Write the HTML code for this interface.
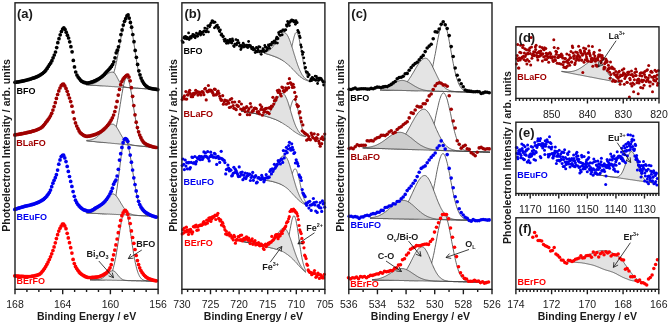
<!DOCTYPE html>
<html><head><meta charset="utf-8"><style>
html,body{margin:0;padding:0;background:#fff;}
svg{display:block;will-change:transform;}
</style></head><body>
<svg width="669" height="325" viewBox="0 0 669 325" font-family='"Liberation Sans", sans-serif'>
<rect width="669" height="325" fill="#fff"/>
<polyline points="86.0,84.8 86.5,84.8 86.9,84.9 87.4,84.9 87.8,84.9 88.3,85.0 88.7,85.0 89.2,85.0 89.6,85.0 90.1,85.1 90.5,85.1 91.0,85.1 91.4,85.2 91.9,85.2 92.3,85.2 92.8,85.3 93.2,85.3 93.7,85.3 94.2,85.3 94.6,85.4 95.1,85.4 95.5,85.4 96.0,85.5 96.4,85.5 96.9,85.5 97.3,85.5 97.8,85.6 98.2,85.6 98.7,85.6 99.1,85.6 99.6,85.6 100.0,85.6 100.5,85.6 100.9,85.6 101.4,85.6 101.8,85.6 102.3,85.6 102.8,85.6 103.2,85.5 103.7,85.5 104.1,85.4 104.6,85.3 105.0,85.2 105.5,85.1 105.9,84.9 106.4,84.7 106.8,84.5 107.3,84.2 107.7,83.9 108.2,83.5 108.6,83.1 109.1,82.6 109.5,82.1 110.0,81.4 110.5,80.7 110.9,80.0 111.4,79.1 111.8,78.1 112.3,77.1 112.7,75.9 113.2,74.7 113.6,73.3 114.1,71.8 114.5,70.2 115.0,68.5 115.4,66.6 115.9,64.7 116.3,62.6 116.8,60.5 117.2,58.2 117.7,55.9 118.2,53.5 118.6,51.0 119.1,48.5 119.5,45.9 120.0,43.3 120.4,40.7 120.9,38.2 121.3,35.6 121.8,33.1 122.2,30.7 122.7,28.5 123.1,26.3 123.6,24.2 124.0,22.4 124.5,20.7 124.9,19.2 125.4,17.9 125.8,16.9 126.3,16.0 126.8,15.5 127.2,15.1 127.7,15.1 128.1,15.3 128.6,16.0 129.0,16.9 129.5,18.2 129.9,19.9 130.4,21.8 130.8,24.0 131.3,26.4 131.7,29.0 132.2,31.8 132.6,34.7 133.1,37.8 133.5,40.9 134.0,44.0 134.5,47.2 134.9,50.3 135.4,53.3 135.8,56.3 136.3,59.2 136.7,61.9 137.2,64.5 137.6,67.0 138.1,69.3 138.5,71.4 139.0,73.4 139.4,75.2 139.9,76.9 140.3,78.4 140.8,79.8 141.2,81.0 141.7,82.1 142.2,83.1 142.6,83.9 143.1,84.7 143.5,85.3 144.0,85.9 144.4,86.4 144.9,86.8 145.3,87.2 145.8,87.5 146.2,87.8 146.7,88.0 147.1,88.2 147.6,88.4 148.0,88.5 148.5,88.6 148.9,88.7 149.4,88.8 149.8,88.9 150.3,89.0 150.8,89.0 151.2,89.1 151.7,89.1 152.1,89.2 152.6,89.2 153.0,89.2 153.5,89.3 153.9,89.3 154.4,89.3 154.8,89.4 155.3,89.4 155.7,89.4 156.2,89.5 156.6,89.5 157.1,89.5 157.5,89.6 158.0,89.6" fill="none" stroke="#404040" stroke-width="0.8"/>
<polygon points="86.0,84.5 86.5,84.5 86.9,84.5 87.4,84.5 87.8,84.5 88.3,84.4 88.7,84.4 89.2,84.4 89.6,84.3 90.1,84.2 90.5,84.2 91.0,84.1 91.4,84.0 91.9,83.9 92.3,83.8 92.8,83.7 93.2,83.5 93.7,83.4 94.2,83.2 94.6,83.1 95.1,82.9 95.5,82.7 96.0,82.4 96.4,82.2 96.9,82.0 97.3,81.7 97.8,81.4 98.2,81.1 98.7,80.8 99.1,80.5 99.6,80.2 100.0,79.9 100.5,79.5 100.9,79.1 101.4,78.8 101.8,78.4 102.3,78.0 102.8,77.6 103.2,77.2 103.7,76.8 104.1,76.5 104.6,76.1 105.0,75.7 105.5,75.3 105.9,75.0 106.4,74.6 106.8,74.3 107.3,74.0 107.7,73.7 108.2,73.4 108.6,73.1 109.1,72.9 109.5,72.7 110.0,72.5 110.5,72.4 110.9,72.2 111.4,72.2 111.8,72.1 112.3,72.1 112.7,72.1 113.2,72.2 113.6,72.4 114.1,72.7 114.5,73.1 115.0,73.7 115.4,74.4 115.9,75.1 116.3,75.9 116.8,76.7 117.2,77.6 117.7,78.5 118.2,79.4 118.6,80.2 119.1,81.0 119.5,81.8 120.0,82.5 120.4,83.2 120.9,83.8 121.3,84.4 121.8,84.8 122.2,85.3 122.7,85.7 123.1,86.0 123.6,86.3 124.0,86.5 124.5,86.7 124.9,86.9 125.4,87.0 125.8,87.1 126.3,87.3 126.8,87.3 127.2,87.4 127.7,87.5 128.1,87.5 128.6,87.6 129.0,87.6 129.5,87.7 129.9,87.7 130.4,87.7 130.8,87.8 131.3,87.8 131.7,87.8 132.2,87.9 132.6,87.9 133.1,87.9 133.5,88.0 134.0,88.0 134.5,88.0 134.9,88.1 135.4,88.1 135.8,88.1 136.3,88.2 136.7,88.2 137.2,88.2 137.6,88.2 138.1,88.3 138.5,88.3 139.0,88.3 139.4,88.4 139.9,88.4 140.3,88.4 140.8,88.5 141.2,88.5 141.7,88.5 142.2,88.5 142.6,88.6 143.1,88.6 143.5,88.6 144.0,88.7 144.4,88.7 144.9,88.7 145.3,88.8 145.8,88.8 146.2,88.8 146.7,88.8 147.1,88.9 147.6,88.9 148.0,88.9 148.5,89.0 148.9,89.0 149.4,89.0 149.8,89.1 150.3,89.1 150.8,89.1 151.2,89.1 151.7,89.2 152.1,89.2 152.6,89.2 153.0,89.3 153.5,89.3 153.9,89.3 154.4,89.4 154.8,89.4 155.3,89.4 155.7,89.4 156.2,89.5 156.6,89.5 157.1,89.5 157.5,89.6 158.0,89.6 158.0,89.6 157.5,89.6 157.1,89.5 156.6,89.5 156.2,89.5 155.7,89.4 155.3,89.4 154.8,89.4 154.4,89.4 153.9,89.3 153.5,89.3 153.0,89.3 152.6,89.2 152.1,89.2 151.7,89.2 151.2,89.1 150.8,89.1 150.3,89.1 149.8,89.1 149.4,89.0 148.9,89.0 148.5,89.0 148.0,88.9 147.6,88.9 147.1,88.9 146.7,88.8 146.2,88.8 145.8,88.8 145.3,88.8 144.9,88.7 144.4,88.7 144.0,88.7 143.5,88.6 143.1,88.6 142.6,88.6 142.2,88.5 141.7,88.5 141.2,88.5 140.8,88.5 140.3,88.4 139.9,88.4 139.4,88.4 139.0,88.3 138.5,88.3 138.1,88.3 137.6,88.2 137.2,88.2 136.7,88.2 136.3,88.2 135.8,88.1 135.4,88.1 134.9,88.1 134.5,88.0 134.0,88.0 133.5,88.0 133.1,87.9 132.6,87.9 132.2,87.9 131.7,87.8 131.3,87.8 130.8,87.8 130.4,87.8 129.9,87.7 129.5,87.7 129.0,87.7 128.6,87.6 128.1,87.6 127.7,87.6 127.2,87.5 126.8,87.5 126.3,87.5 125.8,87.5 125.4,87.4 124.9,87.4 124.5,87.4 124.0,87.3 123.6,87.3 123.1,87.3 122.7,87.2 122.2,87.2 121.8,87.2 121.3,87.2 120.9,87.1 120.4,87.1 120.0,87.1 119.5,87.0 119.1,87.0 118.6,87.0 118.2,86.9 117.7,86.9 117.2,86.9 116.8,86.9 116.3,86.8 115.9,86.8 115.4,86.8 115.0,86.7 114.5,86.7 114.1,86.7 113.6,86.6 113.2,86.6 112.7,86.6 112.3,86.6 111.8,86.5 111.4,86.5 110.9,86.5 110.5,86.4 110.0,86.4 109.5,86.4 109.1,86.3 108.6,86.3 108.2,86.3 107.7,86.2 107.3,86.2 106.8,86.2 106.4,86.2 105.9,86.1 105.5,86.1 105.0,86.1 104.6,86.0 104.1,86.0 103.7,86.0 103.2,85.9 102.8,85.9 102.3,85.9 101.8,85.9 101.4,85.8 100.9,85.8 100.5,85.8 100.0,85.7 99.6,85.7 99.1,85.7 98.7,85.6 98.2,85.6 97.8,85.6 97.3,85.6 96.9,85.5 96.4,85.5 96.0,85.5 95.5,85.4 95.1,85.4 94.6,85.4 94.2,85.3 93.7,85.3 93.2,85.3 92.8,85.3 92.3,85.2 91.9,85.2 91.4,85.2 91.0,85.1 90.5,85.1 90.1,85.1 89.6,85.0 89.2,85.0 88.7,85.0 88.3,85.0 87.8,84.9 87.4,84.9 86.9,84.9 86.5,84.8 86.0,84.8" fill="#e2e2e2" stroke="none"/>
<polyline points="86.0,84.5 86.5,84.5 86.9,84.5 87.4,84.5 87.8,84.5 88.3,84.4 88.7,84.4 89.2,84.4 89.6,84.3 90.1,84.2 90.5,84.2 91.0,84.1 91.4,84.0 91.9,83.9 92.3,83.8 92.8,83.7 93.2,83.5 93.7,83.4 94.2,83.2 94.6,83.1 95.1,82.9 95.5,82.7 96.0,82.4 96.4,82.2 96.9,82.0 97.3,81.7 97.8,81.4 98.2,81.1 98.7,80.8 99.1,80.5 99.6,80.2 100.0,79.9 100.5,79.5 100.9,79.1 101.4,78.8 101.8,78.4 102.3,78.0 102.8,77.6 103.2,77.2 103.7,76.8 104.1,76.5 104.6,76.1 105.0,75.7 105.5,75.3 105.9,75.0 106.4,74.6 106.8,74.3 107.3,74.0 107.7,73.7 108.2,73.4 108.6,73.1 109.1,72.9 109.5,72.7 110.0,72.5 110.5,72.4 110.9,72.2 111.4,72.2 111.8,72.1 112.3,72.1 112.7,72.1 113.2,72.2 113.6,72.4 114.1,72.7 114.5,73.1 115.0,73.7 115.4,74.4 115.9,75.1 116.3,75.9 116.8,76.7 117.2,77.6 117.7,78.5 118.2,79.4 118.6,80.2 119.1,81.0 119.5,81.8 120.0,82.5 120.4,83.2 120.9,83.8 121.3,84.4 121.8,84.8 122.2,85.3 122.7,85.7 123.1,86.0 123.6,86.3 124.0,86.5 124.5,86.7 124.9,86.9 125.4,87.0 125.8,87.1 126.3,87.3 126.8,87.3 127.2,87.4 127.7,87.5 128.1,87.5 128.6,87.6 129.0,87.6 129.5,87.7 129.9,87.7 130.4,87.7 130.8,87.8 131.3,87.8 131.7,87.8 132.2,87.9 132.6,87.9 133.1,87.9 133.5,88.0 134.0,88.0 134.5,88.0 134.9,88.1 135.4,88.1 135.8,88.1 136.3,88.2 136.7,88.2 137.2,88.2 137.6,88.2 138.1,88.3 138.5,88.3 139.0,88.3 139.4,88.4 139.9,88.4 140.3,88.4 140.8,88.5 141.2,88.5 141.7,88.5 142.2,88.5 142.6,88.6 143.1,88.6 143.5,88.6 144.0,88.7 144.4,88.7 144.9,88.7 145.3,88.8 145.8,88.8 146.2,88.8 146.7,88.8 147.1,88.9 147.6,88.9 148.0,88.9 148.5,89.0 148.9,89.0 149.4,89.0 149.8,89.1 150.3,89.1 150.8,89.1 151.2,89.1 151.7,89.2 152.1,89.2 152.6,89.2 153.0,89.3 153.5,89.3 153.9,89.3 154.4,89.4 154.8,89.4 155.3,89.4 155.7,89.4 156.2,89.5 156.6,89.5 157.1,89.5 157.5,89.6 158.0,89.6" fill="none" stroke="#404040" stroke-width="0.8"/>
<polyline points="86.0,84.8 86.5,84.8 86.9,84.9 87.4,84.9 87.8,84.9 88.3,85.0 88.7,85.0 89.2,85.0 89.6,85.0 90.1,85.1 90.5,85.1 91.0,85.1 91.4,85.2 91.9,85.2 92.3,85.2 92.8,85.3 93.2,85.3 93.7,85.3 94.2,85.3 94.6,85.4 95.1,85.4 95.5,85.4 96.0,85.5 96.4,85.5 96.9,85.5 97.3,85.6 97.8,85.6 98.2,85.6 98.7,85.6 99.1,85.7 99.6,85.7 100.0,85.7 100.5,85.8 100.9,85.8 101.4,85.8 101.8,85.9 102.3,85.9 102.8,85.9 103.2,85.9 103.7,86.0 104.1,86.0 104.6,86.0 105.0,86.1 105.5,86.1 105.9,86.1 106.4,86.2 106.8,86.2 107.3,86.2 107.7,86.2 108.2,86.3 108.6,86.3 109.1,86.3 109.5,86.4 110.0,86.4 110.5,86.4 110.9,86.5 111.4,86.5 111.8,86.5 112.3,86.6 112.7,86.6 113.2,86.6 113.6,86.6 114.1,86.7 114.5,86.7 115.0,86.7 115.4,86.8 115.9,86.8 116.3,86.8 116.8,86.9 117.2,86.9 117.7,86.9 118.2,86.9 118.6,87.0 119.1,87.0 119.5,87.0 120.0,87.1 120.4,87.1 120.9,87.1 121.3,87.2 121.8,87.2 122.2,87.2 122.7,87.2 123.1,87.3 123.6,87.3 124.0,87.3 124.5,87.4 124.9,87.4 125.4,87.4 125.8,87.5 126.3,87.5 126.8,87.5 127.2,87.5 127.7,87.6 128.1,87.6 128.6,87.6 129.0,87.7 129.5,87.7 129.9,87.7 130.4,87.8 130.8,87.8 131.3,87.8 131.7,87.8 132.2,87.9 132.6,87.9 133.1,87.9 133.5,88.0 134.0,88.0 134.5,88.0 134.9,88.1 135.4,88.1 135.8,88.1 136.3,88.2 136.7,88.2 137.2,88.2 137.6,88.2 138.1,88.3 138.5,88.3 139.0,88.3 139.4,88.4 139.9,88.4 140.3,88.4 140.8,88.5 141.2,88.5 141.7,88.5 142.2,88.5 142.6,88.6 143.1,88.6 143.5,88.6 144.0,88.7 144.4,88.7 144.9,88.7 145.3,88.8 145.8,88.8 146.2,88.8 146.7,88.8 147.1,88.9 147.6,88.9 148.0,88.9 148.5,89.0 148.9,89.0 149.4,89.0 149.8,89.1 150.3,89.1 150.8,89.1 151.2,89.1 151.7,89.2 152.1,89.2 152.6,89.2 153.0,89.3 153.5,89.3 153.9,89.3 154.4,89.4 154.8,89.4 155.3,89.4 155.7,89.4 156.2,89.5 156.6,89.5 157.1,89.5 157.5,89.6 158.0,89.6" fill="none" stroke="#404040" stroke-width="0.8"/>
<polyline points="86.5,140.8 86.9,140.8 87.4,140.9 87.8,140.9 88.3,141.0 88.7,141.0 89.2,141.1 89.6,141.1 90.1,141.2 90.5,141.2 91.0,141.2 91.4,141.3 91.9,141.3 92.3,141.4 92.8,141.4 93.2,141.5 93.7,141.5 94.1,141.5 94.6,141.6 95.0,141.6 95.5,141.7 95.9,141.7 96.4,141.8 96.8,141.8 97.3,141.9 97.7,141.9 98.2,141.9 98.6,142.0 99.1,142.0 99.5,142.1 100.0,142.1 100.4,142.2 100.9,142.2 101.3,142.2 101.8,142.3 102.2,142.3 102.7,142.3 103.1,142.4 103.6,142.4 104.0,142.4 104.5,142.4 104.9,142.4 105.4,142.4 105.8,142.4 106.3,142.3 106.7,142.3 107.2,142.2 107.6,142.1 108.1,142.0 108.5,141.8 109.0,141.6 109.4,141.4 109.9,141.1 110.3,140.7 110.8,140.3 111.2,139.7 111.7,139.1 112.1,138.5 112.6,137.7 113.0,136.8 113.5,135.8 113.9,134.6 114.4,133.3 114.8,131.9 115.3,130.4 115.7,128.7 116.2,126.8 116.6,124.8 117.1,122.7 117.5,120.4 118.0,118.0 118.4,115.5 118.9,112.8 119.3,110.1 119.8,107.4 120.2,104.6 120.7,101.8 121.1,99.0 121.6,96.2 122.0,93.6 122.5,91.0 122.9,88.6 123.4,86.4 123.8,84.3 124.3,82.5 124.7,81.0 125.2,79.7 125.6,78.8 126.1,78.1 126.5,77.8 127.0,77.8 127.4,78.1 127.9,78.8 128.3,79.8 128.8,81.0 129.2,82.6 129.7,84.4 130.1,86.5 130.6,88.8 131.0,91.2 131.5,93.9 131.9,96.6 132.4,99.4 132.8,102.3 133.3,105.2 133.7,108.1 134.2,110.9 134.6,113.7 135.1,116.5 135.5,119.1 136.0,121.6 136.4,124.0 136.9,126.3 137.3,128.4 137.8,130.4 138.2,132.2 138.7,133.9 139.1,135.4 139.6,136.8 140.0,138.1 140.5,139.2 140.9,140.2 141.4,141.1 141.8,141.9 142.3,142.6 142.7,143.3 143.2,143.8 143.6,144.3 144.1,144.7 144.5,145.0 145.0,145.3 145.4,145.6 145.9,145.8 146.3,146.0 146.8,146.2 147.2,146.3 147.7,146.5 148.1,146.6 148.6,146.7 149.0,146.8 149.5,146.8 149.9,146.9 150.4,147.0 150.8,147.0 151.3,147.1 151.7,147.1 152.2,147.2 152.6,147.3 153.1,147.3 153.5,147.3 154.0,147.4 154.4,147.4 154.9,147.5 155.3,147.5 155.8,147.6 156.2,147.6 156.7,147.7 157.1,147.7 157.6,147.8 158.0,147.8" fill="none" stroke="#404040" stroke-width="0.8"/>
<polygon points="86.5,140.4 86.9,140.3 87.4,140.3 87.8,140.3 88.3,140.3 88.7,140.2 89.2,140.2 89.6,140.1 90.1,140.0 90.5,139.9 91.0,139.8 91.4,139.7 91.9,139.6 92.3,139.4 92.8,139.3 93.2,139.1 93.7,138.9 94.1,138.7 94.6,138.5 95.0,138.2 95.5,138.0 95.9,137.7 96.4,137.4 96.8,137.1 97.3,136.7 97.7,136.4 98.2,136.0 98.6,135.6 99.1,135.2 99.5,134.8 100.0,134.3 100.4,133.9 100.9,133.4 101.3,133.0 101.8,132.5 102.2,132.0 102.7,131.5 103.1,131.0 103.6,130.5 104.0,130.0 104.5,129.5 104.9,129.0 105.4,128.5 105.8,128.0 106.3,127.6 106.7,127.2 107.2,126.7 107.6,126.3 108.1,126.0 108.5,125.6 109.0,125.3 109.4,125.1 109.9,124.8 110.3,124.6 110.8,124.4 111.2,124.3 111.7,124.2 112.1,124.2 112.6,124.2 113.0,124.2 113.5,124.3 113.9,124.5 114.4,124.8 114.8,125.1 115.3,125.6 115.7,126.1 116.2,126.6 116.6,127.2 117.1,127.9 117.5,128.6 118.0,129.4 118.4,130.1 118.9,130.9 119.3,131.7 119.8,132.5 120.2,133.4 120.7,134.2 121.1,135.0 121.6,135.7 122.0,136.5 122.5,137.2 122.9,137.9 123.4,138.5 123.8,139.2 124.3,139.8 124.7,140.3 125.2,140.8 125.6,141.3 126.1,141.7 126.5,142.1 127.0,142.5 127.4,142.8 127.9,143.1 128.3,143.4 128.8,143.7 129.2,143.9 129.7,144.1 130.1,144.3 130.6,144.5 131.0,144.6 131.5,144.7 131.9,144.9 132.4,145.0 132.8,145.1 133.3,145.2 133.7,145.2 134.2,145.3 134.6,145.4 135.1,145.5 135.5,145.5 136.0,145.6 136.4,145.6 136.9,145.7 137.3,145.7 137.8,145.8 138.2,145.8 138.7,145.9 139.1,145.9 139.6,146.0 140.0,146.0 140.5,146.1 140.9,146.1 141.4,146.2 141.8,146.2 142.3,146.3 142.7,146.3 143.2,146.3 143.6,146.4 144.1,146.4 144.5,146.5 145.0,146.5 145.4,146.6 145.9,146.6 146.3,146.7 146.8,146.7 147.2,146.7 147.7,146.8 148.1,146.8 148.6,146.9 149.0,146.9 149.5,147.0 149.9,147.0 150.4,147.1 150.8,147.1 151.3,147.1 151.7,147.2 152.2,147.2 152.6,147.3 153.1,147.3 153.5,147.4 154.0,147.4 154.4,147.4 154.9,147.5 155.3,147.5 155.8,147.6 156.2,147.6 156.7,147.7 157.1,147.7 157.6,147.8 158.0,147.8 158.0,147.8 157.6,147.8 157.1,147.7 156.7,147.7 156.2,147.6 155.8,147.6 155.3,147.5 154.9,147.5 154.4,147.4 154.0,147.4 153.5,147.4 153.1,147.3 152.6,147.3 152.2,147.2 151.7,147.2 151.3,147.1 150.8,147.1 150.4,147.1 149.9,147.0 149.5,147.0 149.0,146.9 148.6,146.9 148.1,146.8 147.7,146.8 147.2,146.7 146.8,146.7 146.3,146.7 145.9,146.6 145.4,146.6 145.0,146.5 144.5,146.5 144.1,146.4 143.6,146.4 143.2,146.3 142.7,146.3 142.3,146.3 141.8,146.2 141.4,146.2 140.9,146.1 140.5,146.1 140.0,146.0 139.6,146.0 139.1,146.0 138.7,145.9 138.2,145.9 137.8,145.8 137.3,145.8 136.9,145.7 136.4,145.7 136.0,145.6 135.5,145.6 135.1,145.6 134.6,145.5 134.2,145.5 133.7,145.4 133.3,145.4 132.8,145.3 132.4,145.3 131.9,145.2 131.5,145.2 131.0,145.2 130.6,145.1 130.1,145.1 129.7,145.0 129.2,145.0 128.8,144.9 128.3,144.9 127.9,144.9 127.4,144.8 127.0,144.8 126.5,144.7 126.1,144.7 125.6,144.6 125.2,144.6 124.7,144.5 124.3,144.5 123.8,144.5 123.4,144.4 122.9,144.4 122.5,144.3 122.0,144.3 121.6,144.2 121.1,144.2 120.7,144.1 120.2,144.1 119.8,144.1 119.3,144.0 118.9,144.0 118.4,143.9 118.0,143.9 117.5,143.8 117.1,143.8 116.6,143.7 116.2,143.7 115.7,143.7 115.3,143.6 114.8,143.6 114.4,143.5 113.9,143.5 113.5,143.4 113.0,143.4 112.6,143.4 112.1,143.3 111.7,143.3 111.2,143.2 110.8,143.2 110.3,143.1 109.9,143.1 109.4,143.0 109.0,143.0 108.5,143.0 108.1,142.9 107.6,142.9 107.2,142.8 106.7,142.8 106.3,142.7 105.8,142.7 105.4,142.6 104.9,142.6 104.5,142.6 104.0,142.5 103.6,142.5 103.1,142.4 102.7,142.4 102.2,142.3 101.8,142.3 101.3,142.3 100.9,142.2 100.4,142.2 100.0,142.1 99.5,142.1 99.1,142.0 98.6,142.0 98.2,141.9 97.7,141.9 97.3,141.9 96.8,141.8 96.4,141.8 95.9,141.7 95.5,141.7 95.0,141.6 94.6,141.6 94.1,141.5 93.7,141.5 93.2,141.5 92.8,141.4 92.3,141.4 91.9,141.3 91.4,141.3 91.0,141.2 90.5,141.2 90.1,141.2 89.6,141.1 89.2,141.1 88.7,141.0 88.3,141.0 87.8,140.9 87.4,140.9 86.9,140.8 86.5,140.8" fill="#e2e2e2" stroke="none"/>
<polyline points="86.5,140.4 86.9,140.3 87.4,140.3 87.8,140.3 88.3,140.3 88.7,140.2 89.2,140.2 89.6,140.1 90.1,140.0 90.5,139.9 91.0,139.8 91.4,139.7 91.9,139.6 92.3,139.4 92.8,139.3 93.2,139.1 93.7,138.9 94.1,138.7 94.6,138.5 95.0,138.2 95.5,138.0 95.9,137.7 96.4,137.4 96.8,137.1 97.3,136.7 97.7,136.4 98.2,136.0 98.6,135.6 99.1,135.2 99.5,134.8 100.0,134.3 100.4,133.9 100.9,133.4 101.3,133.0 101.8,132.5 102.2,132.0 102.7,131.5 103.1,131.0 103.6,130.5 104.0,130.0 104.5,129.5 104.9,129.0 105.4,128.5 105.8,128.0 106.3,127.6 106.7,127.2 107.2,126.7 107.6,126.3 108.1,126.0 108.5,125.6 109.0,125.3 109.4,125.1 109.9,124.8 110.3,124.6 110.8,124.4 111.2,124.3 111.7,124.2 112.1,124.2 112.6,124.2 113.0,124.2 113.5,124.3 113.9,124.5 114.4,124.8 114.8,125.1 115.3,125.6 115.7,126.1 116.2,126.6 116.6,127.2 117.1,127.9 117.5,128.6 118.0,129.4 118.4,130.1 118.9,130.9 119.3,131.7 119.8,132.5 120.2,133.4 120.7,134.2 121.1,135.0 121.6,135.7 122.0,136.5 122.5,137.2 122.9,137.9 123.4,138.5 123.8,139.2 124.3,139.8 124.7,140.3 125.2,140.8 125.6,141.3 126.1,141.7 126.5,142.1 127.0,142.5 127.4,142.8 127.9,143.1 128.3,143.4 128.8,143.7 129.2,143.9 129.7,144.1 130.1,144.3 130.6,144.5 131.0,144.6 131.5,144.7 131.9,144.9 132.4,145.0 132.8,145.1 133.3,145.2 133.7,145.2 134.2,145.3 134.6,145.4 135.1,145.5 135.5,145.5 136.0,145.6 136.4,145.6 136.9,145.7 137.3,145.7 137.8,145.8 138.2,145.8 138.7,145.9 139.1,145.9 139.6,146.0 140.0,146.0 140.5,146.1 140.9,146.1 141.4,146.2 141.8,146.2 142.3,146.3 142.7,146.3 143.2,146.3 143.6,146.4 144.1,146.4 144.5,146.5 145.0,146.5 145.4,146.6 145.9,146.6 146.3,146.7 146.8,146.7 147.2,146.7 147.7,146.8 148.1,146.8 148.6,146.9 149.0,146.9 149.5,147.0 149.9,147.0 150.4,147.1 150.8,147.1 151.3,147.1 151.7,147.2 152.2,147.2 152.6,147.3 153.1,147.3 153.5,147.4 154.0,147.4 154.4,147.4 154.9,147.5 155.3,147.5 155.8,147.6 156.2,147.6 156.7,147.7 157.1,147.7 157.6,147.8 158.0,147.8" fill="none" stroke="#404040" stroke-width="0.8"/>
<polyline points="86.5,140.8 86.9,140.8 87.4,140.9 87.8,140.9 88.3,141.0 88.7,141.0 89.2,141.1 89.6,141.1 90.1,141.2 90.5,141.2 91.0,141.2 91.4,141.3 91.9,141.3 92.3,141.4 92.8,141.4 93.2,141.5 93.7,141.5 94.1,141.5 94.6,141.6 95.0,141.6 95.5,141.7 95.9,141.7 96.4,141.8 96.8,141.8 97.3,141.9 97.7,141.9 98.2,141.9 98.6,142.0 99.1,142.0 99.5,142.1 100.0,142.1 100.4,142.2 100.9,142.2 101.3,142.3 101.8,142.3 102.2,142.3 102.7,142.4 103.1,142.4 103.6,142.5 104.0,142.5 104.5,142.6 104.9,142.6 105.4,142.6 105.8,142.7 106.3,142.7 106.7,142.8 107.2,142.8 107.6,142.9 108.1,142.9 108.5,143.0 109.0,143.0 109.4,143.0 109.9,143.1 110.3,143.1 110.8,143.2 111.2,143.2 111.7,143.3 112.1,143.3 112.6,143.4 113.0,143.4 113.5,143.4 113.9,143.5 114.4,143.5 114.8,143.6 115.3,143.6 115.7,143.7 116.2,143.7 116.6,143.7 117.1,143.8 117.5,143.8 118.0,143.9 118.4,143.9 118.9,144.0 119.3,144.0 119.8,144.1 120.2,144.1 120.7,144.1 121.1,144.2 121.6,144.2 122.0,144.3 122.5,144.3 122.9,144.4 123.4,144.4 123.8,144.5 124.3,144.5 124.7,144.5 125.2,144.6 125.6,144.6 126.1,144.7 126.5,144.7 127.0,144.8 127.4,144.8 127.9,144.9 128.3,144.9 128.8,144.9 129.2,145.0 129.7,145.0 130.1,145.1 130.6,145.1 131.0,145.2 131.5,145.2 131.9,145.2 132.4,145.3 132.8,145.3 133.3,145.4 133.7,145.4 134.2,145.5 134.6,145.5 135.1,145.6 135.5,145.6 136.0,145.6 136.4,145.7 136.9,145.7 137.3,145.8 137.8,145.8 138.2,145.9 138.7,145.9 139.1,146.0 139.6,146.0 140.0,146.0 140.5,146.1 140.9,146.1 141.4,146.2 141.8,146.2 142.3,146.3 142.7,146.3 143.2,146.3 143.6,146.4 144.1,146.4 144.5,146.5 145.0,146.5 145.4,146.6 145.9,146.6 146.3,146.7 146.8,146.7 147.2,146.7 147.7,146.8 148.1,146.8 148.6,146.9 149.0,146.9 149.5,147.0 149.9,147.0 150.4,147.1 150.8,147.1 151.3,147.1 151.7,147.2 152.2,147.2 152.6,147.3 153.1,147.3 153.5,147.4 154.0,147.4 154.4,147.4 154.9,147.5 155.3,147.5 155.8,147.6 156.2,147.6 156.7,147.7 157.1,147.7 157.6,147.8 158.0,147.8" fill="none" stroke="#404040" stroke-width="0.8"/>
<polyline points="86.5,213.0 86.9,213.0 87.4,213.0 87.8,213.1 88.3,213.1 88.7,213.1 89.2,213.1 89.6,213.2 90.1,213.2 90.5,213.2 91.0,213.2 91.4,213.2 91.9,213.3 92.3,213.3 92.8,213.3 93.2,213.3 93.7,213.4 94.1,213.4 94.6,213.4 95.0,213.4 95.5,213.4 95.9,213.5 96.4,213.5 96.8,213.5 97.3,213.5 97.7,213.5 98.2,213.6 98.6,213.6 99.1,213.6 99.5,213.6 100.0,213.7 100.4,213.7 100.9,213.7 101.3,213.7 101.8,213.7 102.2,213.8 102.7,213.8 103.1,213.8 103.6,213.8 104.0,213.8 104.5,213.8 104.9,213.8 105.4,213.8 105.8,213.8 106.3,213.7 106.7,213.7 107.2,213.6 107.6,213.5 108.1,213.3 108.5,213.2 109.0,213.0 109.4,212.7 109.9,212.4 110.3,211.9 110.8,211.4 111.2,210.8 111.7,210.1 112.1,209.3 112.6,208.3 113.0,207.2 113.5,205.9 113.9,204.4 114.4,202.7 114.8,200.8 115.3,198.7 115.7,196.4 116.2,193.8 116.6,191.1 117.1,188.1 117.5,185.0 118.0,181.7 118.4,178.2 118.9,174.7 119.3,171.0 119.8,167.4 120.2,163.8 120.7,160.2 121.1,156.8 121.6,153.5 122.0,150.4 122.5,147.7 122.9,145.3 123.4,143.2 123.8,141.6 124.3,140.4 124.7,139.6 125.2,139.4 125.6,139.5 126.1,140.0 126.5,140.7 127.0,141.7 127.4,143.0 127.9,144.5 128.3,146.3 128.8,148.3 129.2,150.5 129.7,152.8 130.1,155.4 130.6,158.0 131.0,160.7 131.5,163.5 131.9,166.4 132.4,169.2 132.8,172.1 133.3,175.0 133.7,177.8 134.2,180.6 134.6,183.3 135.1,185.9 135.5,188.3 136.0,190.7 136.4,193.0 136.9,195.1 137.3,197.2 137.8,199.0 138.2,200.8 138.7,202.4 139.1,203.9 139.6,205.3 140.0,206.5 140.5,207.7 140.9,208.7 141.4,209.6 141.8,210.4 142.3,211.2 142.7,211.8 143.2,212.4 143.6,212.9 144.1,213.4 144.5,213.8 145.0,214.1 145.4,214.4 145.9,214.7 146.3,214.9 146.8,215.1 147.2,215.3 147.7,215.4 148.1,215.5 148.6,215.6 149.0,215.7 149.5,215.8 149.9,215.9 150.4,216.0 150.8,216.0 151.3,216.1 151.7,216.1 152.2,216.1 152.6,216.2 153.1,216.2 153.5,216.2 154.0,216.3 154.4,216.3 154.9,216.3 155.3,216.4 155.8,216.4 156.2,216.4 156.7,216.4 157.1,216.5 157.6,216.5 158.0,216.5" fill="none" stroke="#404040" stroke-width="0.8"/>
<polygon points="86.5,212.7 86.9,212.7 87.4,212.7 87.8,212.6 88.3,212.6 88.7,212.6 89.2,212.5 89.6,212.4 90.1,212.4 90.5,212.3 91.0,212.2 91.4,212.1 91.9,211.9 92.3,211.8 92.8,211.6 93.2,211.5 93.7,211.3 94.1,211.0 94.6,210.8 95.0,210.6 95.5,210.3 95.9,210.0 96.4,209.7 96.8,209.4 97.3,209.0 97.7,208.6 98.2,208.2 98.6,207.8 99.1,207.3 99.5,206.9 100.0,206.4 100.4,205.9 100.9,205.3 101.3,204.8 101.8,204.2 102.2,203.7 102.7,203.1 103.1,202.5 103.6,201.9 104.0,201.3 104.5,200.7 104.9,200.1 105.4,199.5 105.8,199.0 106.3,198.4 106.7,197.9 107.2,197.3 107.6,196.8 108.1,196.4 108.5,195.9 109.0,195.5 109.4,195.2 109.9,194.9 110.3,194.6 110.8,194.3 111.2,194.2 111.7,194.0 112.1,193.9 112.6,193.9 113.0,193.9 113.5,194.0 113.9,194.1 114.4,194.4 114.8,194.7 115.3,195.0 115.7,195.4 116.2,195.9 116.6,196.4 117.1,197.0 117.5,197.7 118.0,198.3 118.4,199.0 118.9,199.7 119.3,200.5 119.8,201.2 120.2,202.0 120.7,202.8 121.1,203.5 121.6,204.3 122.0,205.0 122.5,205.7 122.9,206.4 123.4,207.1 123.8,207.8 124.3,208.4 124.7,209.0 125.2,209.5 125.6,210.1 126.1,210.6 126.5,211.0 127.0,211.5 127.4,211.9 127.9,212.2 128.3,212.6 128.8,212.9 129.2,213.2 129.7,213.4 130.1,213.7 130.6,213.9 131.0,214.1 131.5,214.2 131.9,214.4 132.4,214.5 132.8,214.7 133.3,214.8 133.7,214.9 134.2,215.0 134.6,215.0 135.1,215.1 135.5,215.2 136.0,215.2 136.4,215.3 136.9,215.3 137.3,215.4 137.8,215.4 138.2,215.5 138.7,215.5 139.1,215.5 139.6,215.6 140.0,215.6 140.5,215.6 140.9,215.6 141.4,215.7 141.8,215.7 142.3,215.7 142.7,215.7 143.2,215.8 143.6,215.8 144.1,215.8 144.5,215.8 145.0,215.9 145.4,215.9 145.9,215.9 146.3,215.9 146.8,215.9 147.2,216.0 147.7,216.0 148.1,216.0 148.6,216.0 149.0,216.1 149.5,216.1 149.9,216.1 150.4,216.1 150.8,216.1 151.3,216.2 151.7,216.2 152.2,216.2 152.6,216.2 153.1,216.3 153.5,216.3 154.0,216.3 154.4,216.3 154.9,216.3 155.3,216.4 155.8,216.4 156.2,216.4 156.7,216.4 157.1,216.5 157.6,216.5 158.0,216.5 158.0,216.5 157.6,216.5 157.1,216.5 156.7,216.4 156.2,216.4 155.8,216.4 155.3,216.4 154.9,216.3 154.4,216.3 154.0,216.3 153.5,216.3 153.1,216.3 152.6,216.2 152.2,216.2 151.7,216.2 151.3,216.2 150.8,216.1 150.4,216.1 149.9,216.1 149.5,216.1 149.0,216.1 148.6,216.0 148.1,216.0 147.7,216.0 147.2,216.0 146.8,215.9 146.3,215.9 145.9,215.9 145.4,215.9 145.0,215.9 144.5,215.8 144.1,215.8 143.6,215.8 143.2,215.8 142.7,215.8 142.3,215.7 141.8,215.7 141.4,215.7 140.9,215.7 140.5,215.6 140.0,215.6 139.6,215.6 139.1,215.6 138.7,215.6 138.2,215.5 137.8,215.5 137.3,215.5 136.9,215.5 136.4,215.4 136.0,215.4 135.5,215.4 135.1,215.4 134.6,215.4 134.2,215.3 133.7,215.3 133.3,215.3 132.8,215.3 132.4,215.2 131.9,215.2 131.5,215.2 131.0,215.2 130.6,215.2 130.1,215.1 129.7,215.1 129.2,215.1 128.8,215.1 128.3,215.0 127.9,215.0 127.4,215.0 127.0,215.0 126.5,215.0 126.1,214.9 125.6,214.9 125.2,214.9 124.7,214.9 124.3,214.8 123.8,214.8 123.4,214.8 122.9,214.8 122.5,214.8 122.0,214.7 121.6,214.7 121.1,214.7 120.7,214.7 120.2,214.7 119.8,214.6 119.3,214.6 118.9,214.6 118.4,214.6 118.0,214.5 117.5,214.5 117.1,214.5 116.6,214.5 116.2,214.5 115.7,214.4 115.3,214.4 114.8,214.4 114.4,214.4 113.9,214.3 113.5,214.3 113.0,214.3 112.6,214.3 112.1,214.3 111.7,214.2 111.2,214.2 110.8,214.2 110.3,214.2 109.9,214.1 109.4,214.1 109.0,214.1 108.5,214.1 108.1,214.1 107.6,214.0 107.2,214.0 106.7,214.0 106.3,214.0 105.8,213.9 105.4,213.9 104.9,213.9 104.5,213.9 104.0,213.9 103.6,213.8 103.1,213.8 102.7,213.8 102.2,213.8 101.8,213.7 101.3,213.7 100.9,213.7 100.4,213.7 100.0,213.7 99.5,213.6 99.1,213.6 98.6,213.6 98.2,213.6 97.7,213.6 97.3,213.5 96.8,213.5 96.4,213.5 95.9,213.5 95.5,213.4 95.0,213.4 94.6,213.4 94.1,213.4 93.7,213.4 93.2,213.3 92.8,213.3 92.3,213.3 91.9,213.3 91.4,213.2 91.0,213.2 90.5,213.2 90.1,213.2 89.6,213.2 89.2,213.1 88.7,213.1 88.3,213.1 87.8,213.1 87.4,213.0 86.9,213.0 86.5,213.0" fill="#e2e2e2" stroke="none"/>
<polyline points="86.5,212.7 86.9,212.7 87.4,212.7 87.8,212.6 88.3,212.6 88.7,212.6 89.2,212.5 89.6,212.4 90.1,212.4 90.5,212.3 91.0,212.2 91.4,212.1 91.9,211.9 92.3,211.8 92.8,211.6 93.2,211.5 93.7,211.3 94.1,211.0 94.6,210.8 95.0,210.6 95.5,210.3 95.9,210.0 96.4,209.7 96.8,209.4 97.3,209.0 97.7,208.6 98.2,208.2 98.6,207.8 99.1,207.3 99.5,206.9 100.0,206.4 100.4,205.9 100.9,205.3 101.3,204.8 101.8,204.2 102.2,203.7 102.7,203.1 103.1,202.5 103.6,201.9 104.0,201.3 104.5,200.7 104.9,200.1 105.4,199.5 105.8,199.0 106.3,198.4 106.7,197.9 107.2,197.3 107.6,196.8 108.1,196.4 108.5,195.9 109.0,195.5 109.4,195.2 109.9,194.9 110.3,194.6 110.8,194.3 111.2,194.2 111.7,194.0 112.1,193.9 112.6,193.9 113.0,193.9 113.5,194.0 113.9,194.1 114.4,194.4 114.8,194.7 115.3,195.0 115.7,195.4 116.2,195.9 116.6,196.4 117.1,197.0 117.5,197.7 118.0,198.3 118.4,199.0 118.9,199.7 119.3,200.5 119.8,201.2 120.2,202.0 120.7,202.8 121.1,203.5 121.6,204.3 122.0,205.0 122.5,205.7 122.9,206.4 123.4,207.1 123.8,207.8 124.3,208.4 124.7,209.0 125.2,209.5 125.6,210.1 126.1,210.6 126.5,211.0 127.0,211.5 127.4,211.9 127.9,212.2 128.3,212.6 128.8,212.9 129.2,213.2 129.7,213.4 130.1,213.7 130.6,213.9 131.0,214.1 131.5,214.2 131.9,214.4 132.4,214.5 132.8,214.7 133.3,214.8 133.7,214.9 134.2,215.0 134.6,215.0 135.1,215.1 135.5,215.2 136.0,215.2 136.4,215.3 136.9,215.3 137.3,215.4 137.8,215.4 138.2,215.5 138.7,215.5 139.1,215.5 139.6,215.6 140.0,215.6 140.5,215.6 140.9,215.6 141.4,215.7 141.8,215.7 142.3,215.7 142.7,215.7 143.2,215.8 143.6,215.8 144.1,215.8 144.5,215.8 145.0,215.9 145.4,215.9 145.9,215.9 146.3,215.9 146.8,215.9 147.2,216.0 147.7,216.0 148.1,216.0 148.6,216.0 149.0,216.1 149.5,216.1 149.9,216.1 150.4,216.1 150.8,216.1 151.3,216.2 151.7,216.2 152.2,216.2 152.6,216.2 153.1,216.3 153.5,216.3 154.0,216.3 154.4,216.3 154.9,216.3 155.3,216.4 155.8,216.4 156.2,216.4 156.7,216.4 157.1,216.5 157.6,216.5 158.0,216.5" fill="none" stroke="#404040" stroke-width="0.8"/>
<polyline points="86.5,213.0 86.9,213.0 87.4,213.0 87.8,213.1 88.3,213.1 88.7,213.1 89.2,213.1 89.6,213.2 90.1,213.2 90.5,213.2 91.0,213.2 91.4,213.2 91.9,213.3 92.3,213.3 92.8,213.3 93.2,213.3 93.7,213.4 94.1,213.4 94.6,213.4 95.0,213.4 95.5,213.4 95.9,213.5 96.4,213.5 96.8,213.5 97.3,213.5 97.7,213.6 98.2,213.6 98.6,213.6 99.1,213.6 99.5,213.6 100.0,213.7 100.4,213.7 100.9,213.7 101.3,213.7 101.8,213.7 102.2,213.8 102.7,213.8 103.1,213.8 103.6,213.8 104.0,213.9 104.5,213.9 104.9,213.9 105.4,213.9 105.8,213.9 106.3,214.0 106.7,214.0 107.2,214.0 107.6,214.0 108.1,214.1 108.5,214.1 109.0,214.1 109.4,214.1 109.9,214.1 110.3,214.2 110.8,214.2 111.2,214.2 111.7,214.2 112.1,214.3 112.6,214.3 113.0,214.3 113.5,214.3 113.9,214.3 114.4,214.4 114.8,214.4 115.3,214.4 115.7,214.4 116.2,214.5 116.6,214.5 117.1,214.5 117.5,214.5 118.0,214.5 118.4,214.6 118.9,214.6 119.3,214.6 119.8,214.6 120.2,214.7 120.7,214.7 121.1,214.7 121.6,214.7 122.0,214.7 122.5,214.8 122.9,214.8 123.4,214.8 123.8,214.8 124.3,214.8 124.7,214.9 125.2,214.9 125.6,214.9 126.1,214.9 126.5,215.0 127.0,215.0 127.4,215.0 127.9,215.0 128.3,215.0 128.8,215.1 129.2,215.1 129.7,215.1 130.1,215.1 130.6,215.2 131.0,215.2 131.5,215.2 131.9,215.2 132.4,215.2 132.8,215.3 133.3,215.3 133.7,215.3 134.2,215.3 134.6,215.4 135.1,215.4 135.5,215.4 136.0,215.4 136.4,215.4 136.9,215.5 137.3,215.5 137.8,215.5 138.2,215.5 138.7,215.6 139.1,215.6 139.6,215.6 140.0,215.6 140.5,215.6 140.9,215.7 141.4,215.7 141.8,215.7 142.3,215.7 142.7,215.8 143.2,215.8 143.6,215.8 144.1,215.8 144.5,215.8 145.0,215.9 145.4,215.9 145.9,215.9 146.3,215.9 146.8,215.9 147.2,216.0 147.7,216.0 148.1,216.0 148.6,216.0 149.0,216.1 149.5,216.1 149.9,216.1 150.4,216.1 150.8,216.1 151.3,216.2 151.7,216.2 152.2,216.2 152.6,216.2 153.1,216.3 153.5,216.3 154.0,216.3 154.4,216.3 154.9,216.3 155.3,216.4 155.8,216.4 156.2,216.4 156.7,216.4 157.1,216.5 157.6,216.5 158.0,216.5" fill="none" stroke="#404040" stroke-width="0.8"/>
<polyline points="90.0,279.8 90.4,279.8 90.9,279.8 91.3,279.8 91.7,279.8 92.1,279.8 92.6,279.9 93.0,279.9 93.4,279.9 93.8,279.9 94.3,279.9 94.7,279.9 95.1,279.9 95.6,279.9 96.0,279.9 96.4,279.9 96.8,279.9 97.3,279.9 97.7,280.0 98.1,280.0 98.6,280.0 99.0,280.0 99.4,280.0 99.8,280.0 100.3,280.0 100.7,280.0 101.1,280.0 101.5,280.0 102.0,280.0 102.4,279.9 102.8,279.9 103.3,279.9 103.7,279.9 104.1,279.8 104.5,279.8 105.0,279.7 105.4,279.6 105.8,279.5 106.3,279.3 106.7,279.2 107.1,279.0 107.5,278.7 108.0,278.4 108.4,278.1 108.8,277.7 109.2,277.2 109.7,276.7 110.1,276.1 110.5,275.4 111.0,274.6 111.4,273.7 111.8,272.7 112.2,271.5 112.7,270.3 113.1,268.9 113.5,267.4 113.9,265.7 114.4,263.9 114.8,261.9 115.2,259.8 115.7,257.5 116.1,255.2 116.5,252.7 116.9,250.1 117.4,247.4 117.8,244.6 118.2,241.8 118.7,238.9 119.1,236.0 119.5,233.2 119.9,230.4 120.4,227.7 120.8,225.0 121.2,222.5 121.6,220.2 122.1,218.1 122.5,216.2 122.9,214.5 123.4,213.1 123.8,212.0 124.2,211.2 124.6,210.7 125.1,210.5 125.5,210.7 125.9,211.2 126.4,212.0 126.8,213.1 127.2,214.5 127.6,216.2 128.1,218.1 128.5,220.3 128.9,222.7 129.3,225.2 129.8,227.9 130.2,230.7 130.6,233.6 131.1,236.5 131.5,239.5 131.9,242.4 132.3,245.3 132.8,248.1 133.2,250.8 133.6,253.5 134.1,256.0 134.5,258.4 134.9,260.7 135.3,262.8 135.8,264.8 136.2,266.6 136.6,268.3 137.0,269.8 137.5,271.2 137.9,272.5 138.3,273.6 138.8,274.6 139.2,275.5 139.6,276.3 140.0,277.0 140.5,277.6 140.9,278.1 141.3,278.6 141.7,279.0 142.2,279.3 142.6,279.6 143.0,279.8 143.5,280.0 143.9,280.2 144.3,280.3 144.7,280.5 145.2,280.6 145.6,280.6 146.0,280.7 146.5,280.8 146.9,280.8 147.3,280.9 147.7,280.9 148.2,280.9 148.6,281.0 149.0,281.0 149.4,281.0 149.9,281.0 150.3,281.0 150.7,281.0 151.2,281.0 151.6,281.1 152.0,281.1 152.4,281.1 152.9,281.1 153.3,281.1 153.7,281.1 154.2,281.1 154.6,281.1 155.0,281.1 155.4,281.1 155.9,281.2 156.3,281.2 156.7,281.2 157.1,281.2 157.6,281.2 158.0,281.2" fill="none" stroke="#404040" stroke-width="0.8"/>
<polygon points="90.0,279.8 90.4,279.8 90.9,279.8 91.3,279.8 91.7,279.8 92.1,279.8 92.6,279.8 93.0,279.8 93.4,279.8 93.8,279.8 94.3,279.8 94.7,279.8 95.1,279.8 95.6,279.8 96.0,279.7 96.4,279.7 96.8,279.7 97.3,279.6 97.7,279.6 98.1,279.5 98.6,279.4 99.0,279.3 99.4,279.2 99.8,279.1 100.3,279.0 100.7,278.8 101.1,278.6 101.5,278.5 102.0,278.2 102.4,278.0 102.8,277.7 103.3,277.5 103.7,277.2 104.1,276.8 104.5,276.5 105.0,276.1 105.4,275.8 105.8,275.4 106.3,275.0 106.7,274.6 107.1,274.2 107.5,273.8 108.0,273.4 108.4,273.0 108.8,272.7 109.2,272.3 109.7,272.0 110.1,271.7 110.5,271.4 111.0,271.2 111.4,271.0 111.8,270.9 112.2,270.8 112.7,270.8 113.1,270.8 113.5,270.9 113.9,271.0 114.4,271.3 114.8,271.6 115.2,272.0 115.7,272.4 116.1,272.9 116.5,273.4 116.9,273.9 117.4,274.4 117.8,275.0 118.2,275.5 118.7,276.0 119.1,276.5 119.5,277.0 119.9,277.5 120.4,277.9 120.8,278.3 121.2,278.6 121.6,278.9 122.1,279.2 122.5,279.4 122.9,279.6 123.4,279.8 123.8,279.9 124.2,280.0 124.6,280.1 125.1,280.2 125.5,280.3 125.9,280.4 126.4,280.4 126.8,280.5 127.2,280.5 127.6,280.5 128.1,280.5 128.5,280.6 128.9,280.6 129.3,280.6 129.8,280.6 130.2,280.6 130.6,280.6 131.1,280.6 131.5,280.7 131.9,280.7 132.3,280.7 132.8,280.7 133.2,280.7 133.6,280.7 134.1,280.7 134.5,280.7 134.9,280.7 135.3,280.7 135.8,280.7 136.2,280.8 136.6,280.8 137.0,280.8 137.5,280.8 137.9,280.8 138.3,280.8 138.8,280.8 139.2,280.8 139.6,280.8 140.0,280.8 140.5,280.8 140.9,280.8 141.3,280.9 141.7,280.9 142.2,280.9 142.6,280.9 143.0,280.9 143.5,280.9 143.9,280.9 144.3,280.9 144.7,280.9 145.2,280.9 145.6,280.9 146.0,281.0 146.5,281.0 146.9,281.0 147.3,281.0 147.7,281.0 148.2,281.0 148.6,281.0 149.0,281.0 149.4,281.0 149.9,281.0 150.3,281.0 150.7,281.1 151.2,281.1 151.6,281.1 152.0,281.1 152.4,281.1 152.9,281.1 153.3,281.1 153.7,281.1 154.2,281.1 154.6,281.1 155.0,281.1 155.4,281.1 155.9,281.2 156.3,281.2 156.7,281.2 157.1,281.2 157.6,281.2 158.0,281.2 158.0,281.2 157.6,281.2 157.1,281.2 156.7,281.2 156.3,281.2 155.9,281.2 155.4,281.1 155.0,281.1 154.6,281.1 154.2,281.1 153.7,281.1 153.3,281.1 152.9,281.1 152.4,281.1 152.0,281.1 151.6,281.1 151.2,281.1 150.7,281.1 150.3,281.0 149.9,281.0 149.4,281.0 149.0,281.0 148.6,281.0 148.2,281.0 147.7,281.0 147.3,281.0 146.9,281.0 146.5,281.0 146.0,281.0 145.6,280.9 145.2,280.9 144.7,280.9 144.3,280.9 143.9,280.9 143.5,280.9 143.0,280.9 142.6,280.9 142.2,280.9 141.7,280.9 141.3,280.9 140.9,280.8 140.5,280.8 140.0,280.8 139.6,280.8 139.2,280.8 138.8,280.8 138.3,280.8 137.9,280.8 137.5,280.8 137.0,280.8 136.6,280.8 136.2,280.8 135.8,280.7 135.3,280.7 134.9,280.7 134.5,280.7 134.1,280.7 133.6,280.7 133.2,280.7 132.8,280.7 132.3,280.7 131.9,280.7 131.5,280.7 131.1,280.6 130.6,280.6 130.2,280.6 129.8,280.6 129.3,280.6 128.9,280.6 128.5,280.6 128.1,280.6 127.6,280.6 127.2,280.6 126.8,280.6 126.4,280.5 125.9,280.5 125.5,280.5 125.1,280.5 124.6,280.5 124.2,280.5 123.8,280.5 123.4,280.5 122.9,280.5 122.5,280.5 122.1,280.5 121.6,280.5 121.2,280.4 120.8,280.4 120.4,280.4 119.9,280.4 119.5,280.4 119.1,280.4 118.7,280.4 118.2,280.4 117.8,280.4 117.4,280.4 116.9,280.4 116.5,280.3 116.1,280.3 115.7,280.3 115.2,280.3 114.8,280.3 114.4,280.3 113.9,280.3 113.5,280.3 113.1,280.3 112.7,280.3 112.2,280.3 111.8,280.2 111.4,280.2 111.0,280.2 110.5,280.2 110.1,280.2 109.7,280.2 109.2,280.2 108.8,280.2 108.4,280.2 108.0,280.2 107.5,280.2 107.1,280.2 106.7,280.1 106.3,280.1 105.8,280.1 105.4,280.1 105.0,280.1 104.5,280.1 104.1,280.1 103.7,280.1 103.3,280.1 102.8,280.1 102.4,280.1 102.0,280.0 101.5,280.0 101.1,280.0 100.7,280.0 100.3,280.0 99.8,280.0 99.4,280.0 99.0,280.0 98.6,280.0 98.1,280.0 97.7,280.0 97.3,279.9 96.8,279.9 96.4,279.9 96.0,279.9 95.6,279.9 95.1,279.9 94.7,279.9 94.3,279.9 93.8,279.9 93.4,279.9 93.0,279.9 92.6,279.9 92.1,279.8 91.7,279.8 91.3,279.8 90.9,279.8 90.4,279.8 90.0,279.8" fill="#e2e2e2" stroke="none"/>
<polyline points="90.0,279.8 90.4,279.8 90.9,279.8 91.3,279.8 91.7,279.8 92.1,279.8 92.6,279.8 93.0,279.8 93.4,279.8 93.8,279.8 94.3,279.8 94.7,279.8 95.1,279.8 95.6,279.8 96.0,279.7 96.4,279.7 96.8,279.7 97.3,279.6 97.7,279.6 98.1,279.5 98.6,279.4 99.0,279.3 99.4,279.2 99.8,279.1 100.3,279.0 100.7,278.8 101.1,278.6 101.5,278.5 102.0,278.2 102.4,278.0 102.8,277.7 103.3,277.5 103.7,277.2 104.1,276.8 104.5,276.5 105.0,276.1 105.4,275.8 105.8,275.4 106.3,275.0 106.7,274.6 107.1,274.2 107.5,273.8 108.0,273.4 108.4,273.0 108.8,272.7 109.2,272.3 109.7,272.0 110.1,271.7 110.5,271.4 111.0,271.2 111.4,271.0 111.8,270.9 112.2,270.8 112.7,270.8 113.1,270.8 113.5,270.9 113.9,271.0 114.4,271.3 114.8,271.6 115.2,272.0 115.7,272.4 116.1,272.9 116.5,273.4 116.9,273.9 117.4,274.4 117.8,275.0 118.2,275.5 118.7,276.0 119.1,276.5 119.5,277.0 119.9,277.5 120.4,277.9 120.8,278.3 121.2,278.6 121.6,278.9 122.1,279.2 122.5,279.4 122.9,279.6 123.4,279.8 123.8,279.9 124.2,280.0 124.6,280.1 125.1,280.2 125.5,280.3 125.9,280.4 126.4,280.4 126.8,280.5 127.2,280.5 127.6,280.5 128.1,280.5 128.5,280.6 128.9,280.6 129.3,280.6 129.8,280.6 130.2,280.6 130.6,280.6 131.1,280.6 131.5,280.7 131.9,280.7 132.3,280.7 132.8,280.7 133.2,280.7 133.6,280.7 134.1,280.7 134.5,280.7 134.9,280.7 135.3,280.7 135.8,280.7 136.2,280.8 136.6,280.8 137.0,280.8 137.5,280.8 137.9,280.8 138.3,280.8 138.8,280.8 139.2,280.8 139.6,280.8 140.0,280.8 140.5,280.8 140.9,280.8 141.3,280.9 141.7,280.9 142.2,280.9 142.6,280.9 143.0,280.9 143.5,280.9 143.9,280.9 144.3,280.9 144.7,280.9 145.2,280.9 145.6,280.9 146.0,281.0 146.5,281.0 146.9,281.0 147.3,281.0 147.7,281.0 148.2,281.0 148.6,281.0 149.0,281.0 149.4,281.0 149.9,281.0 150.3,281.0 150.7,281.1 151.2,281.1 151.6,281.1 152.0,281.1 152.4,281.1 152.9,281.1 153.3,281.1 153.7,281.1 154.2,281.1 154.6,281.1 155.0,281.1 155.4,281.1 155.9,281.2 156.3,281.2 156.7,281.2 157.1,281.2 157.6,281.2 158.0,281.2" fill="none" stroke="#404040" stroke-width="0.8"/>
<polyline points="90.0,279.8 90.4,279.8 90.9,279.8 91.3,279.8 91.7,279.8 92.1,279.8 92.6,279.9 93.0,279.9 93.4,279.9 93.8,279.9 94.3,279.9 94.7,279.9 95.1,279.9 95.6,279.9 96.0,279.9 96.4,279.9 96.8,279.9 97.3,279.9 97.7,280.0 98.1,280.0 98.6,280.0 99.0,280.0 99.4,280.0 99.8,280.0 100.3,280.0 100.7,280.0 101.1,280.0 101.5,280.0 102.0,280.0 102.4,280.1 102.8,280.1 103.3,280.1 103.7,280.1 104.1,280.1 104.5,280.1 105.0,280.1 105.4,280.1 105.8,280.1 106.3,280.1 106.7,280.1 107.1,280.2 107.5,280.2 108.0,280.2 108.4,280.2 108.8,280.2 109.2,280.2 109.7,280.2 110.1,280.2 110.5,280.2 111.0,280.2 111.4,280.2 111.8,280.2 112.2,280.3 112.7,280.3 113.1,280.3 113.5,280.3 113.9,280.3 114.4,280.3 114.8,280.3 115.2,280.3 115.7,280.3 116.1,280.3 116.5,280.3 116.9,280.4 117.4,280.4 117.8,280.4 118.2,280.4 118.7,280.4 119.1,280.4 119.5,280.4 119.9,280.4 120.4,280.4 120.8,280.4 121.2,280.4 121.6,280.5 122.1,280.5 122.5,280.5 122.9,280.5 123.4,280.5 123.8,280.5 124.2,280.5 124.6,280.5 125.1,280.5 125.5,280.5 125.9,280.5 126.4,280.5 126.8,280.6 127.2,280.6 127.6,280.6 128.1,280.6 128.5,280.6 128.9,280.6 129.3,280.6 129.8,280.6 130.2,280.6 130.6,280.6 131.1,280.6 131.5,280.7 131.9,280.7 132.3,280.7 132.8,280.7 133.2,280.7 133.6,280.7 134.1,280.7 134.5,280.7 134.9,280.7 135.3,280.7 135.8,280.7 136.2,280.8 136.6,280.8 137.0,280.8 137.5,280.8 137.9,280.8 138.3,280.8 138.8,280.8 139.2,280.8 139.6,280.8 140.0,280.8 140.5,280.8 140.9,280.8 141.3,280.9 141.7,280.9 142.2,280.9 142.6,280.9 143.0,280.9 143.5,280.9 143.9,280.9 144.3,280.9 144.7,280.9 145.2,280.9 145.6,280.9 146.0,281.0 146.5,281.0 146.9,281.0 147.3,281.0 147.7,281.0 148.2,281.0 148.6,281.0 149.0,281.0 149.4,281.0 149.9,281.0 150.3,281.0 150.7,281.1 151.2,281.1 151.6,281.1 152.0,281.1 152.4,281.1 152.9,281.1 153.3,281.1 153.7,281.1 154.2,281.1 154.6,281.1 155.0,281.1 155.4,281.1 155.9,281.2 156.3,281.2 156.7,281.2 157.1,281.2 157.6,281.2 158.0,281.2" fill="none" stroke="#404040" stroke-width="0.8"/>
<g fill="#000000"><circle cx="15.0" cy="82.3" r="1.85"/><circle cx="16.2" cy="82.2" r="1.85"/><circle cx="17.4" cy="82.0" r="1.85"/><circle cx="18.6" cy="81.8" r="1.85"/><circle cx="19.8" cy="81.6" r="1.85"/><circle cx="21.0" cy="81.4" r="1.85"/><circle cx="22.1" cy="81.2" r="1.85"/><circle cx="23.3" cy="80.9" r="1.85"/><circle cx="24.5" cy="80.6" r="1.85"/><circle cx="25.7" cy="80.3" r="1.85"/><circle cx="26.9" cy="80.0" r="1.85"/><circle cx="28.1" cy="79.7" r="1.85"/><circle cx="29.3" cy="79.3" r="1.85"/><circle cx="30.5" cy="79.0" r="1.85"/><circle cx="31.7" cy="78.6" r="1.85"/><circle cx="32.9" cy="78.2" r="1.85"/><circle cx="34.0" cy="77.9" r="1.85"/><circle cx="35.2" cy="77.4" r="1.85"/><circle cx="36.4" cy="76.9" r="1.85"/><circle cx="37.6" cy="76.4" r="1.85"/><circle cx="38.8" cy="75.8" r="1.85"/><circle cx="40.0" cy="75.1" r="1.85"/><circle cx="41.2" cy="74.3" r="1.85"/><circle cx="42.4" cy="73.5" r="1.85"/><circle cx="43.6" cy="72.5" r="1.85"/><circle cx="44.8" cy="71.4" r="1.85"/><circle cx="45.9" cy="70.1" r="1.85"/><circle cx="47.1" cy="68.4" r="1.85"/><circle cx="48.3" cy="66.5" r="1.85"/><circle cx="49.5" cy="64.6" r="1.85"/><circle cx="50.7" cy="62.9" r="1.85"/><circle cx="51.9" cy="60.7" r="1.85"/><circle cx="53.1" cy="57.8" r="1.85"/><circle cx="54.3" cy="55.0" r="1.85"/><circle cx="55.5" cy="52.0" r="1.85"/><circle cx="56.7" cy="47.6" r="1.85"/><circle cx="57.8" cy="42.7" r="1.85"/><circle cx="59.0" cy="38.7" r="1.85"/><circle cx="60.2" cy="34.8" r="1.85"/><circle cx="61.4" cy="31.5" r="1.85"/><circle cx="62.6" cy="29.0" r="1.85"/><circle cx="63.8" cy="27.8" r="1.85"/><circle cx="65.0" cy="29.3" r="1.85"/><circle cx="66.2" cy="32.2" r="1.85"/><circle cx="67.4" cy="35.2" r="1.85"/><circle cx="68.6" cy="38.0" r="1.85"/><circle cx="69.7" cy="41.8" r="1.85"/><circle cx="70.9" cy="46.7" r="1.85"/><circle cx="72.1" cy="51.8" r="1.85"/><circle cx="73.3" cy="60.4" r="1.85"/><circle cx="74.5" cy="66.9" r="1.85"/><circle cx="75.7" cy="72.0" r="1.85"/><circle cx="76.9" cy="75.0" r="1.85"/><circle cx="78.1" cy="77.0" r="1.85"/><circle cx="79.3" cy="78.6" r="1.85"/><circle cx="80.5" cy="80.1" r="1.85"/><circle cx="81.6" cy="81.2" r="1.85"/><circle cx="82.8" cy="81.8" r="1.85"/><circle cx="84.0" cy="82.4" r="1.85"/><circle cx="85.2" cy="82.7" r="1.85"/><circle cx="86.4" cy="83.0" r="1.85"/><circle cx="87.6" cy="83.0" r="1.85"/><circle cx="88.8" cy="82.8" r="1.85"/><circle cx="90.0" cy="82.5" r="1.85"/><circle cx="91.2" cy="82.2" r="1.85"/><circle cx="92.4" cy="81.8" r="1.85"/><circle cx="93.5" cy="81.4" r="1.85"/><circle cx="94.7" cy="80.9" r="1.85"/><circle cx="95.9" cy="80.4" r="1.85"/><circle cx="97.1" cy="79.7" r="1.85"/><circle cx="98.3" cy="79.0" r="1.85"/><circle cx="99.5" cy="78.3" r="1.85"/><circle cx="100.7" cy="77.5" r="1.85"/><circle cx="101.9" cy="76.6" r="1.85"/><circle cx="103.1" cy="75.6" r="1.85"/><circle cx="104.3" cy="74.4" r="1.85"/><circle cx="105.4" cy="73.1" r="1.85"/><circle cx="106.6" cy="71.8" r="1.85"/><circle cx="107.8" cy="70.6" r="1.85"/><circle cx="109.0" cy="69.3" r="1.85"/><circle cx="110.2" cy="67.9" r="1.85"/><circle cx="111.4" cy="66.4" r="1.85"/><circle cx="112.6" cy="64.5" r="1.85"/><circle cx="113.8" cy="61.8" r="1.85"/><circle cx="115.0" cy="57.8" r="1.85"/><circle cx="116.2" cy="52.8" r="1.85"/><circle cx="117.3" cy="50.2" r="1.85"/><circle cx="118.5" cy="46.8" r="1.85"/><circle cx="119.7" cy="40.9" r="1.85"/><circle cx="120.9" cy="34.6" r="1.85"/><circle cx="122.1" cy="29.9" r="1.85"/><circle cx="123.3" cy="25.1" r="1.85"/><circle cx="124.5" cy="21.3" r="1.85"/><circle cx="125.7" cy="18.7" r="1.85"/><circle cx="126.9" cy="15.9" r="1.85"/><circle cx="128.1" cy="14.9" r="1.85"/><circle cx="129.2" cy="18.1" r="1.85"/><circle cx="130.4" cy="22.4" r="1.85"/><circle cx="131.6" cy="27.2" r="1.85"/><circle cx="132.8" cy="34.5" r="1.85"/><circle cx="134.0" cy="41.7" r="1.85"/><circle cx="135.2" cy="50.4" r="1.85"/><circle cx="136.4" cy="57.3" r="1.85"/><circle cx="137.6" cy="64.4" r="1.85"/><circle cx="138.8" cy="70.8" r="1.85"/><circle cx="140.0" cy="74.8" r="1.85"/><circle cx="141.1" cy="78.1" r="1.85"/><circle cx="142.3" cy="80.8" r="1.85"/><circle cx="143.5" cy="82.8" r="1.85"/><circle cx="144.7" cy="84.5" r="1.85"/><circle cx="145.9" cy="85.8" r="1.85"/><circle cx="147.1" cy="86.7" r="1.85"/><circle cx="148.3" cy="87.5" r="1.85"/><circle cx="149.5" cy="88.1" r="1.85"/><circle cx="150.7" cy="88.4" r="1.85"/><circle cx="151.9" cy="88.6" r="1.85"/><circle cx="153.0" cy="88.8" r="1.85"/><circle cx="154.2" cy="89.0" r="1.85"/><circle cx="155.4" cy="89.2" r="1.85"/><circle cx="156.6" cy="89.4" r="1.85"/><circle cx="157.8" cy="89.6" r="1.85"/></g>
<g fill="#a00000"><circle cx="14.8" cy="134.9" r="1.85"/><circle cx="16.0" cy="134.7" r="1.85"/><circle cx="17.2" cy="134.5" r="1.85"/><circle cx="18.4" cy="134.3" r="1.85"/><circle cx="19.6" cy="134.1" r="1.85"/><circle cx="20.8" cy="133.9" r="1.85"/><circle cx="21.9" cy="133.7" r="1.85"/><circle cx="23.1" cy="133.5" r="1.85"/><circle cx="24.3" cy="133.2" r="1.85"/><circle cx="25.5" cy="133.0" r="1.85"/><circle cx="26.7" cy="132.7" r="1.85"/><circle cx="27.9" cy="132.4" r="1.85"/><circle cx="29.1" cy="132.2" r="1.85"/><circle cx="30.3" cy="131.9" r="1.85"/><circle cx="31.5" cy="131.6" r="1.85"/><circle cx="32.6" cy="131.2" r="1.85"/><circle cx="33.8" cy="130.9" r="1.85"/><circle cx="35.0" cy="130.5" r="1.85"/><circle cx="36.2" cy="130.1" r="1.85"/><circle cx="37.4" cy="129.6" r="1.85"/><circle cx="38.6" cy="129.1" r="1.85"/><circle cx="39.8" cy="128.5" r="1.85"/><circle cx="41.0" cy="127.8" r="1.85"/><circle cx="42.2" cy="126.9" r="1.85"/><circle cx="43.4" cy="125.7" r="1.85"/><circle cx="44.5" cy="124.3" r="1.85"/><circle cx="45.7" cy="122.7" r="1.85"/><circle cx="46.9" cy="121.2" r="1.85"/><circle cx="48.1" cy="119.6" r="1.85"/><circle cx="49.3" cy="117.8" r="1.85"/><circle cx="50.5" cy="115.8" r="1.85"/><circle cx="51.7" cy="113.3" r="1.85"/><circle cx="52.9" cy="110.1" r="1.85"/><circle cx="54.1" cy="106.6" r="1.85"/><circle cx="55.3" cy="102.7" r="1.85"/><circle cx="56.4" cy="98.4" r="1.85"/><circle cx="57.6" cy="94.5" r="1.85"/><circle cx="58.8" cy="90.9" r="1.85"/><circle cx="60.0" cy="88.0" r="1.85"/><circle cx="61.2" cy="85.7" r="1.85"/><circle cx="62.4" cy="84.4" r="1.85"/><circle cx="63.6" cy="84.1" r="1.85"/><circle cx="64.8" cy="85.9" r="1.85"/><circle cx="66.0" cy="88.4" r="1.85"/><circle cx="67.2" cy="91.3" r="1.85"/><circle cx="68.3" cy="94.7" r="1.85"/><circle cx="69.5" cy="98.0" r="1.85"/><circle cx="70.7" cy="101.6" r="1.85"/><circle cx="71.9" cy="106.2" r="1.85"/><circle cx="73.1" cy="112.1" r="1.85"/><circle cx="74.3" cy="118.8" r="1.85"/><circle cx="75.5" cy="122.9" r="1.85"/><circle cx="76.7" cy="126.0" r="1.85"/><circle cx="77.9" cy="128.6" r="1.85"/><circle cx="79.1" cy="130.9" r="1.85"/><circle cx="80.2" cy="132.7" r="1.85"/><circle cx="81.4" cy="133.7" r="1.85"/><circle cx="82.6" cy="134.6" r="1.85"/><circle cx="83.8" cy="135.4" r="1.85"/><circle cx="85.0" cy="135.9" r="1.85"/><circle cx="86.2" cy="136.3" r="1.85"/><circle cx="87.4" cy="136.3" r="1.85"/><circle cx="88.6" cy="136.2" r="1.85"/><circle cx="89.8" cy="136.0" r="1.85"/><circle cx="91.0" cy="135.7" r="1.85"/><circle cx="92.1" cy="135.4" r="1.85"/><circle cx="93.3" cy="135.1" r="1.85"/><circle cx="94.5" cy="134.7" r="1.85"/><circle cx="95.7" cy="134.3" r="1.85"/><circle cx="96.9" cy="133.8" r="1.85"/><circle cx="98.1" cy="133.2" r="1.85"/><circle cx="99.3" cy="132.6" r="1.85"/><circle cx="100.5" cy="131.9" r="1.85"/><circle cx="101.7" cy="131.1" r="1.85"/><circle cx="102.9" cy="130.2" r="1.85"/><circle cx="104.0" cy="129.2" r="1.85"/><circle cx="105.2" cy="128.0" r="1.85"/><circle cx="106.4" cy="126.8" r="1.85"/><circle cx="107.6" cy="125.4" r="1.85"/><circle cx="108.8" cy="123.9" r="1.85"/><circle cx="110.0" cy="122.1" r="1.85"/><circle cx="111.2" cy="120.1" r="1.85"/><circle cx="112.4" cy="117.8" r="1.85"/><circle cx="113.6" cy="115.0" r="1.85"/><circle cx="114.8" cy="111.5" r="1.85"/><circle cx="115.9" cy="107.1" r="1.85"/><circle cx="117.1" cy="101.4" r="1.85"/><circle cx="118.3" cy="95.1" r="1.85"/><circle cx="119.5" cy="89.4" r="1.85"/><circle cx="120.7" cy="84.7" r="1.85"/><circle cx="121.9" cy="81.4" r="1.85"/><circle cx="123.1" cy="79.2" r="1.85"/><circle cx="124.3" cy="77.6" r="1.85"/><circle cx="125.5" cy="76.3" r="1.85"/><circle cx="126.7" cy="75.3" r="1.85"/><circle cx="127.8" cy="75.1" r="1.85"/><circle cx="129.0" cy="77.1" r="1.85"/><circle cx="130.2" cy="80.8" r="1.85"/><circle cx="131.4" cy="87.7" r="1.85"/><circle cx="132.6" cy="96.3" r="1.85"/><circle cx="133.8" cy="105.6" r="1.85"/><circle cx="135.0" cy="114.8" r="1.85"/><circle cx="136.2" cy="122.2" r="1.85"/><circle cx="137.4" cy="127.6" r="1.85"/><circle cx="138.6" cy="131.8" r="1.85"/><circle cx="139.7" cy="135.0" r="1.85"/><circle cx="140.9" cy="137.7" r="1.85"/><circle cx="142.1" cy="140.0" r="1.85"/><circle cx="143.3" cy="141.8" r="1.85"/><circle cx="144.5" cy="143.0" r="1.85"/><circle cx="145.7" cy="143.8" r="1.85"/><circle cx="146.9" cy="144.6" r="1.85"/><circle cx="148.1" cy="145.2" r="1.85"/><circle cx="149.3" cy="145.7" r="1.85"/><circle cx="150.5" cy="146.1" r="1.85"/><circle cx="151.6" cy="146.4" r="1.85"/><circle cx="152.8" cy="146.8" r="1.85"/><circle cx="154.0" cy="147.1" r="1.85"/><circle cx="155.2" cy="147.3" r="1.85"/><circle cx="156.4" cy="147.5" r="1.85"/></g>
<g fill="#0000f0"><circle cx="14.8" cy="209.4" r="1.85"/><circle cx="16.0" cy="209.0" r="1.85"/><circle cx="17.2" cy="208.6" r="1.85"/><circle cx="18.4" cy="208.2" r="1.85"/><circle cx="19.6" cy="207.8" r="1.85"/><circle cx="20.8" cy="207.5" r="1.85"/><circle cx="21.9" cy="207.1" r="1.85"/><circle cx="23.1" cy="206.8" r="1.85"/><circle cx="24.3" cy="206.4" r="1.85"/><circle cx="25.5" cy="206.1" r="1.85"/><circle cx="26.7" cy="205.8" r="1.85"/><circle cx="27.9" cy="205.6" r="1.85"/><circle cx="29.1" cy="205.3" r="1.85"/><circle cx="30.3" cy="205.0" r="1.85"/><circle cx="31.5" cy="204.7" r="1.85"/><circle cx="32.6" cy="204.4" r="1.85"/><circle cx="33.8" cy="204.1" r="1.85"/><circle cx="35.0" cy="203.6" r="1.85"/><circle cx="36.2" cy="203.2" r="1.85"/><circle cx="37.4" cy="202.7" r="1.85"/><circle cx="38.6" cy="202.2" r="1.85"/><circle cx="39.8" cy="201.6" r="1.85"/><circle cx="41.0" cy="200.9" r="1.85"/><circle cx="42.2" cy="200.2" r="1.85"/><circle cx="43.4" cy="199.4" r="1.85"/><circle cx="44.5" cy="198.4" r="1.85"/><circle cx="45.7" cy="197.3" r="1.85"/><circle cx="46.9" cy="195.9" r="1.85"/><circle cx="48.1" cy="194.3" r="1.85"/><circle cx="49.3" cy="192.5" r="1.85"/><circle cx="50.5" cy="190.1" r="1.85"/><circle cx="51.7" cy="186.7" r="1.85"/><circle cx="52.9" cy="183.2" r="1.85"/><circle cx="54.1" cy="180.3" r="1.85"/><circle cx="55.3" cy="177.7" r="1.85"/><circle cx="56.4" cy="174.7" r="1.85"/><circle cx="57.6" cy="170.1" r="1.85"/><circle cx="58.8" cy="164.2" r="1.85"/><circle cx="60.0" cy="159.9" r="1.85"/><circle cx="61.2" cy="156.6" r="1.85"/><circle cx="62.4" cy="155.4" r="1.85"/><circle cx="63.6" cy="155.2" r="1.85"/><circle cx="64.8" cy="157.9" r="1.85"/><circle cx="66.0" cy="161.6" r="1.85"/><circle cx="67.2" cy="166.4" r="1.85"/><circle cx="68.3" cy="171.4" r="1.85"/><circle cx="69.5" cy="176.5" r="1.85"/><circle cx="70.7" cy="181.4" r="1.85"/><circle cx="71.9" cy="186.4" r="1.85"/><circle cx="73.1" cy="191.6" r="1.85"/><circle cx="74.3" cy="196.3" r="1.85"/><circle cx="75.5" cy="200.2" r="1.85"/><circle cx="76.7" cy="202.7" r="1.85"/><circle cx="77.9" cy="204.5" r="1.85"/><circle cx="79.1" cy="205.9" r="1.85"/><circle cx="80.2" cy="207.1" r="1.85"/><circle cx="81.4" cy="208.2" r="1.85"/><circle cx="82.6" cy="209.1" r="1.85"/><circle cx="83.8" cy="209.8" r="1.85"/><circle cx="85.0" cy="210.2" r="1.85"/><circle cx="86.2" cy="210.7" r="1.85"/><circle cx="87.4" cy="211.0" r="1.85"/><circle cx="88.6" cy="211.2" r="1.85"/><circle cx="89.8" cy="211.1" r="1.85"/><circle cx="91.0" cy="210.8" r="1.85"/><circle cx="92.1" cy="210.2" r="1.85"/><circle cx="93.3" cy="209.5" r="1.85"/><circle cx="94.5" cy="208.7" r="1.85"/><circle cx="95.7" cy="207.9" r="1.85"/><circle cx="96.9" cy="207.3" r="1.85"/><circle cx="98.1" cy="206.6" r="1.85"/><circle cx="99.3" cy="205.9" r="1.85"/><circle cx="100.5" cy="205.1" r="1.85"/><circle cx="101.7" cy="204.3" r="1.85"/><circle cx="102.9" cy="203.3" r="1.85"/><circle cx="104.0" cy="202.3" r="1.85"/><circle cx="105.2" cy="201.0" r="1.85"/><circle cx="106.4" cy="199.5" r="1.85"/><circle cx="107.6" cy="197.8" r="1.85"/><circle cx="108.8" cy="196.0" r="1.85"/><circle cx="110.0" cy="193.8" r="1.85"/><circle cx="111.2" cy="191.3" r="1.85"/><circle cx="112.4" cy="188.2" r="1.85"/><circle cx="113.6" cy="184.2" r="1.85"/><circle cx="114.8" cy="181.8" r="1.85"/><circle cx="115.9" cy="180.1" r="1.85"/><circle cx="117.1" cy="176.0" r="1.85"/><circle cx="118.3" cy="169.3" r="1.85"/><circle cx="119.5" cy="160.1" r="1.85"/><circle cx="120.7" cy="153.7" r="1.85"/><circle cx="121.9" cy="147.4" r="1.85"/><circle cx="123.1" cy="142.7" r="1.85"/><circle cx="124.3" cy="139.3" r="1.85"/><circle cx="125.5" cy="138.5" r="1.85"/><circle cx="126.7" cy="139.3" r="1.85"/><circle cx="127.8" cy="141.3" r="1.85"/><circle cx="129.0" cy="147.7" r="1.85"/><circle cx="130.2" cy="155.1" r="1.85"/><circle cx="131.4" cy="162.2" r="1.85"/><circle cx="132.6" cy="170.0" r="1.85"/><circle cx="133.8" cy="177.8" r="1.85"/><circle cx="135.0" cy="184.5" r="1.85"/><circle cx="136.2" cy="190.9" r="1.85"/><circle cx="137.4" cy="196.5" r="1.85"/><circle cx="138.6" cy="201.3" r="1.85"/><circle cx="139.7" cy="204.5" r="1.85"/><circle cx="140.9" cy="206.9" r="1.85"/><circle cx="142.1" cy="208.7" r="1.85"/><circle cx="143.3" cy="210.2" r="1.85"/><circle cx="144.5" cy="211.4" r="1.85"/><circle cx="145.7" cy="212.3" r="1.85"/><circle cx="146.9" cy="213.2" r="1.85"/><circle cx="148.1" cy="213.9" r="1.85"/><circle cx="149.3" cy="214.5" r="1.85"/><circle cx="150.5" cy="215.1" r="1.85"/><circle cx="151.6" cy="215.6" r="1.85"/><circle cx="152.8" cy="216.0" r="1.85"/><circle cx="154.0" cy="216.4" r="1.85"/><circle cx="155.2" cy="216.8" r="1.85"/><circle cx="156.4" cy="217.1" r="1.85"/></g>
<g fill="#ff0000"><circle cx="14.8" cy="275.8" r="1.85"/><circle cx="16.0" cy="276.0" r="1.85"/><circle cx="17.2" cy="276.1" r="1.85"/><circle cx="18.4" cy="276.2" r="1.85"/><circle cx="19.6" cy="276.3" r="1.85"/><circle cx="20.8" cy="276.4" r="1.85"/><circle cx="21.9" cy="276.4" r="1.85"/><circle cx="23.1" cy="276.4" r="1.85"/><circle cx="24.3" cy="276.5" r="1.85"/><circle cx="25.5" cy="276.5" r="1.85"/><circle cx="26.7" cy="276.5" r="1.85"/><circle cx="27.9" cy="276.5" r="1.85"/><circle cx="29.1" cy="276.5" r="1.85"/><circle cx="30.3" cy="276.5" r="1.85"/><circle cx="31.5" cy="276.4" r="1.85"/><circle cx="32.6" cy="276.2" r="1.85"/><circle cx="33.8" cy="276.0" r="1.85"/><circle cx="35.0" cy="275.7" r="1.85"/><circle cx="36.2" cy="275.4" r="1.85"/><circle cx="37.4" cy="275.1" r="1.85"/><circle cx="38.6" cy="274.7" r="1.85"/><circle cx="39.8" cy="274.1" r="1.85"/><circle cx="41.0" cy="273.0" r="1.85"/><circle cx="42.2" cy="271.6" r="1.85"/><circle cx="43.4" cy="270.1" r="1.85"/><circle cx="44.5" cy="268.5" r="1.85"/><circle cx="45.7" cy="266.5" r="1.85"/><circle cx="46.9" cy="264.3" r="1.85"/><circle cx="48.1" cy="262.0" r="1.85"/><circle cx="49.3" cy="259.5" r="1.85"/><circle cx="50.5" cy="256.8" r="1.85"/><circle cx="51.7" cy="253.8" r="1.85"/><circle cx="52.9" cy="250.5" r="1.85"/><circle cx="54.1" cy="246.9" r="1.85"/><circle cx="55.3" cy="242.8" r="1.85"/><circle cx="56.4" cy="238.6" r="1.85"/><circle cx="57.6" cy="234.7" r="1.85"/><circle cx="58.8" cy="231.1" r="1.85"/><circle cx="60.0" cy="228.3" r="1.85"/><circle cx="61.2" cy="226.1" r="1.85"/><circle cx="62.4" cy="224.0" r="1.85"/><circle cx="63.6" cy="224.1" r="1.85"/><circle cx="64.8" cy="225.9" r="1.85"/><circle cx="66.0" cy="228.7" r="1.85"/><circle cx="67.2" cy="233.3" r="1.85"/><circle cx="68.3" cy="237.9" r="1.85"/><circle cx="69.5" cy="242.7" r="1.85"/><circle cx="70.7" cy="247.7" r="1.85"/><circle cx="71.9" cy="253.1" r="1.85"/><circle cx="73.1" cy="259.4" r="1.85"/><circle cx="74.3" cy="263.5" r="1.85"/><circle cx="75.5" cy="266.4" r="1.85"/><circle cx="76.7" cy="268.6" r="1.85"/><circle cx="77.9" cy="270.3" r="1.85"/><circle cx="79.1" cy="271.9" r="1.85"/><circle cx="80.2" cy="273.2" r="1.85"/><circle cx="81.4" cy="274.2" r="1.85"/><circle cx="82.6" cy="275.0" r="1.85"/><circle cx="83.8" cy="275.7" r="1.85"/><circle cx="85.0" cy="276.4" r="1.85"/><circle cx="86.2" cy="276.9" r="1.85"/><circle cx="87.4" cy="277.3" r="1.85"/><circle cx="88.6" cy="277.5" r="1.85"/><circle cx="89.8" cy="277.5" r="1.85"/><circle cx="91.0" cy="277.5" r="1.85"/><circle cx="92.1" cy="277.4" r="1.85"/><circle cx="93.3" cy="277.4" r="1.85"/><circle cx="94.5" cy="277.3" r="1.85"/><circle cx="95.7" cy="277.2" r="1.85"/><circle cx="96.9" cy="277.1" r="1.85"/><circle cx="98.1" cy="276.8" r="1.85"/><circle cx="99.3" cy="276.5" r="1.85"/><circle cx="100.5" cy="276.0" r="1.85"/><circle cx="101.7" cy="275.6" r="1.85"/><circle cx="102.9" cy="275.1" r="1.85"/><circle cx="104.0" cy="274.4" r="1.85"/><circle cx="105.2" cy="273.7" r="1.85"/><circle cx="106.4" cy="272.8" r="1.85"/><circle cx="107.6" cy="271.7" r="1.85"/><circle cx="108.8" cy="270.0" r="1.85"/><circle cx="110.0" cy="267.8" r="1.85"/><circle cx="111.2" cy="264.7" r="1.85"/><circle cx="112.4" cy="259.7" r="1.85"/><circle cx="113.6" cy="254.8" r="1.85"/><circle cx="114.8" cy="250.1" r="1.85"/><circle cx="115.9" cy="244.9" r="1.85"/><circle cx="117.1" cy="239.0" r="1.85"/><circle cx="118.3" cy="232.7" r="1.85"/><circle cx="119.5" cy="226.1" r="1.85"/><circle cx="120.7" cy="220.4" r="1.85"/><circle cx="121.9" cy="215.7" r="1.85"/><circle cx="123.1" cy="212.9" r="1.85"/><circle cx="124.3" cy="210.8" r="1.85"/><circle cx="125.5" cy="210.4" r="1.85"/><circle cx="126.7" cy="211.8" r="1.85"/><circle cx="127.8" cy="214.3" r="1.85"/><circle cx="129.0" cy="218.0" r="1.85"/><circle cx="130.2" cy="223.5" r="1.85"/><circle cx="131.4" cy="230.9" r="1.85"/><circle cx="132.6" cy="237.5" r="1.85"/><circle cx="133.8" cy="243.3" r="1.85"/><circle cx="135.0" cy="249.5" r="1.85"/><circle cx="136.2" cy="255.5" r="1.85"/><circle cx="137.4" cy="260.6" r="1.85"/><circle cx="138.6" cy="264.6" r="1.85"/><circle cx="139.7" cy="267.8" r="1.85"/><circle cx="140.9" cy="270.5" r="1.85"/><circle cx="142.1" cy="272.5" r="1.85"/><circle cx="143.3" cy="274.1" r="1.85"/><circle cx="144.5" cy="275.5" r="1.85"/><circle cx="145.7" cy="276.7" r="1.85"/><circle cx="146.9" cy="277.6" r="1.85"/><circle cx="148.1" cy="278.3" r="1.85"/><circle cx="149.3" cy="278.8" r="1.85"/><circle cx="150.5" cy="279.3" r="1.85"/><circle cx="151.6" cy="279.7" r="1.85"/><circle cx="152.8" cy="280.1" r="1.85"/><circle cx="154.0" cy="280.4" r="1.85"/><circle cx="155.2" cy="280.6" r="1.85"/><circle cx="156.4" cy="280.8" r="1.85"/></g>
<polyline points="264.1,53.1 264.3,53.1 264.5,53.2 264.7,53.2 264.8,53.3 265.0,53.3 265.2,53.4 265.4,53.4 265.6,53.5 265.8,53.5 265.9,53.6 266.1,53.6 266.3,53.7 266.5,53.8 266.7,53.8 266.9,53.9 267.0,53.9 267.2,54.0 267.4,54.0 267.6,54.1 267.8,54.1 268.0,54.2 268.1,54.3 268.3,54.3 268.5,54.4 268.7,54.4 268.9,54.5 269.1,54.5 269.2,54.6 269.4,54.7 269.6,54.7 269.8,54.8 270.0,54.8 270.2,54.9 270.3,55.0 270.5,55.0 270.7,55.1 270.9,55.2 271.1,55.2 271.3,55.3 271.4,55.4 271.6,55.4 271.8,55.5 272.0,55.5 272.2,55.6 272.4,55.7 272.5,55.7 272.7,55.8 272.9,55.9 273.1,55.9 273.3,56.0 273.5,56.1 273.7,56.1 273.8,56.2 274.0,56.3 274.2,56.4 274.4,56.4 274.6,56.5 274.8,56.6 274.9,56.6 275.1,56.7 275.3,56.8 275.5,56.8 275.7,56.9 275.9,57.0 276.0,57.1 276.2,57.1 276.4,57.2 276.6,57.3 276.8,57.4 277.0,57.5 277.1,57.5 277.3,57.6 277.5,57.7 277.7,57.8 277.9,57.9 278.1,57.9 278.2,58.0 278.4,58.1 278.6,58.2 278.8,58.3 279.0,58.4 279.2,58.5 279.3,58.5 279.5,58.6 279.7,58.7 279.9,58.8 280.1,58.9 280.3,59.0 280.4,59.1 280.6,59.2 280.8,59.3 281.0,59.4 281.2,59.5 281.4,59.6 281.5,59.7 281.7,59.7 281.9,59.8 282.1,59.9 282.3,60.0 282.5,60.1 282.7,60.2 282.8,60.3 283.0,60.4 283.2,60.5 283.4,60.5 283.6,60.6 283.8,60.7 283.9,60.7 284.1,60.8 284.3,60.8 284.5,60.9 284.7,60.9 284.9,60.9 285.0,60.9 285.2,60.9 285.4,60.9 285.6,60.9 285.8,60.8 286.0,60.8 286.1,60.7 286.3,60.6 286.5,60.5 286.7,60.4 286.9,60.2 287.1,60.0 287.2,59.9 287.4,59.6 287.6,59.4 287.8,59.1 288.0,58.8 288.2,58.5 288.3,58.2 288.5,57.8 288.7,57.4 288.9,57.0 289.1,56.5 289.3,56.0 289.4,55.5 289.6,55.0 289.8,54.4 290.0,53.8 290.2,53.2 290.4,52.5 290.6,51.9 290.7,51.2 290.9,50.4 291.1,49.7 291.3,48.9 291.5,48.2 291.7,47.4 291.8,46.6 292.0,45.8 292.2,45.0 292.4,44.1 292.6,43.3 292.8,42.5 292.9,41.7 293.1,40.9 293.3,40.1 293.5,39.3 293.7,38.6 293.9,37.8 294.0,37.1 294.2,36.5 294.4,35.9 294.6,35.3 294.8,34.7 295.0,34.3 295.1,33.8 295.3,33.4 295.5,33.1 295.7,32.9 295.9,32.7 296.1,32.5 296.2,32.4 296.4,32.4 296.6,32.5 296.8,32.6 297.0,32.8 297.2,33.0 297.3,33.3 297.5,33.7 297.7,34.1 297.9,34.6 298.1,35.1 298.3,35.7 298.4,36.3 298.6,37.0 298.8,37.7 299.0,38.5 299.2,39.3 299.4,40.1 299.6,41.0 299.7,41.9 299.9,42.9 300.1,43.8 300.3,44.8 300.5,45.9 300.7,46.9 300.8,48.0 301.0,49.0 301.2,50.1 301.4,51.2 301.6,52.3 301.8,53.4 301.9,54.5 302.1,55.5 302.3,56.6 302.5,57.7 302.7,58.7 302.9,59.7 303.0,60.7 303.2,61.7 303.4,62.7 303.6,63.6 303.8,64.5 304.0,65.4 304.1,66.3 304.3,67.1 304.5,67.9 304.7,68.7 304.9,69.4 305.1,70.2 305.2,70.9 305.4,71.5 305.6,72.2 305.8,72.8 306.0,73.4 306.2,73.9 306.3,74.4 306.5,74.9 306.7,75.4 306.9,75.8 307.1,76.3 307.3,76.6 307.4,77.0 307.6,77.4 307.8,77.7 308.0,78.0" fill="none" stroke="#404040" stroke-width="0.8"/>
<polygon points="264.1,52.1 264.3,52.1 264.5,52.0 264.7,52.0 264.8,52.0 265.0,52.0 265.2,52.0 265.4,51.9 265.6,51.9 265.8,51.9 265.9,51.8 266.1,51.8 266.3,51.7 266.5,51.7 266.7,51.6 266.9,51.6 267.0,51.5 267.2,51.4 267.4,51.4 267.6,51.3 267.8,51.2 268.0,51.1 268.1,51.0 268.3,50.9 268.5,50.8 268.7,50.7 268.9,50.6 269.1,50.5 269.2,50.4 269.4,50.3 269.6,50.1 269.8,50.0 270.0,49.8 270.2,49.7 270.3,49.5 270.5,49.4 270.7,49.2 270.9,49.0 271.1,48.9 271.3,48.7 271.4,48.5 271.6,48.3 271.8,48.1 272.0,47.9 272.2,47.6 272.4,47.4 272.5,47.2 272.7,47.0 272.9,46.7 273.1,46.5 273.3,46.2 273.5,46.0 273.7,45.7 273.8,45.4 274.0,45.2 274.2,44.9 274.4,44.6 274.6,44.3 274.8,44.0 274.9,43.7 275.1,43.4 275.3,43.1 275.5,42.8 275.7,42.5 275.9,42.2 276.0,41.9 276.2,41.6 276.4,41.3 276.6,41.0 276.8,40.7 277.0,40.3 277.1,40.0 277.3,39.7 277.5,39.4 277.7,39.1 277.9,38.8 278.1,38.5 278.2,38.2 278.4,37.9 278.6,37.6 278.8,37.3 279.0,37.0 279.2,36.7 279.3,36.4 279.5,36.1 279.7,35.9 279.9,35.6 280.1,35.3 280.3,35.1 280.4,34.9 280.6,34.6 280.8,34.4 281.0,34.2 281.2,34.0 281.4,33.8 281.5,33.7 281.7,33.5 281.9,33.3 282.1,33.2 282.3,33.1 282.5,33.0 282.7,32.9 282.8,32.8 283.0,32.7 283.2,32.6 283.4,32.6 283.6,32.6 283.8,32.5 283.9,32.5 284.1,32.5 284.3,32.6 284.5,32.6 284.7,32.7 284.9,32.7 285.0,32.8 285.2,32.9 285.4,33.1 285.6,33.2 285.8,33.3 286.0,33.5 286.1,33.7 286.3,33.9 286.5,34.1 286.7,34.3 286.9,34.6 287.1,34.9 287.2,35.1 287.4,35.4 287.6,35.7 287.8,36.1 288.0,36.4 288.2,36.8 288.3,37.1 288.5,37.5 288.7,37.9 288.9,38.3 289.1,38.8 289.3,39.2 289.4,39.7 289.6,40.1 289.8,40.6 290.0,41.1 290.2,41.6 290.4,42.1 290.6,42.7 290.7,43.2 290.9,43.7 291.1,44.3 291.3,44.9 291.5,45.4 291.7,46.0 291.8,46.6 292.0,47.1 292.2,47.7 292.4,48.3 292.6,48.9 292.8,49.5 292.9,50.1 293.1,50.7 293.3,51.3 293.5,51.9 293.7,52.5 293.9,53.1 294.0,53.7 294.2,54.3 294.4,54.9 294.6,55.5 294.8,56.1 295.0,56.6 295.1,57.2 295.3,57.8 295.5,58.4 295.7,59.0 295.9,59.6 296.1,60.2 296.2,60.7 296.4,61.3 296.6,61.8 296.8,62.4 297.0,62.9 297.2,63.5 297.3,64.0 297.5,64.5 297.7,65.0 297.9,65.6 298.1,66.0 298.3,66.5 298.4,67.0 298.6,67.5 298.8,67.9 299.0,68.4 299.2,68.8 299.4,69.2 299.6,69.6 299.7,70.1 299.9,70.5 300.1,70.9 300.3,71.2 300.5,71.6 300.7,72.0 300.8,72.4 301.0,72.7 301.2,73.1 301.4,73.4 301.6,73.7 301.8,74.0 301.9,74.4 302.1,74.7 302.3,74.9 302.5,75.2 302.7,75.5 302.9,75.8 303.0,76.0 303.2,76.3 303.4,76.5 303.6,76.7 303.8,77.0 304.0,77.2 304.1,77.4 304.3,77.6 304.5,77.7 304.7,77.9 304.9,78.1 305.1,78.3 305.2,78.4 305.4,78.6 305.6,78.7 305.8,78.9 306.0,79.0 306.2,79.2 306.3,79.3 306.5,79.4 306.7,79.5 306.9,79.7 307.1,79.8 307.3,79.9 307.4,80.0 307.6,80.1 307.8,80.1 308.0,80.2 308.0,80.8 307.8,80.8 307.6,80.7 307.4,80.7 307.3,80.6 307.1,80.6 306.9,80.5 306.7,80.4 306.5,80.4 306.3,80.3 306.2,80.3 306.0,80.2 305.8,80.1 305.6,80.0 305.4,80.0 305.2,79.9 305.1,79.8 304.9,79.7 304.7,79.6 304.5,79.5 304.3,79.5 304.1,79.4 304.0,79.3 303.8,79.2 303.6,79.1 303.4,79.0 303.2,78.9 303.0,78.8 302.9,78.6 302.7,78.5 302.5,78.4 302.3,78.3 302.1,78.1 301.9,78.0 301.8,77.9 301.6,77.7 301.4,77.6 301.2,77.4 301.0,77.3 300.8,77.2 300.7,77.0 300.5,76.8 300.3,76.7 300.1,76.5 299.9,76.4 299.7,76.2 299.6,76.1 299.4,75.9 299.2,75.8 299.0,75.6 298.8,75.4 298.6,75.3 298.4,75.1 298.3,74.9 298.1,74.8 297.9,74.6 297.7,74.4 297.5,74.2 297.3,74.0 297.2,73.8 297.0,73.6 296.8,73.5 296.6,73.3 296.4,73.1 296.2,72.9 296.1,72.7 295.9,72.5 295.7,72.3 295.5,72.1 295.3,71.9 295.1,71.7 295.0,71.5 294.8,71.3 294.6,71.1 294.4,70.9 294.2,70.7 294.0,70.5 293.9,70.4 293.7,70.2 293.5,70.0 293.3,69.8 293.1,69.6 292.9,69.4 292.8,69.2 292.6,69.0 292.4,68.8 292.2,68.7 292.0,68.5 291.8,68.3 291.7,68.1 291.5,67.9 291.3,67.7 291.1,67.5 290.9,67.3 290.7,67.1 290.6,67.0 290.4,66.8 290.2,66.6 290.0,66.4 289.8,66.2 289.6,66.1 289.4,65.9 289.3,65.7 289.1,65.5 288.9,65.4 288.7,65.2 288.5,65.0 288.3,64.9 288.2,64.7 288.0,64.5 287.8,64.4 287.6,64.2 287.4,64.1 287.2,63.9 287.1,63.8 286.9,63.6 286.7,63.5 286.5,63.3 286.3,63.2 286.1,63.1 286.0,62.9 285.8,62.8 285.6,62.6 285.4,62.5 285.2,62.3 285.0,62.2 284.9,62.1 284.7,61.9 284.5,61.8 284.3,61.6 284.1,61.5 283.9,61.4 283.8,61.2 283.6,61.1 283.4,61.0 283.2,60.9 283.0,60.7 282.8,60.6 282.7,60.5 282.5,60.4 282.3,60.2 282.1,60.1 281.9,60.0 281.7,59.9 281.5,59.8 281.4,59.7 281.2,59.6 281.0,59.4 280.8,59.3 280.6,59.2 280.4,59.1 280.3,59.0 280.1,58.9 279.9,58.8 279.7,58.7 279.5,58.7 279.3,58.6 279.2,58.5 279.0,58.4 278.8,58.3 278.6,58.2 278.4,58.1 278.2,58.0 278.1,57.9 277.9,57.9 277.7,57.8 277.5,57.7 277.3,57.6 277.1,57.5 277.0,57.5 276.8,57.4 276.6,57.3 276.4,57.2 276.2,57.1 276.0,57.1 275.9,57.0 275.7,56.9 275.5,56.9 275.3,56.8 275.1,56.7 274.9,56.6 274.8,56.6 274.6,56.5 274.4,56.4 274.2,56.4 274.0,56.3 273.8,56.2 273.7,56.1 273.5,56.1 273.3,56.0 273.1,55.9 272.9,55.9 272.7,55.8 272.5,55.7 272.4,55.7 272.2,55.6 272.0,55.5 271.8,55.5 271.6,55.4 271.4,55.4 271.3,55.3 271.1,55.2 270.9,55.2 270.7,55.1 270.5,55.0 270.3,55.0 270.2,54.9 270.0,54.8 269.8,54.8 269.6,54.7 269.4,54.7 269.2,54.6 269.1,54.5 268.9,54.5 268.7,54.4 268.5,54.4 268.3,54.3 268.1,54.3 268.0,54.2 267.8,54.1 267.6,54.1 267.4,54.0 267.2,54.0 267.0,53.9 266.9,53.9 266.7,53.8 266.5,53.8 266.3,53.7 266.1,53.6 265.9,53.6 265.8,53.5 265.6,53.5 265.4,53.4 265.2,53.4 265.0,53.3 264.8,53.3 264.7,53.2 264.5,53.2 264.3,53.1 264.1,53.1" fill="#e2e2e2" stroke="none"/>
<polyline points="264.1,52.1 264.3,52.1 264.5,52.0 264.7,52.0 264.8,52.0 265.0,52.0 265.2,52.0 265.4,51.9 265.6,51.9 265.8,51.9 265.9,51.8 266.1,51.8 266.3,51.7 266.5,51.7 266.7,51.6 266.9,51.6 267.0,51.5 267.2,51.4 267.4,51.4 267.6,51.3 267.8,51.2 268.0,51.1 268.1,51.0 268.3,50.9 268.5,50.8 268.7,50.7 268.9,50.6 269.1,50.5 269.2,50.4 269.4,50.3 269.6,50.1 269.8,50.0 270.0,49.8 270.2,49.7 270.3,49.5 270.5,49.4 270.7,49.2 270.9,49.0 271.1,48.9 271.3,48.7 271.4,48.5 271.6,48.3 271.8,48.1 272.0,47.9 272.2,47.6 272.4,47.4 272.5,47.2 272.7,47.0 272.9,46.7 273.1,46.5 273.3,46.2 273.5,46.0 273.7,45.7 273.8,45.4 274.0,45.2 274.2,44.9 274.4,44.6 274.6,44.3 274.8,44.0 274.9,43.7 275.1,43.4 275.3,43.1 275.5,42.8 275.7,42.5 275.9,42.2 276.0,41.9 276.2,41.6 276.4,41.3 276.6,41.0 276.8,40.7 277.0,40.3 277.1,40.0 277.3,39.7 277.5,39.4 277.7,39.1 277.9,38.8 278.1,38.5 278.2,38.2 278.4,37.9 278.6,37.6 278.8,37.3 279.0,37.0 279.2,36.7 279.3,36.4 279.5,36.1 279.7,35.9 279.9,35.6 280.1,35.3 280.3,35.1 280.4,34.9 280.6,34.6 280.8,34.4 281.0,34.2 281.2,34.0 281.4,33.8 281.5,33.7 281.7,33.5 281.9,33.3 282.1,33.2 282.3,33.1 282.5,33.0 282.7,32.9 282.8,32.8 283.0,32.7 283.2,32.6 283.4,32.6 283.6,32.6 283.8,32.5 283.9,32.5 284.1,32.5 284.3,32.6 284.5,32.6 284.7,32.7 284.9,32.7 285.0,32.8 285.2,32.9 285.4,33.1 285.6,33.2 285.8,33.3 286.0,33.5 286.1,33.7 286.3,33.9 286.5,34.1 286.7,34.3 286.9,34.6 287.1,34.9 287.2,35.1 287.4,35.4 287.6,35.7 287.8,36.1 288.0,36.4 288.2,36.8 288.3,37.1 288.5,37.5 288.7,37.9 288.9,38.3 289.1,38.8 289.3,39.2 289.4,39.7 289.6,40.1 289.8,40.6 290.0,41.1 290.2,41.6 290.4,42.1 290.6,42.7 290.7,43.2 290.9,43.7 291.1,44.3 291.3,44.9 291.5,45.4 291.7,46.0 291.8,46.6 292.0,47.1 292.2,47.7 292.4,48.3 292.6,48.9 292.8,49.5 292.9,50.1 293.1,50.7 293.3,51.3 293.5,51.9 293.7,52.5 293.9,53.1 294.0,53.7 294.2,54.3 294.4,54.9 294.6,55.5 294.8,56.1 295.0,56.6 295.1,57.2 295.3,57.8 295.5,58.4 295.7,59.0 295.9,59.6 296.1,60.2 296.2,60.7 296.4,61.3 296.6,61.8 296.8,62.4 297.0,62.9 297.2,63.5 297.3,64.0 297.5,64.5 297.7,65.0 297.9,65.6 298.1,66.0 298.3,66.5 298.4,67.0 298.6,67.5 298.8,67.9 299.0,68.4 299.2,68.8 299.4,69.2 299.6,69.6 299.7,70.1 299.9,70.5 300.1,70.9 300.3,71.2 300.5,71.6 300.7,72.0 300.8,72.4 301.0,72.7 301.2,73.1 301.4,73.4 301.6,73.7 301.8,74.0 301.9,74.4 302.1,74.7 302.3,74.9 302.5,75.2 302.7,75.5 302.9,75.8 303.0,76.0 303.2,76.3 303.4,76.5 303.6,76.7 303.8,77.0 304.0,77.2 304.1,77.4 304.3,77.6 304.5,77.7 304.7,77.9 304.9,78.1 305.1,78.3 305.2,78.4 305.4,78.6 305.6,78.7 305.8,78.9 306.0,79.0 306.2,79.2 306.3,79.3 306.5,79.4 306.7,79.5 306.9,79.7 307.1,79.8 307.3,79.9 307.4,80.0 307.6,80.1 307.8,80.1 308.0,80.2" fill="none" stroke="#404040" stroke-width="0.8"/>
<polyline points="264.1,53.1 264.3,53.1 264.5,53.2 264.7,53.2 264.8,53.3 265.0,53.3 265.2,53.4 265.4,53.4 265.6,53.5 265.8,53.5 265.9,53.6 266.1,53.6 266.3,53.7 266.5,53.8 266.7,53.8 266.9,53.9 267.0,53.9 267.2,54.0 267.4,54.0 267.6,54.1 267.8,54.1 268.0,54.2 268.1,54.3 268.3,54.3 268.5,54.4 268.7,54.4 268.9,54.5 269.1,54.5 269.2,54.6 269.4,54.7 269.6,54.7 269.8,54.8 270.0,54.8 270.2,54.9 270.3,55.0 270.5,55.0 270.7,55.1 270.9,55.2 271.1,55.2 271.3,55.3 271.4,55.4 271.6,55.4 271.8,55.5 272.0,55.5 272.2,55.6 272.4,55.7 272.5,55.7 272.7,55.8 272.9,55.9 273.1,55.9 273.3,56.0 273.5,56.1 273.7,56.1 273.8,56.2 274.0,56.3 274.2,56.4 274.4,56.4 274.6,56.5 274.8,56.6 274.9,56.6 275.1,56.7 275.3,56.8 275.5,56.9 275.7,56.9 275.9,57.0 276.0,57.1 276.2,57.1 276.4,57.2 276.6,57.3 276.8,57.4 277.0,57.5 277.1,57.5 277.3,57.6 277.5,57.7 277.7,57.8 277.9,57.9 278.1,57.9 278.2,58.0 278.4,58.1 278.6,58.2 278.8,58.3 279.0,58.4 279.2,58.5 279.3,58.6 279.5,58.7 279.7,58.7 279.9,58.8 280.1,58.9 280.3,59.0 280.4,59.1 280.6,59.2 280.8,59.3 281.0,59.4 281.2,59.6 281.4,59.7 281.5,59.8 281.7,59.9 281.9,60.0 282.1,60.1 282.3,60.2 282.5,60.4 282.7,60.5 282.8,60.6 283.0,60.7 283.2,60.9 283.4,61.0 283.6,61.1 283.8,61.2 283.9,61.4 284.1,61.5 284.3,61.6 284.5,61.8 284.7,61.9 284.9,62.1 285.0,62.2 285.2,62.3 285.4,62.5 285.6,62.6 285.8,62.8 286.0,62.9 286.1,63.1 286.3,63.2 286.5,63.3 286.7,63.5 286.9,63.6 287.1,63.8 287.2,63.9 287.4,64.1 287.6,64.2 287.8,64.4 288.0,64.5 288.2,64.7 288.3,64.9 288.5,65.0 288.7,65.2 288.9,65.4 289.1,65.5 289.3,65.7 289.4,65.9 289.6,66.1 289.8,66.2 290.0,66.4 290.2,66.6 290.4,66.8 290.6,67.0 290.7,67.1 290.9,67.3 291.1,67.5 291.3,67.7 291.5,67.9 291.7,68.1 291.8,68.3 292.0,68.5 292.2,68.7 292.4,68.8 292.6,69.0 292.8,69.2 292.9,69.4 293.1,69.6 293.3,69.8 293.5,70.0 293.7,70.2 293.9,70.4 294.0,70.5 294.2,70.7 294.4,70.9 294.6,71.1 294.8,71.3 295.0,71.5 295.1,71.7 295.3,71.9 295.5,72.1 295.7,72.3 295.9,72.5 296.1,72.7 296.2,72.9 296.4,73.1 296.6,73.3 296.8,73.5 297.0,73.6 297.2,73.8 297.3,74.0 297.5,74.2 297.7,74.4 297.9,74.6 298.1,74.8 298.3,74.9 298.4,75.1 298.6,75.3 298.8,75.4 299.0,75.6 299.2,75.8 299.4,75.9 299.6,76.1 299.7,76.2 299.9,76.4 300.1,76.5 300.3,76.7 300.5,76.8 300.7,77.0 300.8,77.2 301.0,77.3 301.2,77.4 301.4,77.6 301.6,77.7 301.8,77.9 301.9,78.0 302.1,78.1 302.3,78.3 302.5,78.4 302.7,78.5 302.9,78.6 303.0,78.8 303.2,78.9 303.4,79.0 303.6,79.1 303.8,79.2 304.0,79.3 304.1,79.4 304.3,79.5 304.5,79.5 304.7,79.6 304.9,79.7 305.1,79.8 305.2,79.9 305.4,80.0 305.6,80.0 305.8,80.1 306.0,80.2 306.2,80.3 306.3,80.3 306.5,80.4 306.7,80.4 306.9,80.5 307.1,80.6 307.3,80.6 307.4,80.7 307.6,80.7 307.8,80.8 308.0,80.8" fill="none" stroke="#404040" stroke-width="0.8"/>
<polyline points="241.0,111.1 241.3,111.1 241.5,111.2 241.8,111.2 242.1,111.2 242.4,111.3 242.6,111.3 242.9,111.4 243.2,111.4 243.4,111.4 243.7,111.5 244.0,111.5 244.3,111.6 244.5,111.6 244.8,111.6 245.1,111.7 245.4,111.7 245.6,111.8 245.9,111.8 246.2,111.9 246.4,111.9 246.7,111.9 247.0,112.0 247.3,112.0 247.5,112.1 247.8,112.1 248.1,112.2 248.3,112.2 248.6,112.3 248.9,112.3 249.2,112.4 249.4,112.4 249.7,112.5 250.0,112.5 250.2,112.6 250.5,112.6 250.8,112.7 251.1,112.7 251.3,112.8 251.6,112.8 251.9,112.9 252.2,112.9 252.4,113.0 252.7,113.0 253.0,113.1 253.2,113.1 253.5,113.2 253.8,113.3 254.1,113.3 254.3,113.4 254.6,113.4 254.9,113.5 255.1,113.5 255.4,113.6 255.7,113.6 256.0,113.7 256.2,113.8 256.5,113.8 256.8,113.9 257.0,113.9 257.3,114.0 257.6,114.1 257.9,114.1 258.1,114.2 258.4,114.3 258.7,114.3 258.9,114.4 259.2,114.5 259.5,114.5 259.8,114.6 260.0,114.7 260.3,114.7 260.6,114.8 260.9,114.9 261.1,114.9 261.4,115.0 261.7,115.1 261.9,115.2 262.2,115.2 262.5,115.3 262.8,115.4 263.0,115.4 263.3,115.5 263.6,115.6 263.8,115.7 264.1,115.7 264.4,115.8 264.7,115.9 264.9,116.0 265.2,116.1 265.5,116.1 265.7,116.2 266.0,116.3 266.3,116.4 266.6,116.5 266.8,116.5 267.1,116.6 267.4,116.7 267.7,116.8 267.9,116.9 268.2,116.9 268.5,117.0 268.7,117.1 269.0,117.2 269.3,117.3 269.6,117.4 269.8,117.4 270.1,117.5 270.4,117.6 270.6,117.7 270.9,117.8 271.2,117.9 271.5,118.0 271.7,118.1 272.0,118.2 272.3,118.3 272.5,118.4 272.8,118.5 273.1,118.6 273.4,118.7 273.6,118.8 273.9,118.9 274.2,119.0 274.5,119.1 274.7,119.2 275.0,119.3 275.3,119.4 275.5,119.5 275.8,119.6 276.1,119.7 276.4,119.8 276.6,120.0 276.9,120.1 277.2,120.2 277.4,120.3 277.7,120.5 278.0,120.6 278.3,120.7 278.5,120.9 278.8,121.0 279.1,121.1 279.3,121.3 279.6,121.4 279.9,121.5 280.2,121.7 280.4,121.8 280.7,121.9 281.0,122.0 281.3,122.1 281.5,122.2 281.8,122.3 282.1,122.4 282.3,122.5 282.6,122.5 282.9,122.6 283.2,122.6 283.4,122.6 283.7,122.5 284.0,122.5 284.2,122.4 284.5,122.2 284.8,122.1 285.1,121.9 285.3,121.6 285.6,121.3 285.9,121.0 286.1,120.6 286.4,120.1 286.7,119.6 287.0,119.1 287.2,118.4 287.5,117.8 287.8,117.0 288.1,116.2 288.3,115.4 288.6,114.5 288.9,113.6 289.1,112.7 289.4,111.7 289.7,110.7 290.0,109.7 290.2,108.7 290.5,107.6 290.8,106.6 291.0,105.6 291.3,104.7 291.6,103.8 291.9,102.9 292.1,102.1 292.4,101.4 292.7,100.8 292.9,100.3 293.2,99.8 293.5,99.5 293.8,99.3 294.0,99.2 294.3,99.3 294.6,99.5 294.8,99.7 295.1,100.1 295.4,100.7 295.7,101.3 295.9,102.0 296.2,102.8 296.5,103.7 296.8,104.7 297.0,105.7 297.3,106.9 297.6,108.1 297.8,109.3 298.1,110.6 298.4,111.9 298.7,113.2 298.9,114.6 299.2,115.9 299.5,117.2 299.7,118.5 300.0,119.8 300.3,121.0 300.6,122.2 300.8,123.4 301.1,124.5 301.4,125.6 301.6,126.5 301.9,127.5 302.2,128.3 302.5,129.2 302.7,129.9 303.0,130.6 303.3,131.3 303.6,131.9 303.8,132.4 304.1,132.9 304.4,133.4 304.6,133.8 304.9,134.2 305.2,134.5 305.5,134.8 305.7,135.0 306.0,135.3" fill="none" stroke="#404040" stroke-width="0.8"/>
<polygon points="241.0,111.1 241.3,111.1 241.5,111.2 241.8,111.2 242.1,111.2 242.4,111.3 242.6,111.3 242.9,111.4 243.2,111.4 243.4,111.4 243.7,111.5 244.0,111.5 244.3,111.6 244.5,111.6 244.8,111.6 245.1,111.7 245.4,111.7 245.6,111.8 245.9,111.8 246.2,111.9 246.4,111.9 246.7,111.9 247.0,112.0 247.3,112.0 247.5,112.1 247.8,112.1 248.1,112.2 248.3,112.2 248.6,112.3 248.9,112.3 249.2,112.4 249.4,112.4 249.7,112.5 250.0,112.5 250.2,112.6 250.5,112.6 250.8,112.7 251.1,112.7 251.3,112.8 251.6,112.8 251.9,112.9 252.2,112.9 252.4,113.0 252.7,113.0 253.0,113.1 253.2,113.1 253.5,113.2 253.8,113.2 254.1,113.3 254.3,113.3 254.6,113.4 254.9,113.5 255.1,113.5 255.4,113.6 255.7,113.6 256.0,113.7 256.2,113.7 256.5,113.8 256.8,113.8 257.0,113.9 257.3,113.9 257.6,114.0 257.9,114.0 258.1,114.1 258.4,114.1 258.7,114.2 258.9,114.2 259.2,114.3 259.5,114.3 259.8,114.4 260.0,114.4 260.3,114.5 260.6,114.5 260.9,114.6 261.1,114.6 261.4,114.6 261.7,114.6 261.9,114.7 262.2,114.7 262.5,114.7 262.8,114.7 263.0,114.7 263.3,114.7 263.6,114.7 263.8,114.7 264.1,114.7 264.4,114.7 264.7,114.6 264.9,114.6 265.2,114.5 265.5,114.5 265.7,114.4 266.0,114.3 266.3,114.2 266.6,114.1 266.8,114.0 267.1,113.9 267.4,113.7 267.7,113.6 267.9,113.4 268.2,113.2 268.5,113.0 268.7,112.8 269.0,112.5 269.3,112.3 269.6,112.0 269.8,111.8 270.1,111.5 270.4,111.1 270.6,110.8 270.9,110.5 271.2,110.1 271.5,109.7 271.7,109.3 272.0,108.9 272.3,108.5 272.5,108.0 272.8,107.6 273.1,107.1 273.4,106.6 273.6,106.1 273.9,105.6 274.2,105.1 274.5,104.6 274.7,104.1 275.0,103.5 275.3,103.0 275.5,102.4 275.8,101.9 276.1,101.3 276.4,100.8 276.6,100.3 276.9,99.7 277.2,99.2 277.4,98.7 277.7,98.2 278.0,97.7 278.3,97.3 278.5,96.8 278.8,96.4 279.1,96.0 279.3,95.6 279.6,95.3 279.9,94.9 280.2,94.6 280.4,94.4 280.7,94.1 281.0,93.9 281.3,93.7 281.5,93.6 281.8,93.5 282.1,93.5 282.3,93.4 282.6,93.5 282.9,93.5 283.2,93.6 283.4,93.8 283.7,93.9 284.0,94.2 284.2,94.4 284.5,94.8 284.8,95.1 285.1,95.5 285.3,96.0 285.6,96.5 285.9,97.0 286.1,97.6 286.4,98.2 286.7,98.8 287.0,99.5 287.2,100.2 287.5,100.9 287.8,101.7 288.1,102.5 288.3,103.3 288.6,104.1 288.9,105.0 289.1,105.9 289.4,106.8 289.7,107.7 290.0,108.6 290.2,109.5 290.5,110.4 290.8,111.4 291.0,112.3 291.3,113.2 291.6,114.1 291.9,115.0 292.1,115.9 292.4,116.8 292.7,117.7 292.9,118.5 293.2,119.3 293.5,120.2 293.8,121.0 294.0,121.7 294.3,122.5 294.6,123.2 294.8,123.9 295.1,124.6 295.4,125.3 295.7,125.9 295.9,126.5 296.2,127.1 296.5,127.7 296.8,128.2 297.0,128.7 297.3,129.2 297.6,129.7 297.8,130.2 298.1,130.6 298.4,131.1 298.7,131.5 298.9,131.8 299.2,132.2 299.5,132.6 299.7,132.9 300.0,133.2 300.3,133.5 300.6,133.8 300.8,134.0 301.1,134.3 301.4,134.5 301.6,134.7 301.9,134.8 302.2,135.0 302.5,135.2 302.7,135.3 303.0,135.4 303.3,135.6 303.6,135.7 303.8,135.8 304.1,135.9 304.4,136.0 304.6,136.1 304.9,136.1 305.2,136.2 305.5,136.2 305.7,136.3 306.0,136.3 306.0,136.5 305.7,136.5 305.5,136.5 305.2,136.4 304.9,136.4 304.6,136.4 304.4,136.3 304.1,136.3 303.8,136.2 303.6,136.2 303.3,136.1 303.0,136.0 302.7,136.0 302.5,135.9 302.2,135.8 301.9,135.8 301.6,135.7 301.4,135.6 301.1,135.5 300.8,135.4 300.6,135.3 300.3,135.2 300.0,135.1 299.7,134.9 299.5,134.8 299.2,134.6 298.9,134.5 298.7,134.3 298.4,134.2 298.1,134.0 297.8,133.9 297.6,133.7 297.3,133.5 297.0,133.4 296.8,133.2 296.5,133.0 296.2,132.9 295.9,132.7 295.7,132.5 295.4,132.4 295.1,132.2 294.8,132.0 294.6,131.8 294.3,131.6 294.0,131.4 293.8,131.2 293.5,131.0 293.2,130.8 292.9,130.6 292.7,130.4 292.4,130.1 292.1,129.9 291.9,129.7 291.6,129.5 291.3,129.3 291.0,129.1 290.8,128.8 290.5,128.6 290.2,128.4 290.0,128.2 289.7,128.0 289.4,127.8 289.1,127.6 288.9,127.3 288.6,127.1 288.3,126.9 288.1,126.7 287.8,126.6 287.5,126.4 287.2,126.2 287.0,126.0 286.7,125.8 286.4,125.7 286.1,125.5 285.9,125.3 285.6,125.1 285.3,125.0 285.1,124.8 284.8,124.6 284.5,124.4 284.2,124.3 284.0,124.1 283.7,123.9 283.4,123.7 283.2,123.6 282.9,123.4 282.6,123.2 282.3,123.1 282.1,122.9 281.8,122.7 281.5,122.6 281.3,122.4 281.0,122.2 280.7,122.1 280.4,121.9 280.2,121.8 279.9,121.6 279.6,121.5 279.3,121.3 279.1,121.2 278.8,121.0 278.5,120.9 278.3,120.8 278.0,120.6 277.7,120.5 277.4,120.4 277.2,120.2 276.9,120.1 276.6,120.0 276.4,119.9 276.1,119.7 275.8,119.6 275.5,119.5 275.3,119.4 275.0,119.3 274.7,119.2 274.5,119.1 274.2,119.0 273.9,118.9 273.6,118.8 273.4,118.7 273.1,118.6 272.8,118.5 272.5,118.4 272.3,118.3 272.0,118.2 271.7,118.1 271.5,118.0 271.2,117.9 270.9,117.8 270.6,117.7 270.4,117.6 270.1,117.5 269.8,117.4 269.6,117.4 269.3,117.3 269.0,117.2 268.7,117.1 268.5,117.0 268.2,116.9 267.9,116.9 267.7,116.8 267.4,116.7 267.1,116.6 266.8,116.5 266.6,116.5 266.3,116.4 266.0,116.3 265.7,116.2 265.5,116.1 265.2,116.1 264.9,116.0 264.7,115.9 264.4,115.8 264.1,115.7 263.8,115.7 263.6,115.6 263.3,115.5 263.0,115.4 262.8,115.4 262.5,115.3 262.2,115.2 261.9,115.2 261.7,115.1 261.4,115.0 261.1,114.9 260.9,114.9 260.6,114.8 260.3,114.7 260.0,114.7 259.8,114.6 259.5,114.5 259.2,114.5 258.9,114.4 258.7,114.3 258.4,114.3 258.1,114.2 257.9,114.1 257.6,114.1 257.3,114.0 257.0,113.9 256.8,113.9 256.5,113.8 256.2,113.8 256.0,113.7 255.7,113.6 255.4,113.6 255.1,113.5 254.9,113.5 254.6,113.4 254.3,113.4 254.1,113.3 253.8,113.3 253.5,113.2 253.2,113.1 253.0,113.1 252.7,113.0 252.4,113.0 252.2,112.9 251.9,112.9 251.6,112.8 251.3,112.8 251.1,112.7 250.8,112.7 250.5,112.6 250.2,112.6 250.0,112.5 249.7,112.5 249.4,112.4 249.2,112.4 248.9,112.3 248.6,112.3 248.3,112.2 248.1,112.2 247.8,112.1 247.5,112.1 247.3,112.0 247.0,112.0 246.7,111.9 246.4,111.9 246.2,111.9 245.9,111.8 245.6,111.8 245.4,111.7 245.1,111.7 244.8,111.6 244.5,111.6 244.3,111.6 244.0,111.5 243.7,111.5 243.4,111.4 243.2,111.4 242.9,111.4 242.6,111.3 242.4,111.3 242.1,111.2 241.8,111.2 241.5,111.2 241.3,111.1 241.0,111.1" fill="#e2e2e2" stroke="none"/>
<polyline points="241.0,111.1 241.3,111.1 241.5,111.2 241.8,111.2 242.1,111.2 242.4,111.3 242.6,111.3 242.9,111.4 243.2,111.4 243.4,111.4 243.7,111.5 244.0,111.5 244.3,111.6 244.5,111.6 244.8,111.6 245.1,111.7 245.4,111.7 245.6,111.8 245.9,111.8 246.2,111.9 246.4,111.9 246.7,111.9 247.0,112.0 247.3,112.0 247.5,112.1 247.8,112.1 248.1,112.2 248.3,112.2 248.6,112.3 248.9,112.3 249.2,112.4 249.4,112.4 249.7,112.5 250.0,112.5 250.2,112.6 250.5,112.6 250.8,112.7 251.1,112.7 251.3,112.8 251.6,112.8 251.9,112.9 252.2,112.9 252.4,113.0 252.7,113.0 253.0,113.1 253.2,113.1 253.5,113.2 253.8,113.2 254.1,113.3 254.3,113.3 254.6,113.4 254.9,113.5 255.1,113.5 255.4,113.6 255.7,113.6 256.0,113.7 256.2,113.7 256.5,113.8 256.8,113.8 257.0,113.9 257.3,113.9 257.6,114.0 257.9,114.0 258.1,114.1 258.4,114.1 258.7,114.2 258.9,114.2 259.2,114.3 259.5,114.3 259.8,114.4 260.0,114.4 260.3,114.5 260.6,114.5 260.9,114.6 261.1,114.6 261.4,114.6 261.7,114.6 261.9,114.7 262.2,114.7 262.5,114.7 262.8,114.7 263.0,114.7 263.3,114.7 263.6,114.7 263.8,114.7 264.1,114.7 264.4,114.7 264.7,114.6 264.9,114.6 265.2,114.5 265.5,114.5 265.7,114.4 266.0,114.3 266.3,114.2 266.6,114.1 266.8,114.0 267.1,113.9 267.4,113.7 267.7,113.6 267.9,113.4 268.2,113.2 268.5,113.0 268.7,112.8 269.0,112.5 269.3,112.3 269.6,112.0 269.8,111.8 270.1,111.5 270.4,111.1 270.6,110.8 270.9,110.5 271.2,110.1 271.5,109.7 271.7,109.3 272.0,108.9 272.3,108.5 272.5,108.0 272.8,107.6 273.1,107.1 273.4,106.6 273.6,106.1 273.9,105.6 274.2,105.1 274.5,104.6 274.7,104.1 275.0,103.5 275.3,103.0 275.5,102.4 275.8,101.9 276.1,101.3 276.4,100.8 276.6,100.3 276.9,99.7 277.2,99.2 277.4,98.7 277.7,98.2 278.0,97.7 278.3,97.3 278.5,96.8 278.8,96.4 279.1,96.0 279.3,95.6 279.6,95.3 279.9,94.9 280.2,94.6 280.4,94.4 280.7,94.1 281.0,93.9 281.3,93.7 281.5,93.6 281.8,93.5 282.1,93.5 282.3,93.4 282.6,93.5 282.9,93.5 283.2,93.6 283.4,93.8 283.7,93.9 284.0,94.2 284.2,94.4 284.5,94.8 284.8,95.1 285.1,95.5 285.3,96.0 285.6,96.5 285.9,97.0 286.1,97.6 286.4,98.2 286.7,98.8 287.0,99.5 287.2,100.2 287.5,100.9 287.8,101.7 288.1,102.5 288.3,103.3 288.6,104.1 288.9,105.0 289.1,105.9 289.4,106.8 289.7,107.7 290.0,108.6 290.2,109.5 290.5,110.4 290.8,111.4 291.0,112.3 291.3,113.2 291.6,114.1 291.9,115.0 292.1,115.9 292.4,116.8 292.7,117.7 292.9,118.5 293.2,119.3 293.5,120.2 293.8,121.0 294.0,121.7 294.3,122.5 294.6,123.2 294.8,123.9 295.1,124.6 295.4,125.3 295.7,125.9 295.9,126.5 296.2,127.1 296.5,127.7 296.8,128.2 297.0,128.7 297.3,129.2 297.6,129.7 297.8,130.2 298.1,130.6 298.4,131.1 298.7,131.5 298.9,131.8 299.2,132.2 299.5,132.6 299.7,132.9 300.0,133.2 300.3,133.5 300.6,133.8 300.8,134.0 301.1,134.3 301.4,134.5 301.6,134.7 301.9,134.8 302.2,135.0 302.5,135.2 302.7,135.3 303.0,135.4 303.3,135.6 303.6,135.7 303.8,135.8 304.1,135.9 304.4,136.0 304.6,136.1 304.9,136.1 305.2,136.2 305.5,136.2 305.7,136.3 306.0,136.3" fill="none" stroke="#404040" stroke-width="0.8"/>
<polyline points="241.0,111.1 241.3,111.1 241.5,111.2 241.8,111.2 242.1,111.2 242.4,111.3 242.6,111.3 242.9,111.4 243.2,111.4 243.4,111.4 243.7,111.5 244.0,111.5 244.3,111.6 244.5,111.6 244.8,111.6 245.1,111.7 245.4,111.7 245.6,111.8 245.9,111.8 246.2,111.9 246.4,111.9 246.7,111.9 247.0,112.0 247.3,112.0 247.5,112.1 247.8,112.1 248.1,112.2 248.3,112.2 248.6,112.3 248.9,112.3 249.2,112.4 249.4,112.4 249.7,112.5 250.0,112.5 250.2,112.6 250.5,112.6 250.8,112.7 251.1,112.7 251.3,112.8 251.6,112.8 251.9,112.9 252.2,112.9 252.4,113.0 252.7,113.0 253.0,113.1 253.2,113.1 253.5,113.2 253.8,113.3 254.1,113.3 254.3,113.4 254.6,113.4 254.9,113.5 255.1,113.5 255.4,113.6 255.7,113.6 256.0,113.7 256.2,113.8 256.5,113.8 256.8,113.9 257.0,113.9 257.3,114.0 257.6,114.1 257.9,114.1 258.1,114.2 258.4,114.3 258.7,114.3 258.9,114.4 259.2,114.5 259.5,114.5 259.8,114.6 260.0,114.7 260.3,114.7 260.6,114.8 260.9,114.9 261.1,114.9 261.4,115.0 261.7,115.1 261.9,115.2 262.2,115.2 262.5,115.3 262.8,115.4 263.0,115.4 263.3,115.5 263.6,115.6 263.8,115.7 264.1,115.7 264.4,115.8 264.7,115.9 264.9,116.0 265.2,116.1 265.5,116.1 265.7,116.2 266.0,116.3 266.3,116.4 266.6,116.5 266.8,116.5 267.1,116.6 267.4,116.7 267.7,116.8 267.9,116.9 268.2,116.9 268.5,117.0 268.7,117.1 269.0,117.2 269.3,117.3 269.6,117.4 269.8,117.4 270.1,117.5 270.4,117.6 270.6,117.7 270.9,117.8 271.2,117.9 271.5,118.0 271.7,118.1 272.0,118.2 272.3,118.3 272.5,118.4 272.8,118.5 273.1,118.6 273.4,118.7 273.6,118.8 273.9,118.9 274.2,119.0 274.5,119.1 274.7,119.2 275.0,119.3 275.3,119.4 275.5,119.5 275.8,119.6 276.1,119.7 276.4,119.9 276.6,120.0 276.9,120.1 277.2,120.2 277.4,120.4 277.7,120.5 278.0,120.6 278.3,120.8 278.5,120.9 278.8,121.0 279.1,121.2 279.3,121.3 279.6,121.5 279.9,121.6 280.2,121.8 280.4,121.9 280.7,122.1 281.0,122.2 281.3,122.4 281.5,122.6 281.8,122.7 282.1,122.9 282.3,123.1 282.6,123.2 282.9,123.4 283.2,123.6 283.4,123.7 283.7,123.9 284.0,124.1 284.2,124.3 284.5,124.4 284.8,124.6 285.1,124.8 285.3,125.0 285.6,125.1 285.9,125.3 286.1,125.5 286.4,125.7 286.7,125.8 287.0,126.0 287.2,126.2 287.5,126.4 287.8,126.6 288.1,126.7 288.3,126.9 288.6,127.1 288.9,127.3 289.1,127.6 289.4,127.8 289.7,128.0 290.0,128.2 290.2,128.4 290.5,128.6 290.8,128.8 291.0,129.1 291.3,129.3 291.6,129.5 291.9,129.7 292.1,129.9 292.4,130.1 292.7,130.4 292.9,130.6 293.2,130.8 293.5,131.0 293.8,131.2 294.0,131.4 294.3,131.6 294.6,131.8 294.8,132.0 295.1,132.2 295.4,132.4 295.7,132.5 295.9,132.7 296.2,132.9 296.5,133.0 296.8,133.2 297.0,133.4 297.3,133.5 297.6,133.7 297.8,133.9 298.1,134.0 298.4,134.2 298.7,134.3 298.9,134.5 299.2,134.6 299.5,134.8 299.7,134.9 300.0,135.1 300.3,135.2 300.6,135.3 300.8,135.4 301.1,135.5 301.4,135.6 301.6,135.7 301.9,135.8 302.2,135.8 302.5,135.9 302.7,136.0 303.0,136.0 303.3,136.1 303.6,136.2 303.8,136.2 304.1,136.3 304.4,136.3 304.6,136.4 304.9,136.4 305.2,136.4 305.5,136.5 305.7,136.5 306.0,136.5" fill="none" stroke="#404040" stroke-width="0.8"/>
<polyline points="266.2,180.5 266.4,180.5 266.5,180.5 266.7,180.5 266.9,180.5 267.1,180.5 267.2,180.6 267.4,180.6 267.6,180.6 267.7,180.6 267.9,180.6 268.1,180.6 268.2,180.7 268.4,180.7 268.6,180.7 268.8,180.7 268.9,180.8 269.1,180.8 269.3,180.8 269.4,180.8 269.6,180.9 269.8,180.9 270.0,180.9 270.1,181.0 270.3,181.0 270.5,181.0 270.6,181.1 270.8,181.1 271.0,181.1 271.2,181.2 271.3,181.2 271.5,181.3 271.7,181.3 271.8,181.3 272.0,181.4 272.2,181.4 272.3,181.5 272.5,181.5 272.7,181.5 272.9,181.6 273.0,181.6 273.2,181.7 273.4,181.7 273.5,181.8 273.7,181.8 273.9,181.9 274.1,181.9 274.2,182.0 274.4,182.0 274.6,182.1 274.7,182.1 274.9,182.2 275.1,182.2 275.2,182.3 275.4,182.3 275.6,182.4 275.8,182.4 275.9,182.5 276.1,182.5 276.3,182.6 276.4,182.7 276.6,182.7 276.8,182.8 277.0,182.8 277.1,182.9 277.3,182.9 277.5,183.0 277.6,183.0 277.8,183.1 278.0,183.2 278.1,183.2 278.3,183.3 278.5,183.3 278.7,183.4 278.8,183.4 279.0,183.5 279.2,183.6 279.3,183.6 279.5,183.7 279.7,183.8 279.9,183.8 280.0,183.9 280.2,184.0 280.4,184.1 280.5,184.1 280.7,184.2 280.9,184.3 281.1,184.4 281.2,184.4 281.4,184.5 281.6,184.6 281.7,184.7 281.9,184.7 282.1,184.8 282.2,184.9 282.4,185.0 282.6,185.0 282.8,185.1 282.9,185.2 283.1,185.2 283.3,185.3 283.4,185.3 283.6,185.4 283.8,185.4 284.0,185.5 284.1,185.5 284.3,185.5 284.5,185.6 284.6,185.6 284.8,185.6 285.0,185.6 285.1,185.6 285.3,185.6 285.5,185.5 285.7,185.5 285.8,185.5 286.0,185.4 286.2,185.3 286.3,185.2 286.5,185.1 286.7,185.0 286.9,184.9 287.0,184.7 287.2,184.6 287.4,184.4 287.5,184.2 287.7,184.0 287.9,183.8 288.1,183.6 288.2,183.4 288.4,183.1 288.6,182.8 288.7,182.5 288.9,182.2 289.1,181.9 289.2,181.5 289.4,181.2 289.6,180.8 289.8,180.4 289.9,180.0 290.1,179.6 290.3,179.1 290.4,178.7 290.6,178.2 290.8,177.8 291.0,177.3 291.1,176.8 291.3,176.3 291.5,175.8 291.6,175.3 291.8,174.8 292.0,174.3 292.1,173.8 292.3,173.4 292.5,172.9 292.7,172.4 292.8,172.0 293.0,171.6 293.2,171.2 293.3,170.8 293.5,170.5 293.7,170.1 293.9,169.9 294.0,169.6 294.2,169.4 294.4,169.2 294.5,169.0 294.7,168.9 294.9,168.9 295.1,168.8 295.2,168.8 295.4,168.9 295.6,169.0 295.7,169.1 295.9,169.3 296.1,169.5 296.2,169.8 296.4,170.1 296.6,170.4 296.8,170.8 296.9,171.2 297.1,171.7 297.3,172.1 297.4,172.7 297.6,173.2 297.8,173.8 298.0,174.4 298.1,175.0 298.3,175.6 298.5,176.3 298.6,177.0 298.8,177.7 299.0,178.5 299.1,179.2 299.3,180.0 299.5,180.8 299.7,181.5 299.8,182.3 300.0,183.1 300.2,183.9 300.3,184.7 300.5,185.5 300.7,186.3 300.9,187.1 301.0,187.8 301.2,188.6 301.4,189.4 301.5,190.1 301.7,190.8 301.9,191.5 302.0,192.2 302.2,192.9 302.4,193.5 302.6,194.2 302.7,194.8 302.9,195.4 303.1,195.9 303.2,196.5 303.4,197.0 303.6,197.5 303.8,198.0 303.9,198.4 304.1,198.9 304.3,199.3 304.4,199.7 304.6,200.1 304.8,200.5 305.0,200.8 305.1,201.2 305.3,201.5 305.5,201.8 305.6,202.1 305.8,202.3 306.0,202.6 306.1,202.8 306.3,203.0 306.5,203.2 306.7,203.4 306.8,203.6 307.0,203.7" fill="none" stroke="#404040" stroke-width="0.8"/>
<polygon points="266.2,178.7 266.4,178.6 266.5,178.5 266.7,178.4 266.9,178.3 267.1,178.2 267.2,178.1 267.4,178.0 267.6,177.9 267.7,177.8 267.9,177.7 268.1,177.5 268.2,177.4 268.4,177.3 268.6,177.1 268.8,177.0 268.9,176.9 269.1,176.7 269.3,176.6 269.4,176.4 269.6,176.3 269.8,176.1 270.0,175.9 270.1,175.8 270.3,175.6 270.5,175.4 270.6,175.2 270.8,175.0 271.0,174.8 271.2,174.6 271.3,174.4 271.5,174.2 271.7,173.9 271.8,173.7 272.0,173.5 272.2,173.3 272.3,173.0 272.5,172.8 272.7,172.5 272.9,172.2 273.0,172.0 273.2,171.7 273.4,171.4 273.5,171.2 273.7,170.9 273.9,170.6 274.1,170.3 274.2,170.0 274.4,169.7 274.6,169.4 274.7,169.1 274.9,168.7 275.1,168.4 275.2,168.1 275.4,167.8 275.6,167.5 275.8,167.1 275.9,166.8 276.1,166.5 276.3,166.1 276.4,165.8 276.6,165.4 276.8,165.1 277.0,164.8 277.1,164.4 277.3,164.1 277.5,163.7 277.6,163.4 277.8,163.0 278.0,162.7 278.1,162.4 278.3,162.0 278.5,161.7 278.7,161.4 278.8,161.1 279.0,160.8 279.2,160.4 279.3,160.1 279.5,159.9 279.7,159.6 279.9,159.3 280.0,159.0 280.2,158.8 280.4,158.5 280.5,158.3 280.7,158.0 280.9,157.8 281.1,157.6 281.2,157.4 281.4,157.2 281.6,157.0 281.7,156.8 281.9,156.7 282.1,156.5 282.2,156.4 282.4,156.2 282.6,156.1 282.8,156.0 282.9,156.0 283.1,155.9 283.3,155.8 283.4,155.8 283.6,155.8 283.8,155.7 284.0,155.7 284.1,155.8 284.3,155.8 284.5,155.8 284.6,155.9 284.8,156.0 285.0,156.1 285.1,156.2 285.3,156.3 285.5,156.4 285.7,156.6 285.8,156.7 286.0,156.9 286.2,157.1 286.3,157.4 286.5,157.6 286.7,157.9 286.9,158.1 287.0,158.4 287.2,158.7 287.4,159.1 287.5,159.4 287.7,159.8 287.9,160.1 288.1,160.6 288.2,161.0 288.4,161.4 288.6,161.8 288.7,162.3 288.9,162.8 289.1,163.3 289.2,163.8 289.4,164.3 289.6,164.8 289.8,165.3 289.9,165.9 290.1,166.4 290.3,167.0 290.4,167.6 290.6,168.1 290.8,168.7 291.0,169.3 291.1,169.9 291.3,170.5 291.5,171.1 291.6,171.7 291.8,172.2 292.0,172.8 292.1,173.4 292.3,174.0 292.5,174.6 292.7,175.2 292.8,175.8 293.0,176.4 293.2,177.0 293.3,177.7 293.5,178.3 293.7,178.9 293.9,179.5 294.0,180.1 294.2,180.6 294.4,181.2 294.5,181.8 294.7,182.4 294.9,183.0 295.1,183.6 295.2,184.1 295.4,184.7 295.6,185.2 295.7,185.8 295.9,186.3 296.1,186.9 296.2,187.4 296.4,187.9 296.6,188.4 296.8,188.9 296.9,189.4 297.1,189.9 297.3,190.4 297.4,190.9 297.6,191.3 297.8,191.8 298.0,192.2 298.1,192.6 298.3,193.1 298.5,193.5 298.6,193.9 298.8,194.3 299.0,194.7 299.1,195.1 299.3,195.5 299.5,195.8 299.7,196.2 299.8,196.6 300.0,196.9 300.2,197.3 300.3,197.6 300.5,197.9 300.7,198.3 300.9,198.6 301.0,198.9 301.2,199.2 301.4,199.4 301.5,199.7 301.7,200.0 301.9,200.2 302.0,200.5 302.2,200.7 302.4,200.9 302.6,201.2 302.7,201.4 302.9,201.6 303.1,201.7 303.2,201.9 303.4,202.1 303.6,202.3 303.8,202.4 303.9,202.6 304.1,202.7 304.3,202.9 304.4,203.0 304.6,203.2 304.8,203.3 305.0,203.4 305.1,203.6 305.3,203.7 305.5,203.8 305.6,203.9 305.8,204.0 306.0,204.1 306.1,204.2 306.3,204.3 306.5,204.3 306.7,204.4 306.8,204.5 307.0,204.6 307.0,205.0 306.8,205.0 306.7,204.9 306.5,204.9 306.3,204.8 306.1,204.8 306.0,204.7 305.8,204.7 305.6,204.6 305.5,204.6 305.3,204.5 305.1,204.5 305.0,204.4 304.8,204.3 304.6,204.3 304.4,204.2 304.3,204.1 304.1,204.0 303.9,203.9 303.8,203.9 303.6,203.8 303.4,203.7 303.2,203.6 303.1,203.5 302.9,203.5 302.7,203.4 302.6,203.3 302.4,203.2 302.2,203.1 302.0,202.9 301.9,202.8 301.7,202.7 301.5,202.6 301.4,202.4 301.2,202.3 301.0,202.2 300.9,202.0 300.7,201.9 300.5,201.8 300.3,201.6 300.2,201.5 300.0,201.3 299.8,201.2 299.7,201.0 299.5,200.9 299.3,200.7 299.1,200.5 299.0,200.4 298.8,200.2 298.6,200.1 298.5,199.9 298.3,199.8 298.1,199.6 298.0,199.5 297.8,199.3 297.6,199.1 297.4,199.0 297.3,198.8 297.1,198.7 296.9,198.5 296.8,198.3 296.6,198.1 296.4,198.0 296.2,197.8 296.1,197.6 295.9,197.4 295.7,197.3 295.6,197.1 295.4,196.9 295.2,196.7 295.1,196.5 294.9,196.4 294.7,196.2 294.5,196.0 294.4,195.8 294.2,195.6 294.0,195.4 293.9,195.2 293.7,195.1 293.5,194.9 293.3,194.7 293.2,194.5 293.0,194.3 292.8,194.2 292.7,194.0 292.5,193.8 292.3,193.6 292.1,193.4 292.0,193.3 291.8,193.1 291.6,192.9 291.5,192.7 291.3,192.6 291.1,192.4 291.0,192.2 290.8,192.0 290.6,191.8 290.4,191.6 290.3,191.4 290.1,191.3 289.9,191.1 289.8,190.9 289.6,190.7 289.4,190.5 289.2,190.3 289.1,190.2 288.9,190.0 288.7,189.8 288.6,189.6 288.4,189.5 288.2,189.3 288.1,189.1 287.9,189.0 287.7,188.8 287.5,188.7 287.4,188.5 287.2,188.4 287.0,188.2 286.9,188.1 286.7,188.0 286.5,187.9 286.3,187.7 286.2,187.6 286.0,187.5 285.8,187.4 285.7,187.3 285.5,187.1 285.3,187.0 285.1,186.9 285.0,186.8 284.8,186.7 284.6,186.6 284.5,186.4 284.3,186.3 284.1,186.2 284.0,186.1 283.8,186.0 283.6,185.9 283.4,185.8 283.3,185.7 283.1,185.6 282.9,185.5 282.8,185.4 282.6,185.3 282.4,185.2 282.2,185.1 282.1,185.0 281.9,184.9 281.7,184.8 281.6,184.7 281.4,184.6 281.2,184.5 281.1,184.4 280.9,184.4 280.7,184.3 280.5,184.2 280.4,184.1 280.2,184.0 280.0,184.0 279.9,183.9 279.7,183.8 279.5,183.7 279.3,183.7 279.2,183.6 279.0,183.5 278.8,183.5 278.7,183.4 278.5,183.3 278.3,183.3 278.1,183.2 278.0,183.2 277.8,183.1 277.6,183.0 277.5,183.0 277.3,182.9 277.1,182.9 277.0,182.8 276.8,182.8 276.6,182.7 276.4,182.7 276.3,182.6 276.1,182.5 275.9,182.5 275.8,182.4 275.6,182.4 275.4,182.3 275.2,182.3 275.1,182.2 274.9,182.2 274.7,182.1 274.6,182.1 274.4,182.0 274.2,182.0 274.1,181.9 273.9,181.9 273.7,181.8 273.5,181.8 273.4,181.7 273.2,181.7 273.0,181.6 272.9,181.6 272.7,181.5 272.5,181.5 272.3,181.5 272.2,181.4 272.0,181.4 271.8,181.3 271.7,181.3 271.5,181.3 271.3,181.2 271.2,181.2 271.0,181.1 270.8,181.1 270.6,181.1 270.5,181.0 270.3,181.0 270.1,181.0 270.0,180.9 269.8,180.9 269.6,180.9 269.4,180.8 269.3,180.8 269.1,180.8 268.9,180.8 268.8,180.7 268.6,180.7 268.4,180.7 268.2,180.7 268.1,180.6 267.9,180.6 267.7,180.6 267.6,180.6 267.4,180.6 267.2,180.6 267.1,180.5 266.9,180.5 266.7,180.5 266.5,180.5 266.4,180.5 266.2,180.5" fill="#e2e2e2" stroke="none"/>
<polyline points="266.2,178.7 266.4,178.6 266.5,178.5 266.7,178.4 266.9,178.3 267.1,178.2 267.2,178.1 267.4,178.0 267.6,177.9 267.7,177.8 267.9,177.7 268.1,177.5 268.2,177.4 268.4,177.3 268.6,177.1 268.8,177.0 268.9,176.9 269.1,176.7 269.3,176.6 269.4,176.4 269.6,176.3 269.8,176.1 270.0,175.9 270.1,175.8 270.3,175.6 270.5,175.4 270.6,175.2 270.8,175.0 271.0,174.8 271.2,174.6 271.3,174.4 271.5,174.2 271.7,173.9 271.8,173.7 272.0,173.5 272.2,173.3 272.3,173.0 272.5,172.8 272.7,172.5 272.9,172.2 273.0,172.0 273.2,171.7 273.4,171.4 273.5,171.2 273.7,170.9 273.9,170.6 274.1,170.3 274.2,170.0 274.4,169.7 274.6,169.4 274.7,169.1 274.9,168.7 275.1,168.4 275.2,168.1 275.4,167.8 275.6,167.5 275.8,167.1 275.9,166.8 276.1,166.5 276.3,166.1 276.4,165.8 276.6,165.4 276.8,165.1 277.0,164.8 277.1,164.4 277.3,164.1 277.5,163.7 277.6,163.4 277.8,163.0 278.0,162.7 278.1,162.4 278.3,162.0 278.5,161.7 278.7,161.4 278.8,161.1 279.0,160.8 279.2,160.4 279.3,160.1 279.5,159.9 279.7,159.6 279.9,159.3 280.0,159.0 280.2,158.8 280.4,158.5 280.5,158.3 280.7,158.0 280.9,157.8 281.1,157.6 281.2,157.4 281.4,157.2 281.6,157.0 281.7,156.8 281.9,156.7 282.1,156.5 282.2,156.4 282.4,156.2 282.6,156.1 282.8,156.0 282.9,156.0 283.1,155.9 283.3,155.8 283.4,155.8 283.6,155.8 283.8,155.7 284.0,155.7 284.1,155.8 284.3,155.8 284.5,155.8 284.6,155.9 284.8,156.0 285.0,156.1 285.1,156.2 285.3,156.3 285.5,156.4 285.7,156.6 285.8,156.7 286.0,156.9 286.2,157.1 286.3,157.4 286.5,157.6 286.7,157.9 286.9,158.1 287.0,158.4 287.2,158.7 287.4,159.1 287.5,159.4 287.7,159.8 287.9,160.1 288.1,160.6 288.2,161.0 288.4,161.4 288.6,161.8 288.7,162.3 288.9,162.8 289.1,163.3 289.2,163.8 289.4,164.3 289.6,164.8 289.8,165.3 289.9,165.9 290.1,166.4 290.3,167.0 290.4,167.6 290.6,168.1 290.8,168.7 291.0,169.3 291.1,169.9 291.3,170.5 291.5,171.1 291.6,171.7 291.8,172.2 292.0,172.8 292.1,173.4 292.3,174.0 292.5,174.6 292.7,175.2 292.8,175.8 293.0,176.4 293.2,177.0 293.3,177.7 293.5,178.3 293.7,178.9 293.9,179.5 294.0,180.1 294.2,180.6 294.4,181.2 294.5,181.8 294.7,182.4 294.9,183.0 295.1,183.6 295.2,184.1 295.4,184.7 295.6,185.2 295.7,185.8 295.9,186.3 296.1,186.9 296.2,187.4 296.4,187.9 296.6,188.4 296.8,188.9 296.9,189.4 297.1,189.9 297.3,190.4 297.4,190.9 297.6,191.3 297.8,191.8 298.0,192.2 298.1,192.6 298.3,193.1 298.5,193.5 298.6,193.9 298.8,194.3 299.0,194.7 299.1,195.1 299.3,195.5 299.5,195.8 299.7,196.2 299.8,196.6 300.0,196.9 300.2,197.3 300.3,197.6 300.5,197.9 300.7,198.3 300.9,198.6 301.0,198.9 301.2,199.2 301.4,199.4 301.5,199.7 301.7,200.0 301.9,200.2 302.0,200.5 302.2,200.7 302.4,200.9 302.6,201.2 302.7,201.4 302.9,201.6 303.1,201.7 303.2,201.9 303.4,202.1 303.6,202.3 303.8,202.4 303.9,202.6 304.1,202.7 304.3,202.9 304.4,203.0 304.6,203.2 304.8,203.3 305.0,203.4 305.1,203.6 305.3,203.7 305.5,203.8 305.6,203.9 305.8,204.0 306.0,204.1 306.1,204.2 306.3,204.3 306.5,204.3 306.7,204.4 306.8,204.5 307.0,204.6" fill="none" stroke="#404040" stroke-width="0.8"/>
<polyline points="266.2,180.5 266.4,180.5 266.5,180.5 266.7,180.5 266.9,180.5 267.1,180.5 267.2,180.6 267.4,180.6 267.6,180.6 267.7,180.6 267.9,180.6 268.1,180.6 268.2,180.7 268.4,180.7 268.6,180.7 268.8,180.7 268.9,180.8 269.1,180.8 269.3,180.8 269.4,180.8 269.6,180.9 269.8,180.9 270.0,180.9 270.1,181.0 270.3,181.0 270.5,181.0 270.6,181.1 270.8,181.1 271.0,181.1 271.2,181.2 271.3,181.2 271.5,181.3 271.7,181.3 271.8,181.3 272.0,181.4 272.2,181.4 272.3,181.5 272.5,181.5 272.7,181.5 272.9,181.6 273.0,181.6 273.2,181.7 273.4,181.7 273.5,181.8 273.7,181.8 273.9,181.9 274.1,181.9 274.2,182.0 274.4,182.0 274.6,182.1 274.7,182.1 274.9,182.2 275.1,182.2 275.2,182.3 275.4,182.3 275.6,182.4 275.8,182.4 275.9,182.5 276.1,182.5 276.3,182.6 276.4,182.7 276.6,182.7 276.8,182.8 277.0,182.8 277.1,182.9 277.3,182.9 277.5,183.0 277.6,183.0 277.8,183.1 278.0,183.2 278.1,183.2 278.3,183.3 278.5,183.3 278.7,183.4 278.8,183.5 279.0,183.5 279.2,183.6 279.3,183.7 279.5,183.7 279.7,183.8 279.9,183.9 280.0,184.0 280.2,184.0 280.4,184.1 280.5,184.2 280.7,184.3 280.9,184.4 281.1,184.4 281.2,184.5 281.4,184.6 281.6,184.7 281.7,184.8 281.9,184.9 282.1,185.0 282.2,185.1 282.4,185.2 282.6,185.3 282.8,185.4 282.9,185.5 283.1,185.6 283.3,185.7 283.4,185.8 283.6,185.9 283.8,186.0 284.0,186.1 284.1,186.2 284.3,186.3 284.5,186.4 284.6,186.6 284.8,186.7 285.0,186.8 285.1,186.9 285.3,187.0 285.5,187.1 285.7,187.3 285.8,187.4 286.0,187.5 286.2,187.6 286.3,187.7 286.5,187.9 286.7,188.0 286.9,188.1 287.0,188.2 287.2,188.4 287.4,188.5 287.5,188.7 287.7,188.8 287.9,189.0 288.1,189.1 288.2,189.3 288.4,189.5 288.6,189.6 288.7,189.8 288.9,190.0 289.1,190.2 289.2,190.3 289.4,190.5 289.6,190.7 289.8,190.9 289.9,191.1 290.1,191.3 290.3,191.4 290.4,191.6 290.6,191.8 290.8,192.0 291.0,192.2 291.1,192.4 291.3,192.6 291.5,192.7 291.6,192.9 291.8,193.1 292.0,193.3 292.1,193.4 292.3,193.6 292.5,193.8 292.7,194.0 292.8,194.2 293.0,194.3 293.2,194.5 293.3,194.7 293.5,194.9 293.7,195.1 293.9,195.2 294.0,195.4 294.2,195.6 294.4,195.8 294.5,196.0 294.7,196.2 294.9,196.4 295.1,196.5 295.2,196.7 295.4,196.9 295.6,197.1 295.7,197.3 295.9,197.4 296.1,197.6 296.2,197.8 296.4,198.0 296.6,198.1 296.8,198.3 296.9,198.5 297.1,198.7 297.3,198.8 297.4,199.0 297.6,199.1 297.8,199.3 298.0,199.5 298.1,199.6 298.3,199.8 298.5,199.9 298.6,200.1 298.8,200.2 299.0,200.4 299.1,200.5 299.3,200.7 299.5,200.9 299.7,201.0 299.8,201.2 300.0,201.3 300.2,201.5 300.3,201.6 300.5,201.8 300.7,201.9 300.9,202.0 301.0,202.2 301.2,202.3 301.4,202.4 301.5,202.6 301.7,202.7 301.9,202.8 302.0,202.9 302.2,203.1 302.4,203.2 302.6,203.3 302.7,203.4 302.9,203.5 303.1,203.5 303.2,203.6 303.4,203.7 303.6,203.8 303.8,203.9 303.9,203.9 304.1,204.0 304.3,204.1 304.4,204.2 304.6,204.3 304.8,204.3 305.0,204.4 305.1,204.5 305.3,204.5 305.5,204.6 305.6,204.6 305.8,204.7 306.0,204.7 306.1,204.8 306.3,204.8 306.5,204.9 306.7,204.9 306.8,205.0 307.0,205.0" fill="none" stroke="#404040" stroke-width="0.8"/>
<polyline points="240.1,241.1 240.4,241.1 240.7,241.2 240.9,241.2 241.2,241.3 241.5,241.3 241.8,241.4 242.0,241.4 242.3,241.5 242.6,241.5 242.9,241.6 243.1,241.6 243.4,241.7 243.7,241.7 244.0,241.8 244.2,241.8 244.5,241.9 244.8,241.9 245.1,242.0 245.3,242.0 245.6,242.1 245.9,242.1 246.2,242.2 246.4,242.3 246.7,242.3 247.0,242.4 247.3,242.4 247.5,242.5 247.8,242.5 248.1,242.6 248.4,242.6 248.6,242.7 248.9,242.7 249.2,242.8 249.5,242.9 249.8,242.9 250.0,243.0 250.3,243.0 250.6,243.1 250.9,243.1 251.1,243.2 251.4,243.2 251.7,243.3 252.0,243.4 252.2,243.4 252.5,243.5 252.8,243.5 253.1,243.6 253.3,243.6 253.6,243.7 253.9,243.8 254.2,243.8 254.4,243.9 254.7,243.9 255.0,244.0 255.3,244.1 255.5,244.1 255.8,244.2 256.1,244.2 256.4,244.3 256.6,244.4 256.9,244.4 257.2,244.5 257.5,244.5 257.7,244.6 258.0,244.7 258.3,244.7 258.6,244.8 258.8,244.9 259.1,244.9 259.4,245.0 259.7,245.0 260.0,245.1 260.2,245.2 260.5,245.2 260.8,245.3 261.1,245.4 261.3,245.4 261.6,245.5 261.9,245.6 262.2,245.6 262.4,245.7 262.7,245.8 263.0,245.8 263.3,245.9 263.5,246.0 263.8,246.0 264.1,246.1 264.4,246.2 264.6,246.2 264.9,246.3 265.2,246.4 265.5,246.5 265.7,246.5 266.0,246.6 266.3,246.7 266.6,246.7 266.8,246.8 267.1,246.9 267.4,246.9 267.7,247.0 267.9,247.1 268.2,247.2 268.5,247.2 268.8,247.3 269.1,247.4 269.3,247.4 269.6,247.5 269.9,247.6 270.2,247.6 270.4,247.7 270.7,247.8 271.0,247.8 271.3,247.9 271.5,248.0 271.8,248.0 272.1,248.1 272.4,248.2 272.6,248.2 272.9,248.3 273.2,248.4 273.5,248.5 273.7,248.5 274.0,248.6 274.3,248.7 274.6,248.7 274.8,248.8 275.1,248.9 275.4,249.0 275.7,249.0 275.9,249.1 276.2,249.2 276.5,249.3 276.8,249.3 277.0,249.4 277.3,249.5 277.6,249.6 277.9,249.7 278.2,249.7 278.4,249.8 278.7,249.9 279.0,250.0 279.3,250.1 279.5,250.1 279.8,250.2 280.1,250.3 280.4,250.3 280.6,250.4 280.9,250.4 281.2,250.5 281.5,250.5 281.7,250.5 282.0,250.5 282.3,250.5 282.6,250.5 282.8,250.4 283.1,250.4 283.4,250.3 283.7,250.1 283.9,249.9 284.2,249.7 284.5,249.4 284.8,249.1 285.0,248.7 285.3,248.3 285.6,247.8 285.9,247.2 286.1,246.6 286.4,245.8 286.7,245.0 287.0,244.1 287.3,243.2 287.5,242.1 287.8,241.0 288.1,239.8 288.4,238.6 288.6,237.2 288.9,235.9 289.2,234.4 289.5,232.9 289.7,231.4 290.0,229.9 290.3,228.4 290.6,226.9 290.8,225.5 291.1,224.0 291.4,222.7 291.7,221.4 291.9,220.2 292.2,219.2 292.5,218.2 292.8,217.4 293.0,216.8 293.3,216.3 293.6,215.9 293.9,215.8 294.1,215.8 294.4,216.0 294.7,216.4 295.0,217.0 295.2,217.7 295.5,218.6 295.8,219.6 296.1,220.8 296.3,222.1 296.6,223.5 296.9,225.1 297.2,226.7 297.5,228.5 297.7,230.3 298.0,232.2 298.3,234.1 298.6,236.1 298.8,238.0 299.1,240.0 299.4,242.0 299.7,243.9 299.9,245.8 300.2,247.7 300.5,249.5 300.8,251.3 301.0,252.9 301.3,254.5 301.6,256.1 301.9,257.5 302.1,258.9 302.4,260.2 302.7,261.4 303.0,262.6 303.2,263.6 303.5,264.6 303.8,265.6 304.1,266.4 304.3,267.2 304.6,268.0 304.9,268.6 305.2,269.3 305.4,269.9 305.7,270.4 306.0,270.9" fill="none" stroke="#404040" stroke-width="0.8"/>
<polygon points="240.1,241.1 240.4,241.1 240.7,241.2 240.9,241.2 241.2,241.3 241.5,241.3 241.8,241.4 242.0,241.4 242.3,241.5 242.6,241.5 242.9,241.6 243.1,241.6 243.4,241.7 243.7,241.7 244.0,241.8 244.2,241.8 244.5,241.9 244.8,241.9 245.1,242.0 245.3,242.0 245.6,242.1 245.9,242.1 246.2,242.2 246.4,242.3 246.7,242.3 247.0,242.4 247.3,242.4 247.5,242.5 247.8,242.5 248.1,242.6 248.4,242.6 248.6,242.7 248.9,242.7 249.2,242.8 249.5,242.8 249.8,242.9 250.0,243.0 250.3,243.0 250.6,243.1 250.9,243.1 251.1,243.2 251.4,243.2 251.7,243.3 252.0,243.4 252.2,243.4 252.5,243.5 252.8,243.5 253.1,243.6 253.3,243.6 253.6,243.7 253.9,243.8 254.2,243.8 254.4,243.9 254.7,243.9 255.0,244.0 255.3,244.0 255.5,244.1 255.8,244.1 256.1,244.2 256.4,244.3 256.6,244.3 256.9,244.4 257.2,244.4 257.5,244.5 257.7,244.5 258.0,244.6 258.3,244.6 258.6,244.7 258.8,244.7 259.1,244.8 259.4,244.8 259.7,244.9 260.0,244.9 260.2,245.0 260.5,245.0 260.8,245.1 261.1,245.1 261.3,245.1 261.6,245.2 261.9,245.2 262.2,245.2 262.4,245.3 262.7,245.3 263.0,245.3 263.3,245.3 263.5,245.3 263.8,245.3 264.1,245.3 264.4,245.3 264.6,245.3 264.9,245.3 265.2,245.3 265.5,245.3 265.7,245.2 266.0,245.2 266.3,245.1 266.6,245.1 266.8,245.0 267.1,244.9 267.4,244.8 267.7,244.8 267.9,244.6 268.2,244.5 268.5,244.4 268.8,244.3 269.1,244.1 269.3,244.0 269.6,243.8 269.9,243.6 270.2,243.4 270.4,243.2 270.7,243.0 271.0,242.7 271.3,242.5 271.5,242.2 271.8,241.9 272.1,241.6 272.4,241.3 272.6,241.0 272.9,240.7 273.2,240.4 273.5,240.0 273.7,239.7 274.0,239.3 274.3,238.9 274.6,238.5 274.8,238.1 275.1,237.7 275.4,237.3 275.7,236.9 275.9,236.5 276.2,236.1 276.5,235.7 276.8,235.2 277.0,234.8 277.3,234.4 277.6,234.0 277.9,233.5 278.2,233.1 278.4,232.7 278.7,232.3 279.0,231.9 279.3,231.6 279.5,231.2 279.8,230.8 280.1,230.5 280.4,230.2 280.6,229.9 280.9,229.6 281.2,229.3 281.5,229.1 281.7,228.9 282.0,228.7 282.3,228.6 282.6,228.4 282.8,228.3 283.1,228.3 283.4,228.2 283.7,228.2 283.9,228.2 284.2,228.3 284.5,228.4 284.8,228.5 285.0,228.7 285.3,228.9 285.6,229.1 285.9,229.4 286.1,229.7 286.4,230.0 286.7,230.4 287.0,230.8 287.3,231.3 287.5,231.8 287.8,232.3 288.1,232.9 288.4,233.5 288.6,234.1 288.9,234.7 289.2,235.4 289.5,236.1 289.7,236.8 290.0,237.5 290.3,238.3 290.6,239.1 290.8,239.9 291.1,240.7 291.4,241.5 291.7,242.4 291.9,243.2 292.2,244.1 292.5,244.9 292.8,245.8 293.0,246.6 293.3,247.5 293.6,248.3 293.9,249.2 294.1,250.0 294.4,250.8 294.7,251.6 295.0,252.4 295.2,253.2 295.5,254.0 295.8,254.7 296.1,255.5 296.3,256.2 296.6,256.9 296.9,257.6 297.2,258.3 297.5,259.0 297.7,259.6 298.0,260.3 298.3,260.9 298.6,261.5 298.8,262.1 299.1,262.7 299.4,263.2 299.7,263.8 299.9,264.3 300.2,264.8 300.5,265.3 300.8,265.8 301.0,266.2 301.3,266.7 301.6,267.1 301.9,267.5 302.1,267.9 302.4,268.2 302.7,268.6 303.0,269.0 303.2,269.3 303.5,269.6 303.8,270.0 304.1,270.3 304.3,270.6 304.6,270.9 304.9,271.1 305.2,271.4 305.4,271.7 305.7,272.0 306.0,272.2 306.0,272.5 305.7,272.3 305.4,272.1 305.2,271.8 304.9,271.6 304.6,271.4 304.3,271.1 304.1,270.9 303.8,270.6 303.5,270.4 303.2,270.1 303.0,269.9 302.7,269.6 302.4,269.4 302.1,269.1 301.9,268.9 301.6,268.6 301.3,268.3 301.0,268.0 300.8,267.8 300.5,267.5 300.2,267.2 299.9,266.9 299.7,266.6 299.4,266.3 299.1,265.9 298.8,265.6 298.6,265.3 298.3,265.0 298.0,264.7 297.7,264.4 297.5,264.1 297.2,263.8 296.9,263.5 296.6,263.2 296.3,262.9 296.1,262.6 295.8,262.3 295.5,262.0 295.2,261.7 295.0,261.4 294.7,261.1 294.4,260.8 294.1,260.5 293.9,260.3 293.6,260.0 293.3,259.7 293.0,259.4 292.8,259.1 292.5,258.8 292.2,258.5 291.9,258.3 291.7,258.0 291.4,257.7 291.1,257.5 290.8,257.2 290.6,257.0 290.3,256.8 290.0,256.5 289.7,256.3 289.5,256.1 289.2,255.9 288.9,255.7 288.6,255.5 288.4,255.2 288.1,255.0 287.8,254.8 287.5,254.6 287.3,254.4 287.0,254.2 286.7,254.0 286.4,253.9 286.1,253.7 285.9,253.5 285.6,253.3 285.3,253.1 285.0,252.9 284.8,252.8 284.5,252.6 284.2,252.4 283.9,252.3 283.7,252.1 283.4,251.9 283.1,251.8 282.8,251.7 282.6,251.5 282.3,251.4 282.0,251.2 281.7,251.1 281.5,251.0 281.2,250.9 280.9,250.8 280.6,250.7 280.4,250.5 280.1,250.4 279.8,250.3 279.5,250.2 279.3,250.1 279.0,250.0 278.7,250.0 278.4,249.9 278.2,249.8 277.9,249.7 277.6,249.6 277.3,249.5 277.0,249.4 276.8,249.3 276.5,249.3 276.2,249.2 275.9,249.1 275.7,249.0 275.4,249.0 275.1,248.9 274.8,248.8 274.6,248.7 274.3,248.7 274.0,248.6 273.7,248.5 273.5,248.5 273.2,248.4 272.9,248.3 272.6,248.2 272.4,248.2 272.1,248.1 271.8,248.0 271.5,248.0 271.3,247.9 271.0,247.8 270.7,247.8 270.4,247.7 270.2,247.6 269.9,247.6 269.6,247.5 269.3,247.4 269.1,247.4 268.8,247.3 268.5,247.2 268.2,247.2 267.9,247.1 267.7,247.0 267.4,246.9 267.1,246.9 266.8,246.8 266.6,246.7 266.3,246.7 266.0,246.6 265.7,246.5 265.5,246.5 265.2,246.4 264.9,246.3 264.6,246.2 264.4,246.2 264.1,246.1 263.8,246.0 263.5,246.0 263.3,245.9 263.0,245.8 262.7,245.8 262.4,245.7 262.2,245.6 261.9,245.6 261.6,245.5 261.3,245.4 261.1,245.4 260.8,245.3 260.5,245.2 260.2,245.2 260.0,245.1 259.7,245.0 259.4,245.0 259.1,244.9 258.8,244.9 258.6,244.8 258.3,244.7 258.0,244.7 257.7,244.6 257.5,244.5 257.2,244.5 256.9,244.4 256.6,244.4 256.4,244.3 256.1,244.2 255.8,244.2 255.5,244.1 255.3,244.1 255.0,244.0 254.7,243.9 254.4,243.9 254.2,243.8 253.9,243.8 253.6,243.7 253.3,243.6 253.1,243.6 252.8,243.5 252.5,243.5 252.2,243.4 252.0,243.4 251.7,243.3 251.4,243.2 251.1,243.2 250.9,243.1 250.6,243.1 250.3,243.0 250.0,243.0 249.8,242.9 249.5,242.9 249.2,242.8 248.9,242.7 248.6,242.7 248.4,242.6 248.1,242.6 247.8,242.5 247.5,242.5 247.3,242.4 247.0,242.4 246.7,242.3 246.4,242.3 246.2,242.2 245.9,242.1 245.6,242.1 245.3,242.0 245.1,242.0 244.8,241.9 244.5,241.9 244.2,241.8 244.0,241.8 243.7,241.7 243.4,241.7 243.1,241.6 242.9,241.6 242.6,241.5 242.3,241.5 242.0,241.4 241.8,241.4 241.5,241.3 241.2,241.3 240.9,241.2 240.7,241.2 240.4,241.1 240.1,241.1" fill="#e2e2e2" stroke="none"/>
<polyline points="240.1,241.1 240.4,241.1 240.7,241.2 240.9,241.2 241.2,241.3 241.5,241.3 241.8,241.4 242.0,241.4 242.3,241.5 242.6,241.5 242.9,241.6 243.1,241.6 243.4,241.7 243.7,241.7 244.0,241.8 244.2,241.8 244.5,241.9 244.8,241.9 245.1,242.0 245.3,242.0 245.6,242.1 245.9,242.1 246.2,242.2 246.4,242.3 246.7,242.3 247.0,242.4 247.3,242.4 247.5,242.5 247.8,242.5 248.1,242.6 248.4,242.6 248.6,242.7 248.9,242.7 249.2,242.8 249.5,242.8 249.8,242.9 250.0,243.0 250.3,243.0 250.6,243.1 250.9,243.1 251.1,243.2 251.4,243.2 251.7,243.3 252.0,243.4 252.2,243.4 252.5,243.5 252.8,243.5 253.1,243.6 253.3,243.6 253.6,243.7 253.9,243.8 254.2,243.8 254.4,243.9 254.7,243.9 255.0,244.0 255.3,244.0 255.5,244.1 255.8,244.1 256.1,244.2 256.4,244.3 256.6,244.3 256.9,244.4 257.2,244.4 257.5,244.5 257.7,244.5 258.0,244.6 258.3,244.6 258.6,244.7 258.8,244.7 259.1,244.8 259.4,244.8 259.7,244.9 260.0,244.9 260.2,245.0 260.5,245.0 260.8,245.1 261.1,245.1 261.3,245.1 261.6,245.2 261.9,245.2 262.2,245.2 262.4,245.3 262.7,245.3 263.0,245.3 263.3,245.3 263.5,245.3 263.8,245.3 264.1,245.3 264.4,245.3 264.6,245.3 264.9,245.3 265.2,245.3 265.5,245.3 265.7,245.2 266.0,245.2 266.3,245.1 266.6,245.1 266.8,245.0 267.1,244.9 267.4,244.8 267.7,244.8 267.9,244.6 268.2,244.5 268.5,244.4 268.8,244.3 269.1,244.1 269.3,244.0 269.6,243.8 269.9,243.6 270.2,243.4 270.4,243.2 270.7,243.0 271.0,242.7 271.3,242.5 271.5,242.2 271.8,241.9 272.1,241.6 272.4,241.3 272.6,241.0 272.9,240.7 273.2,240.4 273.5,240.0 273.7,239.7 274.0,239.3 274.3,238.9 274.6,238.5 274.8,238.1 275.1,237.7 275.4,237.3 275.7,236.9 275.9,236.5 276.2,236.1 276.5,235.7 276.8,235.2 277.0,234.8 277.3,234.4 277.6,234.0 277.9,233.5 278.2,233.1 278.4,232.7 278.7,232.3 279.0,231.9 279.3,231.6 279.5,231.2 279.8,230.8 280.1,230.5 280.4,230.2 280.6,229.9 280.9,229.6 281.2,229.3 281.5,229.1 281.7,228.9 282.0,228.7 282.3,228.6 282.6,228.4 282.8,228.3 283.1,228.3 283.4,228.2 283.7,228.2 283.9,228.2 284.2,228.3 284.5,228.4 284.8,228.5 285.0,228.7 285.3,228.9 285.6,229.1 285.9,229.4 286.1,229.7 286.4,230.0 286.7,230.4 287.0,230.8 287.3,231.3 287.5,231.8 287.8,232.3 288.1,232.9 288.4,233.5 288.6,234.1 288.9,234.7 289.2,235.4 289.5,236.1 289.7,236.8 290.0,237.5 290.3,238.3 290.6,239.1 290.8,239.9 291.1,240.7 291.4,241.5 291.7,242.4 291.9,243.2 292.2,244.1 292.5,244.9 292.8,245.8 293.0,246.6 293.3,247.5 293.6,248.3 293.9,249.2 294.1,250.0 294.4,250.8 294.7,251.6 295.0,252.4 295.2,253.2 295.5,254.0 295.8,254.7 296.1,255.5 296.3,256.2 296.6,256.9 296.9,257.6 297.2,258.3 297.5,259.0 297.7,259.6 298.0,260.3 298.3,260.9 298.6,261.5 298.8,262.1 299.1,262.7 299.4,263.2 299.7,263.8 299.9,264.3 300.2,264.8 300.5,265.3 300.8,265.8 301.0,266.2 301.3,266.7 301.6,267.1 301.9,267.5 302.1,267.9 302.4,268.2 302.7,268.6 303.0,269.0 303.2,269.3 303.5,269.6 303.8,270.0 304.1,270.3 304.3,270.6 304.6,270.9 304.9,271.1 305.2,271.4 305.4,271.7 305.7,272.0 306.0,272.2" fill="none" stroke="#404040" stroke-width="0.8"/>
<polyline points="240.1,241.1 240.4,241.1 240.7,241.2 240.9,241.2 241.2,241.3 241.5,241.3 241.8,241.4 242.0,241.4 242.3,241.5 242.6,241.5 242.9,241.6 243.1,241.6 243.4,241.7 243.7,241.7 244.0,241.8 244.2,241.8 244.5,241.9 244.8,241.9 245.1,242.0 245.3,242.0 245.6,242.1 245.9,242.1 246.2,242.2 246.4,242.3 246.7,242.3 247.0,242.4 247.3,242.4 247.5,242.5 247.8,242.5 248.1,242.6 248.4,242.6 248.6,242.7 248.9,242.7 249.2,242.8 249.5,242.9 249.8,242.9 250.0,243.0 250.3,243.0 250.6,243.1 250.9,243.1 251.1,243.2 251.4,243.2 251.7,243.3 252.0,243.4 252.2,243.4 252.5,243.5 252.8,243.5 253.1,243.6 253.3,243.6 253.6,243.7 253.9,243.8 254.2,243.8 254.4,243.9 254.7,243.9 255.0,244.0 255.3,244.1 255.5,244.1 255.8,244.2 256.1,244.2 256.4,244.3 256.6,244.4 256.9,244.4 257.2,244.5 257.5,244.5 257.7,244.6 258.0,244.7 258.3,244.7 258.6,244.8 258.8,244.9 259.1,244.9 259.4,245.0 259.7,245.0 260.0,245.1 260.2,245.2 260.5,245.2 260.8,245.3 261.1,245.4 261.3,245.4 261.6,245.5 261.9,245.6 262.2,245.6 262.4,245.7 262.7,245.8 263.0,245.8 263.3,245.9 263.5,246.0 263.8,246.0 264.1,246.1 264.4,246.2 264.6,246.2 264.9,246.3 265.2,246.4 265.5,246.5 265.7,246.5 266.0,246.6 266.3,246.7 266.6,246.7 266.8,246.8 267.1,246.9 267.4,246.9 267.7,247.0 267.9,247.1 268.2,247.2 268.5,247.2 268.8,247.3 269.1,247.4 269.3,247.4 269.6,247.5 269.9,247.6 270.2,247.6 270.4,247.7 270.7,247.8 271.0,247.8 271.3,247.9 271.5,248.0 271.8,248.0 272.1,248.1 272.4,248.2 272.6,248.2 272.9,248.3 273.2,248.4 273.5,248.5 273.7,248.5 274.0,248.6 274.3,248.7 274.6,248.7 274.8,248.8 275.1,248.9 275.4,249.0 275.7,249.0 275.9,249.1 276.2,249.2 276.5,249.3 276.8,249.3 277.0,249.4 277.3,249.5 277.6,249.6 277.9,249.7 278.2,249.8 278.4,249.9 278.7,250.0 279.0,250.0 279.3,250.1 279.5,250.2 279.8,250.3 280.1,250.4 280.4,250.5 280.6,250.7 280.9,250.8 281.2,250.9 281.5,251.0 281.7,251.1 282.0,251.2 282.3,251.4 282.6,251.5 282.8,251.7 283.1,251.8 283.4,251.9 283.7,252.1 283.9,252.3 284.2,252.4 284.5,252.6 284.8,252.8 285.0,252.9 285.3,253.1 285.6,253.3 285.9,253.5 286.1,253.7 286.4,253.9 286.7,254.0 287.0,254.2 287.3,254.4 287.5,254.6 287.8,254.8 288.1,255.0 288.4,255.2 288.6,255.5 288.9,255.7 289.2,255.9 289.5,256.1 289.7,256.3 290.0,256.5 290.3,256.8 290.6,257.0 290.8,257.2 291.1,257.5 291.4,257.7 291.7,258.0 291.9,258.3 292.2,258.5 292.5,258.8 292.8,259.1 293.0,259.4 293.3,259.7 293.6,260.0 293.9,260.3 294.1,260.5 294.4,260.8 294.7,261.1 295.0,261.4 295.2,261.7 295.5,262.0 295.8,262.3 296.1,262.6 296.3,262.9 296.6,263.2 296.9,263.5 297.2,263.8 297.5,264.1 297.7,264.4 298.0,264.7 298.3,265.0 298.6,265.3 298.8,265.6 299.1,265.9 299.4,266.3 299.7,266.6 299.9,266.9 300.2,267.2 300.5,267.5 300.8,267.8 301.0,268.0 301.3,268.3 301.6,268.6 301.9,268.9 302.1,269.1 302.4,269.4 302.7,269.6 303.0,269.9 303.2,270.1 303.5,270.4 303.8,270.6 304.1,270.9 304.3,271.1 304.6,271.4 304.9,271.6 305.2,271.8 305.4,272.1 305.7,272.3 306.0,272.5" fill="none" stroke="#404040" stroke-width="0.8"/>
<g fill="#000000"><circle cx="182.0" cy="40.8" r="1.4"/><circle cx="182.6" cy="42.1" r="1.4"/><circle cx="183.2" cy="42.4" r="1.4"/><circle cx="183.8" cy="37.9" r="1.4"/><circle cx="184.4" cy="36.8" r="1.4"/><circle cx="185.0" cy="38.5" r="1.4"/><circle cx="185.6" cy="36.3" r="1.4"/><circle cx="186.2" cy="37.5" r="1.4"/><circle cx="186.8" cy="38.9" r="1.4"/><circle cx="187.4" cy="37.3" r="1.4"/><circle cx="188.0" cy="38.6" r="1.4"/><circle cx="188.6" cy="32.9" r="1.4"/><circle cx="189.2" cy="39.5" r="1.4"/><circle cx="189.8" cy="37.7" r="1.4"/><circle cx="190.4" cy="36.7" r="1.4"/><circle cx="191.0" cy="38.2" r="1.4"/><circle cx="191.6" cy="36.3" r="1.4"/><circle cx="192.2" cy="36.2" r="1.4"/><circle cx="192.8" cy="34.4" r="1.4"/><circle cx="193.4" cy="36.6" r="1.4"/><circle cx="194.0" cy="34.9" r="1.4"/><circle cx="194.6" cy="35.4" r="1.4"/><circle cx="195.2" cy="37.8" r="1.4"/><circle cx="195.8" cy="36.0" r="1.4"/><circle cx="196.4" cy="33.1" r="1.4"/><circle cx="197.0" cy="35.8" r="1.4"/><circle cx="197.6" cy="36.3" r="1.4"/><circle cx="198.2" cy="34.2" r="1.4"/><circle cx="198.8" cy="33.9" r="1.4"/><circle cx="199.4" cy="33.4" r="1.4"/><circle cx="200.0" cy="31.5" r="1.4"/><circle cx="200.6" cy="35.0" r="1.4"/><circle cx="201.2" cy="33.7" r="1.4"/><circle cx="201.8" cy="32.5" r="1.4"/><circle cx="202.4" cy="32.3" r="1.4"/><circle cx="203.0" cy="31.9" r="1.4"/><circle cx="203.6" cy="34.6" r="1.4"/><circle cx="204.2" cy="31.0" r="1.4"/><circle cx="204.8" cy="28.1" r="1.4"/><circle cx="205.4" cy="31.0" r="1.4"/><circle cx="206.0" cy="31.9" r="1.4"/><circle cx="206.6" cy="31.0" r="1.4"/><circle cx="207.2" cy="28.6" r="1.4"/><circle cx="207.8" cy="25.8" r="1.4"/><circle cx="208.4" cy="31.9" r="1.4"/><circle cx="209.0" cy="25.7" r="1.4"/><circle cx="209.6" cy="26.8" r="1.4"/><circle cx="210.2" cy="25.2" r="1.4"/><circle cx="210.8" cy="23.3" r="1.4"/><circle cx="211.4" cy="22.7" r="1.4"/><circle cx="212.0" cy="20.8" r="1.4"/><circle cx="212.6" cy="20.8" r="1.4"/><circle cx="213.2" cy="21.5" r="1.4"/><circle cx="213.8" cy="22.6" r="1.4"/><circle cx="214.4" cy="27.8" r="1.4"/><circle cx="215.0" cy="22.2" r="1.4"/><circle cx="215.6" cy="26.8" r="1.4"/><circle cx="216.2" cy="25.9" r="1.4"/><circle cx="216.8" cy="26.0" r="1.4"/><circle cx="217.4" cy="25.1" r="1.4"/><circle cx="218.0" cy="28.4" r="1.4"/><circle cx="218.6" cy="27.5" r="1.4"/><circle cx="219.2" cy="30.8" r="1.4"/><circle cx="219.8" cy="31.8" r="1.4"/><circle cx="220.4" cy="29.9" r="1.4"/><circle cx="221.0" cy="35.1" r="1.4"/><circle cx="221.6" cy="33.8" r="1.4"/><circle cx="222.2" cy="35.3" r="1.4"/><circle cx="222.8" cy="36.8" r="1.4"/><circle cx="223.4" cy="36.4" r="1.4"/><circle cx="224.0" cy="39.6" r="1.4"/><circle cx="224.6" cy="41.3" r="1.4"/><circle cx="225.2" cy="39.2" r="1.4"/><circle cx="225.8" cy="41.1" r="1.4"/><circle cx="226.4" cy="43.3" r="1.4"/><circle cx="227.0" cy="41.6" r="1.4"/><circle cx="227.6" cy="40.3" r="1.4"/><circle cx="228.2" cy="43.2" r="1.4"/><circle cx="228.8" cy="41.6" r="1.4"/><circle cx="229.4" cy="41.3" r="1.4"/><circle cx="230.0" cy="39.3" r="1.4"/><circle cx="230.6" cy="42.4" r="1.4"/><circle cx="231.2" cy="40.8" r="1.4"/><circle cx="231.8" cy="43.0" r="1.4"/><circle cx="232.4" cy="38.9" r="1.4"/><circle cx="233.0" cy="40.8" r="1.4"/><circle cx="233.6" cy="45.8" r="1.4"/><circle cx="234.2" cy="46.5" r="1.4"/><circle cx="234.8" cy="44.1" r="1.4"/><circle cx="235.4" cy="44.2" r="1.4"/><circle cx="236.0" cy="39.6" r="1.4"/><circle cx="236.6" cy="44.9" r="1.4"/><circle cx="237.2" cy="43.0" r="1.4"/><circle cx="237.8" cy="40.5" r="1.4"/><circle cx="238.4" cy="42.8" r="1.4"/><circle cx="239.0" cy="42.9" r="1.4"/><circle cx="239.6" cy="46.2" r="1.4"/><circle cx="240.2" cy="45.4" r="1.4"/><circle cx="240.8" cy="49.5" r="1.4"/><circle cx="241.4" cy="47.9" r="1.4"/><circle cx="242.0" cy="45.5" r="1.4"/><circle cx="242.6" cy="46.4" r="1.4"/><circle cx="243.2" cy="43.2" r="1.4"/><circle cx="243.8" cy="47.1" r="1.4"/><circle cx="244.4" cy="44.9" r="1.4"/><circle cx="245.0" cy="45.9" r="1.4"/><circle cx="245.6" cy="46.3" r="1.4"/><circle cx="246.2" cy="45.8" r="1.4"/><circle cx="246.8" cy="45.1" r="1.4"/><circle cx="247.4" cy="47.3" r="1.4"/><circle cx="248.0" cy="47.4" r="1.4"/><circle cx="248.6" cy="41.5" r="1.4"/><circle cx="249.2" cy="45.2" r="1.4"/><circle cx="249.8" cy="46.1" r="1.4"/><circle cx="250.4" cy="45.6" r="1.4"/><circle cx="251.0" cy="47.2" r="1.4"/><circle cx="251.6" cy="48.8" r="1.4"/><circle cx="252.2" cy="47.7" r="1.4"/><circle cx="252.8" cy="47.5" r="1.4"/><circle cx="253.4" cy="49.9" r="1.4"/><circle cx="254.0" cy="49.0" r="1.4"/><circle cx="254.6" cy="49.1" r="1.4"/><circle cx="255.2" cy="52.6" r="1.4"/><circle cx="255.8" cy="51.0" r="1.4"/><circle cx="256.4" cy="47.4" r="1.4"/><circle cx="257.0" cy="51.9" r="1.4"/><circle cx="257.6" cy="48.3" r="1.4"/><circle cx="258.2" cy="50.2" r="1.4"/><circle cx="258.8" cy="46.6" r="1.4"/><circle cx="259.4" cy="52.0" r="1.4"/><circle cx="260.0" cy="47.1" r="1.4"/><circle cx="260.6" cy="51.2" r="1.4"/><circle cx="261.2" cy="54.3" r="1.4"/><circle cx="261.8" cy="51.7" r="1.4"/><circle cx="262.4" cy="50.6" r="1.4"/><circle cx="263.0" cy="48.7" r="1.4"/><circle cx="263.6" cy="49.9" r="1.4"/><circle cx="264.2" cy="51.8" r="1.4"/><circle cx="264.8" cy="45.5" r="1.4"/><circle cx="265.4" cy="47.2" r="1.4"/><circle cx="266.0" cy="50.9" r="1.4"/><circle cx="266.6" cy="47.3" r="1.4"/><circle cx="267.2" cy="49.7" r="1.4"/><circle cx="267.8" cy="48.4" r="1.4"/><circle cx="268.4" cy="45.0" r="1.4"/><circle cx="269.0" cy="45.9" r="1.4"/><circle cx="269.6" cy="48.3" r="1.4"/><circle cx="270.2" cy="44.5" r="1.4"/><circle cx="270.8" cy="44.5" r="1.4"/><circle cx="271.4" cy="45.0" r="1.4"/><circle cx="272.0" cy="42.5" r="1.4"/><circle cx="272.6" cy="42.4" r="1.4"/><circle cx="273.2" cy="43.2" r="1.4"/><circle cx="273.8" cy="41.3" r="1.4"/><circle cx="274.4" cy="41.0" r="1.4"/><circle cx="275.0" cy="41.5" r="1.4"/><circle cx="275.6" cy="43.0" r="1.4"/><circle cx="276.2" cy="38.9" r="1.4"/><circle cx="276.8" cy="37.2" r="1.4"/><circle cx="277.4" cy="43.1" r="1.4"/><circle cx="278.0" cy="38.7" r="1.4"/><circle cx="278.6" cy="32.7" r="1.4"/><circle cx="279.2" cy="34.6" r="1.4"/><circle cx="279.8" cy="31.8" r="1.4"/><circle cx="280.4" cy="35.4" r="1.4"/><circle cx="281.0" cy="31.1" r="1.4"/><circle cx="281.6" cy="31.6" r="1.4"/><circle cx="282.2" cy="34.8" r="1.4"/><circle cx="282.8" cy="29.8" r="1.4"/><circle cx="283.4" cy="30.2" r="1.4"/><circle cx="284.0" cy="30.1" r="1.4"/><circle cx="284.6" cy="30.5" r="1.4"/><circle cx="285.2" cy="29.8" r="1.4"/><circle cx="285.8" cy="29.8" r="1.4"/><circle cx="286.4" cy="25.0" r="1.4"/><circle cx="287.0" cy="26.3" r="1.4"/><circle cx="287.6" cy="21.5" r="1.4"/><circle cx="288.2" cy="23.9" r="1.4"/><circle cx="288.8" cy="22.7" r="1.4"/><circle cx="289.4" cy="25.6" r="1.4"/><circle cx="290.0" cy="22.3" r="1.4"/><circle cx="290.6" cy="20.8" r="1.4"/><circle cx="291.2" cy="20.8" r="1.4"/><circle cx="291.8" cy="19.8" r="1.4"/><circle cx="292.4" cy="20.7" r="1.4"/><circle cx="293.0" cy="20.4" r="1.4"/><circle cx="293.6" cy="21.8" r="1.4"/><circle cx="294.2" cy="20.9" r="1.4"/><circle cx="294.8" cy="22.2" r="1.4"/><circle cx="295.4" cy="24.3" r="1.4"/><circle cx="296.0" cy="20.7" r="1.4"/><circle cx="296.6" cy="22.3" r="1.4"/><circle cx="297.2" cy="22.7" r="1.4"/><circle cx="297.8" cy="30.5" r="1.4"/><circle cx="298.4" cy="31.8" r="1.4"/><circle cx="299.0" cy="32.8" r="1.4"/><circle cx="299.6" cy="35.9" r="1.4"/><circle cx="300.2" cy="37.7" r="1.4"/><circle cx="300.8" cy="45.0" r="1.4"/><circle cx="301.4" cy="47.1" r="1.4"/><circle cx="302.0" cy="51.4" r="1.4"/><circle cx="302.6" cy="54.4" r="1.4"/><circle cx="303.2" cy="52.3" r="1.4"/><circle cx="303.8" cy="57.8" r="1.4"/><circle cx="304.4" cy="63.2" r="1.4"/><circle cx="305.0" cy="68.0" r="1.4"/><circle cx="305.6" cy="67.5" r="1.4"/><circle cx="306.2" cy="71.7" r="1.4"/><circle cx="306.8" cy="72.4" r="1.4"/><circle cx="307.4" cy="72.3" r="1.4"/><circle cx="308.0" cy="76.7" r="1.4"/><circle cx="308.6" cy="74.4" r="1.4"/><circle cx="309.2" cy="74.9" r="1.4"/><circle cx="309.8" cy="80.9" r="1.4"/><circle cx="310.4" cy="80.8" r="1.4"/><circle cx="311.0" cy="78.9" r="1.4"/><circle cx="311.6" cy="80.7" r="1.4"/><circle cx="312.2" cy="77.4" r="1.4"/><circle cx="312.8" cy="78.1" r="1.4"/><circle cx="313.4" cy="79.3" r="1.4"/><circle cx="314.0" cy="79.3" r="1.4"/><circle cx="314.6" cy="79.7" r="1.4"/><circle cx="315.2" cy="76.2" r="1.4"/><circle cx="315.8" cy="80.4" r="1.4"/><circle cx="316.4" cy="76.5" r="1.4"/><circle cx="317.0" cy="78.5" r="1.4"/><circle cx="317.6" cy="83.5" r="1.4"/><circle cx="318.2" cy="80.6" r="1.4"/><circle cx="318.8" cy="78.1" r="1.4"/><circle cx="319.4" cy="79.9" r="1.4"/><circle cx="320.0" cy="78.2" r="1.4"/><circle cx="320.6" cy="78.7" r="1.4"/><circle cx="321.2" cy="78.7" r="1.4"/><circle cx="321.8" cy="79.8" r="1.4"/><circle cx="322.4" cy="80.7" r="1.4"/><circle cx="323.0" cy="82.0" r="1.4"/><circle cx="323.6" cy="85.0" r="1.4"/><circle cx="324.2" cy="82.0" r="1.4"/></g>
<g fill="#a00000"><circle cx="182.2" cy="99.6" r="1.6"/><circle cx="182.9" cy="97.7" r="1.6"/><circle cx="183.7" cy="98.0" r="1.6"/><circle cx="184.4" cy="95.9" r="1.6"/><circle cx="185.2" cy="99.0" r="1.6"/><circle cx="185.9" cy="91.6" r="1.6"/><circle cx="186.7" cy="99.1" r="1.6"/><circle cx="187.4" cy="94.8" r="1.6"/><circle cx="188.2" cy="94.9" r="1.6"/><circle cx="188.9" cy="92.2" r="1.6"/><circle cx="189.7" cy="90.3" r="1.6"/><circle cx="190.4" cy="93.5" r="1.6"/><circle cx="191.2" cy="96.7" r="1.6"/><circle cx="191.9" cy="95.3" r="1.6"/><circle cx="192.7" cy="96.7" r="1.6"/><circle cx="193.4" cy="93.4" r="1.6"/><circle cx="194.2" cy="94.4" r="1.6"/><circle cx="194.9" cy="93.2" r="1.6"/><circle cx="195.7" cy="90.3" r="1.6"/><circle cx="196.4" cy="93.0" r="1.6"/><circle cx="197.2" cy="91.7" r="1.6"/><circle cx="197.9" cy="95.1" r="1.6"/><circle cx="198.7" cy="92.1" r="1.6"/><circle cx="199.4" cy="92.4" r="1.6"/><circle cx="200.2" cy="94.0" r="1.6"/><circle cx="200.9" cy="95.0" r="1.6"/><circle cx="201.7" cy="91.8" r="1.6"/><circle cx="202.4" cy="91.7" r="1.6"/><circle cx="203.2" cy="92.4" r="1.6"/><circle cx="203.9" cy="94.7" r="1.6"/><circle cx="204.7" cy="89.0" r="1.6"/><circle cx="205.4" cy="88.4" r="1.6"/><circle cx="206.2" cy="99.9" r="1.6"/><circle cx="206.9" cy="91.1" r="1.6"/><circle cx="207.7" cy="91.8" r="1.6"/><circle cx="208.4" cy="85.5" r="1.6"/><circle cx="209.2" cy="90.2" r="1.6"/><circle cx="209.9" cy="91.2" r="1.6"/><circle cx="210.7" cy="90.0" r="1.6"/><circle cx="211.4" cy="90.6" r="1.6"/><circle cx="212.2" cy="91.5" r="1.6"/><circle cx="212.9" cy="93.2" r="1.6"/><circle cx="213.7" cy="95.2" r="1.6"/><circle cx="214.4" cy="89.2" r="1.6"/><circle cx="215.2" cy="89.3" r="1.6"/><circle cx="215.9" cy="94.9" r="1.6"/><circle cx="216.7" cy="94.3" r="1.6"/><circle cx="217.4" cy="91.9" r="1.6"/><circle cx="218.2" cy="91.0" r="1.6"/><circle cx="218.9" cy="93.3" r="1.6"/><circle cx="219.7" cy="96.2" r="1.6"/><circle cx="220.4" cy="98.5" r="1.6"/><circle cx="221.2" cy="100.3" r="1.6"/><circle cx="221.9" cy="100.0" r="1.6"/><circle cx="222.7" cy="95.7" r="1.6"/><circle cx="223.4" cy="104.2" r="1.6"/><circle cx="224.2" cy="101.8" r="1.6"/><circle cx="224.9" cy="100.1" r="1.6"/><circle cx="225.7" cy="100.5" r="1.6"/><circle cx="226.4" cy="104.2" r="1.6"/><circle cx="227.2" cy="100.8" r="1.6"/><circle cx="227.9" cy="101.6" r="1.6"/><circle cx="228.7" cy="103.2" r="1.6"/><circle cx="229.4" cy="107.5" r="1.6"/><circle cx="230.2" cy="99.6" r="1.6"/><circle cx="230.9" cy="107.0" r="1.6"/><circle cx="231.7" cy="98.5" r="1.6"/><circle cx="232.4" cy="102.2" r="1.6"/><circle cx="233.2" cy="105.6" r="1.6"/><circle cx="233.9" cy="108.3" r="1.6"/><circle cx="234.7" cy="102.0" r="1.6"/><circle cx="235.4" cy="108.8" r="1.6"/><circle cx="236.2" cy="109.7" r="1.6"/><circle cx="236.9" cy="105.2" r="1.6"/><circle cx="237.7" cy="105.9" r="1.6"/><circle cx="238.4" cy="106.4" r="1.6"/><circle cx="239.2" cy="101.7" r="1.6"/><circle cx="239.9" cy="114.4" r="1.6"/><circle cx="240.7" cy="109.0" r="1.6"/><circle cx="241.4" cy="104.0" r="1.6"/><circle cx="242.2" cy="109.6" r="1.6"/><circle cx="242.9" cy="109.5" r="1.6"/><circle cx="243.7" cy="107.9" r="1.6"/><circle cx="244.4" cy="109.1" r="1.6"/><circle cx="245.2" cy="111.7" r="1.6"/><circle cx="245.9" cy="107.8" r="1.6"/><circle cx="246.7" cy="106.7" r="1.6"/><circle cx="247.4" cy="114.7" r="1.6"/><circle cx="248.2" cy="110.9" r="1.6"/><circle cx="248.9" cy="108.7" r="1.6"/><circle cx="249.7" cy="114.7" r="1.6"/><circle cx="250.4" cy="103.5" r="1.6"/><circle cx="251.2" cy="106.8" r="1.6"/><circle cx="251.9" cy="111.8" r="1.6"/><circle cx="252.7" cy="110.6" r="1.6"/><circle cx="253.4" cy="110.8" r="1.6"/><circle cx="254.2" cy="108.4" r="1.6"/><circle cx="254.9" cy="108.1" r="1.6"/><circle cx="255.7" cy="108.3" r="1.6"/><circle cx="256.4" cy="108.8" r="1.6"/><circle cx="257.2" cy="111.8" r="1.6"/><circle cx="257.9" cy="112.7" r="1.6"/><circle cx="258.7" cy="111.5" r="1.6"/><circle cx="259.4" cy="113.8" r="1.6"/><circle cx="260.2" cy="104.8" r="1.6"/><circle cx="260.9" cy="109.4" r="1.6"/><circle cx="261.7" cy="106.9" r="1.6"/><circle cx="262.4" cy="115.2" r="1.6"/><circle cx="263.2" cy="109.6" r="1.6"/><circle cx="263.9" cy="112.3" r="1.6"/><circle cx="264.7" cy="111.4" r="1.6"/><circle cx="265.4" cy="108.7" r="1.6"/><circle cx="266.2" cy="108.3" r="1.6"/><circle cx="266.9" cy="112.2" r="1.6"/><circle cx="267.7" cy="112.3" r="1.6"/><circle cx="268.4" cy="108.0" r="1.6"/><circle cx="269.2" cy="113.6" r="1.6"/><circle cx="269.9" cy="107.6" r="1.6"/><circle cx="270.7" cy="108.8" r="1.6"/><circle cx="271.4" cy="106.2" r="1.6"/><circle cx="272.2" cy="106.3" r="1.6"/><circle cx="272.9" cy="97.3" r="1.6"/><circle cx="273.7" cy="104.1" r="1.6"/><circle cx="274.4" cy="100.8" r="1.6"/><circle cx="275.2" cy="99.7" r="1.6"/><circle cx="275.9" cy="100.1" r="1.6"/><circle cx="276.7" cy="97.4" r="1.6"/><circle cx="277.4" cy="90.6" r="1.6"/><circle cx="278.2" cy="92.4" r="1.6"/><circle cx="278.9" cy="90.0" r="1.6"/><circle cx="279.7" cy="91.2" r="1.6"/><circle cx="280.4" cy="93.8" r="1.6"/><circle cx="281.2" cy="96.0" r="1.6"/><circle cx="281.9" cy="87.1" r="1.6"/><circle cx="282.7" cy="87.6" r="1.6"/><circle cx="283.4" cy="90.7" r="1.6"/><circle cx="284.2" cy="91.8" r="1.6"/><circle cx="284.9" cy="90.7" r="1.6"/><circle cx="285.7" cy="87.8" r="1.6"/><circle cx="286.4" cy="89.9" r="1.6"/><circle cx="287.2" cy="88.4" r="1.6"/><circle cx="287.9" cy="83.5" r="1.6"/><circle cx="288.7" cy="87.7" r="1.6"/><circle cx="289.4" cy="78.7" r="1.6"/><circle cx="290.2" cy="82.8" r="1.6"/><circle cx="290.9" cy="83.0" r="1.6"/><circle cx="291.7" cy="84.8" r="1.6"/><circle cx="292.4" cy="87.4" r="1.6"/><circle cx="293.2" cy="84.3" r="1.6"/><circle cx="293.9" cy="87.2" r="1.6"/><circle cx="294.7" cy="92.4" r="1.6"/><circle cx="295.4" cy="99.3" r="1.6"/><circle cx="296.2" cy="96.7" r="1.6"/><circle cx="296.9" cy="104.6" r="1.6"/><circle cx="297.7" cy="106.6" r="1.6"/><circle cx="298.4" cy="106.1" r="1.6"/><circle cx="299.2" cy="112.9" r="1.6"/><circle cx="299.9" cy="111.7" r="1.6"/><circle cx="300.7" cy="117.9" r="1.6"/><circle cx="301.4" cy="121.7" r="1.6"/><circle cx="302.2" cy="130.9" r="1.6"/><circle cx="302.9" cy="124.9" r="1.6"/><circle cx="303.7" cy="132.1" r="1.6"/><circle cx="304.4" cy="133.0" r="1.6"/><circle cx="305.2" cy="133.4" r="1.6"/><circle cx="305.9" cy="134.1" r="1.6"/><circle cx="306.7" cy="140.2" r="1.6"/><circle cx="307.4" cy="134.9" r="1.6"/><circle cx="308.2" cy="139.2" r="1.6"/><circle cx="308.9" cy="136.6" r="1.6"/><circle cx="309.7" cy="139.3" r="1.6"/><circle cx="310.4" cy="139.8" r="1.6"/><circle cx="311.2" cy="133.1" r="1.6"/><circle cx="311.9" cy="134.9" r="1.6"/><circle cx="312.7" cy="137.4" r="1.6"/><circle cx="313.4" cy="138.0" r="1.6"/><circle cx="314.2" cy="133.8" r="1.6"/><circle cx="314.9" cy="139.1" r="1.6"/><circle cx="315.7" cy="140.6" r="1.6"/><circle cx="316.4" cy="137.7" r="1.6"/><circle cx="317.2" cy="138.4" r="1.6"/><circle cx="317.9" cy="134.5" r="1.6"/><circle cx="318.7" cy="141.2" r="1.6"/><circle cx="319.4" cy="143.4" r="1.6"/><circle cx="320.2" cy="146.2" r="1.6"/><circle cx="320.9" cy="138.7" r="1.6"/><circle cx="321.7" cy="143.7" r="1.6"/><circle cx="322.4" cy="136.8" r="1.6"/><circle cx="323.2" cy="139.6" r="1.6"/><circle cx="323.9" cy="138.8" r="1.6"/><circle cx="324.7" cy="134.1" r="1.6"/></g>
<g fill="#0000f0"><circle cx="182.2" cy="165.6" r="1.6"/><circle cx="182.9" cy="159.0" r="1.6"/><circle cx="183.7" cy="164.3" r="1.6"/><circle cx="184.4" cy="169.6" r="1.6"/><circle cx="185.2" cy="160.0" r="1.6"/><circle cx="185.9" cy="166.1" r="1.6"/><circle cx="186.7" cy="162.6" r="1.6"/><circle cx="187.4" cy="168.8" r="1.6"/><circle cx="188.2" cy="162.9" r="1.6"/><circle cx="188.9" cy="162.3" r="1.6"/><circle cx="189.7" cy="168.9" r="1.6"/><circle cx="190.4" cy="167.5" r="1.6"/><circle cx="191.2" cy="162.4" r="1.6"/><circle cx="191.9" cy="157.1" r="1.6"/><circle cx="192.7" cy="157.5" r="1.6"/><circle cx="193.4" cy="163.2" r="1.6"/><circle cx="194.2" cy="162.7" r="1.6"/><circle cx="194.9" cy="156.5" r="1.6"/><circle cx="195.7" cy="163.9" r="1.6"/><circle cx="196.4" cy="161.4" r="1.6"/><circle cx="197.2" cy="157.8" r="1.6"/><circle cx="197.9" cy="158.5" r="1.6"/><circle cx="198.7" cy="159.0" r="1.6"/><circle cx="199.4" cy="156.3" r="1.6"/><circle cx="200.2" cy="159.7" r="1.6"/><circle cx="200.9" cy="156.8" r="1.6"/><circle cx="201.7" cy="156.5" r="1.6"/><circle cx="202.4" cy="159.4" r="1.6"/><circle cx="203.2" cy="157.9" r="1.6"/><circle cx="203.9" cy="151.9" r="1.6"/><circle cx="204.7" cy="156.2" r="1.6"/><circle cx="205.4" cy="152.9" r="1.6"/><circle cx="206.2" cy="156.4" r="1.6"/><circle cx="206.9" cy="157.1" r="1.6"/><circle cx="207.7" cy="151.6" r="1.6"/><circle cx="208.4" cy="158.5" r="1.6"/><circle cx="209.2" cy="160.9" r="1.6"/><circle cx="209.9" cy="156.7" r="1.6"/><circle cx="210.7" cy="152.2" r="1.6"/><circle cx="211.4" cy="155.1" r="1.6"/><circle cx="212.2" cy="156.4" r="1.6"/><circle cx="212.9" cy="157.0" r="1.6"/><circle cx="213.7" cy="157.2" r="1.6"/><circle cx="214.4" cy="153.4" r="1.6"/><circle cx="215.2" cy="154.1" r="1.6"/><circle cx="215.9" cy="157.7" r="1.6"/><circle cx="216.7" cy="164.4" r="1.6"/><circle cx="217.4" cy="156.7" r="1.6"/><circle cx="218.2" cy="156.3" r="1.6"/><circle cx="218.9" cy="158.6" r="1.6"/><circle cx="219.7" cy="162.4" r="1.6"/><circle cx="220.4" cy="158.2" r="1.6"/><circle cx="221.2" cy="151.3" r="1.6"/><circle cx="221.9" cy="158.6" r="1.6"/><circle cx="222.7" cy="159.6" r="1.6"/><circle cx="223.4" cy="160.0" r="1.6"/><circle cx="224.2" cy="160.3" r="1.6"/><circle cx="224.9" cy="162.6" r="1.6"/><circle cx="225.7" cy="173.9" r="1.6"/><circle cx="226.4" cy="169.6" r="1.6"/><circle cx="227.2" cy="169.0" r="1.6"/><circle cx="227.9" cy="165.1" r="1.6"/><circle cx="228.7" cy="168.2" r="1.6"/><circle cx="229.4" cy="171.0" r="1.6"/><circle cx="230.2" cy="169.8" r="1.6"/><circle cx="230.9" cy="170.2" r="1.6"/><circle cx="231.7" cy="175.9" r="1.6"/><circle cx="232.4" cy="175.5" r="1.6"/><circle cx="233.2" cy="173.3" r="1.6"/><circle cx="233.9" cy="167.3" r="1.6"/><circle cx="234.7" cy="172.6" r="1.6"/><circle cx="235.4" cy="169.3" r="1.6"/><circle cx="236.2" cy="170.8" r="1.6"/><circle cx="236.9" cy="172.7" r="1.6"/><circle cx="237.7" cy="174.4" r="1.6"/><circle cx="238.4" cy="176.6" r="1.6"/><circle cx="239.2" cy="166.9" r="1.6"/><circle cx="239.9" cy="176.3" r="1.6"/><circle cx="240.7" cy="172.7" r="1.6"/><circle cx="241.4" cy="174.5" r="1.6"/><circle cx="242.2" cy="172.1" r="1.6"/><circle cx="242.9" cy="179.7" r="1.6"/><circle cx="243.7" cy="175.2" r="1.6"/><circle cx="244.4" cy="177.8" r="1.6"/><circle cx="245.2" cy="173.1" r="1.6"/><circle cx="245.9" cy="178.6" r="1.6"/><circle cx="246.7" cy="176.4" r="1.6"/><circle cx="247.4" cy="173.5" r="1.6"/><circle cx="248.2" cy="175.5" r="1.6"/><circle cx="248.9" cy="174.4" r="1.6"/><circle cx="249.7" cy="174.0" r="1.6"/><circle cx="250.4" cy="180.5" r="1.6"/><circle cx="251.2" cy="177.5" r="1.6"/><circle cx="251.9" cy="175.6" r="1.6"/><circle cx="252.7" cy="172.4" r="1.6"/><circle cx="253.4" cy="180.3" r="1.6"/><circle cx="254.2" cy="177.3" r="1.6"/><circle cx="254.9" cy="176.8" r="1.6"/><circle cx="255.7" cy="175.7" r="1.6"/><circle cx="256.4" cy="182.9" r="1.6"/><circle cx="257.2" cy="182.2" r="1.6"/><circle cx="257.9" cy="177.9" r="1.6"/><circle cx="258.7" cy="177.7" r="1.6"/><circle cx="259.4" cy="178.2" r="1.6"/><circle cx="260.2" cy="179.1" r="1.6"/><circle cx="260.9" cy="179.5" r="1.6"/><circle cx="261.7" cy="175.4" r="1.6"/><circle cx="262.4" cy="177.4" r="1.6"/><circle cx="263.2" cy="179.1" r="1.6"/><circle cx="263.9" cy="181.8" r="1.6"/><circle cx="264.7" cy="179.9" r="1.6"/><circle cx="265.4" cy="178.1" r="1.6"/><circle cx="266.2" cy="174.7" r="1.6"/><circle cx="266.9" cy="177.5" r="1.6"/><circle cx="267.7" cy="177.9" r="1.6"/><circle cx="268.4" cy="177.2" r="1.6"/><circle cx="269.2" cy="177.2" r="1.6"/><circle cx="269.9" cy="171.4" r="1.6"/><circle cx="270.7" cy="169.7" r="1.6"/><circle cx="271.4" cy="173.9" r="1.6"/><circle cx="272.2" cy="168.8" r="1.6"/><circle cx="272.9" cy="171.5" r="1.6"/><circle cx="273.7" cy="169.3" r="1.6"/><circle cx="274.4" cy="164.3" r="1.6"/><circle cx="275.2" cy="168.1" r="1.6"/><circle cx="275.9" cy="166.7" r="1.6"/><circle cx="276.7" cy="165.5" r="1.6"/><circle cx="277.4" cy="164.2" r="1.6"/><circle cx="278.2" cy="160.7" r="1.6"/><circle cx="278.9" cy="161.7" r="1.6"/><circle cx="279.7" cy="160.8" r="1.6"/><circle cx="280.4" cy="164.0" r="1.6"/><circle cx="281.2" cy="159.1" r="1.6"/><circle cx="281.9" cy="159.4" r="1.6"/><circle cx="282.7" cy="162.4" r="1.6"/><circle cx="283.4" cy="150.6" r="1.6"/><circle cx="284.2" cy="157.9" r="1.6"/><circle cx="284.9" cy="154.1" r="1.6"/><circle cx="285.7" cy="151.0" r="1.6"/><circle cx="286.4" cy="147.3" r="1.6"/><circle cx="287.2" cy="152.7" r="1.6"/><circle cx="287.9" cy="149.0" r="1.6"/><circle cx="288.7" cy="145.5" r="1.6"/><circle cx="289.4" cy="142.3" r="1.6"/><circle cx="290.2" cy="148.3" r="1.6"/><circle cx="290.9" cy="150.2" r="1.6"/><circle cx="291.7" cy="143.8" r="1.6"/><circle cx="292.4" cy="147.4" r="1.6"/><circle cx="293.2" cy="149.8" r="1.6"/><circle cx="293.9" cy="153.5" r="1.6"/><circle cx="294.7" cy="152.6" r="1.6"/><circle cx="295.4" cy="163.0" r="1.6"/><circle cx="296.2" cy="159.8" r="1.6"/><circle cx="296.9" cy="162.0" r="1.6"/><circle cx="297.7" cy="163.7" r="1.6"/><circle cx="298.4" cy="166.0" r="1.6"/><circle cx="299.2" cy="174.9" r="1.6"/><circle cx="299.9" cy="176.6" r="1.6"/><circle cx="300.7" cy="177.7" r="1.6"/><circle cx="301.4" cy="180.5" r="1.6"/><circle cx="302.2" cy="189.6" r="1.6"/><circle cx="302.9" cy="193.0" r="1.6"/><circle cx="303.7" cy="194.2" r="1.6"/><circle cx="304.4" cy="195.6" r="1.6"/><circle cx="305.2" cy="196.7" r="1.6"/><circle cx="305.9" cy="203.5" r="1.6"/><circle cx="306.7" cy="205.3" r="1.6"/><circle cx="307.4" cy="202.9" r="1.6"/><circle cx="308.2" cy="202.1" r="1.6"/><circle cx="308.9" cy="208.1" r="1.6"/><circle cx="309.7" cy="201.3" r="1.6"/><circle cx="310.4" cy="205.2" r="1.6"/><circle cx="311.2" cy="210.4" r="1.6"/><circle cx="311.9" cy="204.8" r="1.6"/><circle cx="312.7" cy="204.2" r="1.6"/><circle cx="313.4" cy="198.5" r="1.6"/><circle cx="314.2" cy="202.5" r="1.6"/><circle cx="314.9" cy="204.9" r="1.6"/><circle cx="315.7" cy="211.0" r="1.6"/><circle cx="316.4" cy="202.0" r="1.6"/><circle cx="317.2" cy="212.4" r="1.6"/><circle cx="317.9" cy="206.1" r="1.6"/><circle cx="318.7" cy="205.4" r="1.6"/><circle cx="319.4" cy="207.6" r="1.6"/><circle cx="320.2" cy="202.6" r="1.6"/><circle cx="320.9" cy="207.9" r="1.6"/><circle cx="321.7" cy="211.4" r="1.6"/><circle cx="322.4" cy="200.9" r="1.6"/><circle cx="323.2" cy="204.0" r="1.6"/><circle cx="323.9" cy="203.0" r="1.6"/><circle cx="324.7" cy="207.2" r="1.6"/></g>
<g fill="#ff0000"><circle cx="182.2" cy="233.9" r="1.6"/><circle cx="182.9" cy="229.6" r="1.6"/><circle cx="183.6" cy="233.0" r="1.6"/><circle cx="184.3" cy="228.0" r="1.6"/><circle cx="185.0" cy="231.2" r="1.6"/><circle cx="185.7" cy="231.9" r="1.6"/><circle cx="186.4" cy="227.2" r="1.6"/><circle cx="187.1" cy="230.0" r="1.6"/><circle cx="187.8" cy="231.5" r="1.6"/><circle cx="188.5" cy="234.4" r="1.6"/><circle cx="189.2" cy="229.8" r="1.6"/><circle cx="189.9" cy="231.9" r="1.6"/><circle cx="190.6" cy="229.3" r="1.6"/><circle cx="191.3" cy="231.7" r="1.6"/><circle cx="192.0" cy="233.8" r="1.6"/><circle cx="192.7" cy="231.9" r="1.6"/><circle cx="193.4" cy="226.6" r="1.6"/><circle cx="194.1" cy="226.8" r="1.6"/><circle cx="194.8" cy="225.8" r="1.6"/><circle cx="195.5" cy="227.0" r="1.6"/><circle cx="196.2" cy="225.0" r="1.6"/><circle cx="196.9" cy="230.3" r="1.6"/><circle cx="197.6" cy="226.8" r="1.6"/><circle cx="198.3" cy="229.9" r="1.6"/><circle cx="199.0" cy="225.7" r="1.6"/><circle cx="199.7" cy="225.7" r="1.6"/><circle cx="200.4" cy="224.8" r="1.6"/><circle cx="201.1" cy="225.3" r="1.6"/><circle cx="201.8" cy="225.2" r="1.6"/><circle cx="202.5" cy="224.6" r="1.6"/><circle cx="203.2" cy="222.7" r="1.6"/><circle cx="203.9" cy="221.5" r="1.6"/><circle cx="204.6" cy="223.3" r="1.6"/><circle cx="205.3" cy="224.2" r="1.6"/><circle cx="206.0" cy="223.3" r="1.6"/><circle cx="206.7" cy="220.2" r="1.6"/><circle cx="207.4" cy="223.2" r="1.6"/><circle cx="208.1" cy="220.5" r="1.6"/><circle cx="208.8" cy="218.0" r="1.6"/><circle cx="209.5" cy="220.4" r="1.6"/><circle cx="210.2" cy="217.5" r="1.6"/><circle cx="210.9" cy="221.5" r="1.6"/><circle cx="211.6" cy="219.2" r="1.6"/><circle cx="212.3" cy="216.9" r="1.6"/><circle cx="213.0" cy="216.9" r="1.6"/><circle cx="213.7" cy="217.3" r="1.6"/><circle cx="214.4" cy="216.1" r="1.6"/><circle cx="215.1" cy="215.2" r="1.6"/><circle cx="215.8" cy="219.5" r="1.6"/><circle cx="216.5" cy="215.4" r="1.6"/><circle cx="217.2" cy="215.1" r="1.6"/><circle cx="217.9" cy="213.3" r="1.6"/><circle cx="218.6" cy="218.3" r="1.6"/><circle cx="219.3" cy="219.2" r="1.6"/><circle cx="220.0" cy="221.0" r="1.6"/><circle cx="220.7" cy="219.8" r="1.6"/><circle cx="221.4" cy="225.1" r="1.6"/><circle cx="222.1" cy="222.1" r="1.6"/><circle cx="222.8" cy="223.2" r="1.6"/><circle cx="223.5" cy="225.9" r="1.6"/><circle cx="224.2" cy="227.1" r="1.6"/><circle cx="224.9" cy="229.7" r="1.6"/><circle cx="225.6" cy="234.0" r="1.6"/><circle cx="226.3" cy="231.3" r="1.6"/><circle cx="227.0" cy="234.7" r="1.6"/><circle cx="227.7" cy="234.6" r="1.6"/><circle cx="228.4" cy="233.5" r="1.6"/><circle cx="229.1" cy="232.8" r="1.6"/><circle cx="229.8" cy="235.9" r="1.6"/><circle cx="230.5" cy="234.8" r="1.6"/><circle cx="231.2" cy="235.9" r="1.6"/><circle cx="231.9" cy="238.1" r="1.6"/><circle cx="232.6" cy="237.4" r="1.6"/><circle cx="233.3" cy="239.9" r="1.6"/><circle cx="234.0" cy="235.4" r="1.6"/><circle cx="234.7" cy="236.8" r="1.6"/><circle cx="235.4" cy="243.2" r="1.6"/><circle cx="236.1" cy="240.3" r="1.6"/><circle cx="236.8" cy="239.4" r="1.6"/><circle cx="237.5" cy="240.0" r="1.6"/><circle cx="238.2" cy="236.6" r="1.6"/><circle cx="238.9" cy="236.9" r="1.6"/><circle cx="239.6" cy="240.2" r="1.6"/><circle cx="240.3" cy="235.3" r="1.6"/><circle cx="241.0" cy="239.7" r="1.6"/><circle cx="241.7" cy="235.1" r="1.6"/><circle cx="242.4" cy="240.9" r="1.6"/><circle cx="243.1" cy="239.6" r="1.6"/><circle cx="243.8" cy="238.4" r="1.6"/><circle cx="244.5" cy="239.4" r="1.6"/><circle cx="245.2" cy="239.3" r="1.6"/><circle cx="245.9" cy="237.3" r="1.6"/><circle cx="246.6" cy="236.8" r="1.6"/><circle cx="247.3" cy="238.8" r="1.6"/><circle cx="248.0" cy="240.3" r="1.6"/><circle cx="248.7" cy="238.2" r="1.6"/><circle cx="249.4" cy="240.4" r="1.6"/><circle cx="250.1" cy="243.6" r="1.6"/><circle cx="250.8" cy="240.6" r="1.6"/><circle cx="251.5" cy="240.9" r="1.6"/><circle cx="252.2" cy="238.8" r="1.6"/><circle cx="252.9" cy="244.3" r="1.6"/><circle cx="253.6" cy="241.9" r="1.6"/><circle cx="254.3" cy="241.8" r="1.6"/><circle cx="255.0" cy="240.7" r="1.6"/><circle cx="255.7" cy="244.9" r="1.6"/><circle cx="256.4" cy="243.4" r="1.6"/><circle cx="257.1" cy="244.4" r="1.6"/><circle cx="257.8" cy="243.7" r="1.6"/><circle cx="258.5" cy="242.5" r="1.6"/><circle cx="259.2" cy="245.2" r="1.6"/><circle cx="259.9" cy="245.8" r="1.6"/><circle cx="260.6" cy="244.1" r="1.6"/><circle cx="261.3" cy="244.2" r="1.6"/><circle cx="262.0" cy="245.6" r="1.6"/><circle cx="262.7" cy="245.2" r="1.6"/><circle cx="263.4" cy="248.4" r="1.6"/><circle cx="264.1" cy="249.5" r="1.6"/><circle cx="264.8" cy="245.2" r="1.6"/><circle cx="265.5" cy="244.2" r="1.6"/><circle cx="266.2" cy="246.7" r="1.6"/><circle cx="266.9" cy="245.2" r="1.6"/><circle cx="267.6" cy="244.1" r="1.6"/><circle cx="268.3" cy="243.2" r="1.6"/><circle cx="269.0" cy="244.1" r="1.6"/><circle cx="269.7" cy="242.6" r="1.6"/><circle cx="270.4" cy="242.1" r="1.6"/><circle cx="271.1" cy="242.2" r="1.6"/><circle cx="271.8" cy="236.4" r="1.6"/><circle cx="272.5" cy="240.5" r="1.6"/><circle cx="273.2" cy="240.1" r="1.6"/><circle cx="273.9" cy="239.1" r="1.6"/><circle cx="274.6" cy="237.9" r="1.6"/><circle cx="275.3" cy="235.7" r="1.6"/><circle cx="276.0" cy="234.5" r="1.6"/><circle cx="276.7" cy="237.0" r="1.6"/><circle cx="277.4" cy="234.3" r="1.6"/><circle cx="278.1" cy="238.7" r="1.6"/><circle cx="278.8" cy="236.6" r="1.6"/><circle cx="279.5" cy="234.6" r="1.6"/><circle cx="280.2" cy="235.8" r="1.6"/><circle cx="280.9" cy="233.6" r="1.6"/><circle cx="281.6" cy="231.6" r="1.6"/><circle cx="282.3" cy="233.4" r="1.6"/><circle cx="283.0" cy="230.4" r="1.6"/><circle cx="283.7" cy="229.0" r="1.6"/><circle cx="284.4" cy="228.5" r="1.6"/><circle cx="285.1" cy="227.2" r="1.6"/><circle cx="285.8" cy="226.1" r="1.6"/><circle cx="286.5" cy="223.0" r="1.6"/><circle cx="287.2" cy="221.8" r="1.6"/><circle cx="287.9" cy="221.6" r="1.6"/><circle cx="288.6" cy="218.8" r="1.6"/><circle cx="289.3" cy="216.7" r="1.6"/><circle cx="290.0" cy="211.5" r="1.6"/><circle cx="290.7" cy="211.2" r="1.6"/><circle cx="291.4" cy="209.7" r="1.6"/><circle cx="292.1" cy="210.4" r="1.6"/><circle cx="292.8" cy="211.1" r="1.6"/><circle cx="293.5" cy="209.1" r="1.6"/><circle cx="294.2" cy="210.2" r="1.6"/><circle cx="294.9" cy="210.7" r="1.6"/><circle cx="295.6" cy="212.2" r="1.6"/><circle cx="296.3" cy="212.4" r="1.6"/><circle cx="297.0" cy="213.8" r="1.6"/><circle cx="297.7" cy="216.1" r="1.6"/><circle cx="298.4" cy="219.5" r="1.6"/><circle cx="299.1" cy="225.5" r="1.6"/><circle cx="299.8" cy="229.9" r="1.6"/><circle cx="300.5" cy="231.8" r="1.6"/><circle cx="301.2" cy="233.6" r="1.6"/><circle cx="301.9" cy="238.4" r="1.6"/><circle cx="302.6" cy="242.9" r="1.6"/><circle cx="303.3" cy="242.2" r="1.6"/><circle cx="304.0" cy="247.8" r="1.6"/><circle cx="304.7" cy="255.2" r="1.6"/><circle cx="305.4" cy="256.5" r="1.6"/><circle cx="306.1" cy="258.6" r="1.6"/><circle cx="306.8" cy="264.0" r="1.6"/><circle cx="307.5" cy="265.3" r="1.6"/><circle cx="308.2" cy="269.9" r="1.6"/><circle cx="308.9" cy="271.3" r="1.6"/><circle cx="309.6" cy="272.2" r="1.6"/><circle cx="310.3" cy="272.4" r="1.6"/><circle cx="311.0" cy="272.7" r="1.6"/><circle cx="311.7" cy="274.7" r="1.6"/><circle cx="312.4" cy="273.8" r="1.6"/><circle cx="313.1" cy="272.8" r="1.6"/><circle cx="313.8" cy="273.7" r="1.6"/><circle cx="314.5" cy="270.6" r="1.6"/><circle cx="315.2" cy="273.5" r="1.6"/><circle cx="315.9" cy="277.3" r="1.6"/><circle cx="316.6" cy="276.4" r="1.6"/><circle cx="317.3" cy="275.3" r="1.6"/><circle cx="318.0" cy="273.0" r="1.6"/><circle cx="318.7" cy="274.5" r="1.6"/><circle cx="319.4" cy="278.4" r="1.6"/><circle cx="320.1" cy="274.8" r="1.6"/><circle cx="320.8" cy="274.8" r="1.6"/><circle cx="321.5" cy="276.9" r="1.6"/><circle cx="322.2" cy="277.8" r="1.6"/><circle cx="322.9" cy="276.5" r="1.6"/><circle cx="323.6" cy="277.9" r="1.6"/><circle cx="324.3" cy="274.3" r="1.6"/></g>
<polyline points="380.0,89.9 380.5,89.9 381.0,89.9 381.5,89.9 382.0,89.9 382.5,90.0 383.0,90.0 383.5,90.0 384.0,90.0 384.5,90.0 385.0,90.0 385.5,90.0 386.0,90.0 386.5,90.1 387.0,90.1 387.5,90.1 388.0,90.1 388.5,90.1 389.0,90.1 389.5,90.1 390.0,90.1 390.5,90.2 391.1,90.2 391.6,90.2 392.1,90.2 392.6,90.2 393.1,90.2 393.6,90.2 394.1,90.2 394.6,90.3 395.1,90.3 395.6,90.3 396.1,90.3 396.6,90.3 397.1,90.3 397.6,90.3 398.1,90.3 398.6,90.4 399.1,90.4 399.6,90.4 400.1,90.4 400.6,90.4 401.1,90.4 401.6,90.4 402.1,90.4 402.6,90.5 403.1,90.5 403.6,90.5 404.1,90.5 404.6,90.5 405.1,90.5 405.6,90.5 406.1,90.5 406.6,90.6 407.1,90.6 407.6,90.6 408.1,90.6 408.6,90.6 409.1,90.6 409.6,90.6 410.1,90.6 410.6,90.6 411.1,90.7 411.6,90.7 412.1,90.7 412.6,90.7 413.2,90.7 413.7,90.7 414.2,90.7 414.7,90.7 415.2,90.7 415.7,90.7 416.2,90.7 416.7,90.7 417.2,90.7 417.7,90.7 418.2,90.6 418.7,90.6 419.2,90.5 419.7,90.5 420.2,90.4 420.7,90.3 421.2,90.1 421.7,90.0 422.2,89.8 422.7,89.6 423.2,89.3 423.7,89.0 424.2,88.6 424.7,88.2 425.2,87.7 425.7,87.1 426.2,86.4 426.7,85.6 427.2,84.8 427.7,83.8 428.2,82.7 428.7,81.5 429.2,80.1 429.7,78.6 430.2,77.0 430.7,75.2 431.2,73.3 431.7,71.3 432.2,69.1 432.7,66.8 433.2,64.3 433.7,61.8 434.2,59.1 434.7,56.4 435.3,53.7 435.8,50.8 436.3,48.0 436.8,45.2 437.3,42.4 437.8,39.7 438.3,37.1 438.8,34.7 439.3,32.3 439.8,30.2 440.3,28.3 440.8,26.6 441.3,25.2 441.8,24.1 442.3,23.3 442.8,22.7 443.3,22.5 443.8,22.6 444.3,23.0 444.8,23.7 445.3,24.8 445.8,26.1 446.3,27.7 446.8,29.5 447.3,31.6 447.8,33.8 448.3,36.2 448.8,38.8 449.3,41.5 449.8,44.3 450.3,47.1 450.8,49.9 451.3,52.8 451.8,55.6 452.3,58.4 452.8,61.1 453.3,63.7 453.8,66.2 454.3,68.6 454.8,70.9 455.3,73.0 455.8,75.0 456.3,76.9 456.8,78.6 457.4,80.1 457.9,81.6 458.4,82.9 458.9,84.1 459.4,85.1 459.9,86.1 460.4,86.9 460.9,87.6 461.4,88.3 461.9,88.9 462.4,89.3 462.9,89.8 463.4,90.1 463.9,90.5 464.4,90.7 464.9,91.0 465.4,91.2 465.9,91.3 466.4,91.5 466.9,91.6 467.4,91.7 467.9,91.8 468.4,91.8 468.9,91.9 469.4,92.0 469.9,92.0 470.4,92.0 470.9,92.1 471.4,92.1 471.9,92.1 472.4,92.1 472.9,92.2 473.4,92.2 473.9,92.2 474.4,92.2 474.9,92.2 475.4,92.2 475.9,92.3 476.4,92.3 476.9,92.3 477.4,92.3 477.9,92.3 478.4,92.3 478.9,92.3 479.5,92.3 480.0,92.4 480.5,92.4 481.0,92.4 481.5,92.4 482.0,92.4 482.5,92.4 483.0,92.4 483.5,92.4 484.0,92.5 484.5,92.5 485.0,92.5 485.5,92.5 486.0,92.5 486.5,92.5 487.0,92.5 487.5,92.5 488.0,92.6 488.5,92.6 489.0,92.6 489.5,92.6 490.0,92.6" fill="none" stroke="#404040" stroke-width="0.8"/>
<polygon points="380.0,89.9 380.5,89.9 381.0,89.9 381.5,89.9 382.0,89.9 382.5,89.9 383.0,89.9 383.5,90.0 384.0,90.0 384.5,90.0 385.0,90.0 385.5,90.0 386.0,90.0 386.5,90.0 387.0,90.0 387.5,90.0 388.0,90.0 388.5,90.0 389.0,89.9 389.5,89.9 390.0,89.9 390.5,89.9 391.1,89.9 391.6,89.8 392.1,89.8 392.6,89.8 393.1,89.7 393.6,89.6 394.1,89.6 394.6,89.5 395.1,89.4 395.6,89.3 396.1,89.2 396.6,89.1 397.1,89.0 397.6,88.8 398.1,88.6 398.6,88.5 399.1,88.3 399.6,88.0 400.1,87.8 400.6,87.6 401.1,87.3 401.6,87.0 402.1,86.6 402.6,86.3 403.1,85.9 403.6,85.5 404.1,85.1 404.6,84.6 405.1,84.1 405.6,83.6 406.1,83.1 406.6,82.5 407.1,81.9 407.6,81.2 408.1,80.6 408.6,79.9 409.1,79.2 409.6,78.4 410.1,77.7 410.6,76.9 411.1,76.1 411.6,75.3 412.1,74.4 412.6,73.6 413.2,72.7 413.7,71.8 414.2,71.0 414.7,70.1 415.2,69.2 415.7,68.4 416.2,67.5 416.7,66.7 417.2,65.8 417.7,65.0 418.2,64.3 418.7,63.5 419.2,62.8 419.7,62.2 420.2,61.5 420.7,60.9 421.2,60.4 421.7,59.9 422.2,59.5 422.7,59.1 423.2,58.8 423.7,58.6 424.2,58.4 424.7,58.3 425.2,58.2 425.7,58.2 426.2,58.3 426.7,58.5 427.2,58.8 427.7,59.2 428.2,59.6 428.7,60.2 429.2,60.8 429.7,61.5 430.2,62.3 430.7,63.1 431.2,64.0 431.7,64.9 432.2,65.9 432.7,66.9 433.2,68.0 433.7,69.0 434.2,70.1 434.7,71.2 435.3,72.3 435.8,73.4 436.3,74.4 436.8,75.5 437.3,76.5 437.8,77.5 438.3,78.5 438.8,79.5 439.3,80.4 439.8,81.2 440.3,82.1 440.8,82.9 441.3,83.6 441.8,84.3 442.3,85.0 442.8,85.6 443.3,86.2 443.8,86.7 444.3,87.2 444.8,87.7 445.3,88.1 445.8,88.5 446.3,88.8 446.8,89.1 447.3,89.4 447.8,89.7 448.3,89.9 448.8,90.2 449.3,90.4 449.8,90.5 450.3,90.7 450.8,90.8 451.3,91.0 451.8,91.1 452.3,91.2 452.8,91.2 453.3,91.3 453.8,91.4 454.3,91.5 454.8,91.5 455.3,91.6 455.8,91.6 456.3,91.6 456.8,91.7 457.4,91.7 457.9,91.7 458.4,91.8 458.9,91.8 459.4,91.8 459.9,91.8 460.4,91.8 460.9,91.9 461.4,91.9 461.9,91.9 462.4,91.9 462.9,91.9 463.4,91.9 463.9,92.0 464.4,92.0 464.9,92.0 465.4,92.0 465.9,92.0 466.4,92.0 466.9,92.0 467.4,92.0 467.9,92.1 468.4,92.1 468.9,92.1 469.4,92.1 469.9,92.1 470.4,92.1 470.9,92.1 471.4,92.1 471.9,92.2 472.4,92.2 472.9,92.2 473.4,92.2 473.9,92.2 474.4,92.2 474.9,92.2 475.4,92.2 475.9,92.3 476.4,92.3 476.9,92.3 477.4,92.3 477.9,92.3 478.4,92.3 478.9,92.3 479.5,92.3 480.0,92.4 480.5,92.4 481.0,92.4 481.5,92.4 482.0,92.4 482.5,92.4 483.0,92.4 483.5,92.4 484.0,92.5 484.5,92.5 485.0,92.5 485.5,92.5 486.0,92.5 486.5,92.5 487.0,92.5 487.5,92.5 488.0,92.6 488.5,92.6 489.0,92.6 489.5,92.6 490.0,92.6 490.0,92.6 489.5,92.6 489.0,92.6 488.5,92.6 488.0,92.6 487.5,92.5 487.0,92.5 486.5,92.5 486.0,92.5 485.5,92.5 485.0,92.5 484.5,92.5 484.0,92.5 483.5,92.4 483.0,92.4 482.5,92.4 482.0,92.4 481.5,92.4 481.0,92.4 480.5,92.4 480.0,92.4 479.5,92.3 478.9,92.3 478.4,92.3 477.9,92.3 477.4,92.3 476.9,92.3 476.4,92.3 475.9,92.3 475.4,92.2 474.9,92.2 474.4,92.2 473.9,92.2 473.4,92.2 472.9,92.2 472.4,92.2 471.9,92.2 471.4,92.1 470.9,92.1 470.4,92.1 469.9,92.1 469.4,92.1 468.9,92.1 468.4,92.1 467.9,92.1 467.4,92.0 466.9,92.0 466.4,92.0 465.9,92.0 465.4,92.0 464.9,92.0 464.4,92.0 463.9,92.0 463.4,91.9 462.9,91.9 462.4,91.9 461.9,91.9 461.4,91.9 460.9,91.9 460.4,91.9 459.9,91.9 459.4,91.8 458.9,91.8 458.4,91.8 457.9,91.8 457.4,91.8 456.8,91.8 456.3,91.8 455.8,91.8 455.3,91.7 454.8,91.7 454.3,91.7 453.8,91.7 453.3,91.7 452.8,91.7 452.3,91.7 451.8,91.7 451.3,91.7 450.8,91.6 450.3,91.6 449.8,91.6 449.3,91.6 448.8,91.6 448.3,91.6 447.8,91.6 447.3,91.6 446.8,91.5 446.3,91.5 445.8,91.5 445.3,91.5 444.8,91.5 444.3,91.5 443.8,91.5 443.3,91.5 442.8,91.4 442.3,91.4 441.8,91.4 441.3,91.4 440.8,91.4 440.3,91.4 439.8,91.4 439.3,91.4 438.8,91.3 438.3,91.3 437.8,91.3 437.3,91.3 436.8,91.3 436.3,91.3 435.8,91.3 435.3,91.3 434.7,91.2 434.2,91.2 433.7,91.2 433.2,91.2 432.7,91.2 432.2,91.2 431.7,91.2 431.2,91.2 430.7,91.1 430.2,91.1 429.7,91.1 429.2,91.1 428.7,91.1 428.2,91.1 427.7,91.1 427.2,91.1 426.7,91.0 426.2,91.0 425.7,91.0 425.2,91.0 424.7,91.0 424.2,91.0 423.7,91.0 423.2,91.0 422.7,90.9 422.2,90.9 421.7,90.9 421.2,90.9 420.7,90.9 420.2,90.9 419.7,90.9 419.2,90.9 418.7,90.8 418.2,90.8 417.7,90.8 417.2,90.8 416.7,90.8 416.2,90.8 415.7,90.8 415.2,90.8 414.7,90.8 414.2,90.7 413.7,90.7 413.2,90.7 412.6,90.7 412.1,90.7 411.6,90.7 411.1,90.7 410.6,90.7 410.1,90.6 409.6,90.6 409.1,90.6 408.6,90.6 408.1,90.6 407.6,90.6 407.1,90.6 406.6,90.6 406.1,90.5 405.6,90.5 405.1,90.5 404.6,90.5 404.1,90.5 403.6,90.5 403.1,90.5 402.6,90.5 402.1,90.4 401.6,90.4 401.1,90.4 400.6,90.4 400.1,90.4 399.6,90.4 399.1,90.4 398.6,90.4 398.1,90.3 397.6,90.3 397.1,90.3 396.6,90.3 396.1,90.3 395.6,90.3 395.1,90.3 394.6,90.3 394.1,90.2 393.6,90.2 393.1,90.2 392.6,90.2 392.1,90.2 391.6,90.2 391.1,90.2 390.5,90.2 390.0,90.1 389.5,90.1 389.0,90.1 388.5,90.1 388.0,90.1 387.5,90.1 387.0,90.1 386.5,90.1 386.0,90.0 385.5,90.0 385.0,90.0 384.5,90.0 384.0,90.0 383.5,90.0 383.0,90.0 382.5,90.0 382.0,89.9 381.5,89.9 381.0,89.9 380.5,89.9 380.0,89.9" fill="#e4e4e4" stroke="none"/>
<polyline points="380.0,89.9 380.5,89.9 381.0,89.9 381.5,89.9 382.0,89.9 382.5,89.9 383.0,89.9 383.5,90.0 384.0,90.0 384.5,90.0 385.0,90.0 385.5,90.0 386.0,90.0 386.5,90.0 387.0,90.0 387.5,90.0 388.0,90.0 388.5,90.0 389.0,89.9 389.5,89.9 390.0,89.9 390.5,89.9 391.1,89.9 391.6,89.8 392.1,89.8 392.6,89.8 393.1,89.7 393.6,89.6 394.1,89.6 394.6,89.5 395.1,89.4 395.6,89.3 396.1,89.2 396.6,89.1 397.1,89.0 397.6,88.8 398.1,88.6 398.6,88.5 399.1,88.3 399.6,88.0 400.1,87.8 400.6,87.6 401.1,87.3 401.6,87.0 402.1,86.6 402.6,86.3 403.1,85.9 403.6,85.5 404.1,85.1 404.6,84.6 405.1,84.1 405.6,83.6 406.1,83.1 406.6,82.5 407.1,81.9 407.6,81.2 408.1,80.6 408.6,79.9 409.1,79.2 409.6,78.4 410.1,77.7 410.6,76.9 411.1,76.1 411.6,75.3 412.1,74.4 412.6,73.6 413.2,72.7 413.7,71.8 414.2,71.0 414.7,70.1 415.2,69.2 415.7,68.4 416.2,67.5 416.7,66.7 417.2,65.8 417.7,65.0 418.2,64.3 418.7,63.5 419.2,62.8 419.7,62.2 420.2,61.5 420.7,60.9 421.2,60.4 421.7,59.9 422.2,59.5 422.7,59.1 423.2,58.8 423.7,58.6 424.2,58.4 424.7,58.3 425.2,58.2 425.7,58.2 426.2,58.3 426.7,58.5 427.2,58.8 427.7,59.2 428.2,59.6 428.7,60.2 429.2,60.8 429.7,61.5 430.2,62.3 430.7,63.1 431.2,64.0 431.7,64.9 432.2,65.9 432.7,66.9 433.2,68.0 433.7,69.0 434.2,70.1 434.7,71.2 435.3,72.3 435.8,73.4 436.3,74.4 436.8,75.5 437.3,76.5 437.8,77.5 438.3,78.5 438.8,79.5 439.3,80.4 439.8,81.2 440.3,82.1 440.8,82.9 441.3,83.6 441.8,84.3 442.3,85.0 442.8,85.6 443.3,86.2 443.8,86.7 444.3,87.2 444.8,87.7 445.3,88.1 445.8,88.5 446.3,88.8 446.8,89.1 447.3,89.4 447.8,89.7 448.3,89.9 448.8,90.2 449.3,90.4 449.8,90.5 450.3,90.7 450.8,90.8 451.3,91.0 451.8,91.1 452.3,91.2 452.8,91.2 453.3,91.3 453.8,91.4 454.3,91.5 454.8,91.5 455.3,91.6 455.8,91.6 456.3,91.6 456.8,91.7 457.4,91.7 457.9,91.7 458.4,91.8 458.9,91.8 459.4,91.8 459.9,91.8 460.4,91.8 460.9,91.9 461.4,91.9 461.9,91.9 462.4,91.9 462.9,91.9 463.4,91.9 463.9,92.0 464.4,92.0 464.9,92.0 465.4,92.0 465.9,92.0 466.4,92.0 466.9,92.0 467.4,92.0 467.9,92.1 468.4,92.1 468.9,92.1 469.4,92.1 469.9,92.1 470.4,92.1 470.9,92.1 471.4,92.1 471.9,92.2 472.4,92.2 472.9,92.2 473.4,92.2 473.9,92.2 474.4,92.2 474.9,92.2 475.4,92.2 475.9,92.3 476.4,92.3 476.9,92.3 477.4,92.3 477.9,92.3 478.4,92.3 478.9,92.3 479.5,92.3 480.0,92.4 480.5,92.4 481.0,92.4 481.5,92.4 482.0,92.4 482.5,92.4 483.0,92.4 483.5,92.4 484.0,92.5 484.5,92.5 485.0,92.5 485.5,92.5 486.0,92.5 486.5,92.5 487.0,92.5 487.5,92.5 488.0,92.6 488.5,92.6 489.0,92.6 489.5,92.6 490.0,92.6" fill="none" stroke="#404040" stroke-width="0.8"/>
<polygon points="380.0,89.1 380.5,89.0 381.0,88.9 381.5,88.8 382.0,88.7 382.5,88.5 383.0,88.4 383.5,88.3 384.0,88.1 384.5,87.9 385.0,87.8 385.5,87.6 386.0,87.4 386.5,87.2 387.0,86.9 387.5,86.7 388.0,86.5 388.5,86.2 389.0,86.0 389.5,85.7 390.0,85.4 390.5,85.1 391.1,84.8 391.6,84.5 392.1,84.3 392.6,84.0 393.1,83.7 393.6,83.4 394.1,83.1 394.6,82.8 395.1,82.5 395.6,82.3 396.1,82.0 396.6,81.8 397.1,81.6 397.6,81.3 398.1,81.2 398.6,81.0 399.1,80.8 399.6,80.7 400.1,80.6 400.6,80.5 401.1,80.4 401.6,80.4 402.1,80.4 402.6,80.4 403.1,80.5 403.6,80.5 404.1,80.6 404.6,80.7 405.1,80.9 405.6,81.0 406.1,81.2 406.6,81.4 407.1,81.6 407.6,81.9 408.1,82.1 408.6,82.4 409.1,82.7 409.6,82.9 410.1,83.2 410.6,83.6 411.1,83.9 411.6,84.2 412.1,84.5 412.6,84.8 413.2,85.1 413.7,85.5 414.2,85.8 414.7,86.1 415.2,86.4 415.7,86.7 416.2,86.9 416.7,87.2 417.2,87.5 417.7,87.7 418.2,88.0 418.7,88.2 419.2,88.4 419.7,88.7 420.2,88.9 420.7,89.0 421.2,89.2 421.7,89.4 422.2,89.5 422.7,89.7 423.2,89.8 423.7,90.0 424.2,90.1 424.7,90.2 425.2,90.3 425.7,90.4 426.2,90.5 426.7,90.5 427.2,90.6 427.7,90.7 428.2,90.7 428.7,90.8 429.2,90.8 429.7,90.9 430.2,90.9 430.7,91.0 431.2,91.0 431.7,91.0 432.2,91.1 432.7,91.1 433.2,91.1 433.7,91.1 434.2,91.2 434.7,91.2 435.3,91.2 435.8,91.2 436.3,91.2 436.8,91.3 437.3,91.3 437.8,91.3 438.3,91.3 438.8,91.3 439.3,91.3 439.8,91.4 440.3,91.4 440.8,91.4 441.3,91.4 441.8,91.4 442.3,91.4 442.8,91.4 443.3,91.5 443.8,91.5 444.3,91.5 444.8,91.5 445.3,91.5 445.8,91.5 446.3,91.5 446.8,91.5 447.3,91.6 447.8,91.6 448.3,91.6 448.8,91.6 449.3,91.6 449.8,91.6 450.3,91.6 450.8,91.6 451.3,91.7 451.8,91.7 452.3,91.7 452.8,91.7 453.3,91.7 453.8,91.7 454.3,91.7 454.8,91.7 455.3,91.7 455.8,91.8 456.3,91.8 456.8,91.8 457.4,91.8 457.9,91.8 458.4,91.8 458.9,91.8 459.4,91.8 459.9,91.9 460.4,91.9 460.9,91.9 461.4,91.9 461.9,91.9 462.4,91.9 462.9,91.9 463.4,91.9 463.9,92.0 464.4,92.0 464.9,92.0 465.4,92.0 465.9,92.0 466.4,92.0 466.9,92.0 467.4,92.0 467.9,92.1 468.4,92.1 468.9,92.1 469.4,92.1 469.9,92.1 470.4,92.1 470.9,92.1 471.4,92.1 471.9,92.2 472.4,92.2 472.9,92.2 473.4,92.2 473.9,92.2 474.4,92.2 474.9,92.2 475.4,92.2 475.9,92.3 476.4,92.3 476.9,92.3 477.4,92.3 477.9,92.3 478.4,92.3 478.9,92.3 479.5,92.3 480.0,92.4 480.5,92.4 481.0,92.4 481.5,92.4 482.0,92.4 482.5,92.4 483.0,92.4 483.5,92.4 484.0,92.5 484.5,92.5 485.0,92.5 485.5,92.5 486.0,92.5 486.5,92.5 487.0,92.5 487.5,92.5 488.0,92.6 488.5,92.6 489.0,92.6 489.5,92.6 490.0,92.6 490.0,92.6 489.5,92.6 489.0,92.6 488.5,92.6 488.0,92.6 487.5,92.5 487.0,92.5 486.5,92.5 486.0,92.5 485.5,92.5 485.0,92.5 484.5,92.5 484.0,92.5 483.5,92.4 483.0,92.4 482.5,92.4 482.0,92.4 481.5,92.4 481.0,92.4 480.5,92.4 480.0,92.4 479.5,92.3 478.9,92.3 478.4,92.3 477.9,92.3 477.4,92.3 476.9,92.3 476.4,92.3 475.9,92.3 475.4,92.2 474.9,92.2 474.4,92.2 473.9,92.2 473.4,92.2 472.9,92.2 472.4,92.2 471.9,92.2 471.4,92.1 470.9,92.1 470.4,92.1 469.9,92.1 469.4,92.1 468.9,92.1 468.4,92.1 467.9,92.1 467.4,92.0 466.9,92.0 466.4,92.0 465.9,92.0 465.4,92.0 464.9,92.0 464.4,92.0 463.9,92.0 463.4,91.9 462.9,91.9 462.4,91.9 461.9,91.9 461.4,91.9 460.9,91.9 460.4,91.9 459.9,91.9 459.4,91.8 458.9,91.8 458.4,91.8 457.9,91.8 457.4,91.8 456.8,91.8 456.3,91.8 455.8,91.8 455.3,91.7 454.8,91.7 454.3,91.7 453.8,91.7 453.3,91.7 452.8,91.7 452.3,91.7 451.8,91.7 451.3,91.7 450.8,91.6 450.3,91.6 449.8,91.6 449.3,91.6 448.8,91.6 448.3,91.6 447.8,91.6 447.3,91.6 446.8,91.5 446.3,91.5 445.8,91.5 445.3,91.5 444.8,91.5 444.3,91.5 443.8,91.5 443.3,91.5 442.8,91.4 442.3,91.4 441.8,91.4 441.3,91.4 440.8,91.4 440.3,91.4 439.8,91.4 439.3,91.4 438.8,91.3 438.3,91.3 437.8,91.3 437.3,91.3 436.8,91.3 436.3,91.3 435.8,91.3 435.3,91.3 434.7,91.2 434.2,91.2 433.7,91.2 433.2,91.2 432.7,91.2 432.2,91.2 431.7,91.2 431.2,91.2 430.7,91.1 430.2,91.1 429.7,91.1 429.2,91.1 428.7,91.1 428.2,91.1 427.7,91.1 427.2,91.1 426.7,91.0 426.2,91.0 425.7,91.0 425.2,91.0 424.7,91.0 424.2,91.0 423.7,91.0 423.2,91.0 422.7,90.9 422.2,90.9 421.7,90.9 421.2,90.9 420.7,90.9 420.2,90.9 419.7,90.9 419.2,90.9 418.7,90.8 418.2,90.8 417.7,90.8 417.2,90.8 416.7,90.8 416.2,90.8 415.7,90.8 415.2,90.8 414.7,90.8 414.2,90.7 413.7,90.7 413.2,90.7 412.6,90.7 412.1,90.7 411.6,90.7 411.1,90.7 410.6,90.7 410.1,90.6 409.6,90.6 409.1,90.6 408.6,90.6 408.1,90.6 407.6,90.6 407.1,90.6 406.6,90.6 406.1,90.5 405.6,90.5 405.1,90.5 404.6,90.5 404.1,90.5 403.6,90.5 403.1,90.5 402.6,90.5 402.1,90.4 401.6,90.4 401.1,90.4 400.6,90.4 400.1,90.4 399.6,90.4 399.1,90.4 398.6,90.4 398.1,90.3 397.6,90.3 397.1,90.3 396.6,90.3 396.1,90.3 395.6,90.3 395.1,90.3 394.6,90.3 394.1,90.2 393.6,90.2 393.1,90.2 392.6,90.2 392.1,90.2 391.6,90.2 391.1,90.2 390.5,90.2 390.0,90.1 389.5,90.1 389.0,90.1 388.5,90.1 388.0,90.1 387.5,90.1 387.0,90.1 386.5,90.1 386.0,90.0 385.5,90.0 385.0,90.0 384.5,90.0 384.0,90.0 383.5,90.0 383.0,90.0 382.5,90.0 382.0,89.9 381.5,89.9 381.0,89.9 380.5,89.9 380.0,89.9" fill="#cdcdcd" stroke="none"/>
<polyline points="380.0,89.1 380.5,89.0 381.0,88.9 381.5,88.8 382.0,88.7 382.5,88.5 383.0,88.4 383.5,88.3 384.0,88.1 384.5,87.9 385.0,87.8 385.5,87.6 386.0,87.4 386.5,87.2 387.0,86.9 387.5,86.7 388.0,86.5 388.5,86.2 389.0,86.0 389.5,85.7 390.0,85.4 390.5,85.1 391.1,84.8 391.6,84.5 392.1,84.3 392.6,84.0 393.1,83.7 393.6,83.4 394.1,83.1 394.6,82.8 395.1,82.5 395.6,82.3 396.1,82.0 396.6,81.8 397.1,81.6 397.6,81.3 398.1,81.2 398.6,81.0 399.1,80.8 399.6,80.7 400.1,80.6 400.6,80.5 401.1,80.4 401.6,80.4 402.1,80.4 402.6,80.4 403.1,80.5 403.6,80.5 404.1,80.6 404.6,80.7 405.1,80.9 405.6,81.0 406.1,81.2 406.6,81.4 407.1,81.6 407.6,81.9 408.1,82.1 408.6,82.4 409.1,82.7 409.6,82.9 410.1,83.2 410.6,83.6 411.1,83.9 411.6,84.2 412.1,84.5 412.6,84.8 413.2,85.1 413.7,85.5 414.2,85.8 414.7,86.1 415.2,86.4 415.7,86.7 416.2,86.9 416.7,87.2 417.2,87.5 417.7,87.7 418.2,88.0 418.7,88.2 419.2,88.4 419.7,88.7 420.2,88.9 420.7,89.0 421.2,89.2 421.7,89.4 422.2,89.5 422.7,89.7 423.2,89.8 423.7,90.0 424.2,90.1 424.7,90.2 425.2,90.3 425.7,90.4 426.2,90.5 426.7,90.5 427.2,90.6 427.7,90.7 428.2,90.7 428.7,90.8 429.2,90.8 429.7,90.9 430.2,90.9 430.7,91.0 431.2,91.0 431.7,91.0 432.2,91.1 432.7,91.1 433.2,91.1 433.7,91.1 434.2,91.2 434.7,91.2 435.3,91.2 435.8,91.2 436.3,91.2 436.8,91.3 437.3,91.3 437.8,91.3 438.3,91.3 438.8,91.3 439.3,91.3 439.8,91.4 440.3,91.4 440.8,91.4 441.3,91.4 441.8,91.4 442.3,91.4 442.8,91.4 443.3,91.5 443.8,91.5 444.3,91.5 444.8,91.5 445.3,91.5 445.8,91.5 446.3,91.5 446.8,91.5 447.3,91.6 447.8,91.6 448.3,91.6 448.8,91.6 449.3,91.6 449.8,91.6 450.3,91.6 450.8,91.6 451.3,91.7 451.8,91.7 452.3,91.7 452.8,91.7 453.3,91.7 453.8,91.7 454.3,91.7 454.8,91.7 455.3,91.7 455.8,91.8 456.3,91.8 456.8,91.8 457.4,91.8 457.9,91.8 458.4,91.8 458.9,91.8 459.4,91.8 459.9,91.9 460.4,91.9 460.9,91.9 461.4,91.9 461.9,91.9 462.4,91.9 462.9,91.9 463.4,91.9 463.9,92.0 464.4,92.0 464.9,92.0 465.4,92.0 465.9,92.0 466.4,92.0 466.9,92.0 467.4,92.0 467.9,92.1 468.4,92.1 468.9,92.1 469.4,92.1 469.9,92.1 470.4,92.1 470.9,92.1 471.4,92.1 471.9,92.2 472.4,92.2 472.9,92.2 473.4,92.2 473.9,92.2 474.4,92.2 474.9,92.2 475.4,92.2 475.9,92.3 476.4,92.3 476.9,92.3 477.4,92.3 477.9,92.3 478.4,92.3 478.9,92.3 479.5,92.3 480.0,92.4 480.5,92.4 481.0,92.4 481.5,92.4 482.0,92.4 482.5,92.4 483.0,92.4 483.5,92.4 484.0,92.5 484.5,92.5 485.0,92.5 485.5,92.5 486.0,92.5 486.5,92.5 487.0,92.5 487.5,92.5 488.0,92.6 488.5,92.6 489.0,92.6 489.5,92.6 490.0,92.6" fill="none" stroke="#404040" stroke-width="0.8"/>
<polyline points="380.0,89.9 380.5,89.9 381.0,89.9 381.5,89.9 382.0,89.9 382.5,90.0 383.0,90.0 383.5,90.0 384.0,90.0 384.5,90.0 385.0,90.0 385.5,90.0 386.0,90.0 386.5,90.1 387.0,90.1 387.5,90.1 388.0,90.1 388.5,90.1 389.0,90.1 389.5,90.1 390.0,90.1 390.5,90.2 391.1,90.2 391.6,90.2 392.1,90.2 392.6,90.2 393.1,90.2 393.6,90.2 394.1,90.2 394.6,90.3 395.1,90.3 395.6,90.3 396.1,90.3 396.6,90.3 397.1,90.3 397.6,90.3 398.1,90.3 398.6,90.4 399.1,90.4 399.6,90.4 400.1,90.4 400.6,90.4 401.1,90.4 401.6,90.4 402.1,90.4 402.6,90.5 403.1,90.5 403.6,90.5 404.1,90.5 404.6,90.5 405.1,90.5 405.6,90.5 406.1,90.5 406.6,90.6 407.1,90.6 407.6,90.6 408.1,90.6 408.6,90.6 409.1,90.6 409.6,90.6 410.1,90.6 410.6,90.7 411.1,90.7 411.6,90.7 412.1,90.7 412.6,90.7 413.2,90.7 413.7,90.7 414.2,90.7 414.7,90.8 415.2,90.8 415.7,90.8 416.2,90.8 416.7,90.8 417.2,90.8 417.7,90.8 418.2,90.8 418.7,90.8 419.2,90.9 419.7,90.9 420.2,90.9 420.7,90.9 421.2,90.9 421.7,90.9 422.2,90.9 422.7,90.9 423.2,91.0 423.7,91.0 424.2,91.0 424.7,91.0 425.2,91.0 425.7,91.0 426.2,91.0 426.7,91.0 427.2,91.1 427.7,91.1 428.2,91.1 428.7,91.1 429.2,91.1 429.7,91.1 430.2,91.1 430.7,91.1 431.2,91.2 431.7,91.2 432.2,91.2 432.7,91.2 433.2,91.2 433.7,91.2 434.2,91.2 434.7,91.2 435.3,91.3 435.8,91.3 436.3,91.3 436.8,91.3 437.3,91.3 437.8,91.3 438.3,91.3 438.8,91.3 439.3,91.4 439.8,91.4 440.3,91.4 440.8,91.4 441.3,91.4 441.8,91.4 442.3,91.4 442.8,91.4 443.3,91.5 443.8,91.5 444.3,91.5 444.8,91.5 445.3,91.5 445.8,91.5 446.3,91.5 446.8,91.5 447.3,91.6 447.8,91.6 448.3,91.6 448.8,91.6 449.3,91.6 449.8,91.6 450.3,91.6 450.8,91.6 451.3,91.7 451.8,91.7 452.3,91.7 452.8,91.7 453.3,91.7 453.8,91.7 454.3,91.7 454.8,91.7 455.3,91.7 455.8,91.8 456.3,91.8 456.8,91.8 457.4,91.8 457.9,91.8 458.4,91.8 458.9,91.8 459.4,91.8 459.9,91.9 460.4,91.9 460.9,91.9 461.4,91.9 461.9,91.9 462.4,91.9 462.9,91.9 463.4,91.9 463.9,92.0 464.4,92.0 464.9,92.0 465.4,92.0 465.9,92.0 466.4,92.0 466.9,92.0 467.4,92.0 467.9,92.1 468.4,92.1 468.9,92.1 469.4,92.1 469.9,92.1 470.4,92.1 470.9,92.1 471.4,92.1 471.9,92.2 472.4,92.2 472.9,92.2 473.4,92.2 473.9,92.2 474.4,92.2 474.9,92.2 475.4,92.2 475.9,92.3 476.4,92.3 476.9,92.3 477.4,92.3 477.9,92.3 478.4,92.3 478.9,92.3 479.5,92.3 480.0,92.4 480.5,92.4 481.0,92.4 481.5,92.4 482.0,92.4 482.5,92.4 483.0,92.4 483.5,92.4 484.0,92.5 484.5,92.5 485.0,92.5 485.5,92.5 486.0,92.5 486.5,92.5 487.0,92.5 487.5,92.5 488.0,92.6 488.5,92.6 489.0,92.6 489.5,92.6 490.0,92.6" fill="none" stroke="#404040" stroke-width="0.8"/>
<polyline points="362.7,147.9 363.3,147.9 363.9,147.9 364.4,148.0 365.0,148.0 365.6,148.0 366.2,148.0 366.8,148.0 367.4,148.1 367.9,148.1 368.5,148.1 369.1,148.1 369.7,148.1 370.3,148.2 370.8,148.2 371.4,148.2 372.0,148.2 372.6,148.2 373.2,148.3 373.7,148.3 374.3,148.3 374.9,148.3 375.5,148.3 376.1,148.4 376.7,148.4 377.2,148.4 377.8,148.4 378.4,148.4 379.0,148.4 379.6,148.5 380.1,148.5 380.7,148.5 381.3,148.5 381.9,148.5 382.5,148.6 383.0,148.6 383.6,148.6 384.2,148.6 384.8,148.6 385.4,148.7 386.0,148.7 386.5,148.7 387.1,148.7 387.7,148.7 388.3,148.8 388.9,148.8 389.4,148.8 390.0,148.8 390.6,148.8 391.2,148.9 391.8,148.9 392.3,148.9 392.9,148.9 393.5,148.9 394.1,149.0 394.7,149.0 395.3,149.0 395.8,149.0 396.4,149.0 397.0,149.1 397.6,149.1 398.2,149.1 398.7,149.1 399.3,149.1 399.9,149.2 400.5,149.2 401.1,149.2 401.6,149.2 402.2,149.2 402.8,149.3 403.4,149.3 404.0,149.3 404.6,149.3 405.1,149.3 405.7,149.4 406.3,149.4 406.9,149.4 407.5,149.4 408.0,149.4 408.6,149.4 409.2,149.5 409.8,149.5 410.4,149.5 410.9,149.5 411.5,149.5 412.1,149.6 412.7,149.6 413.3,149.6 413.9,149.6 414.4,149.6 415.0,149.6 415.6,149.6 416.2,149.6 416.8,149.6 417.3,149.6 417.9,149.6 418.5,149.6 419.1,149.5 419.7,149.5 420.2,149.4 420.8,149.3 421.4,149.1 422.0,149.0 422.6,148.7 423.2,148.5 423.7,148.2 424.3,147.8 424.9,147.3 425.5,146.8 426.1,146.2 426.6,145.4 427.2,144.6 427.8,143.6 428.4,142.5 429.0,141.3 429.5,139.9 430.1,138.4 430.7,136.7 431.3,134.9 431.9,132.9 432.5,130.7 433.0,128.5 433.6,126.1 434.2,123.6 434.8,121.0 435.4,118.3 435.9,115.6 436.5,112.9 437.1,110.3 437.7,107.7 438.3,105.2 438.8,102.8 439.4,100.7 440.0,98.7 440.6,97.0 441.2,95.5 441.8,94.4 442.3,93.6 442.9,93.1 443.5,92.9 444.1,93.1 444.7,93.6 445.2,94.5 445.8,95.7 446.4,97.2 447.0,98.9 447.6,100.9 448.1,103.1 448.7,105.5 449.3,108.1 449.9,110.7 450.5,113.4 451.1,116.1 451.6,118.9 452.2,121.5 452.8,124.2 453.4,126.7 454.0,129.2 454.5,131.5 455.1,133.6 455.7,135.7 456.3,137.6 456.9,139.3 457.4,140.9 458.0,142.3 458.6,143.6 459.2,144.7 459.8,145.7 460.4,146.6 460.9,147.3 461.5,148.0 462.1,148.6 462.7,149.1 463.3,149.5 463.8,149.9 464.4,150.2 465.0,150.4 465.6,150.6 466.2,150.8 466.7,150.9 467.3,151.1 467.9,151.2 468.5,151.2 469.1,151.3 469.7,151.4 470.2,151.4 470.8,151.5 471.4,151.5 472.0,151.5 472.6,151.6 473.1,151.6 473.7,151.6 474.3,151.7 474.9,151.7 475.5,151.7 476.0,151.7 476.6,151.7 477.2,151.8 477.8,151.8 478.4,151.8 479.0,151.8 479.5,151.8 480.1,151.9 480.7,151.9 481.3,151.9 481.9,151.9 482.4,151.9 483.0,152.0 483.6,152.0 484.2,152.0 484.8,152.0 485.3,152.0 485.9,152.1 486.5,152.1 487.1,152.1 487.7,152.1 488.3,152.1 488.8,152.2 489.4,152.2 490.0,152.2" fill="none" stroke="#404040" stroke-width="0.8"/>
<polygon points="362.7,147.9 363.3,147.9 363.9,147.9 364.4,148.0 365.0,148.0 365.6,148.0 366.2,148.0 366.8,148.0 367.4,148.1 367.9,148.1 368.5,148.1 369.1,148.1 369.7,148.1 370.3,148.1 370.8,148.2 371.4,148.2 372.0,148.2 372.6,148.2 373.2,148.2 373.7,148.2 374.3,148.3 374.9,148.3 375.5,148.3 376.1,148.3 376.7,148.3 377.2,148.3 377.8,148.3 378.4,148.3 379.0,148.3 379.6,148.3 380.1,148.3 380.7,148.3 381.3,148.3 381.9,148.3 382.5,148.3 383.0,148.3 383.6,148.3 384.2,148.2 384.8,148.2 385.4,148.1 386.0,148.1 386.5,148.0 387.1,147.9 387.7,147.9 388.3,147.8 388.9,147.7 389.4,147.5 390.0,147.4 390.6,147.3 391.2,147.1 391.8,146.9 392.3,146.7 392.9,146.5 393.5,146.2 394.1,145.9 394.7,145.6 395.3,145.3 395.8,145.0 396.4,144.6 397.0,144.2 397.6,143.7 398.2,143.3 398.7,142.7 399.3,142.2 399.9,141.6 400.5,141.0 401.1,140.4 401.6,139.7 402.2,139.0 402.8,138.2 403.4,137.4 404.0,136.6 404.6,135.7 405.1,134.9 405.7,133.9 406.3,133.0 406.9,132.0 407.5,131.0 408.0,130.0 408.6,129.0 409.2,127.9 409.8,126.8 410.4,125.8 410.9,124.7 411.5,123.6 412.1,122.5 412.7,121.5 413.3,120.4 413.9,119.4 414.4,118.4 415.0,117.4 415.6,116.5 416.2,115.6 416.8,114.7 417.3,113.9 417.9,113.1 418.5,112.4 419.1,111.8 419.7,111.2 420.2,110.7 420.8,110.3 421.4,109.9 422.0,109.6 422.6,109.4 423.2,109.3 423.7,109.2 424.3,109.2 424.9,109.4 425.5,109.6 426.1,110.0 426.6,110.5 427.2,111.1 427.8,111.8 428.4,112.6 429.0,113.4 429.5,114.4 430.1,115.4 430.7,116.5 431.3,117.7 431.9,118.9 432.5,120.2 433.0,121.5 433.6,122.8 434.2,124.1 434.8,125.5 435.4,126.8 435.9,128.2 436.5,129.5 437.1,130.8 437.7,132.1 438.3,133.3 438.8,134.5 439.4,135.7 440.0,136.8 440.6,137.9 441.2,139.0 441.8,139.9 442.3,140.9 442.9,141.7 443.5,142.6 444.1,143.3 444.7,144.1 445.2,144.7 445.8,145.4 446.4,145.9 447.0,146.5 447.6,146.9 448.1,147.4 448.7,147.8 449.3,148.2 449.9,148.5 450.5,148.8 451.1,149.1 451.6,149.3 452.2,149.6 452.8,149.8 453.4,149.9 454.0,150.1 454.5,150.2 455.1,150.4 455.7,150.5 456.3,150.6 456.9,150.7 457.4,150.8 458.0,150.8 458.6,150.9 459.2,151.0 459.8,151.0 460.4,151.1 460.9,151.1 461.5,151.1 462.1,151.2 462.7,151.2 463.3,151.2 463.8,151.3 464.4,151.3 465.0,151.3 465.6,151.3 466.2,151.4 466.7,151.4 467.3,151.4 467.9,151.4 468.5,151.5 469.1,151.5 469.7,151.5 470.2,151.5 470.8,151.5 471.4,151.6 472.0,151.6 472.6,151.6 473.1,151.6 473.7,151.6 474.3,151.7 474.9,151.7 475.5,151.7 476.0,151.7 476.6,151.7 477.2,151.8 477.8,151.8 478.4,151.8 479.0,151.8 479.5,151.8 480.1,151.9 480.7,151.9 481.3,151.9 481.9,151.9 482.4,151.9 483.0,152.0 483.6,152.0 484.2,152.0 484.8,152.0 485.3,152.0 485.9,152.1 486.5,152.1 487.1,152.1 487.7,152.1 488.3,152.1 488.8,152.2 489.4,152.2 490.0,152.2 490.0,152.2 489.4,152.2 488.8,152.2 488.3,152.1 487.7,152.1 487.1,152.1 486.5,152.1 485.9,152.1 485.3,152.0 484.8,152.0 484.2,152.0 483.6,152.0 483.0,152.0 482.4,151.9 481.9,151.9 481.3,151.9 480.7,151.9 480.1,151.9 479.5,151.8 479.0,151.8 478.4,151.8 477.8,151.8 477.2,151.8 476.6,151.7 476.0,151.7 475.5,151.7 474.9,151.7 474.3,151.7 473.7,151.7 473.1,151.6 472.6,151.6 472.0,151.6 471.4,151.6 470.8,151.6 470.2,151.5 469.7,151.5 469.1,151.5 468.5,151.5 467.9,151.5 467.3,151.4 466.7,151.4 466.2,151.4 465.6,151.4 465.0,151.4 464.4,151.3 463.8,151.3 463.3,151.3 462.7,151.3 462.1,151.3 461.5,151.2 460.9,151.2 460.4,151.2 459.8,151.2 459.2,151.2 458.6,151.1 458.0,151.1 457.4,151.1 456.9,151.1 456.3,151.1 455.7,151.0 455.1,151.0 454.5,151.0 454.0,151.0 453.4,151.0 452.8,150.9 452.2,150.9 451.6,150.9 451.1,150.9 450.5,150.9 449.9,150.8 449.3,150.8 448.7,150.8 448.1,150.8 447.6,150.8 447.0,150.7 446.4,150.7 445.8,150.7 445.2,150.7 444.7,150.7 444.1,150.6 443.5,150.6 442.9,150.6 442.3,150.6 441.8,150.6 441.2,150.6 440.6,150.5 440.0,150.5 439.4,150.5 438.8,150.5 438.3,150.5 437.7,150.4 437.1,150.4 436.5,150.4 435.9,150.4 435.4,150.4 434.8,150.3 434.2,150.3 433.6,150.3 433.0,150.3 432.5,150.3 431.9,150.2 431.3,150.2 430.7,150.2 430.1,150.2 429.5,150.2 429.0,150.1 428.4,150.1 427.8,150.1 427.2,150.1 426.6,150.1 426.1,150.0 425.5,150.0 424.9,150.0 424.3,150.0 423.7,150.0 423.2,149.9 422.6,149.9 422.0,149.9 421.4,149.9 420.8,149.9 420.2,149.8 419.7,149.8 419.1,149.8 418.5,149.8 417.9,149.8 417.3,149.7 416.8,149.7 416.2,149.7 415.6,149.7 415.0,149.7 414.4,149.6 413.9,149.6 413.3,149.6 412.7,149.6 412.1,149.6 411.5,149.5 410.9,149.5 410.4,149.5 409.8,149.5 409.2,149.5 408.6,149.5 408.0,149.4 407.5,149.4 406.9,149.4 406.3,149.4 405.7,149.4 405.1,149.3 404.6,149.3 404.0,149.3 403.4,149.3 402.8,149.3 402.2,149.2 401.6,149.2 401.1,149.2 400.5,149.2 399.9,149.2 399.3,149.1 398.7,149.1 398.2,149.1 397.6,149.1 397.0,149.1 396.4,149.0 395.8,149.0 395.3,149.0 394.7,149.0 394.1,149.0 393.5,148.9 392.9,148.9 392.3,148.9 391.8,148.9 391.2,148.9 390.6,148.8 390.0,148.8 389.4,148.8 388.9,148.8 388.3,148.8 387.7,148.7 387.1,148.7 386.5,148.7 386.0,148.7 385.4,148.7 384.8,148.6 384.2,148.6 383.6,148.6 383.0,148.6 382.5,148.6 381.9,148.5 381.3,148.5 380.7,148.5 380.1,148.5 379.6,148.5 379.0,148.4 378.4,148.4 377.8,148.4 377.2,148.4 376.7,148.4 376.1,148.4 375.5,148.3 374.9,148.3 374.3,148.3 373.7,148.3 373.2,148.3 372.6,148.2 372.0,148.2 371.4,148.2 370.8,148.2 370.3,148.2 369.7,148.1 369.1,148.1 368.5,148.1 367.9,148.1 367.4,148.1 366.8,148.0 366.2,148.0 365.6,148.0 365.0,148.0 364.4,148.0 363.9,147.9 363.3,147.9 362.7,147.9" fill="#e4e4e4" stroke="none"/>
<polyline points="362.7,147.9 363.3,147.9 363.9,147.9 364.4,148.0 365.0,148.0 365.6,148.0 366.2,148.0 366.8,148.0 367.4,148.1 367.9,148.1 368.5,148.1 369.1,148.1 369.7,148.1 370.3,148.1 370.8,148.2 371.4,148.2 372.0,148.2 372.6,148.2 373.2,148.2 373.7,148.2 374.3,148.3 374.9,148.3 375.5,148.3 376.1,148.3 376.7,148.3 377.2,148.3 377.8,148.3 378.4,148.3 379.0,148.3 379.6,148.3 380.1,148.3 380.7,148.3 381.3,148.3 381.9,148.3 382.5,148.3 383.0,148.3 383.6,148.3 384.2,148.2 384.8,148.2 385.4,148.1 386.0,148.1 386.5,148.0 387.1,147.9 387.7,147.9 388.3,147.8 388.9,147.7 389.4,147.5 390.0,147.4 390.6,147.3 391.2,147.1 391.8,146.9 392.3,146.7 392.9,146.5 393.5,146.2 394.1,145.9 394.7,145.6 395.3,145.3 395.8,145.0 396.4,144.6 397.0,144.2 397.6,143.7 398.2,143.3 398.7,142.7 399.3,142.2 399.9,141.6 400.5,141.0 401.1,140.4 401.6,139.7 402.2,139.0 402.8,138.2 403.4,137.4 404.0,136.6 404.6,135.7 405.1,134.9 405.7,133.9 406.3,133.0 406.9,132.0 407.5,131.0 408.0,130.0 408.6,129.0 409.2,127.9 409.8,126.8 410.4,125.8 410.9,124.7 411.5,123.6 412.1,122.5 412.7,121.5 413.3,120.4 413.9,119.4 414.4,118.4 415.0,117.4 415.6,116.5 416.2,115.6 416.8,114.7 417.3,113.9 417.9,113.1 418.5,112.4 419.1,111.8 419.7,111.2 420.2,110.7 420.8,110.3 421.4,109.9 422.0,109.6 422.6,109.4 423.2,109.3 423.7,109.2 424.3,109.2 424.9,109.4 425.5,109.6 426.1,110.0 426.6,110.5 427.2,111.1 427.8,111.8 428.4,112.6 429.0,113.4 429.5,114.4 430.1,115.4 430.7,116.5 431.3,117.7 431.9,118.9 432.5,120.2 433.0,121.5 433.6,122.8 434.2,124.1 434.8,125.5 435.4,126.8 435.9,128.2 436.5,129.5 437.1,130.8 437.7,132.1 438.3,133.3 438.8,134.5 439.4,135.7 440.0,136.8 440.6,137.9 441.2,139.0 441.8,139.9 442.3,140.9 442.9,141.7 443.5,142.6 444.1,143.3 444.7,144.1 445.2,144.7 445.8,145.4 446.4,145.9 447.0,146.5 447.6,146.9 448.1,147.4 448.7,147.8 449.3,148.2 449.9,148.5 450.5,148.8 451.1,149.1 451.6,149.3 452.2,149.6 452.8,149.8 453.4,149.9 454.0,150.1 454.5,150.2 455.1,150.4 455.7,150.5 456.3,150.6 456.9,150.7 457.4,150.8 458.0,150.8 458.6,150.9 459.2,151.0 459.8,151.0 460.4,151.1 460.9,151.1 461.5,151.1 462.1,151.2 462.7,151.2 463.3,151.2 463.8,151.3 464.4,151.3 465.0,151.3 465.6,151.3 466.2,151.4 466.7,151.4 467.3,151.4 467.9,151.4 468.5,151.5 469.1,151.5 469.7,151.5 470.2,151.5 470.8,151.5 471.4,151.6 472.0,151.6 472.6,151.6 473.1,151.6 473.7,151.6 474.3,151.7 474.9,151.7 475.5,151.7 476.0,151.7 476.6,151.7 477.2,151.8 477.8,151.8 478.4,151.8 479.0,151.8 479.5,151.8 480.1,151.9 480.7,151.9 481.3,151.9 481.9,151.9 482.4,151.9 483.0,152.0 483.6,152.0 484.2,152.0 484.8,152.0 485.3,152.0 485.9,152.1 486.5,152.1 487.1,152.1 487.7,152.1 488.3,152.1 488.8,152.2 489.4,152.2 490.0,152.2" fill="none" stroke="#404040" stroke-width="0.8"/>
<polygon points="362.7,147.6 363.3,147.6 363.9,147.6 364.4,147.6 365.0,147.5 365.6,147.5 366.2,147.4 366.8,147.4 367.4,147.3 367.9,147.3 368.5,147.2 369.1,147.1 369.7,147.0 370.3,146.9 370.8,146.8 371.4,146.7 372.0,146.5 372.6,146.4 373.2,146.2 373.7,146.0 374.3,145.9 374.9,145.7 375.5,145.4 376.1,145.2 376.7,145.0 377.2,144.7 377.8,144.4 378.4,144.1 379.0,143.8 379.6,143.5 380.1,143.2 380.7,142.8 381.3,142.5 381.9,142.1 382.5,141.7 383.0,141.3 383.6,140.9 384.2,140.5 384.8,140.1 385.4,139.6 386.0,139.2 386.5,138.8 387.1,138.3 387.7,137.9 388.3,137.5 388.9,137.0 389.4,136.6 390.0,136.2 390.6,135.8 391.2,135.4 391.8,135.0 392.3,134.7 392.9,134.3 393.5,134.0 394.1,133.7 394.7,133.4 395.3,133.2 395.8,133.0 396.4,132.8 397.0,132.6 397.6,132.5 398.2,132.4 398.7,132.3 399.3,132.3 399.9,132.3 400.5,132.3 401.1,132.4 401.6,132.5 402.2,132.6 402.8,132.8 403.4,133.0 404.0,133.2 404.6,133.5 405.1,133.8 405.7,134.1 406.3,134.4 406.9,134.8 407.5,135.2 408.0,135.6 408.6,136.0 409.2,136.4 409.8,136.9 410.4,137.3 410.9,137.8 411.5,138.2 412.1,138.7 412.7,139.2 413.3,139.7 413.9,140.2 414.4,140.6 415.0,141.1 415.6,141.6 416.2,142.0 416.8,142.5 417.3,142.9 417.9,143.3 418.5,143.7 419.1,144.1 419.7,144.5 420.2,144.9 420.8,145.3 421.4,145.6 422.0,145.9 422.6,146.2 423.2,146.5 423.7,146.8 424.3,147.1 424.9,147.3 425.5,147.6 426.1,147.8 426.6,148.0 427.2,148.2 427.8,148.4 428.4,148.6 429.0,148.8 429.5,148.9 430.1,149.0 430.7,149.2 431.3,149.3 431.9,149.4 432.5,149.5 433.0,149.6 433.6,149.7 434.2,149.8 434.8,149.9 435.4,149.9 435.9,150.0 436.5,150.1 437.1,150.1 437.7,150.2 438.3,150.2 438.8,150.3 439.4,150.3 440.0,150.4 440.6,150.4 441.2,150.4 441.8,150.5 442.3,150.5 442.9,150.5 443.5,150.6 444.1,150.6 444.7,150.6 445.2,150.6 445.8,150.7 446.4,150.7 447.0,150.7 447.6,150.7 448.1,150.8 448.7,150.8 449.3,150.8 449.9,150.8 450.5,150.9 451.1,150.9 451.6,150.9 452.2,150.9 452.8,150.9 453.4,151.0 454.0,151.0 454.5,151.0 455.1,151.0 455.7,151.0 456.3,151.1 456.9,151.1 457.4,151.1 458.0,151.1 458.6,151.1 459.2,151.2 459.8,151.2 460.4,151.2 460.9,151.2 461.5,151.2 462.1,151.3 462.7,151.3 463.3,151.3 463.8,151.3 464.4,151.3 465.0,151.4 465.6,151.4 466.2,151.4 466.7,151.4 467.3,151.4 467.9,151.5 468.5,151.5 469.1,151.5 469.7,151.5 470.2,151.5 470.8,151.6 471.4,151.6 472.0,151.6 472.6,151.6 473.1,151.6 473.7,151.7 474.3,151.7 474.9,151.7 475.5,151.7 476.0,151.7 476.6,151.7 477.2,151.8 477.8,151.8 478.4,151.8 479.0,151.8 479.5,151.8 480.1,151.9 480.7,151.9 481.3,151.9 481.9,151.9 482.4,151.9 483.0,152.0 483.6,152.0 484.2,152.0 484.8,152.0 485.3,152.0 485.9,152.1 486.5,152.1 487.1,152.1 487.7,152.1 488.3,152.1 488.8,152.2 489.4,152.2 490.0,152.2 490.0,152.2 489.4,152.2 488.8,152.2 488.3,152.1 487.7,152.1 487.1,152.1 486.5,152.1 485.9,152.1 485.3,152.0 484.8,152.0 484.2,152.0 483.6,152.0 483.0,152.0 482.4,151.9 481.9,151.9 481.3,151.9 480.7,151.9 480.1,151.9 479.5,151.8 479.0,151.8 478.4,151.8 477.8,151.8 477.2,151.8 476.6,151.7 476.0,151.7 475.5,151.7 474.9,151.7 474.3,151.7 473.7,151.7 473.1,151.6 472.6,151.6 472.0,151.6 471.4,151.6 470.8,151.6 470.2,151.5 469.7,151.5 469.1,151.5 468.5,151.5 467.9,151.5 467.3,151.4 466.7,151.4 466.2,151.4 465.6,151.4 465.0,151.4 464.4,151.3 463.8,151.3 463.3,151.3 462.7,151.3 462.1,151.3 461.5,151.2 460.9,151.2 460.4,151.2 459.8,151.2 459.2,151.2 458.6,151.1 458.0,151.1 457.4,151.1 456.9,151.1 456.3,151.1 455.7,151.0 455.1,151.0 454.5,151.0 454.0,151.0 453.4,151.0 452.8,150.9 452.2,150.9 451.6,150.9 451.1,150.9 450.5,150.9 449.9,150.8 449.3,150.8 448.7,150.8 448.1,150.8 447.6,150.8 447.0,150.7 446.4,150.7 445.8,150.7 445.2,150.7 444.7,150.7 444.1,150.6 443.5,150.6 442.9,150.6 442.3,150.6 441.8,150.6 441.2,150.6 440.6,150.5 440.0,150.5 439.4,150.5 438.8,150.5 438.3,150.5 437.7,150.4 437.1,150.4 436.5,150.4 435.9,150.4 435.4,150.4 434.8,150.3 434.2,150.3 433.6,150.3 433.0,150.3 432.5,150.3 431.9,150.2 431.3,150.2 430.7,150.2 430.1,150.2 429.5,150.2 429.0,150.1 428.4,150.1 427.8,150.1 427.2,150.1 426.6,150.1 426.1,150.0 425.5,150.0 424.9,150.0 424.3,150.0 423.7,150.0 423.2,149.9 422.6,149.9 422.0,149.9 421.4,149.9 420.8,149.9 420.2,149.8 419.7,149.8 419.1,149.8 418.5,149.8 417.9,149.8 417.3,149.7 416.8,149.7 416.2,149.7 415.6,149.7 415.0,149.7 414.4,149.6 413.9,149.6 413.3,149.6 412.7,149.6 412.1,149.6 411.5,149.5 410.9,149.5 410.4,149.5 409.8,149.5 409.2,149.5 408.6,149.5 408.0,149.4 407.5,149.4 406.9,149.4 406.3,149.4 405.7,149.4 405.1,149.3 404.6,149.3 404.0,149.3 403.4,149.3 402.8,149.3 402.2,149.2 401.6,149.2 401.1,149.2 400.5,149.2 399.9,149.2 399.3,149.1 398.7,149.1 398.2,149.1 397.6,149.1 397.0,149.1 396.4,149.0 395.8,149.0 395.3,149.0 394.7,149.0 394.1,149.0 393.5,148.9 392.9,148.9 392.3,148.9 391.8,148.9 391.2,148.9 390.6,148.8 390.0,148.8 389.4,148.8 388.9,148.8 388.3,148.8 387.7,148.7 387.1,148.7 386.5,148.7 386.0,148.7 385.4,148.7 384.8,148.6 384.2,148.6 383.6,148.6 383.0,148.6 382.5,148.6 381.9,148.5 381.3,148.5 380.7,148.5 380.1,148.5 379.6,148.5 379.0,148.4 378.4,148.4 377.8,148.4 377.2,148.4 376.7,148.4 376.1,148.4 375.5,148.3 374.9,148.3 374.3,148.3 373.7,148.3 373.2,148.3 372.6,148.2 372.0,148.2 371.4,148.2 370.8,148.2 370.3,148.2 369.7,148.1 369.1,148.1 368.5,148.1 367.9,148.1 367.4,148.1 366.8,148.0 366.2,148.0 365.6,148.0 365.0,148.0 364.4,148.0 363.9,147.9 363.3,147.9 362.7,147.9" fill="#cdcdcd" stroke="none"/>
<polyline points="362.7,147.6 363.3,147.6 363.9,147.6 364.4,147.6 365.0,147.5 365.6,147.5 366.2,147.4 366.8,147.4 367.4,147.3 367.9,147.3 368.5,147.2 369.1,147.1 369.7,147.0 370.3,146.9 370.8,146.8 371.4,146.7 372.0,146.5 372.6,146.4 373.2,146.2 373.7,146.0 374.3,145.9 374.9,145.7 375.5,145.4 376.1,145.2 376.7,145.0 377.2,144.7 377.8,144.4 378.4,144.1 379.0,143.8 379.6,143.5 380.1,143.2 380.7,142.8 381.3,142.5 381.9,142.1 382.5,141.7 383.0,141.3 383.6,140.9 384.2,140.5 384.8,140.1 385.4,139.6 386.0,139.2 386.5,138.8 387.1,138.3 387.7,137.9 388.3,137.5 388.9,137.0 389.4,136.6 390.0,136.2 390.6,135.8 391.2,135.4 391.8,135.0 392.3,134.7 392.9,134.3 393.5,134.0 394.1,133.7 394.7,133.4 395.3,133.2 395.8,133.0 396.4,132.8 397.0,132.6 397.6,132.5 398.2,132.4 398.7,132.3 399.3,132.3 399.9,132.3 400.5,132.3 401.1,132.4 401.6,132.5 402.2,132.6 402.8,132.8 403.4,133.0 404.0,133.2 404.6,133.5 405.1,133.8 405.7,134.1 406.3,134.4 406.9,134.8 407.5,135.2 408.0,135.6 408.6,136.0 409.2,136.4 409.8,136.9 410.4,137.3 410.9,137.8 411.5,138.2 412.1,138.7 412.7,139.2 413.3,139.7 413.9,140.2 414.4,140.6 415.0,141.1 415.6,141.6 416.2,142.0 416.8,142.5 417.3,142.9 417.9,143.3 418.5,143.7 419.1,144.1 419.7,144.5 420.2,144.9 420.8,145.3 421.4,145.6 422.0,145.9 422.6,146.2 423.2,146.5 423.7,146.8 424.3,147.1 424.9,147.3 425.5,147.6 426.1,147.8 426.6,148.0 427.2,148.2 427.8,148.4 428.4,148.6 429.0,148.8 429.5,148.9 430.1,149.0 430.7,149.2 431.3,149.3 431.9,149.4 432.5,149.5 433.0,149.6 433.6,149.7 434.2,149.8 434.8,149.9 435.4,149.9 435.9,150.0 436.5,150.1 437.1,150.1 437.7,150.2 438.3,150.2 438.8,150.3 439.4,150.3 440.0,150.4 440.6,150.4 441.2,150.4 441.8,150.5 442.3,150.5 442.9,150.5 443.5,150.6 444.1,150.6 444.7,150.6 445.2,150.6 445.8,150.7 446.4,150.7 447.0,150.7 447.6,150.7 448.1,150.8 448.7,150.8 449.3,150.8 449.9,150.8 450.5,150.9 451.1,150.9 451.6,150.9 452.2,150.9 452.8,150.9 453.4,151.0 454.0,151.0 454.5,151.0 455.1,151.0 455.7,151.0 456.3,151.1 456.9,151.1 457.4,151.1 458.0,151.1 458.6,151.1 459.2,151.2 459.8,151.2 460.4,151.2 460.9,151.2 461.5,151.2 462.1,151.3 462.7,151.3 463.3,151.3 463.8,151.3 464.4,151.3 465.0,151.4 465.6,151.4 466.2,151.4 466.7,151.4 467.3,151.4 467.9,151.5 468.5,151.5 469.1,151.5 469.7,151.5 470.2,151.5 470.8,151.6 471.4,151.6 472.0,151.6 472.6,151.6 473.1,151.6 473.7,151.7 474.3,151.7 474.9,151.7 475.5,151.7 476.0,151.7 476.6,151.7 477.2,151.8 477.8,151.8 478.4,151.8 479.0,151.8 479.5,151.8 480.1,151.9 480.7,151.9 481.3,151.9 481.9,151.9 482.4,151.9 483.0,152.0 483.6,152.0 484.2,152.0 484.8,152.0 485.3,152.0 485.9,152.1 486.5,152.1 487.1,152.1 487.7,152.1 488.3,152.1 488.8,152.2 489.4,152.2 490.0,152.2" fill="none" stroke="#404040" stroke-width="0.8"/>
<polyline points="362.7,147.9 363.3,147.9 363.9,147.9 364.4,148.0 365.0,148.0 365.6,148.0 366.2,148.0 366.8,148.0 367.4,148.1 367.9,148.1 368.5,148.1 369.1,148.1 369.7,148.1 370.3,148.2 370.8,148.2 371.4,148.2 372.0,148.2 372.6,148.2 373.2,148.3 373.7,148.3 374.3,148.3 374.9,148.3 375.5,148.3 376.1,148.4 376.7,148.4 377.2,148.4 377.8,148.4 378.4,148.4 379.0,148.4 379.6,148.5 380.1,148.5 380.7,148.5 381.3,148.5 381.9,148.5 382.5,148.6 383.0,148.6 383.6,148.6 384.2,148.6 384.8,148.6 385.4,148.7 386.0,148.7 386.5,148.7 387.1,148.7 387.7,148.7 388.3,148.8 388.9,148.8 389.4,148.8 390.0,148.8 390.6,148.8 391.2,148.9 391.8,148.9 392.3,148.9 392.9,148.9 393.5,148.9 394.1,149.0 394.7,149.0 395.3,149.0 395.8,149.0 396.4,149.0 397.0,149.1 397.6,149.1 398.2,149.1 398.7,149.1 399.3,149.1 399.9,149.2 400.5,149.2 401.1,149.2 401.6,149.2 402.2,149.2 402.8,149.3 403.4,149.3 404.0,149.3 404.6,149.3 405.1,149.3 405.7,149.4 406.3,149.4 406.9,149.4 407.5,149.4 408.0,149.4 408.6,149.5 409.2,149.5 409.8,149.5 410.4,149.5 410.9,149.5 411.5,149.5 412.1,149.6 412.7,149.6 413.3,149.6 413.9,149.6 414.4,149.6 415.0,149.7 415.6,149.7 416.2,149.7 416.8,149.7 417.3,149.7 417.9,149.8 418.5,149.8 419.1,149.8 419.7,149.8 420.2,149.8 420.8,149.9 421.4,149.9 422.0,149.9 422.6,149.9 423.2,149.9 423.7,150.0 424.3,150.0 424.9,150.0 425.5,150.0 426.1,150.0 426.6,150.1 427.2,150.1 427.8,150.1 428.4,150.1 429.0,150.1 429.5,150.2 430.1,150.2 430.7,150.2 431.3,150.2 431.9,150.2 432.5,150.3 433.0,150.3 433.6,150.3 434.2,150.3 434.8,150.3 435.4,150.4 435.9,150.4 436.5,150.4 437.1,150.4 437.7,150.4 438.3,150.5 438.8,150.5 439.4,150.5 440.0,150.5 440.6,150.5 441.2,150.6 441.8,150.6 442.3,150.6 442.9,150.6 443.5,150.6 444.1,150.6 444.7,150.7 445.2,150.7 445.8,150.7 446.4,150.7 447.0,150.7 447.6,150.8 448.1,150.8 448.7,150.8 449.3,150.8 449.9,150.8 450.5,150.9 451.1,150.9 451.6,150.9 452.2,150.9 452.8,150.9 453.4,151.0 454.0,151.0 454.5,151.0 455.1,151.0 455.7,151.0 456.3,151.1 456.9,151.1 457.4,151.1 458.0,151.1 458.6,151.1 459.2,151.2 459.8,151.2 460.4,151.2 460.9,151.2 461.5,151.2 462.1,151.3 462.7,151.3 463.3,151.3 463.8,151.3 464.4,151.3 465.0,151.4 465.6,151.4 466.2,151.4 466.7,151.4 467.3,151.4 467.9,151.5 468.5,151.5 469.1,151.5 469.7,151.5 470.2,151.5 470.8,151.6 471.4,151.6 472.0,151.6 472.6,151.6 473.1,151.6 473.7,151.7 474.3,151.7 474.9,151.7 475.5,151.7 476.0,151.7 476.6,151.7 477.2,151.8 477.8,151.8 478.4,151.8 479.0,151.8 479.5,151.8 480.1,151.9 480.7,151.9 481.3,151.9 481.9,151.9 482.4,151.9 483.0,152.0 483.6,152.0 484.2,152.0 484.8,152.0 485.3,152.0 485.9,152.1 486.5,152.1 487.1,152.1 487.7,152.1 488.3,152.1 488.8,152.2 489.4,152.2 490.0,152.2" fill="none" stroke="#404040" stroke-width="0.8"/>
<polyline points="370.0,218.3 370.5,218.3 371.1,218.3 371.6,218.3 372.2,218.3 372.7,218.4 373.3,218.4 373.8,218.4 374.4,218.4 374.9,218.4 375.5,218.4 376.0,218.4 376.6,218.4 377.1,218.4 377.7,218.4 378.2,218.5 378.8,218.5 379.3,218.5 379.9,218.5 380.4,218.5 381.0,218.5 381.5,218.5 382.1,218.5 382.6,218.5 383.2,218.6 383.7,218.6 384.2,218.6 384.8,218.6 385.3,218.6 385.9,218.6 386.4,218.6 387.0,218.6 387.5,218.6 388.1,218.6 388.6,218.7 389.2,218.7 389.7,218.7 390.3,218.7 390.8,218.7 391.4,218.7 391.9,218.7 392.5,218.7 393.0,218.7 393.6,218.8 394.1,218.8 394.7,218.8 395.2,218.8 395.8,218.8 396.3,218.8 396.8,218.8 397.4,218.8 397.9,218.8 398.5,218.8 399.0,218.9 399.6,218.9 400.1,218.9 400.7,218.9 401.2,218.9 401.8,218.9 402.3,218.9 402.9,218.9 403.4,218.9 404.0,219.0 404.5,219.0 405.1,219.0 405.6,219.0 406.2,219.0 406.7,219.0 407.3,219.0 407.8,219.0 408.4,219.0 408.9,219.0 409.5,219.1 410.0,219.1 410.5,219.1 411.1,219.1 411.6,219.1 412.2,219.1 412.7,219.1 413.3,219.1 413.8,219.1 414.4,219.1 414.9,219.1 415.5,219.1 416.0,219.1 416.6,219.0 417.1,219.0 417.7,219.0 418.2,218.9 418.8,218.8 419.3,218.7 419.9,218.6 420.4,218.5 421.0,218.3 421.5,218.1 422.1,217.8 422.6,217.5 423.2,217.1 423.7,216.7 424.2,216.2 424.8,215.6 425.3,214.9 425.9,214.1 426.4,213.2 427.0,212.2 427.5,211.1 428.1,209.8 428.6,208.4 429.2,206.8 429.7,205.1 430.3,203.2 430.8,201.2 431.4,199.0 431.9,196.7 432.5,194.2 433.0,191.6 433.6,188.9 434.1,186.2 434.7,183.4 435.2,180.5 435.8,177.6 436.3,174.7 436.8,171.9 437.4,169.2 437.9,166.6 438.5,164.2 439.0,161.9 439.6,159.9 440.1,158.1 440.7,156.6 441.2,155.3 441.8,154.4 442.3,153.8 442.9,153.6 443.4,153.7 444.0,154.2 444.5,154.9 445.1,156.0 445.6,157.5 446.2,159.1 446.7,161.1 447.3,163.3 447.8,165.7 448.4,168.2 448.9,170.9 449.5,173.7 450.0,176.6 450.5,179.5 451.1,182.4 451.6,185.2 452.2,188.1 452.7,190.8 453.3,193.5 453.8,196.0 454.4,198.4 454.9,200.7 455.5,202.8 456.0,204.7 456.6,206.6 457.1,208.2 457.7,209.7 458.2,211.1 458.8,212.3 459.3,213.4 459.9,214.4 460.4,215.2 461.0,216.0 461.5,216.6 462.1,217.2 462.6,217.7 463.2,218.1 463.7,218.5 464.2,218.8 464.8,219.0 465.3,219.2 465.9,219.4 466.4,219.6 467.0,219.7 467.5,219.8 468.1,219.9 468.6,220.0 469.2,220.0 469.7,220.1 470.3,220.1 470.8,220.2 471.4,220.2 471.9,220.2 472.5,220.2 473.0,220.2 473.6,220.3 474.1,220.3 474.7,220.3 475.2,220.3 475.8,220.3 476.3,220.3 476.8,220.3 477.4,220.4 477.9,220.4 478.5,220.4 479.0,220.4 479.6,220.4 480.1,220.4 480.7,220.4 481.2,220.4 481.8,220.4 482.3,220.5 482.9,220.5 483.4,220.5 484.0,220.5 484.5,220.5 485.1,220.5 485.6,220.5 486.2,220.5 486.7,220.5 487.3,220.5 487.8,220.6 488.4,220.6 488.9,220.6 489.5,220.6 490.0,220.6" fill="none" stroke="#404040" stroke-width="0.8"/>
<polygon points="370.0,218.3 370.5,218.3 371.1,218.3 371.6,218.3 372.2,218.3 372.7,218.3 373.3,218.4 373.8,218.4 374.4,218.4 374.9,218.4 375.5,218.4 376.0,218.4 376.6,218.4 377.1,218.4 377.7,218.4 378.2,218.4 378.8,218.4 379.3,218.4 379.9,218.4 380.4,218.4 381.0,218.4 381.5,218.4 382.1,218.4 382.6,218.4 383.2,218.4 383.7,218.4 384.2,218.4 384.8,218.4 385.3,218.4 385.9,218.4 386.4,218.3 387.0,218.3 387.5,218.3 388.1,218.2 388.6,218.2 389.2,218.1 389.7,218.0 390.3,217.9 390.8,217.8 391.4,217.7 391.9,217.6 392.5,217.5 393.0,217.3 393.6,217.2 394.1,217.0 394.7,216.8 395.2,216.6 395.8,216.3 396.3,216.0 396.8,215.7 397.4,215.4 397.9,215.1 398.5,214.7 399.0,214.3 399.6,213.8 400.1,213.3 400.7,212.8 401.2,212.3 401.8,211.7 402.3,211.0 402.9,210.4 403.4,209.7 404.0,208.9 404.5,208.1 405.1,207.3 405.6,206.4 406.2,205.5 406.7,204.5 407.3,203.6 407.8,202.5 408.4,201.5 408.9,200.4 409.5,199.3 410.0,198.2 410.5,197.0 411.1,195.8 411.6,194.7 412.2,193.5 412.7,192.3 413.3,191.1 413.8,189.9 414.4,188.7 414.9,187.6 415.5,186.4 416.0,185.3 416.6,184.2 417.1,183.2 417.7,182.2 418.2,181.3 418.8,180.4 419.3,179.5 419.9,178.8 420.4,178.1 421.0,177.5 421.5,176.9 422.1,176.5 422.6,176.1 423.2,175.8 423.7,175.6 424.2,175.5 424.8,175.5 425.3,175.6 425.9,175.8 426.4,176.2 427.0,176.7 427.5,177.3 428.1,178.0 428.6,178.9 429.2,179.8 429.7,180.8 430.3,181.9 430.8,183.1 431.4,184.4 431.9,185.7 432.5,187.1 433.0,188.5 433.6,190.0 434.1,191.4 434.7,192.9 435.2,194.4 435.8,195.8 436.3,197.3 436.8,198.7 437.4,200.1 437.9,201.4 438.5,202.8 439.0,204.0 439.6,205.2 440.1,206.4 440.7,207.5 441.2,208.6 441.8,209.6 442.3,210.5 442.9,211.4 443.4,212.2 444.0,212.9 444.5,213.6 445.1,214.3 445.6,214.9 446.2,215.4 446.7,215.9 447.3,216.4 447.8,216.8 448.4,217.2 448.9,217.5 449.5,217.8 450.0,218.1 450.5,218.3 451.1,218.5 451.6,218.7 452.2,218.9 452.7,219.0 453.3,219.2 453.8,219.3 454.4,219.4 454.9,219.5 455.5,219.6 456.0,219.6 456.6,219.7 457.1,219.7 457.7,219.8 458.2,219.8 458.8,219.9 459.3,219.9 459.9,219.9 460.4,220.0 461.0,220.0 461.5,220.0 462.1,220.0 462.6,220.0 463.2,220.1 463.7,220.1 464.2,220.1 464.8,220.1 465.3,220.1 465.9,220.1 466.4,220.1 467.0,220.2 467.5,220.2 468.1,220.2 468.6,220.2 469.2,220.2 469.7,220.2 470.3,220.2 470.8,220.2 471.4,220.2 471.9,220.3 472.5,220.3 473.0,220.3 473.6,220.3 474.1,220.3 474.7,220.3 475.2,220.3 475.8,220.3 476.3,220.3 476.8,220.3 477.4,220.4 477.9,220.4 478.5,220.4 479.0,220.4 479.6,220.4 480.1,220.4 480.7,220.4 481.2,220.4 481.8,220.4 482.3,220.5 482.9,220.5 483.4,220.5 484.0,220.5 484.5,220.5 485.1,220.5 485.6,220.5 486.2,220.5 486.7,220.5 487.3,220.5 487.8,220.6 488.4,220.6 488.9,220.6 489.5,220.6 490.0,220.6 490.0,220.6 489.5,220.6 488.9,220.6 488.4,220.6 487.8,220.6 487.3,220.5 486.7,220.5 486.2,220.5 485.6,220.5 485.1,220.5 484.5,220.5 484.0,220.5 483.4,220.5 482.9,220.5 482.3,220.5 481.8,220.4 481.2,220.4 480.7,220.4 480.1,220.4 479.6,220.4 479.0,220.4 478.5,220.4 477.9,220.4 477.4,220.4 476.8,220.3 476.3,220.3 475.8,220.3 475.2,220.3 474.7,220.3 474.1,220.3 473.6,220.3 473.0,220.3 472.5,220.3 471.9,220.3 471.4,220.2 470.8,220.2 470.3,220.2 469.7,220.2 469.2,220.2 468.6,220.2 468.1,220.2 467.5,220.2 467.0,220.2 466.4,220.1 465.9,220.1 465.3,220.1 464.8,220.1 464.2,220.1 463.7,220.1 463.2,220.1 462.6,220.1 462.1,220.1 461.5,220.1 461.0,220.0 460.4,220.0 459.9,220.0 459.3,220.0 458.8,220.0 458.2,220.0 457.7,220.0 457.1,220.0 456.6,220.0 456.0,219.9 455.5,219.9 454.9,219.9 454.4,219.9 453.8,219.9 453.3,219.9 452.7,219.9 452.2,219.9 451.6,219.9 451.1,219.9 450.5,219.8 450.0,219.8 449.5,219.8 448.9,219.8 448.4,219.8 447.8,219.8 447.3,219.8 446.7,219.8 446.2,219.8 445.6,219.7 445.1,219.7 444.5,219.7 444.0,219.7 443.4,219.7 442.9,219.7 442.3,219.7 441.8,219.7 441.2,219.7 440.7,219.7 440.1,219.6 439.6,219.6 439.0,219.6 438.5,219.6 437.9,219.6 437.4,219.6 436.8,219.6 436.3,219.6 435.8,219.6 435.2,219.5 434.7,219.5 434.1,219.5 433.6,219.5 433.0,219.5 432.5,219.5 431.9,219.5 431.4,219.5 430.8,219.5 430.3,219.5 429.7,219.4 429.2,219.4 428.6,219.4 428.1,219.4 427.5,219.4 427.0,219.4 426.4,219.4 425.9,219.4 425.3,219.4 424.8,219.4 424.2,219.3 423.7,219.3 423.2,219.3 422.6,219.3 422.1,219.3 421.5,219.3 421.0,219.3 420.4,219.3 419.9,219.3 419.3,219.2 418.8,219.2 418.2,219.2 417.7,219.2 417.1,219.2 416.6,219.2 416.0,219.2 415.5,219.2 414.9,219.2 414.4,219.2 413.8,219.1 413.3,219.1 412.7,219.1 412.2,219.1 411.6,219.1 411.1,219.1 410.5,219.1 410.0,219.1 409.5,219.1 408.9,219.0 408.4,219.0 407.8,219.0 407.3,219.0 406.7,219.0 406.2,219.0 405.6,219.0 405.1,219.0 404.5,219.0 404.0,219.0 403.4,218.9 402.9,218.9 402.3,218.9 401.8,218.9 401.2,218.9 400.7,218.9 400.1,218.9 399.6,218.9 399.0,218.9 398.5,218.8 397.9,218.8 397.4,218.8 396.8,218.8 396.3,218.8 395.8,218.8 395.2,218.8 394.7,218.8 394.1,218.8 393.6,218.8 393.0,218.7 392.5,218.7 391.9,218.7 391.4,218.7 390.8,218.7 390.3,218.7 389.7,218.7 389.2,218.7 388.6,218.7 388.1,218.6 387.5,218.6 387.0,218.6 386.4,218.6 385.9,218.6 385.3,218.6 384.8,218.6 384.2,218.6 383.7,218.6 383.2,218.6 382.6,218.5 382.1,218.5 381.5,218.5 381.0,218.5 380.4,218.5 379.9,218.5 379.3,218.5 378.8,218.5 378.2,218.5 377.7,218.4 377.1,218.4 376.6,218.4 376.0,218.4 375.5,218.4 374.9,218.4 374.4,218.4 373.8,218.4 373.3,218.4 372.7,218.4 372.2,218.3 371.6,218.3 371.1,218.3 370.5,218.3 370.0,218.3" fill="#e4e4e4" stroke="none"/>
<polyline points="370.0,218.3 370.5,218.3 371.1,218.3 371.6,218.3 372.2,218.3 372.7,218.3 373.3,218.4 373.8,218.4 374.4,218.4 374.9,218.4 375.5,218.4 376.0,218.4 376.6,218.4 377.1,218.4 377.7,218.4 378.2,218.4 378.8,218.4 379.3,218.4 379.9,218.4 380.4,218.4 381.0,218.4 381.5,218.4 382.1,218.4 382.6,218.4 383.2,218.4 383.7,218.4 384.2,218.4 384.8,218.4 385.3,218.4 385.9,218.4 386.4,218.3 387.0,218.3 387.5,218.3 388.1,218.2 388.6,218.2 389.2,218.1 389.7,218.0 390.3,217.9 390.8,217.8 391.4,217.7 391.9,217.6 392.5,217.5 393.0,217.3 393.6,217.2 394.1,217.0 394.7,216.8 395.2,216.6 395.8,216.3 396.3,216.0 396.8,215.7 397.4,215.4 397.9,215.1 398.5,214.7 399.0,214.3 399.6,213.8 400.1,213.3 400.7,212.8 401.2,212.3 401.8,211.7 402.3,211.0 402.9,210.4 403.4,209.7 404.0,208.9 404.5,208.1 405.1,207.3 405.6,206.4 406.2,205.5 406.7,204.5 407.3,203.6 407.8,202.5 408.4,201.5 408.9,200.4 409.5,199.3 410.0,198.2 410.5,197.0 411.1,195.8 411.6,194.7 412.2,193.5 412.7,192.3 413.3,191.1 413.8,189.9 414.4,188.7 414.9,187.6 415.5,186.4 416.0,185.3 416.6,184.2 417.1,183.2 417.7,182.2 418.2,181.3 418.8,180.4 419.3,179.5 419.9,178.8 420.4,178.1 421.0,177.5 421.5,176.9 422.1,176.5 422.6,176.1 423.2,175.8 423.7,175.6 424.2,175.5 424.8,175.5 425.3,175.6 425.9,175.8 426.4,176.2 427.0,176.7 427.5,177.3 428.1,178.0 428.6,178.9 429.2,179.8 429.7,180.8 430.3,181.9 430.8,183.1 431.4,184.4 431.9,185.7 432.5,187.1 433.0,188.5 433.6,190.0 434.1,191.4 434.7,192.9 435.2,194.4 435.8,195.8 436.3,197.3 436.8,198.7 437.4,200.1 437.9,201.4 438.5,202.8 439.0,204.0 439.6,205.2 440.1,206.4 440.7,207.5 441.2,208.6 441.8,209.6 442.3,210.5 442.9,211.4 443.4,212.2 444.0,212.9 444.5,213.6 445.1,214.3 445.6,214.9 446.2,215.4 446.7,215.9 447.3,216.4 447.8,216.8 448.4,217.2 448.9,217.5 449.5,217.8 450.0,218.1 450.5,218.3 451.1,218.5 451.6,218.7 452.2,218.9 452.7,219.0 453.3,219.2 453.8,219.3 454.4,219.4 454.9,219.5 455.5,219.6 456.0,219.6 456.6,219.7 457.1,219.7 457.7,219.8 458.2,219.8 458.8,219.9 459.3,219.9 459.9,219.9 460.4,220.0 461.0,220.0 461.5,220.0 462.1,220.0 462.6,220.0 463.2,220.1 463.7,220.1 464.2,220.1 464.8,220.1 465.3,220.1 465.9,220.1 466.4,220.1 467.0,220.2 467.5,220.2 468.1,220.2 468.6,220.2 469.2,220.2 469.7,220.2 470.3,220.2 470.8,220.2 471.4,220.2 471.9,220.3 472.5,220.3 473.0,220.3 473.6,220.3 474.1,220.3 474.7,220.3 475.2,220.3 475.8,220.3 476.3,220.3 476.8,220.3 477.4,220.4 477.9,220.4 478.5,220.4 479.0,220.4 479.6,220.4 480.1,220.4 480.7,220.4 481.2,220.4 481.8,220.4 482.3,220.5 482.9,220.5 483.4,220.5 484.0,220.5 484.5,220.5 485.1,220.5 485.6,220.5 486.2,220.5 486.7,220.5 487.3,220.5 487.8,220.6 488.4,220.6 488.9,220.6 489.5,220.6 490.0,220.6" fill="none" stroke="#404040" stroke-width="0.8"/>
<polygon points="370.0,217.8 370.5,217.7 371.1,217.6 371.6,217.6 372.2,217.5 372.7,217.4 373.3,217.3 373.8,217.2 374.4,217.1 374.9,217.0 375.5,216.8 376.0,216.7 376.6,216.5 377.1,216.4 377.7,216.2 378.2,216.0 378.8,215.8 379.3,215.5 379.9,215.3 380.4,215.0 381.0,214.7 381.5,214.4 382.1,214.1 382.6,213.8 383.2,213.5 383.7,213.1 384.2,212.7 384.8,212.4 385.3,212.0 385.9,211.5 386.4,211.1 387.0,210.7 387.5,210.2 388.1,209.8 388.6,209.3 389.2,208.8 389.7,208.3 390.3,207.9 390.8,207.4 391.4,206.9 391.9,206.4 392.5,205.9 393.0,205.5 393.6,205.0 394.1,204.5 394.7,204.1 395.2,203.7 395.8,203.3 396.3,202.9 396.8,202.5 397.4,202.2 397.9,201.8 398.5,201.5 399.0,201.3 399.6,201.0 400.1,200.8 400.7,200.7 401.2,200.5 401.8,200.4 402.3,200.3 402.9,200.3 403.4,200.3 404.0,200.3 404.5,200.4 405.1,200.5 405.6,200.7 406.2,200.8 406.7,201.0 407.3,201.3 407.8,201.6 408.4,201.9 408.9,202.2 409.5,202.5 410.0,202.9 410.5,203.3 411.1,203.7 411.6,204.2 412.2,204.6 412.7,205.1 413.3,205.6 413.8,206.1 414.4,206.6 414.9,207.1 415.5,207.6 416.0,208.1 416.6,208.6 417.1,209.1 417.7,209.6 418.2,210.1 418.8,210.6 419.3,211.0 419.9,211.5 420.4,212.0 421.0,212.4 421.5,212.8 422.1,213.3 422.6,213.7 423.2,214.0 423.7,214.4 424.2,214.8 424.8,215.1 425.3,215.4 425.9,215.7 426.4,216.0 427.0,216.3 427.5,216.6 428.1,216.8 428.6,217.0 429.2,217.2 429.7,217.4 430.3,217.6 430.8,217.8 431.4,218.0 431.9,218.1 432.5,218.3 433.0,218.4 433.6,218.5 434.1,218.6 434.7,218.7 435.2,218.8 435.8,218.9 436.3,219.0 436.8,219.1 437.4,219.1 437.9,219.2 438.5,219.3 439.0,219.3 439.6,219.4 440.1,219.4 440.7,219.4 441.2,219.5 441.8,219.5 442.3,219.5 442.9,219.6 443.4,219.6 444.0,219.6 444.5,219.6 445.1,219.7 445.6,219.7 446.2,219.7 446.7,219.7 447.3,219.7 447.8,219.8 448.4,219.8 448.9,219.8 449.5,219.8 450.0,219.8 450.5,219.8 451.1,219.8 451.6,219.9 452.2,219.9 452.7,219.9 453.3,219.9 453.8,219.9 454.4,219.9 454.9,219.9 455.5,219.9 456.0,219.9 456.6,220.0 457.1,220.0 457.7,220.0 458.2,220.0 458.8,220.0 459.3,220.0 459.9,220.0 460.4,220.0 461.0,220.0 461.5,220.1 462.1,220.1 462.6,220.1 463.2,220.1 463.7,220.1 464.2,220.1 464.8,220.1 465.3,220.1 465.9,220.1 466.4,220.1 467.0,220.2 467.5,220.2 468.1,220.2 468.6,220.2 469.2,220.2 469.7,220.2 470.3,220.2 470.8,220.2 471.4,220.2 471.9,220.3 472.5,220.3 473.0,220.3 473.6,220.3 474.1,220.3 474.7,220.3 475.2,220.3 475.8,220.3 476.3,220.3 476.8,220.3 477.4,220.4 477.9,220.4 478.5,220.4 479.0,220.4 479.6,220.4 480.1,220.4 480.7,220.4 481.2,220.4 481.8,220.4 482.3,220.5 482.9,220.5 483.4,220.5 484.0,220.5 484.5,220.5 485.1,220.5 485.6,220.5 486.2,220.5 486.7,220.5 487.3,220.5 487.8,220.6 488.4,220.6 488.9,220.6 489.5,220.6 490.0,220.6 490.0,220.6 489.5,220.6 488.9,220.6 488.4,220.6 487.8,220.6 487.3,220.5 486.7,220.5 486.2,220.5 485.6,220.5 485.1,220.5 484.5,220.5 484.0,220.5 483.4,220.5 482.9,220.5 482.3,220.5 481.8,220.4 481.2,220.4 480.7,220.4 480.1,220.4 479.6,220.4 479.0,220.4 478.5,220.4 477.9,220.4 477.4,220.4 476.8,220.3 476.3,220.3 475.8,220.3 475.2,220.3 474.7,220.3 474.1,220.3 473.6,220.3 473.0,220.3 472.5,220.3 471.9,220.3 471.4,220.2 470.8,220.2 470.3,220.2 469.7,220.2 469.2,220.2 468.6,220.2 468.1,220.2 467.5,220.2 467.0,220.2 466.4,220.1 465.9,220.1 465.3,220.1 464.8,220.1 464.2,220.1 463.7,220.1 463.2,220.1 462.6,220.1 462.1,220.1 461.5,220.1 461.0,220.0 460.4,220.0 459.9,220.0 459.3,220.0 458.8,220.0 458.2,220.0 457.7,220.0 457.1,220.0 456.6,220.0 456.0,219.9 455.5,219.9 454.9,219.9 454.4,219.9 453.8,219.9 453.3,219.9 452.7,219.9 452.2,219.9 451.6,219.9 451.1,219.9 450.5,219.8 450.0,219.8 449.5,219.8 448.9,219.8 448.4,219.8 447.8,219.8 447.3,219.8 446.7,219.8 446.2,219.8 445.6,219.7 445.1,219.7 444.5,219.7 444.0,219.7 443.4,219.7 442.9,219.7 442.3,219.7 441.8,219.7 441.2,219.7 440.7,219.7 440.1,219.6 439.6,219.6 439.0,219.6 438.5,219.6 437.9,219.6 437.4,219.6 436.8,219.6 436.3,219.6 435.8,219.6 435.2,219.5 434.7,219.5 434.1,219.5 433.6,219.5 433.0,219.5 432.5,219.5 431.9,219.5 431.4,219.5 430.8,219.5 430.3,219.5 429.7,219.4 429.2,219.4 428.6,219.4 428.1,219.4 427.5,219.4 427.0,219.4 426.4,219.4 425.9,219.4 425.3,219.4 424.8,219.4 424.2,219.3 423.7,219.3 423.2,219.3 422.6,219.3 422.1,219.3 421.5,219.3 421.0,219.3 420.4,219.3 419.9,219.3 419.3,219.2 418.8,219.2 418.2,219.2 417.7,219.2 417.1,219.2 416.6,219.2 416.0,219.2 415.5,219.2 414.9,219.2 414.4,219.2 413.8,219.1 413.3,219.1 412.7,219.1 412.2,219.1 411.6,219.1 411.1,219.1 410.5,219.1 410.0,219.1 409.5,219.1 408.9,219.0 408.4,219.0 407.8,219.0 407.3,219.0 406.7,219.0 406.2,219.0 405.6,219.0 405.1,219.0 404.5,219.0 404.0,219.0 403.4,218.9 402.9,218.9 402.3,218.9 401.8,218.9 401.2,218.9 400.7,218.9 400.1,218.9 399.6,218.9 399.0,218.9 398.5,218.8 397.9,218.8 397.4,218.8 396.8,218.8 396.3,218.8 395.8,218.8 395.2,218.8 394.7,218.8 394.1,218.8 393.6,218.8 393.0,218.7 392.5,218.7 391.9,218.7 391.4,218.7 390.8,218.7 390.3,218.7 389.7,218.7 389.2,218.7 388.6,218.7 388.1,218.6 387.5,218.6 387.0,218.6 386.4,218.6 385.9,218.6 385.3,218.6 384.8,218.6 384.2,218.6 383.7,218.6 383.2,218.6 382.6,218.5 382.1,218.5 381.5,218.5 381.0,218.5 380.4,218.5 379.9,218.5 379.3,218.5 378.8,218.5 378.2,218.5 377.7,218.4 377.1,218.4 376.6,218.4 376.0,218.4 375.5,218.4 374.9,218.4 374.4,218.4 373.8,218.4 373.3,218.4 372.7,218.4 372.2,218.3 371.6,218.3 371.1,218.3 370.5,218.3 370.0,218.3" fill="#cdcdcd" stroke="none"/>
<polyline points="370.0,217.8 370.5,217.7 371.1,217.6 371.6,217.6 372.2,217.5 372.7,217.4 373.3,217.3 373.8,217.2 374.4,217.1 374.9,217.0 375.5,216.8 376.0,216.7 376.6,216.5 377.1,216.4 377.7,216.2 378.2,216.0 378.8,215.8 379.3,215.5 379.9,215.3 380.4,215.0 381.0,214.7 381.5,214.4 382.1,214.1 382.6,213.8 383.2,213.5 383.7,213.1 384.2,212.7 384.8,212.4 385.3,212.0 385.9,211.5 386.4,211.1 387.0,210.7 387.5,210.2 388.1,209.8 388.6,209.3 389.2,208.8 389.7,208.3 390.3,207.9 390.8,207.4 391.4,206.9 391.9,206.4 392.5,205.9 393.0,205.5 393.6,205.0 394.1,204.5 394.7,204.1 395.2,203.7 395.8,203.3 396.3,202.9 396.8,202.5 397.4,202.2 397.9,201.8 398.5,201.5 399.0,201.3 399.6,201.0 400.1,200.8 400.7,200.7 401.2,200.5 401.8,200.4 402.3,200.3 402.9,200.3 403.4,200.3 404.0,200.3 404.5,200.4 405.1,200.5 405.6,200.7 406.2,200.8 406.7,201.0 407.3,201.3 407.8,201.6 408.4,201.9 408.9,202.2 409.5,202.5 410.0,202.9 410.5,203.3 411.1,203.7 411.6,204.2 412.2,204.6 412.7,205.1 413.3,205.6 413.8,206.1 414.4,206.6 414.9,207.1 415.5,207.6 416.0,208.1 416.6,208.6 417.1,209.1 417.7,209.6 418.2,210.1 418.8,210.6 419.3,211.0 419.9,211.5 420.4,212.0 421.0,212.4 421.5,212.8 422.1,213.3 422.6,213.7 423.2,214.0 423.7,214.4 424.2,214.8 424.8,215.1 425.3,215.4 425.9,215.7 426.4,216.0 427.0,216.3 427.5,216.6 428.1,216.8 428.6,217.0 429.2,217.2 429.7,217.4 430.3,217.6 430.8,217.8 431.4,218.0 431.9,218.1 432.5,218.3 433.0,218.4 433.6,218.5 434.1,218.6 434.7,218.7 435.2,218.8 435.8,218.9 436.3,219.0 436.8,219.1 437.4,219.1 437.9,219.2 438.5,219.3 439.0,219.3 439.6,219.4 440.1,219.4 440.7,219.4 441.2,219.5 441.8,219.5 442.3,219.5 442.9,219.6 443.4,219.6 444.0,219.6 444.5,219.6 445.1,219.7 445.6,219.7 446.2,219.7 446.7,219.7 447.3,219.7 447.8,219.8 448.4,219.8 448.9,219.8 449.5,219.8 450.0,219.8 450.5,219.8 451.1,219.8 451.6,219.9 452.2,219.9 452.7,219.9 453.3,219.9 453.8,219.9 454.4,219.9 454.9,219.9 455.5,219.9 456.0,219.9 456.6,220.0 457.1,220.0 457.7,220.0 458.2,220.0 458.8,220.0 459.3,220.0 459.9,220.0 460.4,220.0 461.0,220.0 461.5,220.1 462.1,220.1 462.6,220.1 463.2,220.1 463.7,220.1 464.2,220.1 464.8,220.1 465.3,220.1 465.9,220.1 466.4,220.1 467.0,220.2 467.5,220.2 468.1,220.2 468.6,220.2 469.2,220.2 469.7,220.2 470.3,220.2 470.8,220.2 471.4,220.2 471.9,220.3 472.5,220.3 473.0,220.3 473.6,220.3 474.1,220.3 474.7,220.3 475.2,220.3 475.8,220.3 476.3,220.3 476.8,220.3 477.4,220.4 477.9,220.4 478.5,220.4 479.0,220.4 479.6,220.4 480.1,220.4 480.7,220.4 481.2,220.4 481.8,220.4 482.3,220.5 482.9,220.5 483.4,220.5 484.0,220.5 484.5,220.5 485.1,220.5 485.6,220.5 486.2,220.5 486.7,220.5 487.3,220.5 487.8,220.6 488.4,220.6 488.9,220.6 489.5,220.6 490.0,220.6" fill="none" stroke="#404040" stroke-width="0.8"/>
<polyline points="370.0,218.3 370.5,218.3 371.1,218.3 371.6,218.3 372.2,218.3 372.7,218.4 373.3,218.4 373.8,218.4 374.4,218.4 374.9,218.4 375.5,218.4 376.0,218.4 376.6,218.4 377.1,218.4 377.7,218.4 378.2,218.5 378.8,218.5 379.3,218.5 379.9,218.5 380.4,218.5 381.0,218.5 381.5,218.5 382.1,218.5 382.6,218.5 383.2,218.6 383.7,218.6 384.2,218.6 384.8,218.6 385.3,218.6 385.9,218.6 386.4,218.6 387.0,218.6 387.5,218.6 388.1,218.6 388.6,218.7 389.2,218.7 389.7,218.7 390.3,218.7 390.8,218.7 391.4,218.7 391.9,218.7 392.5,218.7 393.0,218.7 393.6,218.8 394.1,218.8 394.7,218.8 395.2,218.8 395.8,218.8 396.3,218.8 396.8,218.8 397.4,218.8 397.9,218.8 398.5,218.8 399.0,218.9 399.6,218.9 400.1,218.9 400.7,218.9 401.2,218.9 401.8,218.9 402.3,218.9 402.9,218.9 403.4,218.9 404.0,219.0 404.5,219.0 405.1,219.0 405.6,219.0 406.2,219.0 406.7,219.0 407.3,219.0 407.8,219.0 408.4,219.0 408.9,219.0 409.5,219.1 410.0,219.1 410.5,219.1 411.1,219.1 411.6,219.1 412.2,219.1 412.7,219.1 413.3,219.1 413.8,219.1 414.4,219.2 414.9,219.2 415.5,219.2 416.0,219.2 416.6,219.2 417.1,219.2 417.7,219.2 418.2,219.2 418.8,219.2 419.3,219.2 419.9,219.3 420.4,219.3 421.0,219.3 421.5,219.3 422.1,219.3 422.6,219.3 423.2,219.3 423.7,219.3 424.2,219.3 424.8,219.4 425.3,219.4 425.9,219.4 426.4,219.4 427.0,219.4 427.5,219.4 428.1,219.4 428.6,219.4 429.2,219.4 429.7,219.4 430.3,219.5 430.8,219.5 431.4,219.5 431.9,219.5 432.5,219.5 433.0,219.5 433.6,219.5 434.1,219.5 434.7,219.5 435.2,219.5 435.8,219.6 436.3,219.6 436.8,219.6 437.4,219.6 437.9,219.6 438.5,219.6 439.0,219.6 439.6,219.6 440.1,219.6 440.7,219.7 441.2,219.7 441.8,219.7 442.3,219.7 442.9,219.7 443.4,219.7 444.0,219.7 444.5,219.7 445.1,219.7 445.6,219.7 446.2,219.8 446.7,219.8 447.3,219.8 447.8,219.8 448.4,219.8 448.9,219.8 449.5,219.8 450.0,219.8 450.5,219.8 451.1,219.9 451.6,219.9 452.2,219.9 452.7,219.9 453.3,219.9 453.8,219.9 454.4,219.9 454.9,219.9 455.5,219.9 456.0,219.9 456.6,220.0 457.1,220.0 457.7,220.0 458.2,220.0 458.8,220.0 459.3,220.0 459.9,220.0 460.4,220.0 461.0,220.0 461.5,220.1 462.1,220.1 462.6,220.1 463.2,220.1 463.7,220.1 464.2,220.1 464.8,220.1 465.3,220.1 465.9,220.1 466.4,220.1 467.0,220.2 467.5,220.2 468.1,220.2 468.6,220.2 469.2,220.2 469.7,220.2 470.3,220.2 470.8,220.2 471.4,220.2 471.9,220.3 472.5,220.3 473.0,220.3 473.6,220.3 474.1,220.3 474.7,220.3 475.2,220.3 475.8,220.3 476.3,220.3 476.8,220.3 477.4,220.4 477.9,220.4 478.5,220.4 479.0,220.4 479.6,220.4 480.1,220.4 480.7,220.4 481.2,220.4 481.8,220.4 482.3,220.5 482.9,220.5 483.4,220.5 484.0,220.5 484.5,220.5 485.1,220.5 485.6,220.5 486.2,220.5 486.7,220.5 487.3,220.5 487.8,220.6 488.4,220.6 488.9,220.6 489.5,220.6 490.0,220.6" fill="none" stroke="#404040" stroke-width="0.8"/>
<polyline points="372.0,279.9 372.5,279.9 373.1,279.9 373.6,279.9 374.2,279.9 374.7,280.0 375.2,280.0 375.8,280.0 376.3,280.0 376.8,280.0 377.4,280.0 377.9,280.0 378.5,280.0 379.0,280.0 379.5,280.1 380.1,280.1 380.6,280.1 381.2,280.1 381.7,280.1 382.2,280.1 382.8,280.1 383.3,280.1 383.9,280.1 384.4,280.2 384.9,280.2 385.5,280.2 386.0,280.2 386.5,280.2 387.1,280.2 387.6,280.2 388.2,280.2 388.7,280.2 389.2,280.3 389.8,280.3 390.3,280.3 390.9,280.3 391.4,280.3 391.9,280.3 392.5,280.3 393.0,280.3 393.6,280.3 394.1,280.3 394.6,280.4 395.2,280.4 395.7,280.4 396.2,280.4 396.8,280.4 397.3,280.4 397.9,280.4 398.4,280.4 398.9,280.4 399.5,280.5 400.0,280.5 400.6,280.5 401.1,280.5 401.6,280.5 402.2,280.5 402.7,280.5 403.3,280.5 403.8,280.5 404.3,280.6 404.9,280.6 405.4,280.6 405.9,280.6 406.5,280.6 407.0,280.6 407.6,280.6 408.1,280.6 408.6,280.6 409.2,280.7 409.7,280.7 410.3,280.7 410.8,280.7 411.3,280.7 411.9,280.7 412.4,280.7 412.9,280.7 413.5,280.7 414.0,280.7 414.6,280.7 415.1,280.7 415.6,280.7 416.2,280.7 416.7,280.7 417.3,280.7 417.8,280.7 418.3,280.6 418.9,280.6 419.4,280.5 420.0,280.4 420.5,280.3 421.0,280.2 421.6,280.0 422.1,279.9 422.6,279.6 423.2,279.4 423.7,279.0 424.3,278.6 424.8,278.2 425.3,277.7 425.9,277.1 426.4,276.4 427.0,275.6 427.5,274.7 428.0,273.6 428.6,272.5 429.1,271.2 429.7,269.7 430.2,268.2 430.7,266.4 431.3,264.5 431.8,262.5 432.3,260.3 432.9,258.0 433.4,255.6 434.0,253.0 434.5,250.3 435.0,247.6 435.6,244.7 436.1,241.9 436.7,239.0 437.2,236.1 437.7,233.3 438.3,230.5 438.8,227.9 439.4,225.4 439.9,223.1 440.4,221.0 441.0,219.1 441.5,217.5 442.0,216.2 442.6,215.1 443.1,214.4 443.7,214.1 444.2,214.0 444.7,214.3 445.3,215.0 445.8,215.9 446.4,217.2 446.9,218.8 447.4,220.6 448.0,222.7 448.5,225.0 449.1,227.4 449.6,230.1 450.1,232.8 450.7,235.6 451.2,238.5 451.7,241.4 452.3,244.3 452.8,247.2 453.4,250.0 453.9,252.7 454.4,255.3 455.0,257.9 455.5,260.2 456.1,262.5 456.6,264.6 457.1,266.5 457.7,268.3 458.2,269.9 458.7,271.4 459.3,272.8 459.8,274.0 460.4,275.1 460.9,276.0 461.4,276.9 462.0,277.6 462.5,278.3 463.1,278.8 463.6,279.3 464.1,279.8 464.7,280.1 465.2,280.4 465.8,280.7 466.3,280.9 466.8,281.1 467.4,281.2 467.9,281.4 468.4,281.5 469.0,281.6 469.5,281.6 470.1,281.7 470.6,281.8 471.1,281.8 471.7,281.8 472.2,281.9 472.8,281.9 473.3,281.9 473.8,281.9 474.4,282.0 474.9,282.0 475.5,282.0 476.0,282.0 476.5,282.0 477.1,282.0 477.6,282.0 478.1,282.1 478.7,282.1 479.2,282.1 479.8,282.1 480.3,282.1 480.8,282.1 481.4,282.1 481.9,282.1 482.5,282.1 483.0,282.2 483.5,282.2 484.1,282.2 484.6,282.2 485.2,282.2 485.7,282.2 486.2,282.2 486.8,282.2 487.3,282.2 487.8,282.3 488.4,282.3 488.9,282.3 489.5,282.3 490.0,282.3" fill="none" stroke="#404040" stroke-width="0.8"/>
<polygon points="372.0,279.9 372.5,279.9 373.1,279.9 373.6,279.9 374.2,279.9 374.7,280.0 375.2,280.0 375.8,280.0 376.3,280.0 376.8,280.0 377.4,280.0 377.9,280.0 378.5,280.0 379.0,280.0 379.5,280.0 380.1,280.1 380.6,280.1 381.2,280.1 381.7,280.1 382.2,280.1 382.8,280.1 383.3,280.1 383.9,280.1 384.4,280.1 384.9,280.1 385.5,280.1 386.0,280.1 386.5,280.1 387.1,280.1 387.6,280.1 388.2,280.1 388.7,280.1 389.2,280.0 389.8,280.0 390.3,280.0 390.9,279.9 391.4,279.9 391.9,279.8 392.5,279.7 393.0,279.7 393.6,279.6 394.1,279.5 394.6,279.4 395.2,279.2 395.7,279.1 396.2,278.9 396.8,278.7 397.3,278.5 397.9,278.2 398.4,278.0 398.9,277.7 399.5,277.3 400.0,277.0 400.6,276.6 401.1,276.1 401.6,275.7 402.2,275.2 402.7,274.6 403.3,274.0 403.8,273.4 404.3,272.7 404.9,272.0 405.4,271.3 405.9,270.5 406.5,269.7 407.0,268.8 407.6,267.9 408.1,267.0 408.6,266.0 409.2,265.0 409.7,264.0 410.3,263.0 410.8,261.9 411.3,260.8 411.9,259.8 412.4,258.7 412.9,257.7 413.5,256.6 414.0,255.6 414.6,254.6 415.1,253.6 415.6,252.7 416.2,251.8 416.7,251.0 417.3,250.2 417.8,249.5 418.3,248.9 418.9,248.3 419.4,247.9 420.0,247.5 420.5,247.2 421.0,247.0 421.6,246.8 422.1,246.8 422.6,246.9 423.2,247.1 423.7,247.4 424.3,247.9 424.8,248.5 425.3,249.2 425.9,250.1 426.4,251.0 427.0,252.0 427.5,253.1 428.0,254.2 428.6,255.4 429.1,256.7 429.7,258.0 430.2,259.3 430.7,260.6 431.3,261.9 431.8,263.2 432.3,264.5 432.9,265.7 433.4,267.0 434.0,268.1 434.5,269.3 435.0,270.3 435.6,271.3 436.1,272.3 436.7,273.2 437.2,274.0 437.7,274.8 438.3,275.5 438.8,276.2 439.4,276.8 439.9,277.4 440.4,277.9 441.0,278.3 441.5,278.7 442.0,279.1 442.6,279.4 443.1,279.7 443.7,279.9 444.2,280.2 444.7,280.4 445.3,280.5 445.8,280.7 446.4,280.8 446.9,280.9 447.4,281.0 448.0,281.1 448.5,281.2 449.1,281.2 449.6,281.3 450.1,281.3 450.7,281.4 451.2,281.4 451.7,281.4 452.3,281.5 452.8,281.5 453.4,281.5 453.9,281.5 454.4,281.6 455.0,281.6 455.5,281.6 456.1,281.6 456.6,281.6 457.1,281.6 457.7,281.6 458.2,281.6 458.7,281.7 459.3,281.7 459.8,281.7 460.4,281.7 460.9,281.7 461.4,281.7 462.0,281.7 462.5,281.7 463.1,281.8 463.6,281.8 464.1,281.8 464.7,281.8 465.2,281.8 465.8,281.8 466.3,281.8 466.8,281.8 467.4,281.8 467.9,281.9 468.4,281.9 469.0,281.9 469.5,281.9 470.1,281.9 470.6,281.9 471.1,281.9 471.7,281.9 472.2,281.9 472.8,281.9 473.3,282.0 473.8,282.0 474.4,282.0 474.9,282.0 475.5,282.0 476.0,282.0 476.5,282.0 477.1,282.0 477.6,282.0 478.1,282.1 478.7,282.1 479.2,282.1 479.8,282.1 480.3,282.1 480.8,282.1 481.4,282.1 481.9,282.1 482.5,282.1 483.0,282.2 483.5,282.2 484.1,282.2 484.6,282.2 485.2,282.2 485.7,282.2 486.2,282.2 486.8,282.2 487.3,282.2 487.8,282.3 488.4,282.3 488.9,282.3 489.5,282.3 490.0,282.3 490.0,282.3 489.5,282.3 488.9,282.3 488.4,282.3 487.8,282.3 487.3,282.2 486.8,282.2 486.2,282.2 485.7,282.2 485.2,282.2 484.6,282.2 484.1,282.2 483.5,282.2 483.0,282.2 482.5,282.1 481.9,282.1 481.4,282.1 480.8,282.1 480.3,282.1 479.8,282.1 479.2,282.1 478.7,282.1 478.1,282.1 477.6,282.0 477.1,282.0 476.5,282.0 476.0,282.0 475.5,282.0 474.9,282.0 474.4,282.0 473.8,282.0 473.3,282.0 472.8,281.9 472.2,281.9 471.7,281.9 471.1,281.9 470.6,281.9 470.1,281.9 469.5,281.9 469.0,281.9 468.4,281.9 467.9,281.9 467.4,281.8 466.8,281.8 466.3,281.8 465.8,281.8 465.2,281.8 464.7,281.8 464.1,281.8 463.6,281.8 463.1,281.8 462.5,281.7 462.0,281.7 461.4,281.7 460.9,281.7 460.4,281.7 459.8,281.7 459.3,281.7 458.7,281.7 458.2,281.7 457.7,281.6 457.1,281.6 456.6,281.6 456.1,281.6 455.5,281.6 455.0,281.6 454.4,281.6 453.9,281.6 453.4,281.6 452.8,281.5 452.3,281.5 451.7,281.5 451.2,281.5 450.7,281.5 450.1,281.5 449.6,281.5 449.1,281.5 448.5,281.5 448.0,281.4 447.4,281.4 446.9,281.4 446.4,281.4 445.8,281.4 445.3,281.4 444.7,281.4 444.2,281.4 443.7,281.4 443.1,281.3 442.6,281.3 442.0,281.3 441.5,281.3 441.0,281.3 440.4,281.3 439.9,281.3 439.4,281.3 438.8,281.3 438.3,281.2 437.7,281.2 437.2,281.2 436.7,281.2 436.1,281.2 435.6,281.2 435.0,281.2 434.5,281.2 434.0,281.2 433.4,281.1 432.9,281.1 432.3,281.1 431.8,281.1 431.3,281.1 430.7,281.1 430.2,281.1 429.7,281.1 429.1,281.1 428.6,281.1 428.0,281.0 427.5,281.0 427.0,281.0 426.4,281.0 425.9,281.0 425.3,281.0 424.8,281.0 424.3,281.0 423.7,281.0 423.2,280.9 422.6,280.9 422.1,280.9 421.6,280.9 421.0,280.9 420.5,280.9 420.0,280.9 419.4,280.9 418.9,280.9 418.3,280.8 417.8,280.8 417.3,280.8 416.7,280.8 416.2,280.8 415.6,280.8 415.1,280.8 414.6,280.8 414.0,280.8 413.5,280.7 412.9,280.7 412.4,280.7 411.9,280.7 411.3,280.7 410.8,280.7 410.3,280.7 409.7,280.7 409.2,280.7 408.6,280.6 408.1,280.6 407.6,280.6 407.0,280.6 406.5,280.6 405.9,280.6 405.4,280.6 404.9,280.6 404.3,280.6 403.8,280.5 403.3,280.5 402.7,280.5 402.2,280.5 401.6,280.5 401.1,280.5 400.6,280.5 400.0,280.5 399.5,280.5 398.9,280.4 398.4,280.4 397.9,280.4 397.3,280.4 396.8,280.4 396.2,280.4 395.7,280.4 395.2,280.4 394.6,280.4 394.1,280.3 393.6,280.3 393.0,280.3 392.5,280.3 391.9,280.3 391.4,280.3 390.9,280.3 390.3,280.3 389.8,280.3 389.2,280.3 388.7,280.2 388.2,280.2 387.6,280.2 387.1,280.2 386.5,280.2 386.0,280.2 385.5,280.2 384.9,280.2 384.4,280.2 383.9,280.1 383.3,280.1 382.8,280.1 382.2,280.1 381.7,280.1 381.2,280.1 380.6,280.1 380.1,280.1 379.5,280.1 379.0,280.0 378.5,280.0 377.9,280.0 377.4,280.0 376.8,280.0 376.3,280.0 375.8,280.0 375.2,280.0 374.7,280.0 374.2,279.9 373.6,279.9 373.1,279.9 372.5,279.9 372.0,279.9" fill="#e4e4e4" stroke="none"/>
<polyline points="372.0,279.9 372.5,279.9 373.1,279.9 373.6,279.9 374.2,279.9 374.7,280.0 375.2,280.0 375.8,280.0 376.3,280.0 376.8,280.0 377.4,280.0 377.9,280.0 378.5,280.0 379.0,280.0 379.5,280.0 380.1,280.1 380.6,280.1 381.2,280.1 381.7,280.1 382.2,280.1 382.8,280.1 383.3,280.1 383.9,280.1 384.4,280.1 384.9,280.1 385.5,280.1 386.0,280.1 386.5,280.1 387.1,280.1 387.6,280.1 388.2,280.1 388.7,280.1 389.2,280.0 389.8,280.0 390.3,280.0 390.9,279.9 391.4,279.9 391.9,279.8 392.5,279.7 393.0,279.7 393.6,279.6 394.1,279.5 394.6,279.4 395.2,279.2 395.7,279.1 396.2,278.9 396.8,278.7 397.3,278.5 397.9,278.2 398.4,278.0 398.9,277.7 399.5,277.3 400.0,277.0 400.6,276.6 401.1,276.1 401.6,275.7 402.2,275.2 402.7,274.6 403.3,274.0 403.8,273.4 404.3,272.7 404.9,272.0 405.4,271.3 405.9,270.5 406.5,269.7 407.0,268.8 407.6,267.9 408.1,267.0 408.6,266.0 409.2,265.0 409.7,264.0 410.3,263.0 410.8,261.9 411.3,260.8 411.9,259.8 412.4,258.7 412.9,257.7 413.5,256.6 414.0,255.6 414.6,254.6 415.1,253.6 415.6,252.7 416.2,251.8 416.7,251.0 417.3,250.2 417.8,249.5 418.3,248.9 418.9,248.3 419.4,247.9 420.0,247.5 420.5,247.2 421.0,247.0 421.6,246.8 422.1,246.8 422.6,246.9 423.2,247.1 423.7,247.4 424.3,247.9 424.8,248.5 425.3,249.2 425.9,250.1 426.4,251.0 427.0,252.0 427.5,253.1 428.0,254.2 428.6,255.4 429.1,256.7 429.7,258.0 430.2,259.3 430.7,260.6 431.3,261.9 431.8,263.2 432.3,264.5 432.9,265.7 433.4,267.0 434.0,268.1 434.5,269.3 435.0,270.3 435.6,271.3 436.1,272.3 436.7,273.2 437.2,274.0 437.7,274.8 438.3,275.5 438.8,276.2 439.4,276.8 439.9,277.4 440.4,277.9 441.0,278.3 441.5,278.7 442.0,279.1 442.6,279.4 443.1,279.7 443.7,279.9 444.2,280.2 444.7,280.4 445.3,280.5 445.8,280.7 446.4,280.8 446.9,280.9 447.4,281.0 448.0,281.1 448.5,281.2 449.1,281.2 449.6,281.3 450.1,281.3 450.7,281.4 451.2,281.4 451.7,281.4 452.3,281.5 452.8,281.5 453.4,281.5 453.9,281.5 454.4,281.6 455.0,281.6 455.5,281.6 456.1,281.6 456.6,281.6 457.1,281.6 457.7,281.6 458.2,281.6 458.7,281.7 459.3,281.7 459.8,281.7 460.4,281.7 460.9,281.7 461.4,281.7 462.0,281.7 462.5,281.7 463.1,281.8 463.6,281.8 464.1,281.8 464.7,281.8 465.2,281.8 465.8,281.8 466.3,281.8 466.8,281.8 467.4,281.8 467.9,281.9 468.4,281.9 469.0,281.9 469.5,281.9 470.1,281.9 470.6,281.9 471.1,281.9 471.7,281.9 472.2,281.9 472.8,281.9 473.3,282.0 473.8,282.0 474.4,282.0 474.9,282.0 475.5,282.0 476.0,282.0 476.5,282.0 477.1,282.0 477.6,282.0 478.1,282.1 478.7,282.1 479.2,282.1 479.8,282.1 480.3,282.1 480.8,282.1 481.4,282.1 481.9,282.1 482.5,282.1 483.0,282.2 483.5,282.2 484.1,282.2 484.6,282.2 485.2,282.2 485.7,282.2 486.2,282.2 486.8,282.2 487.3,282.2 487.8,282.3 488.4,282.3 488.9,282.3 489.5,282.3 490.0,282.3" fill="none" stroke="#404040" stroke-width="0.8"/>
<polygon points="372.0,279.6 372.5,279.6 373.1,279.5 373.6,279.5 374.2,279.4 374.7,279.4 375.2,279.3 375.8,279.2 376.3,279.2 376.8,279.1 377.4,279.0 377.9,278.9 378.5,278.8 379.0,278.6 379.5,278.5 380.1,278.4 380.6,278.2 381.2,278.0 381.7,277.8 382.2,277.6 382.8,277.4 383.3,277.2 383.9,277.0 384.4,276.7 384.9,276.5 385.5,276.2 386.0,275.9 386.5,275.6 387.1,275.3 387.6,275.0 388.2,274.7 388.7,274.3 389.2,274.0 389.8,273.7 390.3,273.3 390.9,273.0 391.4,272.6 391.9,272.3 392.5,271.9 393.0,271.6 393.6,271.3 394.1,271.0 394.6,270.7 395.2,270.4 395.7,270.1 396.2,269.8 396.8,269.6 397.3,269.4 397.9,269.2 398.4,269.0 398.9,268.8 399.5,268.7 400.0,268.6 400.6,268.6 401.1,268.5 401.6,268.5 402.2,268.5 402.7,268.6 403.3,268.6 403.8,268.7 404.3,268.9 404.9,269.0 405.4,269.2 405.9,269.4 406.5,269.6 407.0,269.9 407.6,270.2 408.1,270.4 408.6,270.7 409.2,271.1 409.7,271.4 410.3,271.7 410.8,272.1 411.3,272.5 411.9,272.8 412.4,273.2 412.9,273.5 413.5,273.9 414.0,274.3 414.6,274.6 415.1,275.0 415.6,275.3 416.2,275.7 416.7,276.0 417.3,276.3 417.8,276.7 418.3,277.0 418.9,277.3 419.4,277.5 420.0,277.8 420.5,278.1 421.0,278.3 421.6,278.5 422.1,278.7 422.6,278.9 423.2,279.1 423.7,279.3 424.3,279.5 424.8,279.6 425.3,279.8 425.9,279.9 426.4,280.0 427.0,280.1 427.5,280.2 428.0,280.3 428.6,280.4 429.1,280.5 429.7,280.6 430.2,280.7 430.7,280.7 431.3,280.8 431.8,280.8 432.3,280.9 432.9,280.9 433.4,281.0 434.0,281.0 434.5,281.0 435.0,281.1 435.6,281.1 436.1,281.1 436.7,281.1 437.2,281.2 437.7,281.2 438.3,281.2 438.8,281.2 439.4,281.2 439.9,281.3 440.4,281.3 441.0,281.3 441.5,281.3 442.0,281.3 442.6,281.3 443.1,281.3 443.7,281.3 444.2,281.4 444.7,281.4 445.3,281.4 445.8,281.4 446.4,281.4 446.9,281.4 447.4,281.4 448.0,281.4 448.5,281.5 449.1,281.5 449.6,281.5 450.1,281.5 450.7,281.5 451.2,281.5 451.7,281.5 452.3,281.5 452.8,281.5 453.4,281.6 453.9,281.6 454.4,281.6 455.0,281.6 455.5,281.6 456.1,281.6 456.6,281.6 457.1,281.6 457.7,281.6 458.2,281.7 458.7,281.7 459.3,281.7 459.8,281.7 460.4,281.7 460.9,281.7 461.4,281.7 462.0,281.7 462.5,281.7 463.1,281.8 463.6,281.8 464.1,281.8 464.7,281.8 465.2,281.8 465.8,281.8 466.3,281.8 466.8,281.8 467.4,281.8 467.9,281.9 468.4,281.9 469.0,281.9 469.5,281.9 470.1,281.9 470.6,281.9 471.1,281.9 471.7,281.9 472.2,281.9 472.8,281.9 473.3,282.0 473.8,282.0 474.4,282.0 474.9,282.0 475.5,282.0 476.0,282.0 476.5,282.0 477.1,282.0 477.6,282.0 478.1,282.1 478.7,282.1 479.2,282.1 479.8,282.1 480.3,282.1 480.8,282.1 481.4,282.1 481.9,282.1 482.5,282.1 483.0,282.2 483.5,282.2 484.1,282.2 484.6,282.2 485.2,282.2 485.7,282.2 486.2,282.2 486.8,282.2 487.3,282.2 487.8,282.3 488.4,282.3 488.9,282.3 489.5,282.3 490.0,282.3 490.0,282.3 489.5,282.3 488.9,282.3 488.4,282.3 487.8,282.3 487.3,282.2 486.8,282.2 486.2,282.2 485.7,282.2 485.2,282.2 484.6,282.2 484.1,282.2 483.5,282.2 483.0,282.2 482.5,282.1 481.9,282.1 481.4,282.1 480.8,282.1 480.3,282.1 479.8,282.1 479.2,282.1 478.7,282.1 478.1,282.1 477.6,282.0 477.1,282.0 476.5,282.0 476.0,282.0 475.5,282.0 474.9,282.0 474.4,282.0 473.8,282.0 473.3,282.0 472.8,281.9 472.2,281.9 471.7,281.9 471.1,281.9 470.6,281.9 470.1,281.9 469.5,281.9 469.0,281.9 468.4,281.9 467.9,281.9 467.4,281.8 466.8,281.8 466.3,281.8 465.8,281.8 465.2,281.8 464.7,281.8 464.1,281.8 463.6,281.8 463.1,281.8 462.5,281.7 462.0,281.7 461.4,281.7 460.9,281.7 460.4,281.7 459.8,281.7 459.3,281.7 458.7,281.7 458.2,281.7 457.7,281.6 457.1,281.6 456.6,281.6 456.1,281.6 455.5,281.6 455.0,281.6 454.4,281.6 453.9,281.6 453.4,281.6 452.8,281.5 452.3,281.5 451.7,281.5 451.2,281.5 450.7,281.5 450.1,281.5 449.6,281.5 449.1,281.5 448.5,281.5 448.0,281.4 447.4,281.4 446.9,281.4 446.4,281.4 445.8,281.4 445.3,281.4 444.7,281.4 444.2,281.4 443.7,281.4 443.1,281.3 442.6,281.3 442.0,281.3 441.5,281.3 441.0,281.3 440.4,281.3 439.9,281.3 439.4,281.3 438.8,281.3 438.3,281.2 437.7,281.2 437.2,281.2 436.7,281.2 436.1,281.2 435.6,281.2 435.0,281.2 434.5,281.2 434.0,281.2 433.4,281.1 432.9,281.1 432.3,281.1 431.8,281.1 431.3,281.1 430.7,281.1 430.2,281.1 429.7,281.1 429.1,281.1 428.6,281.1 428.0,281.0 427.5,281.0 427.0,281.0 426.4,281.0 425.9,281.0 425.3,281.0 424.8,281.0 424.3,281.0 423.7,281.0 423.2,280.9 422.6,280.9 422.1,280.9 421.6,280.9 421.0,280.9 420.5,280.9 420.0,280.9 419.4,280.9 418.9,280.9 418.3,280.8 417.8,280.8 417.3,280.8 416.7,280.8 416.2,280.8 415.6,280.8 415.1,280.8 414.6,280.8 414.0,280.8 413.5,280.7 412.9,280.7 412.4,280.7 411.9,280.7 411.3,280.7 410.8,280.7 410.3,280.7 409.7,280.7 409.2,280.7 408.6,280.6 408.1,280.6 407.6,280.6 407.0,280.6 406.5,280.6 405.9,280.6 405.4,280.6 404.9,280.6 404.3,280.6 403.8,280.5 403.3,280.5 402.7,280.5 402.2,280.5 401.6,280.5 401.1,280.5 400.6,280.5 400.0,280.5 399.5,280.5 398.9,280.4 398.4,280.4 397.9,280.4 397.3,280.4 396.8,280.4 396.2,280.4 395.7,280.4 395.2,280.4 394.6,280.4 394.1,280.3 393.6,280.3 393.0,280.3 392.5,280.3 391.9,280.3 391.4,280.3 390.9,280.3 390.3,280.3 389.8,280.3 389.2,280.3 388.7,280.2 388.2,280.2 387.6,280.2 387.1,280.2 386.5,280.2 386.0,280.2 385.5,280.2 384.9,280.2 384.4,280.2 383.9,280.1 383.3,280.1 382.8,280.1 382.2,280.1 381.7,280.1 381.2,280.1 380.6,280.1 380.1,280.1 379.5,280.1 379.0,280.0 378.5,280.0 377.9,280.0 377.4,280.0 376.8,280.0 376.3,280.0 375.8,280.0 375.2,280.0 374.7,280.0 374.2,279.9 373.6,279.9 373.1,279.9 372.5,279.9 372.0,279.9" fill="#cdcdcd" stroke="none"/>
<polyline points="372.0,279.6 372.5,279.6 373.1,279.5 373.6,279.5 374.2,279.4 374.7,279.4 375.2,279.3 375.8,279.2 376.3,279.2 376.8,279.1 377.4,279.0 377.9,278.9 378.5,278.8 379.0,278.6 379.5,278.5 380.1,278.4 380.6,278.2 381.2,278.0 381.7,277.8 382.2,277.6 382.8,277.4 383.3,277.2 383.9,277.0 384.4,276.7 384.9,276.5 385.5,276.2 386.0,275.9 386.5,275.6 387.1,275.3 387.6,275.0 388.2,274.7 388.7,274.3 389.2,274.0 389.8,273.7 390.3,273.3 390.9,273.0 391.4,272.6 391.9,272.3 392.5,271.9 393.0,271.6 393.6,271.3 394.1,271.0 394.6,270.7 395.2,270.4 395.7,270.1 396.2,269.8 396.8,269.6 397.3,269.4 397.9,269.2 398.4,269.0 398.9,268.8 399.5,268.7 400.0,268.6 400.6,268.6 401.1,268.5 401.6,268.5 402.2,268.5 402.7,268.6 403.3,268.6 403.8,268.7 404.3,268.9 404.9,269.0 405.4,269.2 405.9,269.4 406.5,269.6 407.0,269.9 407.6,270.2 408.1,270.4 408.6,270.7 409.2,271.1 409.7,271.4 410.3,271.7 410.8,272.1 411.3,272.5 411.9,272.8 412.4,273.2 412.9,273.5 413.5,273.9 414.0,274.3 414.6,274.6 415.1,275.0 415.6,275.3 416.2,275.7 416.7,276.0 417.3,276.3 417.8,276.7 418.3,277.0 418.9,277.3 419.4,277.5 420.0,277.8 420.5,278.1 421.0,278.3 421.6,278.5 422.1,278.7 422.6,278.9 423.2,279.1 423.7,279.3 424.3,279.5 424.8,279.6 425.3,279.8 425.9,279.9 426.4,280.0 427.0,280.1 427.5,280.2 428.0,280.3 428.6,280.4 429.1,280.5 429.7,280.6 430.2,280.7 430.7,280.7 431.3,280.8 431.8,280.8 432.3,280.9 432.9,280.9 433.4,281.0 434.0,281.0 434.5,281.0 435.0,281.1 435.6,281.1 436.1,281.1 436.7,281.1 437.2,281.2 437.7,281.2 438.3,281.2 438.8,281.2 439.4,281.2 439.9,281.3 440.4,281.3 441.0,281.3 441.5,281.3 442.0,281.3 442.6,281.3 443.1,281.3 443.7,281.3 444.2,281.4 444.7,281.4 445.3,281.4 445.8,281.4 446.4,281.4 446.9,281.4 447.4,281.4 448.0,281.4 448.5,281.5 449.1,281.5 449.6,281.5 450.1,281.5 450.7,281.5 451.2,281.5 451.7,281.5 452.3,281.5 452.8,281.5 453.4,281.6 453.9,281.6 454.4,281.6 455.0,281.6 455.5,281.6 456.1,281.6 456.6,281.6 457.1,281.6 457.7,281.6 458.2,281.7 458.7,281.7 459.3,281.7 459.8,281.7 460.4,281.7 460.9,281.7 461.4,281.7 462.0,281.7 462.5,281.7 463.1,281.8 463.6,281.8 464.1,281.8 464.7,281.8 465.2,281.8 465.8,281.8 466.3,281.8 466.8,281.8 467.4,281.8 467.9,281.9 468.4,281.9 469.0,281.9 469.5,281.9 470.1,281.9 470.6,281.9 471.1,281.9 471.7,281.9 472.2,281.9 472.8,281.9 473.3,282.0 473.8,282.0 474.4,282.0 474.9,282.0 475.5,282.0 476.0,282.0 476.5,282.0 477.1,282.0 477.6,282.0 478.1,282.1 478.7,282.1 479.2,282.1 479.8,282.1 480.3,282.1 480.8,282.1 481.4,282.1 481.9,282.1 482.5,282.1 483.0,282.2 483.5,282.2 484.1,282.2 484.6,282.2 485.2,282.2 485.7,282.2 486.2,282.2 486.8,282.2 487.3,282.2 487.8,282.3 488.4,282.3 488.9,282.3 489.5,282.3 490.0,282.3" fill="none" stroke="#404040" stroke-width="0.8"/>
<polyline points="372.0,279.9 372.5,279.9 373.1,279.9 373.6,279.9 374.2,279.9 374.7,280.0 375.2,280.0 375.8,280.0 376.3,280.0 376.8,280.0 377.4,280.0 377.9,280.0 378.5,280.0 379.0,280.0 379.5,280.1 380.1,280.1 380.6,280.1 381.2,280.1 381.7,280.1 382.2,280.1 382.8,280.1 383.3,280.1 383.9,280.1 384.4,280.2 384.9,280.2 385.5,280.2 386.0,280.2 386.5,280.2 387.1,280.2 387.6,280.2 388.2,280.2 388.7,280.2 389.2,280.3 389.8,280.3 390.3,280.3 390.9,280.3 391.4,280.3 391.9,280.3 392.5,280.3 393.0,280.3 393.6,280.3 394.1,280.3 394.6,280.4 395.2,280.4 395.7,280.4 396.2,280.4 396.8,280.4 397.3,280.4 397.9,280.4 398.4,280.4 398.9,280.4 399.5,280.5 400.0,280.5 400.6,280.5 401.1,280.5 401.6,280.5 402.2,280.5 402.7,280.5 403.3,280.5 403.8,280.5 404.3,280.6 404.9,280.6 405.4,280.6 405.9,280.6 406.5,280.6 407.0,280.6 407.6,280.6 408.1,280.6 408.6,280.6 409.2,280.7 409.7,280.7 410.3,280.7 410.8,280.7 411.3,280.7 411.9,280.7 412.4,280.7 412.9,280.7 413.5,280.7 414.0,280.8 414.6,280.8 415.1,280.8 415.6,280.8 416.2,280.8 416.7,280.8 417.3,280.8 417.8,280.8 418.3,280.8 418.9,280.9 419.4,280.9 420.0,280.9 420.5,280.9 421.0,280.9 421.6,280.9 422.1,280.9 422.6,280.9 423.2,280.9 423.7,281.0 424.3,281.0 424.8,281.0 425.3,281.0 425.9,281.0 426.4,281.0 427.0,281.0 427.5,281.0 428.0,281.0 428.6,281.1 429.1,281.1 429.7,281.1 430.2,281.1 430.7,281.1 431.3,281.1 431.8,281.1 432.3,281.1 432.9,281.1 433.4,281.1 434.0,281.2 434.5,281.2 435.0,281.2 435.6,281.2 436.1,281.2 436.7,281.2 437.2,281.2 437.7,281.2 438.3,281.2 438.8,281.3 439.4,281.3 439.9,281.3 440.4,281.3 441.0,281.3 441.5,281.3 442.0,281.3 442.6,281.3 443.1,281.3 443.7,281.4 444.2,281.4 444.7,281.4 445.3,281.4 445.8,281.4 446.4,281.4 446.9,281.4 447.4,281.4 448.0,281.4 448.5,281.5 449.1,281.5 449.6,281.5 450.1,281.5 450.7,281.5 451.2,281.5 451.7,281.5 452.3,281.5 452.8,281.5 453.4,281.6 453.9,281.6 454.4,281.6 455.0,281.6 455.5,281.6 456.1,281.6 456.6,281.6 457.1,281.6 457.7,281.6 458.2,281.7 458.7,281.7 459.3,281.7 459.8,281.7 460.4,281.7 460.9,281.7 461.4,281.7 462.0,281.7 462.5,281.7 463.1,281.8 463.6,281.8 464.1,281.8 464.7,281.8 465.2,281.8 465.8,281.8 466.3,281.8 466.8,281.8 467.4,281.8 467.9,281.9 468.4,281.9 469.0,281.9 469.5,281.9 470.1,281.9 470.6,281.9 471.1,281.9 471.7,281.9 472.2,281.9 472.8,281.9 473.3,282.0 473.8,282.0 474.4,282.0 474.9,282.0 475.5,282.0 476.0,282.0 476.5,282.0 477.1,282.0 477.6,282.0 478.1,282.1 478.7,282.1 479.2,282.1 479.8,282.1 480.3,282.1 480.8,282.1 481.4,282.1 481.9,282.1 482.5,282.1 483.0,282.2 483.5,282.2 484.1,282.2 484.6,282.2 485.2,282.2 485.7,282.2 486.2,282.2 486.8,282.2 487.3,282.2 487.8,282.3 488.4,282.3 488.9,282.3 489.5,282.3 490.0,282.3" fill="none" stroke="#404040" stroke-width="0.8"/>
<g fill="#000000"><circle cx="349.2" cy="89.3" r="1.8"/><circle cx="351.2" cy="89.5" r="1.8"/><circle cx="353.2" cy="88.8" r="1.8"/><circle cx="355.2" cy="88.0" r="1.8"/><circle cx="357.2" cy="89.3" r="1.8"/><circle cx="359.2" cy="89.0" r="1.8"/><circle cx="361.2" cy="88.7" r="1.8"/><circle cx="363.2" cy="88.8" r="1.8"/><circle cx="365.2" cy="88.8" r="1.8"/><circle cx="367.2" cy="89.1" r="1.8"/><circle cx="369.2" cy="89.1" r="1.8"/><circle cx="371.2" cy="88.4" r="1.8"/><circle cx="373.2" cy="88.7" r="1.8"/><circle cx="375.2" cy="87.9" r="1.8"/><circle cx="377.2" cy="87.1" r="1.8"/><circle cx="379.2" cy="87.3" r="1.8"/><circle cx="381.2" cy="87.5" r="1.8"/><circle cx="383.2" cy="86.9" r="1.8"/><circle cx="385.2" cy="86.5" r="1.8"/><circle cx="387.2" cy="86.6" r="1.8"/><circle cx="389.2" cy="85.5" r="1.8"/><circle cx="391.2" cy="84.4" r="1.8"/><circle cx="393.2" cy="82.9" r="1.8"/><circle cx="395.2" cy="81.5" r="1.8"/><circle cx="397.2" cy="78.7" r="1.8"/><circle cx="399.2" cy="77.5" r="1.8"/><circle cx="401.2" cy="77.2" r="1.8"/><circle cx="403.2" cy="76.2" r="1.8"/><circle cx="405.2" cy="73.8" r="1.8"/><circle cx="407.2" cy="73.4" r="1.8"/><circle cx="409.2" cy="70.3" r="1.8"/><circle cx="411.2" cy="67.6" r="1.8"/><circle cx="413.2" cy="65.3" r="1.8"/><circle cx="415.2" cy="63.5" r="1.8"/><circle cx="417.2" cy="62.3" r="1.8"/><circle cx="419.2" cy="59.9" r="1.8"/><circle cx="421.2" cy="57.4" r="1.8"/><circle cx="423.2" cy="55.4" r="1.8"/><circle cx="425.2" cy="51.6" r="1.8"/><circle cx="427.2" cy="48.0" r="1.8"/><circle cx="429.2" cy="46.1" r="1.8"/><circle cx="431.2" cy="44.2" r="1.8"/><circle cx="433.2" cy="38.8" r="1.8"/><circle cx="435.2" cy="31.7" r="1.8"/><circle cx="437.2" cy="32.1" r="1.8"/><circle cx="439.2" cy="29.0" r="1.8"/><circle cx="441.2" cy="24.2" r="1.8"/><circle cx="443.2" cy="21.8" r="1.8"/><circle cx="445.2" cy="24.7" r="1.8"/><circle cx="447.2" cy="28.5" r="1.8"/><circle cx="449.2" cy="35.6" r="1.8"/><circle cx="451.2" cy="46.6" r="1.8"/><circle cx="453.2" cy="56.5" r="1.8"/><circle cx="455.2" cy="68.0" r="1.8"/><circle cx="457.2" cy="75.3" r="1.8"/><circle cx="459.2" cy="80.0" r="1.8"/><circle cx="461.2" cy="83.8" r="1.8"/><circle cx="463.2" cy="86.7" r="1.8"/><circle cx="465.2" cy="90.0" r="1.8"/><circle cx="467.2" cy="90.9" r="1.8"/><circle cx="469.2" cy="91.1" r="1.8"/><circle cx="471.2" cy="91.4" r="1.8"/><circle cx="473.2" cy="91.7" r="1.8"/><circle cx="475.2" cy="91.7" r="1.8"/><circle cx="477.2" cy="91.6" r="1.8"/><circle cx="479.2" cy="91.8" r="1.8"/><circle cx="481.2" cy="93.5" r="1.8"/><circle cx="483.2" cy="92.9" r="1.8"/><circle cx="485.2" cy="92.1" r="1.8"/><circle cx="487.2" cy="92.3" r="1.8"/><circle cx="489.2" cy="92.8" r="1.8"/></g>
<g fill="#a00000"><circle cx="349.2" cy="148.6" r="1.8"/><circle cx="351.2" cy="148.0" r="1.8"/><circle cx="353.2" cy="148.8" r="1.8"/><circle cx="355.2" cy="146.8" r="1.8"/><circle cx="357.2" cy="144.8" r="1.8"/><circle cx="359.2" cy="145.6" r="1.8"/><circle cx="361.2" cy="145.4" r="1.8"/><circle cx="363.2" cy="145.3" r="1.8"/><circle cx="365.2" cy="145.2" r="1.8"/><circle cx="367.2" cy="140.8" r="1.8"/><circle cx="369.2" cy="141.0" r="1.8"/><circle cx="371.2" cy="140.6" r="1.8"/><circle cx="373.2" cy="141.0" r="1.8"/><circle cx="375.2" cy="139.0" r="1.8"/><circle cx="377.2" cy="137.7" r="1.8"/><circle cx="379.2" cy="137.3" r="1.8"/><circle cx="381.2" cy="135.4" r="1.8"/><circle cx="383.2" cy="135.3" r="1.8"/><circle cx="385.2" cy="135.6" r="1.8"/><circle cx="387.2" cy="134.3" r="1.8"/><circle cx="389.2" cy="132.0" r="1.8"/><circle cx="391.2" cy="130.7" r="1.8"/><circle cx="393.2" cy="133.2" r="1.8"/><circle cx="395.2" cy="132.3" r="1.8"/><circle cx="397.2" cy="129.5" r="1.8"/><circle cx="399.2" cy="127.7" r="1.8"/><circle cx="401.2" cy="126.7" r="1.8"/><circle cx="403.2" cy="124.8" r="1.8"/><circle cx="405.2" cy="123.3" r="1.8"/><circle cx="407.2" cy="121.8" r="1.8"/><circle cx="409.2" cy="117.9" r="1.8"/><circle cx="411.2" cy="112.8" r="1.8"/><circle cx="413.2" cy="113.4" r="1.8"/><circle cx="415.2" cy="110.0" r="1.8"/><circle cx="417.2" cy="106.2" r="1.8"/><circle cx="419.2" cy="107.0" r="1.8"/><circle cx="421.2" cy="106.9" r="1.8"/><circle cx="423.2" cy="103.7" r="1.8"/><circle cx="425.2" cy="103.7" r="1.8"/><circle cx="427.2" cy="100.4" r="1.8"/><circle cx="429.2" cy="95.9" r="1.8"/><circle cx="431.2" cy="94.0" r="1.8"/><circle cx="433.2" cy="89.5" r="1.8"/><circle cx="435.2" cy="85.8" r="1.8"/><circle cx="437.2" cy="83.5" r="1.8"/><circle cx="439.2" cy="82.8" r="1.8"/><circle cx="441.2" cy="83.2" r="1.8"/><circle cx="443.2" cy="84.9" r="1.8"/><circle cx="445.2" cy="85.0" r="1.8"/><circle cx="447.2" cy="86.2" r="1.8"/><circle cx="449.2" cy="95.7" r="1.8"/><circle cx="451.2" cy="109.3" r="1.8"/><circle cx="453.2" cy="121.0" r="1.8"/><circle cx="455.2" cy="128.0" r="1.8"/><circle cx="457.2" cy="140.7" r="1.8"/><circle cx="459.2" cy="144.2" r="1.8"/><circle cx="461.2" cy="148.3" r="1.8"/><circle cx="463.2" cy="146.4" r="1.8"/><circle cx="465.2" cy="145.3" r="1.8"/><circle cx="467.2" cy="148.9" r="1.8"/><circle cx="469.2" cy="149.4" r="1.8"/><circle cx="471.2" cy="152.8" r="1.8"/><circle cx="473.2" cy="154.1" r="1.8"/><circle cx="475.2" cy="155.7" r="1.8"/><circle cx="477.2" cy="152.3" r="1.8"/><circle cx="479.2" cy="147.9" r="1.8"/><circle cx="481.2" cy="147.4" r="1.8"/><circle cx="483.2" cy="148.6" r="1.8"/><circle cx="485.2" cy="149.2" r="1.8"/><circle cx="487.2" cy="148.7" r="1.8"/><circle cx="489.2" cy="148.9" r="1.8"/></g>
<g fill="#0000f0"><circle cx="349.2" cy="216.3" r="1.8"/><circle cx="351.2" cy="216.2" r="1.8"/><circle cx="353.2" cy="217.0" r="1.8"/><circle cx="355.2" cy="216.6" r="1.8"/><circle cx="357.2" cy="217.1" r="1.8"/><circle cx="359.2" cy="218.4" r="1.8"/><circle cx="361.2" cy="217.0" r="1.8"/><circle cx="363.2" cy="216.9" r="1.8"/><circle cx="365.2" cy="215.7" r="1.8"/><circle cx="367.2" cy="215.2" r="1.8"/><circle cx="369.2" cy="215.8" r="1.8"/><circle cx="371.2" cy="214.2" r="1.8"/><circle cx="373.2" cy="213.6" r="1.8"/><circle cx="375.2" cy="213.7" r="1.8"/><circle cx="377.2" cy="212.4" r="1.8"/><circle cx="379.2" cy="212.3" r="1.8"/><circle cx="381.2" cy="210.4" r="1.8"/><circle cx="383.2" cy="210.4" r="1.8"/><circle cx="385.2" cy="207.5" r="1.8"/><circle cx="387.2" cy="207.3" r="1.8"/><circle cx="389.2" cy="206.0" r="1.8"/><circle cx="391.2" cy="205.8" r="1.8"/><circle cx="393.2" cy="203.7" r="1.8"/><circle cx="395.2" cy="204.0" r="1.8"/><circle cx="397.2" cy="201.5" r="1.8"/><circle cx="399.2" cy="201.3" r="1.8"/><circle cx="401.2" cy="198.8" r="1.8"/><circle cx="403.2" cy="197.0" r="1.8"/><circle cx="405.2" cy="194.4" r="1.8"/><circle cx="407.2" cy="190.6" r="1.8"/><circle cx="409.2" cy="188.2" r="1.8"/><circle cx="411.2" cy="186.0" r="1.8"/><circle cx="413.2" cy="183.2" r="1.8"/><circle cx="415.2" cy="180.6" r="1.8"/><circle cx="417.2" cy="176.6" r="1.8"/><circle cx="419.2" cy="172.3" r="1.8"/><circle cx="421.2" cy="168.4" r="1.8"/><circle cx="423.2" cy="167.0" r="1.8"/><circle cx="425.2" cy="165.9" r="1.8"/><circle cx="427.2" cy="162.8" r="1.8"/><circle cx="429.2" cy="160.0" r="1.8"/><circle cx="431.2" cy="157.4" r="1.8"/><circle cx="433.2" cy="155.3" r="1.8"/><circle cx="435.2" cy="153.0" r="1.8"/><circle cx="437.2" cy="148.1" r="1.8"/><circle cx="439.2" cy="145.7" r="1.8"/><circle cx="441.2" cy="140.9" r="1.8"/><circle cx="443.2" cy="145.5" r="1.8"/><circle cx="445.2" cy="149.1" r="1.8"/><circle cx="447.2" cy="154.6" r="1.8"/><circle cx="449.2" cy="168.4" r="1.8"/><circle cx="451.2" cy="178.1" r="1.8"/><circle cx="453.2" cy="187.7" r="1.8"/><circle cx="455.2" cy="196.7" r="1.8"/><circle cx="457.2" cy="201.8" r="1.8"/><circle cx="459.2" cy="208.8" r="1.8"/><circle cx="461.2" cy="212.6" r="1.8"/><circle cx="463.2" cy="215.0" r="1.8"/><circle cx="465.2" cy="217.3" r="1.8"/><circle cx="467.2" cy="218.2" r="1.8"/><circle cx="469.2" cy="220.5" r="1.8"/><circle cx="471.2" cy="221.2" r="1.8"/><circle cx="473.2" cy="219.6" r="1.8"/><circle cx="475.2" cy="220.6" r="1.8"/><circle cx="477.2" cy="220.7" r="1.8"/><circle cx="479.2" cy="220.6" r="1.8"/><circle cx="481.2" cy="219.7" r="1.8"/><circle cx="483.2" cy="219.5" r="1.8"/><circle cx="485.2" cy="219.7" r="1.8"/><circle cx="487.2" cy="220.1" r="1.8"/><circle cx="489.2" cy="219.9" r="1.8"/></g>
<g fill="#ff0000"><circle cx="348.5" cy="277.8" r="1.8"/><circle cx="350.5" cy="278.9" r="1.8"/><circle cx="352.5" cy="277.8" r="1.8"/><circle cx="354.5" cy="278.0" r="1.8"/><circle cx="356.5" cy="277.1" r="1.8"/><circle cx="358.5" cy="278.8" r="1.8"/><circle cx="360.5" cy="276.6" r="1.8"/><circle cx="362.5" cy="277.1" r="1.8"/><circle cx="364.5" cy="276.5" r="1.8"/><circle cx="366.5" cy="277.8" r="1.8"/><circle cx="368.5" cy="276.5" r="1.8"/><circle cx="370.5" cy="275.4" r="1.8"/><circle cx="372.5" cy="275.4" r="1.8"/><circle cx="374.5" cy="274.7" r="1.8"/><circle cx="376.5" cy="274.0" r="1.8"/><circle cx="378.5" cy="273.9" r="1.8"/><circle cx="380.5" cy="272.5" r="1.8"/><circle cx="382.5" cy="273.3" r="1.8"/><circle cx="384.5" cy="271.2" r="1.8"/><circle cx="386.5" cy="271.7" r="1.8"/><circle cx="388.5" cy="271.4" r="1.8"/><circle cx="390.5" cy="270.6" r="1.8"/><circle cx="392.5" cy="270.6" r="1.8"/><circle cx="394.5" cy="268.6" r="1.8"/><circle cx="396.5" cy="267.8" r="1.8"/><circle cx="398.5" cy="265.1" r="1.8"/><circle cx="400.5" cy="264.7" r="1.8"/><circle cx="402.5" cy="259.8" r="1.8"/><circle cx="404.5" cy="258.8" r="1.8"/><circle cx="406.5" cy="255.0" r="1.8"/><circle cx="408.5" cy="253.0" r="1.8"/><circle cx="410.5" cy="249.3" r="1.8"/><circle cx="412.5" cy="248.0" r="1.8"/><circle cx="414.5" cy="247.2" r="1.8"/><circle cx="416.5" cy="245.6" r="1.8"/><circle cx="418.5" cy="245.7" r="1.8"/><circle cx="420.5" cy="245.6" r="1.8"/><circle cx="422.5" cy="244.7" r="1.8"/><circle cx="424.5" cy="244.3" r="1.8"/><circle cx="426.5" cy="244.1" r="1.8"/><circle cx="428.5" cy="244.4" r="1.8"/><circle cx="430.5" cy="241.5" r="1.8"/><circle cx="432.5" cy="239.3" r="1.8"/><circle cx="434.5" cy="232.1" r="1.8"/><circle cx="436.5" cy="227.2" r="1.8"/><circle cx="438.5" cy="222.8" r="1.8"/><circle cx="440.5" cy="218.4" r="1.8"/><circle cx="442.5" cy="214.5" r="1.8"/><circle cx="444.5" cy="214.4" r="1.8"/><circle cx="446.5" cy="214.6" r="1.8"/><circle cx="448.5" cy="218.7" r="1.8"/><circle cx="450.5" cy="228.0" r="1.8"/><circle cx="452.5" cy="237.2" r="1.8"/><circle cx="454.5" cy="247.2" r="1.8"/><circle cx="456.5" cy="256.6" r="1.8"/><circle cx="458.5" cy="266.7" r="1.8"/><circle cx="460.5" cy="272.8" r="1.8"/><circle cx="462.5" cy="275.8" r="1.8"/><circle cx="464.5" cy="278.4" r="1.8"/><circle cx="466.5" cy="279.0" r="1.8"/><circle cx="468.5" cy="281.2" r="1.8"/><circle cx="470.5" cy="281.2" r="1.8"/><circle cx="472.5" cy="281.2" r="1.8"/><circle cx="474.5" cy="280.4" r="1.8"/><circle cx="476.5" cy="281.2" r="1.8"/><circle cx="478.5" cy="281.0" r="1.8"/><circle cx="480.5" cy="282.6" r="1.8"/><circle cx="482.5" cy="281.8" r="1.8"/><circle cx="484.5" cy="283.3" r="1.8"/><circle cx="486.5" cy="282.6" r="1.8"/><circle cx="488.5" cy="282.0" r="1.8"/></g>
<polygon points="561.5,71.3 562.0,71.3 562.5,71.4 563.0,71.5 563.5,71.5 564.0,71.6 564.5,71.6 565.0,71.6 565.5,71.7 566.0,71.7 566.5,71.7 567.0,71.7 567.5,71.8 568.0,71.8 568.5,71.8 569.0,71.7 569.5,71.7 570.0,71.7 570.5,71.6 571.0,71.6 571.5,71.5 572.0,71.4 572.5,71.3 573.0,71.2 573.5,71.1 574.0,71.0 574.5,70.8 575.0,70.7 575.5,70.5 576.0,70.3 576.5,70.1 577.0,69.9 577.5,69.7 578.0,69.4 578.5,69.2 579.0,68.9 579.5,68.6 580.0,68.3 580.5,68.0 581.0,67.7 581.5,67.4 582.0,67.0 582.5,66.7 583.0,66.4 583.5,66.0 584.0,65.6 584.5,65.3 585.0,64.9 585.5,64.5 586.0,64.2 586.5,63.8 587.0,63.5 587.5,63.1 588.0,62.8 588.5,62.4 589.0,62.1 589.5,61.8 590.0,61.5 590.5,61.3 591.0,61.0 591.5,60.8 592.0,60.6 592.5,60.4 593.0,60.2 593.5,60.1 594.0,60.0 594.5,59.9 595.0,59.9 595.5,59.9 596.0,59.9 596.5,59.9 597.0,60.0 597.5,60.1 598.0,60.3 598.5,60.6 599.0,60.9 599.5,61.4 600.0,61.8 600.5,62.3 601.0,62.9 601.5,63.5 602.0,64.2 602.5,64.9 603.0,65.6 603.5,66.4 604.0,67.2 604.5,67.9 605.0,68.7 605.5,69.5 606.0,70.3 606.5,71.1 607.0,71.8 607.5,72.6 608.0,73.3 608.5,74.0 609.0,74.7 609.5,75.3 610.0,75.9 610.5,76.5 611.0,77.0 611.5,77.5 612.0,78.0 612.5,78.5 613.0,78.9 613.5,79.3 614.0,79.6 614.5,80.0 615.0,80.3 615.5,80.6 616.0,80.9 616.5,81.1 617.0,81.3 617.5,81.5 618.0,81.7 618.5,81.9 619.0,82.1 619.5,82.3 620.0,82.4 620.5,82.6 621.0,82.7 621.0,82.9 620.5,82.8 620.0,82.7 619.5,82.6 619.0,82.5 618.5,82.4 618.0,82.3 617.5,82.2 617.0,82.1 616.5,82.0 616.0,81.9 615.5,81.8 615.0,81.8 614.5,81.7 614.0,81.6 613.5,81.5 613.0,81.4 612.5,81.3 612.0,81.2 611.5,81.1 611.0,81.0 610.5,80.9 610.0,80.8 609.5,80.7 609.0,80.6 608.5,80.5 608.0,80.4 607.5,80.3 607.0,80.2 606.5,80.1 606.0,80.0 605.5,79.9 605.0,79.8 604.5,79.7 604.0,79.6 603.5,79.5 603.0,79.5 602.5,79.4 602.0,79.3 601.5,79.2 601.0,79.1 600.5,79.0 600.0,78.9 599.5,78.8 599.0,78.7 598.5,78.6 598.0,78.5 597.5,78.4 597.0,78.3 596.5,78.2 596.0,78.1 595.5,78.0 595.0,77.9 594.5,77.8 594.0,77.7 593.5,77.6 593.0,77.5 592.5,77.4 592.0,77.3 591.5,77.2 591.0,77.2 590.5,77.1 590.0,77.0 589.5,76.9 589.0,76.8 588.5,76.7 588.0,76.6 587.5,76.5 587.0,76.4 586.5,76.3 586.0,76.2 585.5,76.1 585.0,76.0 584.5,75.9 584.0,75.8 583.5,75.7 583.0,75.6 582.5,75.5 582.0,75.4 581.5,75.3 581.0,75.2 580.5,75.1 580.0,75.0 579.5,74.9 579.0,74.9 578.5,74.8 578.0,74.7 577.5,74.6 577.0,74.5 576.5,74.4 576.0,74.3 575.5,74.2 575.0,74.1 574.5,74.0 574.0,73.9 573.5,73.8 573.0,73.7 572.5,73.6 572.0,73.5 571.5,73.4 571.0,73.3 570.5,73.2 570.0,73.1 569.5,73.0 569.0,72.9 568.5,72.8 568.0,72.7 567.5,72.6 567.0,72.6 566.5,72.5 566.0,72.4 565.5,72.3 565.0,72.2 564.5,72.1 564.0,72.0 563.5,71.9 563.0,71.8 562.5,71.7 562.0,71.6 561.5,71.5" fill="#e2e2e2" stroke="none"/>
<polyline points="561.5,71.3 562.0,71.3 562.5,71.4 563.0,71.5 563.5,71.5 564.0,71.6 564.5,71.6 565.0,71.6 565.5,71.7 566.0,71.7 566.5,71.7 567.0,71.7 567.5,71.8 568.0,71.8 568.5,71.8 569.0,71.7 569.5,71.7 570.0,71.7 570.5,71.6 571.0,71.6 571.5,71.5 572.0,71.4 572.5,71.3 573.0,71.2 573.5,71.1 574.0,71.0 574.5,70.8 575.0,70.7 575.5,70.5 576.0,70.3 576.5,70.1 577.0,69.9 577.5,69.7 578.0,69.4 578.5,69.2 579.0,68.9 579.5,68.6 580.0,68.3 580.5,68.0 581.0,67.7 581.5,67.4 582.0,67.0 582.5,66.7 583.0,66.4 583.5,66.0 584.0,65.6 584.5,65.3 585.0,64.9 585.5,64.5 586.0,64.2 586.5,63.8 587.0,63.5 587.5,63.1 588.0,62.8 588.5,62.4 589.0,62.1 589.5,61.8 590.0,61.5 590.5,61.3 591.0,61.0 591.5,60.8 592.0,60.6 592.5,60.4 593.0,60.2 593.5,60.1 594.0,60.0 594.5,59.9 595.0,59.9 595.5,59.9 596.0,59.9 596.5,59.9 597.0,60.0 597.5,60.1 598.0,60.3 598.5,60.6 599.0,60.9 599.5,61.4 600.0,61.8 600.5,62.3 601.0,62.9 601.5,63.5 602.0,64.2 602.5,64.9 603.0,65.6 603.5,66.4 604.0,67.2 604.5,67.9 605.0,68.7 605.5,69.5 606.0,70.3 606.5,71.1 607.0,71.8 607.5,72.6 608.0,73.3 608.5,74.0 609.0,74.7 609.5,75.3 610.0,75.9 610.5,76.5 611.0,77.0 611.5,77.5 612.0,78.0 612.5,78.5 613.0,78.9 613.5,79.3 614.0,79.6 614.5,80.0 615.0,80.3 615.5,80.6 616.0,80.9 616.5,81.1 617.0,81.3 617.5,81.5 618.0,81.7 618.5,81.9 619.0,82.1 619.5,82.3 620.0,82.4 620.5,82.6 621.0,82.7" fill="none" stroke="#404040" stroke-width="0.8"/>
<polyline points="561.5,71.5 562.0,71.6 562.5,71.7 563.0,71.8 563.5,71.9 564.0,72.0 564.5,72.1 565.0,72.2 565.5,72.3 566.0,72.4 566.5,72.5 567.0,72.6 567.5,72.6 568.0,72.7 568.5,72.8 569.0,72.9 569.5,73.0 570.0,73.1 570.5,73.2 571.0,73.3 571.5,73.4 572.0,73.5 572.5,73.6 573.0,73.7 573.5,73.8 574.0,73.9 574.5,74.0 575.0,74.1 575.5,74.2 576.0,74.3 576.5,74.4 577.0,74.5 577.5,74.6 578.0,74.7 578.5,74.8 579.0,74.9 579.5,74.9 580.0,75.0 580.5,75.1 581.0,75.2 581.5,75.3 582.0,75.4 582.5,75.5 583.0,75.6 583.5,75.7 584.0,75.8 584.5,75.9 585.0,76.0 585.5,76.1 586.0,76.2 586.5,76.3 587.0,76.4 587.5,76.5 588.0,76.6 588.5,76.7 589.0,76.8 589.5,76.9 590.0,77.0 590.5,77.1 591.0,77.2 591.5,77.2 592.0,77.3 592.5,77.4 593.0,77.5 593.5,77.6 594.0,77.7 594.5,77.8 595.0,77.9 595.5,78.0 596.0,78.1 596.5,78.2 597.0,78.3 597.5,78.4 598.0,78.5 598.5,78.6 599.0,78.7 599.5,78.8 600.0,78.9 600.5,79.0 601.0,79.1 601.5,79.2 602.0,79.3 602.5,79.4 603.0,79.5 603.5,79.5 604.0,79.6 604.5,79.7 605.0,79.8 605.5,79.9 606.0,80.0 606.5,80.1 607.0,80.2 607.5,80.3 608.0,80.4 608.5,80.5 609.0,80.6 609.5,80.7 610.0,80.8 610.5,80.9 611.0,81.0 611.5,81.1 612.0,81.2 612.5,81.3 613.0,81.4 613.5,81.5 614.0,81.6 614.5,81.7 615.0,81.8 615.5,81.8 616.0,81.9 616.5,82.0 617.0,82.1 617.5,82.2 618.0,82.3 618.5,82.4 619.0,82.5 619.5,82.6 620.0,82.7 620.5,82.8 621.0,82.9" fill="none" stroke="#404040" stroke-width="0.8"/>
<polygon points="596.0,174.6 596.5,174.7 597.0,174.7 597.5,174.8 598.0,174.9 598.5,175.0 599.0,175.0 599.5,175.1 600.0,175.2 600.5,175.3 601.0,175.3 601.5,175.4 601.9,175.5 602.4,175.5 602.9,175.6 603.4,175.7 603.9,175.8 604.4,175.8 604.9,175.9 605.4,176.0 605.9,176.0 606.4,176.1 606.9,176.2 607.4,176.3 607.9,176.3 608.4,176.4 608.9,176.5 609.4,176.5 609.9,176.6 610.4,176.7 610.9,176.8 611.4,176.8 611.9,176.9 612.4,176.9 612.9,177.0 613.4,177.0 613.8,177.1 614.3,177.1 614.8,177.1 615.3,177.1 615.8,177.1 616.3,177.1 616.8,177.0 617.3,176.9 617.8,176.8 618.3,176.6 618.8,176.3 619.3,176.0 619.8,175.6 620.3,175.1 620.8,174.5 621.3,173.9 621.8,173.1 622.3,172.2 622.8,171.2 623.3,170.1 623.8,168.9 624.3,167.6 624.8,166.2 625.3,164.8 625.7,163.2 626.2,161.7 626.7,160.2 627.2,158.7 627.7,157.3 628.2,155.9 628.7,154.7 629.2,153.7 629.7,152.8 630.2,152.1 630.7,151.7 631.2,151.5 631.7,151.5 632.2,151.8 632.7,152.3 633.2,152.9 633.7,153.7 634.2,154.7 634.7,155.9 635.2,157.2 635.7,158.5 636.2,160.0 636.7,161.5 637.2,163.0 637.6,164.5 638.1,166.1 638.6,167.6 639.1,169.0 639.6,170.4 640.1,171.7 640.6,172.9 641.1,174.0 641.6,175.1 642.1,176.0 642.6,176.9 643.1,177.6 643.6,178.3 644.1,178.9 644.6,179.5 645.1,179.9 645.6,180.3 646.1,180.7 646.6,181.0 647.1,181.3 647.6,181.5 648.1,181.7 648.6,181.9 649.1,182.0 649.5,182.2 650.0,182.3 650.5,182.4 651.0,182.5 651.5,182.6 652.0,182.7 652.5,182.8 653.0,182.9 653.5,183.0 654.0,183.0 654.5,183.1 655.0,183.2 655.0,183.2 654.5,183.1 654.0,183.1 653.5,183.0 653.0,182.9 652.5,182.8 652.0,182.8 651.5,182.7 651.0,182.6 650.5,182.5 650.0,182.5 649.5,182.4 649.1,182.3 648.6,182.3 648.1,182.2 647.6,182.1 647.1,182.0 646.6,182.0 646.1,181.9 645.6,181.8 645.1,181.8 644.6,181.7 644.1,181.6 643.6,181.5 643.1,181.5 642.6,181.4 642.1,181.3 641.6,181.2 641.1,181.2 640.6,181.1 640.1,181.0 639.6,181.0 639.1,180.9 638.6,180.8 638.1,180.7 637.6,180.7 637.2,180.6 636.7,180.5 636.2,180.5 635.7,180.4 635.2,180.3 634.7,180.2 634.2,180.2 633.7,180.1 633.2,180.0 632.7,179.9 632.2,179.9 631.7,179.8 631.2,179.7 630.7,179.7 630.2,179.6 629.7,179.5 629.2,179.4 628.7,179.4 628.2,179.3 627.7,179.2 627.2,179.2 626.7,179.1 626.2,179.0 625.7,178.9 625.3,178.9 624.8,178.8 624.3,178.7 623.8,178.6 623.3,178.6 622.8,178.5 622.3,178.4 621.8,178.4 621.3,178.3 620.8,178.2 620.3,178.1 619.8,178.1 619.3,178.0 618.8,177.9 618.3,177.9 617.8,177.8 617.3,177.7 616.8,177.6 616.3,177.6 615.8,177.5 615.3,177.4 614.8,177.3 614.3,177.3 613.8,177.2 613.4,177.1 612.9,177.1 612.4,177.0 611.9,176.9 611.4,176.8 610.9,176.8 610.4,176.7 609.9,176.6 609.4,176.6 608.9,176.5 608.4,176.4 607.9,176.3 607.4,176.3 606.9,176.2 606.4,176.1 605.9,176.0 605.4,176.0 604.9,175.9 604.4,175.8 603.9,175.8 603.4,175.7 602.9,175.6 602.4,175.5 601.9,175.5 601.5,175.4 601.0,175.3 600.5,175.3 600.0,175.2 599.5,175.1 599.0,175.0 598.5,175.0 598.0,174.9 597.5,174.8 597.0,174.7 596.5,174.7 596.0,174.6" fill="#e2e2e2" stroke="none"/>
<polyline points="596.0,174.6 596.5,174.7 597.0,174.7 597.5,174.8 598.0,174.9 598.5,175.0 599.0,175.0 599.5,175.1 600.0,175.2 600.5,175.3 601.0,175.3 601.5,175.4 601.9,175.5 602.4,175.5 602.9,175.6 603.4,175.7 603.9,175.8 604.4,175.8 604.9,175.9 605.4,176.0 605.9,176.0 606.4,176.1 606.9,176.2 607.4,176.3 607.9,176.3 608.4,176.4 608.9,176.5 609.4,176.5 609.9,176.6 610.4,176.7 610.9,176.8 611.4,176.8 611.9,176.9 612.4,176.9 612.9,177.0 613.4,177.0 613.8,177.1 614.3,177.1 614.8,177.1 615.3,177.1 615.8,177.1 616.3,177.1 616.8,177.0 617.3,176.9 617.8,176.8 618.3,176.6 618.8,176.3 619.3,176.0 619.8,175.6 620.3,175.1 620.8,174.5 621.3,173.9 621.8,173.1 622.3,172.2 622.8,171.2 623.3,170.1 623.8,168.9 624.3,167.6 624.8,166.2 625.3,164.8 625.7,163.2 626.2,161.7 626.7,160.2 627.2,158.7 627.7,157.3 628.2,155.9 628.7,154.7 629.2,153.7 629.7,152.8 630.2,152.1 630.7,151.7 631.2,151.5 631.7,151.5 632.2,151.8 632.7,152.3 633.2,152.9 633.7,153.7 634.2,154.7 634.7,155.9 635.2,157.2 635.7,158.5 636.2,160.0 636.7,161.5 637.2,163.0 637.6,164.5 638.1,166.1 638.6,167.6 639.1,169.0 639.6,170.4 640.1,171.7 640.6,172.9 641.1,174.0 641.6,175.1 642.1,176.0 642.6,176.9 643.1,177.6 643.6,178.3 644.1,178.9 644.6,179.5 645.1,179.9 645.6,180.3 646.1,180.7 646.6,181.0 647.1,181.3 647.6,181.5 648.1,181.7 648.6,181.9 649.1,182.0 649.5,182.2 650.0,182.3 650.5,182.4 651.0,182.5 651.5,182.6 652.0,182.7 652.5,182.8 653.0,182.9 653.5,183.0 654.0,183.0 654.5,183.1 655.0,183.2" fill="none" stroke="#404040" stroke-width="0.8"/>
<polyline points="596.0,174.6 596.5,174.7 597.0,174.7 597.5,174.8 598.0,174.9 598.5,175.0 599.0,175.0 599.5,175.1 600.0,175.2 600.5,175.3 601.0,175.3 601.5,175.4 601.9,175.5 602.4,175.5 602.9,175.6 603.4,175.7 603.9,175.8 604.4,175.8 604.9,175.9 605.4,176.0 605.9,176.0 606.4,176.1 606.9,176.2 607.4,176.3 607.9,176.3 608.4,176.4 608.9,176.5 609.4,176.6 609.9,176.6 610.4,176.7 610.9,176.8 611.4,176.8 611.9,176.9 612.4,177.0 612.9,177.1 613.4,177.1 613.8,177.2 614.3,177.3 614.8,177.3 615.3,177.4 615.8,177.5 616.3,177.6 616.8,177.6 617.3,177.7 617.8,177.8 618.3,177.9 618.8,177.9 619.3,178.0 619.8,178.1 620.3,178.1 620.8,178.2 621.3,178.3 621.8,178.4 622.3,178.4 622.8,178.5 623.3,178.6 623.8,178.6 624.3,178.7 624.8,178.8 625.3,178.9 625.7,178.9 626.2,179.0 626.7,179.1 627.2,179.2 627.7,179.2 628.2,179.3 628.7,179.4 629.2,179.4 629.7,179.5 630.2,179.6 630.7,179.7 631.2,179.7 631.7,179.8 632.2,179.9 632.7,179.9 633.2,180.0 633.7,180.1 634.2,180.2 634.7,180.2 635.2,180.3 635.7,180.4 636.2,180.5 636.7,180.5 637.2,180.6 637.6,180.7 638.1,180.7 638.6,180.8 639.1,180.9 639.6,181.0 640.1,181.0 640.6,181.1 641.1,181.2 641.6,181.2 642.1,181.3 642.6,181.4 643.1,181.5 643.6,181.5 644.1,181.6 644.6,181.7 645.1,181.8 645.6,181.8 646.1,181.9 646.6,182.0 647.1,182.0 647.6,182.1 648.1,182.2 648.6,182.3 649.1,182.3 649.5,182.4 650.0,182.5 650.5,182.5 651.0,182.6 651.5,182.7 652.0,182.8 652.5,182.8 653.0,182.9 653.5,183.0 654.0,183.1 654.5,183.1 655.0,183.2" fill="none" stroke="#404040" stroke-width="0.8"/>
<polygon points="567.7,261.9 568.2,261.8 568.6,261.7 569.1,261.6 569.6,261.5 570.0,261.4 570.5,261.3 571.0,261.1 571.5,261.0 571.9,260.9 572.4,260.8 572.9,260.6 573.3,260.5 573.8,260.4 574.3,260.2 574.7,260.1 575.2,259.9 575.7,259.8 576.1,259.6 576.6,259.4 577.1,259.2 577.6,259.1 578.0,258.9 578.5,258.7 579.0,258.5 579.4,258.3 579.9,258.1 580.4,258.0 580.8,257.8 581.3,257.6 581.8,257.4 582.2,257.2 582.7,257.0 583.2,256.8 583.7,256.6 584.1,256.4 584.6,256.2 585.1,256.0 585.5,255.8 586.0,255.6 586.5,255.4 586.9,255.3 587.4,255.1 587.9,255.0 588.3,254.8 588.8,254.7 589.3,254.5 589.8,254.4 590.2,254.2 590.7,254.1 591.2,253.9 591.6,253.7 592.1,253.6 592.6,253.4 593.0,253.2 593.5,253.0 594.0,252.7 594.4,252.5 594.9,252.2 595.4,252.0 595.9,251.8 596.3,251.6 596.8,251.5 597.3,251.3 597.7,251.2 598.2,251.1 598.7,251.0 599.1,250.9 599.6,250.8 600.1,250.8 600.5,250.7 601.0,250.6 601.5,250.6 602.0,250.6 602.4,250.6 602.9,250.6 603.4,250.6 603.8,250.6 604.3,250.6 604.8,250.7 605.2,250.7 605.7,250.7 606.2,250.7 606.6,250.8 607.1,250.8 607.6,250.9 608.0,250.9 608.5,251.1 609.0,251.2 609.5,251.3 609.9,251.5 610.4,251.7 610.9,251.9 611.3,252.2 611.8,252.6 612.3,252.9 612.7,253.2 613.2,253.5 613.7,253.8 614.1,254.0 614.6,254.3 615.1,254.5 615.6,254.8 616.0,255.0 616.5,255.3 617.0,255.6 617.4,255.9 617.9,256.2 618.4,256.5 618.8,256.8 619.3,257.2 619.8,257.6 620.2,258.0 620.7,258.4 621.2,258.9 621.7,259.5 622.1,260.1 622.6,260.7 623.1,261.4 623.5,262.1 624.0,262.8 624.5,263.5 624.9,264.1 625.4,264.8 625.9,265.5 626.3,266.1 626.8,266.8 627.3,267.5 627.8,268.2 628.2,268.8 628.7,269.5 629.2,270.1 629.6,270.8 630.1,271.4 630.6,272.0 631.0,272.7 631.5,273.3 632.0,273.9 632.4,274.4 632.9,275.0 633.4,275.6 633.9,276.1 634.3,276.7 634.8,277.2 635.3,277.7 635.7,278.1 636.2,278.5 636.7,278.8 637.1,279.2 637.6,279.5 638.1,279.8 638.5,280.1 639.0,280.3 639.5,280.6 640.0,280.8 640.4,281.0 640.9,281.2 641.4,281.4 641.8,281.5 642.3,281.6 642.3,281.6 641.8,281.6 641.4,281.6 640.9,281.6 640.4,281.6 640.0,281.5 639.5,281.5 639.0,281.5 638.5,281.4 638.1,281.4 637.6,281.4 637.1,281.3 636.7,281.3 636.2,281.2 635.7,281.2 635.3,281.1 634.8,281.0 634.3,281.0 633.9,280.9 633.4,280.9 632.9,280.8 632.4,280.7 632.0,280.6 631.5,280.5 631.0,280.4 630.6,280.3 630.1,280.1 629.6,280.0 629.2,279.8 628.7,279.7 628.2,279.5 627.8,279.3 627.3,279.1 626.8,278.9 626.3,278.7 625.9,278.6 625.4,278.4 624.9,278.2 624.5,278.0 624.0,277.8 623.5,277.6 623.1,277.4 622.6,277.2 622.1,277.0 621.7,276.7 621.2,276.5 620.7,276.2 620.2,276.0 619.8,275.7 619.3,275.5 618.8,275.2 618.4,275.0 617.9,274.7 617.4,274.5 617.0,274.2 616.5,273.9 616.0,273.7 615.6,273.5 615.1,273.2 614.6,273.0 614.1,272.8 613.7,272.6 613.2,272.4 612.7,272.2 612.3,272.0 611.8,271.9 611.3,271.7 610.9,271.5 610.4,271.4 609.9,271.2 609.5,271.1 609.0,271.0 608.5,270.8 608.0,270.7 607.6,270.5 607.1,270.4 606.6,270.3 606.2,270.1 605.7,270.0 605.2,269.8 604.8,269.7 604.3,269.5 603.8,269.3 603.4,269.2 602.9,269.0 602.4,268.8 602.0,268.6 601.5,268.4 601.0,268.2 600.5,268.0 600.1,267.8 599.6,267.6 599.1,267.4 598.7,267.2 598.2,267.1 597.7,266.9 597.3,266.7 596.8,266.5 596.3,266.3 595.9,266.1 595.4,266.0 594.9,265.8 594.4,265.6 594.0,265.5 593.5,265.3 593.0,265.2 592.6,265.1 592.1,264.9 591.6,264.8 591.2,264.7 590.7,264.6 590.2,264.5 589.8,264.4 589.3,264.3 588.8,264.2 588.3,264.1 587.9,264.0 587.4,263.9 586.9,263.8 586.5,263.7 586.0,263.6 585.5,263.5 585.1,263.4 584.6,263.3 584.1,263.2 583.7,263.2 583.2,263.1 582.7,263.0 582.2,263.0 581.8,262.9 581.3,262.8 580.8,262.8 580.4,262.7 579.9,262.7 579.4,262.6 579.0,262.6 578.5,262.6 578.0,262.5 577.6,262.5 577.1,262.4 576.6,262.4 576.1,262.3 575.7,262.3 575.2,262.3 574.7,262.2 574.3,262.2 573.8,262.2 573.3,262.1 572.9,262.1 572.4,262.1 571.9,262.0 571.5,262.0 571.0,262.0 570.5,262.0 570.0,261.9 569.6,261.9 569.1,261.9 568.6,261.9 568.2,261.9 567.7,261.9" fill="#e2e2e2" stroke="none"/>
<polyline points="567.7,261.9 568.2,261.8 568.6,261.7 569.1,261.6 569.6,261.5 570.0,261.4 570.5,261.3 571.0,261.1 571.5,261.0 571.9,260.9 572.4,260.8 572.9,260.6 573.3,260.5 573.8,260.4 574.3,260.2 574.7,260.1 575.2,259.9 575.7,259.8 576.1,259.6 576.6,259.4 577.1,259.2 577.6,259.1 578.0,258.9 578.5,258.7 579.0,258.5 579.4,258.3 579.9,258.1 580.4,258.0 580.8,257.8 581.3,257.6 581.8,257.4 582.2,257.2 582.7,257.0 583.2,256.8 583.7,256.6 584.1,256.4 584.6,256.2 585.1,256.0 585.5,255.8 586.0,255.6 586.5,255.4 586.9,255.3 587.4,255.1 587.9,255.0 588.3,254.8 588.8,254.7 589.3,254.5 589.8,254.4 590.2,254.2 590.7,254.1 591.2,253.9 591.6,253.7 592.1,253.6 592.6,253.4 593.0,253.2 593.5,253.0 594.0,252.7 594.4,252.5 594.9,252.2 595.4,252.0 595.9,251.8 596.3,251.6 596.8,251.5 597.3,251.3 597.7,251.2 598.2,251.1 598.7,251.0 599.1,250.9 599.6,250.8 600.1,250.8 600.5,250.7 601.0,250.6 601.5,250.6 602.0,250.6 602.4,250.6 602.9,250.6 603.4,250.6 603.8,250.6 604.3,250.6 604.8,250.7 605.2,250.7 605.7,250.7 606.2,250.7 606.6,250.8 607.1,250.8 607.6,250.9 608.0,250.9 608.5,251.1 609.0,251.2 609.5,251.3 609.9,251.5 610.4,251.7 610.9,251.9 611.3,252.2 611.8,252.6 612.3,252.9 612.7,253.2 613.2,253.5 613.7,253.8 614.1,254.0 614.6,254.3 615.1,254.5 615.6,254.8 616.0,255.0 616.5,255.3 617.0,255.6 617.4,255.9 617.9,256.2 618.4,256.5 618.8,256.8 619.3,257.2 619.8,257.6 620.2,258.0 620.7,258.4 621.2,258.9 621.7,259.5 622.1,260.1 622.6,260.7 623.1,261.4 623.5,262.1 624.0,262.8 624.5,263.5 624.9,264.1 625.4,264.8 625.9,265.5 626.3,266.1 626.8,266.8 627.3,267.5 627.8,268.2 628.2,268.8 628.7,269.5 629.2,270.1 629.6,270.8 630.1,271.4 630.6,272.0 631.0,272.7 631.5,273.3 632.0,273.9 632.4,274.4 632.9,275.0 633.4,275.6 633.9,276.1 634.3,276.7 634.8,277.2 635.3,277.7 635.7,278.1 636.2,278.5 636.7,278.8 637.1,279.2 637.6,279.5 638.1,279.8 638.5,280.1 639.0,280.3 639.5,280.6 640.0,280.8 640.4,281.0 640.9,281.2 641.4,281.4 641.8,281.5 642.3,281.6" fill="none" stroke="#404040" stroke-width="0.8"/>
<polyline points="567.7,261.9 568.2,261.9 568.6,261.9 569.1,261.9 569.6,261.9 570.0,261.9 570.5,262.0 571.0,262.0 571.5,262.0 571.9,262.0 572.4,262.1 572.9,262.1 573.3,262.1 573.8,262.2 574.3,262.2 574.7,262.2 575.2,262.3 575.7,262.3 576.1,262.3 576.6,262.4 577.1,262.4 577.6,262.5 578.0,262.5 578.5,262.6 579.0,262.6 579.4,262.6 579.9,262.7 580.4,262.7 580.8,262.8 581.3,262.8 581.8,262.9 582.2,263.0 582.7,263.0 583.2,263.1 583.7,263.2 584.1,263.2 584.6,263.3 585.1,263.4 585.5,263.5 586.0,263.6 586.5,263.7 586.9,263.8 587.4,263.9 587.9,264.0 588.3,264.1 588.8,264.2 589.3,264.3 589.8,264.4 590.2,264.5 590.7,264.6 591.2,264.7 591.6,264.8 592.1,264.9 592.6,265.1 593.0,265.2 593.5,265.3 594.0,265.5 594.4,265.6 594.9,265.8 595.4,266.0 595.9,266.1 596.3,266.3 596.8,266.5 597.3,266.7 597.7,266.9 598.2,267.1 598.7,267.2 599.1,267.4 599.6,267.6 600.1,267.8 600.5,268.0 601.0,268.2 601.5,268.4 602.0,268.6 602.4,268.8 602.9,269.0 603.4,269.2 603.8,269.3 604.3,269.5 604.8,269.7 605.2,269.8 605.7,270.0 606.2,270.1 606.6,270.3 607.1,270.4 607.6,270.5 608.0,270.7 608.5,270.8 609.0,271.0 609.5,271.1 609.9,271.2 610.4,271.4 610.9,271.5 611.3,271.7 611.8,271.9 612.3,272.0 612.7,272.2 613.2,272.4 613.7,272.6 614.1,272.8 614.6,273.0 615.1,273.2 615.6,273.5 616.0,273.7 616.5,273.9 617.0,274.2 617.4,274.5 617.9,274.7 618.4,275.0 618.8,275.2 619.3,275.5 619.8,275.7 620.2,276.0 620.7,276.2 621.2,276.5 621.7,276.7 622.1,277.0 622.6,277.2 623.1,277.4 623.5,277.6 624.0,277.8 624.5,278.0 624.9,278.2 625.4,278.4 625.9,278.6 626.3,278.7 626.8,278.9 627.3,279.1 627.8,279.3 628.2,279.5 628.7,279.7 629.2,279.8 629.6,280.0 630.1,280.1 630.6,280.3 631.0,280.4 631.5,280.5 632.0,280.6 632.4,280.7 632.9,280.8 633.4,280.9 633.9,280.9 634.3,281.0 634.8,281.0 635.3,281.1 635.7,281.2 636.2,281.2 636.7,281.3 637.1,281.3 637.6,281.4 638.1,281.4 638.5,281.4 639.0,281.5 639.5,281.5 640.0,281.5 640.4,281.6 640.9,281.6 641.4,281.6 641.8,281.6 642.3,281.6" fill="none" stroke="#404040" stroke-width="0.8"/>
<g fill="#a00000"><circle cx="516.4" cy="64.0" r="1.5"/><circle cx="516.8" cy="58.6" r="1.5"/><circle cx="517.2" cy="55.5" r="1.5"/><circle cx="517.7" cy="44.6" r="1.5"/><circle cx="518.1" cy="60.6" r="1.5"/><circle cx="518.5" cy="67.9" r="1.5"/><circle cx="518.9" cy="67.9" r="1.5"/><circle cx="519.3" cy="58.0" r="1.5"/><circle cx="519.8" cy="52.3" r="1.5"/><circle cx="520.2" cy="59.9" r="1.5"/><circle cx="520.6" cy="45.2" r="1.5"/><circle cx="521.0" cy="52.7" r="1.5"/><circle cx="521.4" cy="58.3" r="1.5"/><circle cx="521.9" cy="57.4" r="1.5"/><circle cx="522.3" cy="56.9" r="1.5"/><circle cx="522.7" cy="47.4" r="1.5"/><circle cx="523.1" cy="45.2" r="1.5"/><circle cx="523.5" cy="56.2" r="1.5"/><circle cx="524.0" cy="59.4" r="1.5"/><circle cx="524.4" cy="52.9" r="1.5"/><circle cx="524.8" cy="48.7" r="1.5"/><circle cx="525.2" cy="56.4" r="1.5"/><circle cx="525.6" cy="60.8" r="1.5"/><circle cx="526.1" cy="54.6" r="1.5"/><circle cx="526.5" cy="49.7" r="1.5"/><circle cx="526.9" cy="64.1" r="1.5"/><circle cx="527.3" cy="59.4" r="1.5"/><circle cx="527.7" cy="52.9" r="1.5"/><circle cx="528.2" cy="53.8" r="1.5"/><circle cx="528.6" cy="49.7" r="1.5"/><circle cx="529.0" cy="61.2" r="1.5"/><circle cx="529.4" cy="50.6" r="1.5"/><circle cx="529.8" cy="48.0" r="1.5"/><circle cx="530.3" cy="53.4" r="1.5"/><circle cx="530.7" cy="65.0" r="1.5"/><circle cx="531.1" cy="37.5" r="1.5"/><circle cx="531.5" cy="46.9" r="1.5"/><circle cx="531.9" cy="58.2" r="1.5"/><circle cx="532.4" cy="55.5" r="1.5"/><circle cx="532.8" cy="54.5" r="1.5"/><circle cx="533.2" cy="54.0" r="1.5"/><circle cx="533.6" cy="51.8" r="1.5"/><circle cx="534.0" cy="55.7" r="1.5"/><circle cx="534.5" cy="55.3" r="1.5"/><circle cx="534.9" cy="52.0" r="1.5"/><circle cx="535.3" cy="47.1" r="1.5"/><circle cx="535.7" cy="49.6" r="1.5"/><circle cx="536.1" cy="45.2" r="1.5"/><circle cx="536.6" cy="55.6" r="1.5"/><circle cx="537.0" cy="53.0" r="1.5"/><circle cx="537.4" cy="57.3" r="1.5"/><circle cx="537.8" cy="60.0" r="1.5"/><circle cx="538.2" cy="52.5" r="1.5"/><circle cx="538.7" cy="56.2" r="1.5"/><circle cx="539.1" cy="51.4" r="1.5"/><circle cx="539.5" cy="56.3" r="1.5"/><circle cx="539.9" cy="46.7" r="1.5"/><circle cx="540.3" cy="53.4" r="1.5"/><circle cx="540.8" cy="51.1" r="1.5"/><circle cx="541.2" cy="55.3" r="1.5"/><circle cx="541.6" cy="53.7" r="1.5"/><circle cx="542.0" cy="47.4" r="1.5"/><circle cx="542.4" cy="60.9" r="1.5"/><circle cx="542.9" cy="53.7" r="1.5"/><circle cx="543.3" cy="49.0" r="1.5"/><circle cx="543.7" cy="56.8" r="1.5"/><circle cx="544.1" cy="49.8" r="1.5"/><circle cx="544.5" cy="47.7" r="1.5"/><circle cx="545.0" cy="59.4" r="1.5"/><circle cx="545.4" cy="56.3" r="1.5"/><circle cx="545.8" cy="48.5" r="1.5"/><circle cx="546.2" cy="53.3" r="1.5"/><circle cx="546.6" cy="59.6" r="1.5"/><circle cx="547.1" cy="54.7" r="1.5"/><circle cx="547.5" cy="56.4" r="1.5"/><circle cx="547.9" cy="53.7" r="1.5"/><circle cx="548.3" cy="57.6" r="1.5"/><circle cx="548.7" cy="62.2" r="1.5"/><circle cx="549.2" cy="57.1" r="1.5"/><circle cx="549.6" cy="53.1" r="1.5"/><circle cx="550.0" cy="52.7" r="1.5"/><circle cx="550.4" cy="56.4" r="1.5"/><circle cx="550.8" cy="54.1" r="1.5"/><circle cx="551.3" cy="57.8" r="1.5"/><circle cx="551.7" cy="57.8" r="1.5"/><circle cx="552.1" cy="58.0" r="1.5"/><circle cx="552.5" cy="56.8" r="1.5"/><circle cx="552.9" cy="60.6" r="1.5"/><circle cx="553.4" cy="61.6" r="1.5"/><circle cx="553.8" cy="39.8" r="1.5"/><circle cx="554.2" cy="47.5" r="1.5"/><circle cx="554.6" cy="56.7" r="1.5"/><circle cx="555.0" cy="59.6" r="1.5"/><circle cx="555.5" cy="60.4" r="1.5"/><circle cx="555.9" cy="51.3" r="1.5"/><circle cx="556.3" cy="54.3" r="1.5"/><circle cx="556.7" cy="51.9" r="1.5"/><circle cx="557.1" cy="63.2" r="1.5"/><circle cx="557.6" cy="57.6" r="1.5"/><circle cx="558.0" cy="48.2" r="1.5"/><circle cx="558.4" cy="57.5" r="1.5"/><circle cx="558.8" cy="55.5" r="1.5"/><circle cx="559.2" cy="63.4" r="1.5"/><circle cx="559.7" cy="56.0" r="1.5"/><circle cx="560.1" cy="55.5" r="1.5"/><circle cx="560.5" cy="56.6" r="1.5"/><circle cx="560.9" cy="64.1" r="1.5"/><circle cx="561.3" cy="54.1" r="1.5"/><circle cx="561.8" cy="56.5" r="1.5"/><circle cx="562.2" cy="55.4" r="1.5"/><circle cx="562.6" cy="58.0" r="1.5"/><circle cx="563.0" cy="64.7" r="1.5"/><circle cx="563.4" cy="62.0" r="1.5"/><circle cx="563.9" cy="67.3" r="1.5"/><circle cx="564.3" cy="61.9" r="1.5"/><circle cx="564.7" cy="58.6" r="1.5"/><circle cx="565.1" cy="67.2" r="1.5"/><circle cx="565.5" cy="58.4" r="1.5"/><circle cx="566.0" cy="67.8" r="1.5"/><circle cx="566.4" cy="61.4" r="1.5"/><circle cx="566.8" cy="54.0" r="1.5"/><circle cx="567.2" cy="66.3" r="1.5"/><circle cx="567.6" cy="60.6" r="1.5"/><circle cx="568.1" cy="63.3" r="1.5"/><circle cx="568.5" cy="62.7" r="1.5"/><circle cx="568.9" cy="59.4" r="1.5"/><circle cx="569.3" cy="55.1" r="1.5"/><circle cx="569.7" cy="65.3" r="1.5"/><circle cx="570.2" cy="57.4" r="1.5"/><circle cx="570.6" cy="57.7" r="1.5"/><circle cx="571.0" cy="51.6" r="1.5"/><circle cx="571.4" cy="61.9" r="1.5"/><circle cx="571.8" cy="62.1" r="1.5"/><circle cx="572.3" cy="45.9" r="1.5"/><circle cx="572.7" cy="47.4" r="1.5"/><circle cx="573.1" cy="52.9" r="1.5"/><circle cx="573.5" cy="56.4" r="1.5"/><circle cx="573.9" cy="58.4" r="1.5"/><circle cx="574.4" cy="55.6" r="1.5"/><circle cx="574.8" cy="64.6" r="1.5"/><circle cx="575.2" cy="63.1" r="1.5"/><circle cx="575.6" cy="52.0" r="1.5"/><circle cx="576.0" cy="60.6" r="1.5"/><circle cx="576.5" cy="57.9" r="1.5"/><circle cx="576.9" cy="56.4" r="1.5"/><circle cx="577.3" cy="52.6" r="1.5"/><circle cx="577.7" cy="59.3" r="1.5"/><circle cx="578.1" cy="54.8" r="1.5"/><circle cx="578.6" cy="46.3" r="1.5"/><circle cx="579.0" cy="60.3" r="1.5"/><circle cx="579.4" cy="56.6" r="1.5"/><circle cx="579.8" cy="57.5" r="1.5"/><circle cx="580.2" cy="50.2" r="1.5"/><circle cx="580.7" cy="52.1" r="1.5"/><circle cx="581.1" cy="53.1" r="1.5"/><circle cx="581.5" cy="60.1" r="1.5"/><circle cx="581.9" cy="60.2" r="1.5"/><circle cx="582.3" cy="55.2" r="1.5"/><circle cx="582.8" cy="72.6" r="1.5"/><circle cx="583.2" cy="54.1" r="1.5"/><circle cx="583.6" cy="48.1" r="1.5"/><circle cx="584.0" cy="62.3" r="1.5"/><circle cx="584.4" cy="51.0" r="1.5"/><circle cx="584.9" cy="52.4" r="1.5"/><circle cx="585.3" cy="59.8" r="1.5"/><circle cx="585.7" cy="48.7" r="1.5"/><circle cx="586.1" cy="54.4" r="1.5"/><circle cx="586.5" cy="57.1" r="1.5"/><circle cx="587.0" cy="59.0" r="1.5"/><circle cx="587.4" cy="60.9" r="1.5"/><circle cx="587.8" cy="53.3" r="1.5"/><circle cx="588.2" cy="60.9" r="1.5"/><circle cx="588.6" cy="46.1" r="1.5"/><circle cx="589.1" cy="50.8" r="1.5"/><circle cx="589.5" cy="53.1" r="1.5"/><circle cx="589.9" cy="54.5" r="1.5"/><circle cx="590.3" cy="56.0" r="1.5"/><circle cx="590.7" cy="61.4" r="1.5"/><circle cx="591.2" cy="58.7" r="1.5"/><circle cx="591.6" cy="61.4" r="1.5"/><circle cx="592.0" cy="58.2" r="1.5"/><circle cx="592.4" cy="46.5" r="1.5"/><circle cx="592.8" cy="66.2" r="1.5"/><circle cx="593.3" cy="60.1" r="1.5"/><circle cx="593.7" cy="54.0" r="1.5"/><circle cx="594.1" cy="52.3" r="1.5"/><circle cx="594.5" cy="58.3" r="1.5"/><circle cx="594.9" cy="56.0" r="1.5"/><circle cx="595.4" cy="61.3" r="1.5"/><circle cx="595.8" cy="65.0" r="1.5"/><circle cx="596.2" cy="59.2" r="1.5"/><circle cx="596.6" cy="65.2" r="1.5"/><circle cx="597.0" cy="66.3" r="1.5"/><circle cx="597.5" cy="58.3" r="1.5"/><circle cx="597.9" cy="60.0" r="1.5"/><circle cx="598.3" cy="57.1" r="1.5"/><circle cx="598.7" cy="54.9" r="1.5"/><circle cx="599.1" cy="55.1" r="1.5"/><circle cx="599.6" cy="50.2" r="1.5"/><circle cx="600.0" cy="56.1" r="1.5"/><circle cx="600.4" cy="54.9" r="1.5"/><circle cx="600.8" cy="60.9" r="1.5"/><circle cx="601.2" cy="62.7" r="1.5"/><circle cx="601.7" cy="57.7" r="1.5"/><circle cx="602.1" cy="55.4" r="1.5"/><circle cx="602.5" cy="59.3" r="1.5"/><circle cx="602.9" cy="57.8" r="1.5"/><circle cx="603.3" cy="59.1" r="1.5"/><circle cx="603.8" cy="69.1" r="1.5"/><circle cx="604.2" cy="67.3" r="1.5"/><circle cx="604.6" cy="63.7" r="1.5"/><circle cx="605.0" cy="67.4" r="1.5"/><circle cx="605.4" cy="62.3" r="1.5"/><circle cx="605.9" cy="58.9" r="1.5"/><circle cx="606.3" cy="60.3" r="1.5"/><circle cx="606.7" cy="62.2" r="1.5"/><circle cx="607.1" cy="61.3" r="1.5"/><circle cx="607.5" cy="70.4" r="1.5"/><circle cx="608.0" cy="68.9" r="1.5"/><circle cx="608.4" cy="65.3" r="1.5"/><circle cx="608.8" cy="69.1" r="1.5"/><circle cx="609.2" cy="67.8" r="1.5"/><circle cx="609.6" cy="72.2" r="1.5"/><circle cx="610.1" cy="78.3" r="1.5"/><circle cx="610.5" cy="62.0" r="1.5"/><circle cx="610.9" cy="74.5" r="1.5"/><circle cx="611.3" cy="68.2" r="1.5"/><circle cx="611.7" cy="67.0" r="1.5"/><circle cx="612.2" cy="67.2" r="1.5"/><circle cx="612.6" cy="81.2" r="1.5"/><circle cx="613.0" cy="68.6" r="1.5"/><circle cx="613.4" cy="80.0" r="1.5"/><circle cx="613.8" cy="73.2" r="1.5"/><circle cx="614.3" cy="68.9" r="1.5"/><circle cx="614.7" cy="74.7" r="1.5"/><circle cx="615.1" cy="81.4" r="1.5"/><circle cx="615.5" cy="81.0" r="1.5"/><circle cx="615.9" cy="71.5" r="1.5"/><circle cx="616.4" cy="76.6" r="1.5"/><circle cx="616.8" cy="75.8" r="1.5"/><circle cx="617.2" cy="74.5" r="1.5"/><circle cx="617.6" cy="76.9" r="1.5"/><circle cx="618.0" cy="78.2" r="1.5"/><circle cx="618.5" cy="72.2" r="1.5"/><circle cx="618.9" cy="80.8" r="1.5"/><circle cx="619.3" cy="71.2" r="1.5"/><circle cx="619.7" cy="76.7" r="1.5"/><circle cx="620.1" cy="84.3" r="1.5"/><circle cx="620.6" cy="75.0" r="1.5"/><circle cx="621.0" cy="75.7" r="1.5"/><circle cx="621.4" cy="81.0" r="1.5"/><circle cx="621.8" cy="75.6" r="1.5"/><circle cx="622.2" cy="70.0" r="1.5"/><circle cx="622.7" cy="75.2" r="1.5"/><circle cx="623.1" cy="74.3" r="1.5"/><circle cx="623.5" cy="72.8" r="1.5"/><circle cx="623.9" cy="68.7" r="1.5"/><circle cx="624.3" cy="84.3" r="1.5"/><circle cx="624.8" cy="78.6" r="1.5"/><circle cx="625.2" cy="73.9" r="1.5"/><circle cx="625.6" cy="76.4" r="1.5"/><circle cx="626.0" cy="75.9" r="1.5"/><circle cx="626.4" cy="75.3" r="1.5"/><circle cx="626.9" cy="82.3" r="1.5"/><circle cx="627.3" cy="82.5" r="1.5"/><circle cx="627.7" cy="72.3" r="1.5"/><circle cx="628.1" cy="72.7" r="1.5"/><circle cx="628.5" cy="74.6" r="1.5"/><circle cx="629.0" cy="71.9" r="1.5"/><circle cx="629.4" cy="96.9" r="1.5"/><circle cx="629.8" cy="78.3" r="1.5"/><circle cx="630.2" cy="79.8" r="1.5"/><circle cx="630.6" cy="83.7" r="1.5"/><circle cx="631.1" cy="74.7" r="1.5"/><circle cx="631.5" cy="70.9" r="1.5"/><circle cx="631.9" cy="86.1" r="1.5"/><circle cx="632.3" cy="74.5" r="1.5"/><circle cx="632.7" cy="83.1" r="1.5"/><circle cx="633.2" cy="76.5" r="1.5"/><circle cx="633.6" cy="91.8" r="1.5"/><circle cx="634.0" cy="84.3" r="1.5"/><circle cx="634.4" cy="79.8" r="1.5"/><circle cx="634.8" cy="72.5" r="1.5"/><circle cx="635.3" cy="75.6" r="1.5"/><circle cx="635.7" cy="68.9" r="1.5"/><circle cx="636.1" cy="75.6" r="1.5"/><circle cx="636.5" cy="71.7" r="1.5"/><circle cx="636.9" cy="82.7" r="1.5"/><circle cx="637.4" cy="80.5" r="1.5"/><circle cx="637.8" cy="79.4" r="1.5"/><circle cx="638.2" cy="93.7" r="1.5"/><circle cx="638.6" cy="78.9" r="1.5"/><circle cx="639.0" cy="83.0" r="1.5"/><circle cx="639.5" cy="81.2" r="1.5"/><circle cx="639.9" cy="75.6" r="1.5"/><circle cx="640.3" cy="73.2" r="1.5"/><circle cx="640.7" cy="87.5" r="1.5"/><circle cx="641.1" cy="72.8" r="1.5"/><circle cx="641.6" cy="80.0" r="1.5"/><circle cx="642.0" cy="76.1" r="1.5"/><circle cx="642.4" cy="81.7" r="1.5"/><circle cx="642.8" cy="87.9" r="1.5"/><circle cx="643.2" cy="72.8" r="1.5"/><circle cx="643.7" cy="80.3" r="1.5"/><circle cx="644.1" cy="85.2" r="1.5"/><circle cx="644.5" cy="74.5" r="1.5"/><circle cx="644.9" cy="71.6" r="1.5"/><circle cx="645.3" cy="77.0" r="1.5"/><circle cx="645.8" cy="77.2" r="1.5"/><circle cx="646.2" cy="81.6" r="1.5"/><circle cx="646.6" cy="70.5" r="1.5"/><circle cx="647.0" cy="80.0" r="1.5"/><circle cx="647.4" cy="69.7" r="1.5"/><circle cx="647.9" cy="80.1" r="1.5"/><circle cx="648.3" cy="77.7" r="1.5"/><circle cx="648.7" cy="65.6" r="1.5"/><circle cx="649.1" cy="81.9" r="1.5"/><circle cx="649.5" cy="75.2" r="1.5"/><circle cx="650.0" cy="86.0" r="1.5"/><circle cx="650.4" cy="82.0" r="1.5"/><circle cx="650.8" cy="71.9" r="1.5"/><circle cx="651.2" cy="71.2" r="1.5"/><circle cx="651.6" cy="77.0" r="1.5"/><circle cx="652.1" cy="72.3" r="1.5"/><circle cx="652.5" cy="91.7" r="1.5"/><circle cx="652.9" cy="84.1" r="1.5"/><circle cx="653.3" cy="77.5" r="1.5"/><circle cx="653.7" cy="80.1" r="1.5"/><circle cx="654.2" cy="76.2" r="1.5"/><circle cx="654.6" cy="80.8" r="1.5"/><circle cx="655.0" cy="70.3" r="1.5"/><circle cx="655.4" cy="76.5" r="1.5"/><circle cx="655.8" cy="81.0" r="1.5"/><circle cx="656.3" cy="71.6" r="1.5"/><circle cx="656.7" cy="78.7" r="1.5"/><circle cx="657.1" cy="74.9" r="1.5"/><circle cx="657.5" cy="85.3" r="1.5"/><circle cx="657.9" cy="83.2" r="1.5"/><circle cx="658.4" cy="70.6" r="1.5"/></g>
<g fill="#0000f0"><circle cx="516.4" cy="147.6" r="1.5"/><circle cx="516.8" cy="153.3" r="1.5"/><circle cx="517.1" cy="147.7" r="1.5"/><circle cx="517.5" cy="157.0" r="1.5"/><circle cx="517.8" cy="158.8" r="1.5"/><circle cx="518.2" cy="153.7" r="1.5"/><circle cx="518.6" cy="150.8" r="1.5"/><circle cx="518.9" cy="153.7" r="1.5"/><circle cx="519.3" cy="151.7" r="1.5"/><circle cx="519.6" cy="149.7" r="1.5"/><circle cx="520.0" cy="151.0" r="1.5"/><circle cx="520.4" cy="153.9" r="1.5"/><circle cx="520.7" cy="157.8" r="1.5"/><circle cx="521.1" cy="155.6" r="1.5"/><circle cx="521.4" cy="149.4" r="1.5"/><circle cx="521.8" cy="144.1" r="1.5"/><circle cx="522.2" cy="148.4" r="1.5"/><circle cx="522.5" cy="150.7" r="1.5"/><circle cx="522.9" cy="158.4" r="1.5"/><circle cx="523.2" cy="152.5" r="1.5"/><circle cx="523.6" cy="145.2" r="1.5"/><circle cx="524.0" cy="159.8" r="1.5"/><circle cx="524.3" cy="159.6" r="1.5"/><circle cx="524.7" cy="154.5" r="1.5"/><circle cx="525.0" cy="146.8" r="1.5"/><circle cx="525.4" cy="151.4" r="1.5"/><circle cx="525.8" cy="154.7" r="1.5"/><circle cx="526.1" cy="155.2" r="1.5"/><circle cx="526.5" cy="149.8" r="1.5"/><circle cx="526.8" cy="150.3" r="1.5"/><circle cx="527.2" cy="162.1" r="1.5"/><circle cx="527.6" cy="144.9" r="1.5"/><circle cx="527.9" cy="162.0" r="1.5"/><circle cx="528.3" cy="148.7" r="1.5"/><circle cx="528.6" cy="160.6" r="1.5"/><circle cx="529.0" cy="156.6" r="1.5"/><circle cx="529.4" cy="156.9" r="1.5"/><circle cx="529.7" cy="154.7" r="1.5"/><circle cx="530.1" cy="162.7" r="1.5"/><circle cx="530.4" cy="156.5" r="1.5"/><circle cx="530.8" cy="153.8" r="1.5"/><circle cx="531.2" cy="146.5" r="1.5"/><circle cx="531.5" cy="155.9" r="1.5"/><circle cx="531.9" cy="155.0" r="1.5"/><circle cx="532.2" cy="150.9" r="1.5"/><circle cx="532.6" cy="147.3" r="1.5"/><circle cx="533.0" cy="152.9" r="1.5"/><circle cx="533.3" cy="153.5" r="1.5"/><circle cx="533.7" cy="150.2" r="1.5"/><circle cx="534.0" cy="159.5" r="1.5"/><circle cx="534.4" cy="154.0" r="1.5"/><circle cx="534.8" cy="142.6" r="1.5"/><circle cx="535.1" cy="145.4" r="1.5"/><circle cx="535.5" cy="160.3" r="1.5"/><circle cx="535.8" cy="151.4" r="1.5"/><circle cx="536.2" cy="152.4" r="1.5"/><circle cx="536.6" cy="145.5" r="1.5"/><circle cx="536.9" cy="147.6" r="1.5"/><circle cx="537.3" cy="146.1" r="1.5"/><circle cx="537.6" cy="140.9" r="1.5"/><circle cx="538.0" cy="138.8" r="1.5"/><circle cx="538.4" cy="144.4" r="1.5"/><circle cx="538.7" cy="144.6" r="1.5"/><circle cx="539.1" cy="140.4" r="1.5"/><circle cx="539.4" cy="144.5" r="1.5"/><circle cx="539.8" cy="140.7" r="1.5"/><circle cx="540.2" cy="156.5" r="1.5"/><circle cx="540.5" cy="138.5" r="1.5"/><circle cx="540.9" cy="157.7" r="1.5"/><circle cx="541.2" cy="144.4" r="1.5"/><circle cx="541.6" cy="146.0" r="1.5"/><circle cx="542.0" cy="143.4" r="1.5"/><circle cx="542.3" cy="145.7" r="1.5"/><circle cx="542.7" cy="147.9" r="1.5"/><circle cx="543.0" cy="144.0" r="1.5"/><circle cx="543.4" cy="143.7" r="1.5"/><circle cx="543.8" cy="145.7" r="1.5"/><circle cx="544.1" cy="146.1" r="1.5"/><circle cx="544.5" cy="150.3" r="1.5"/><circle cx="544.8" cy="154.5" r="1.5"/><circle cx="545.2" cy="140.8" r="1.5"/><circle cx="545.6" cy="146.3" r="1.5"/><circle cx="545.9" cy="144.2" r="1.5"/><circle cx="546.3" cy="141.6" r="1.5"/><circle cx="546.6" cy="141.0" r="1.5"/><circle cx="547.0" cy="139.7" r="1.5"/><circle cx="547.4" cy="141.4" r="1.5"/><circle cx="547.7" cy="141.9" r="1.5"/><circle cx="548.1" cy="154.5" r="1.5"/><circle cx="548.4" cy="157.0" r="1.5"/><circle cx="548.8" cy="146.9" r="1.5"/><circle cx="549.2" cy="155.5" r="1.5"/><circle cx="549.5" cy="136.8" r="1.5"/><circle cx="549.9" cy="154.3" r="1.5"/><circle cx="550.2" cy="142.5" r="1.5"/><circle cx="550.6" cy="147.8" r="1.5"/><circle cx="551.0" cy="143.5" r="1.5"/><circle cx="551.3" cy="149.0" r="1.5"/><circle cx="551.7" cy="153.7" r="1.5"/><circle cx="552.0" cy="147.1" r="1.5"/><circle cx="552.4" cy="153.5" r="1.5"/><circle cx="552.8" cy="157.7" r="1.5"/><circle cx="553.1" cy="157.9" r="1.5"/><circle cx="553.5" cy="156.0" r="1.5"/><circle cx="553.8" cy="155.5" r="1.5"/><circle cx="554.2" cy="153.0" r="1.5"/><circle cx="554.6" cy="153.6" r="1.5"/><circle cx="554.9" cy="151.1" r="1.5"/><circle cx="555.3" cy="147.1" r="1.5"/><circle cx="555.6" cy="151.5" r="1.5"/><circle cx="556.0" cy="151.7" r="1.5"/><circle cx="556.4" cy="163.5" r="1.5"/><circle cx="556.7" cy="156.3" r="1.5"/><circle cx="557.1" cy="160.6" r="1.5"/><circle cx="557.4" cy="151.6" r="1.5"/><circle cx="557.8" cy="153.9" r="1.5"/><circle cx="558.2" cy="156.2" r="1.5"/><circle cx="558.5" cy="155.8" r="1.5"/><circle cx="558.9" cy="160.3" r="1.5"/><circle cx="559.2" cy="150.2" r="1.5"/><circle cx="559.6" cy="160.8" r="1.5"/><circle cx="560.0" cy="161.0" r="1.5"/><circle cx="560.3" cy="156.6" r="1.5"/><circle cx="560.7" cy="154.0" r="1.5"/><circle cx="561.0" cy="159.8" r="1.5"/><circle cx="561.4" cy="159.2" r="1.5"/><circle cx="561.8" cy="152.1" r="1.5"/><circle cx="562.1" cy="163.4" r="1.5"/><circle cx="562.5" cy="152.2" r="1.5"/><circle cx="562.8" cy="156.9" r="1.5"/><circle cx="563.2" cy="166.5" r="1.5"/><circle cx="563.6" cy="159.5" r="1.5"/><circle cx="563.9" cy="152.4" r="1.5"/><circle cx="564.3" cy="166.6" r="1.5"/><circle cx="564.6" cy="149.7" r="1.5"/><circle cx="565.0" cy="162.1" r="1.5"/><circle cx="565.4" cy="157.4" r="1.5"/><circle cx="565.7" cy="168.7" r="1.5"/><circle cx="566.1" cy="164.5" r="1.5"/><circle cx="566.4" cy="164.0" r="1.5"/><circle cx="566.8" cy="158.9" r="1.5"/><circle cx="567.2" cy="162.1" r="1.5"/><circle cx="567.5" cy="153.6" r="1.5"/><circle cx="567.9" cy="154.6" r="1.5"/><circle cx="568.2" cy="162.2" r="1.5"/><circle cx="568.6" cy="164.1" r="1.5"/><circle cx="569.0" cy="151.8" r="1.5"/><circle cx="569.3" cy="158.7" r="1.5"/><circle cx="569.7" cy="160.5" r="1.5"/><circle cx="570.0" cy="167.0" r="1.5"/><circle cx="570.4" cy="160.6" r="1.5"/><circle cx="570.8" cy="160.0" r="1.5"/><circle cx="571.1" cy="164.0" r="1.5"/><circle cx="571.5" cy="164.2" r="1.5"/><circle cx="571.8" cy="158.5" r="1.5"/><circle cx="572.2" cy="163.4" r="1.5"/><circle cx="572.6" cy="165.8" r="1.5"/><circle cx="572.9" cy="165.2" r="1.5"/><circle cx="573.3" cy="160.5" r="1.5"/><circle cx="573.6" cy="155.1" r="1.5"/><circle cx="574.0" cy="158.5" r="1.5"/><circle cx="574.4" cy="166.5" r="1.5"/><circle cx="574.7" cy="161.1" r="1.5"/><circle cx="575.1" cy="166.7" r="1.5"/><circle cx="575.4" cy="162.8" r="1.5"/><circle cx="575.8" cy="165.1" r="1.5"/><circle cx="576.2" cy="153.7" r="1.5"/><circle cx="576.5" cy="156.5" r="1.5"/><circle cx="576.9" cy="152.2" r="1.5"/><circle cx="577.2" cy="159.2" r="1.5"/><circle cx="577.6" cy="165.8" r="1.5"/><circle cx="578.0" cy="155.9" r="1.5"/><circle cx="578.3" cy="160.9" r="1.5"/><circle cx="578.7" cy="159.3" r="1.5"/><circle cx="579.0" cy="167.5" r="1.5"/><circle cx="579.4" cy="161.9" r="1.5"/><circle cx="579.8" cy="172.9" r="1.5"/><circle cx="580.1" cy="166.7" r="1.5"/><circle cx="580.5" cy="170.1" r="1.5"/><circle cx="580.8" cy="162.4" r="1.5"/><circle cx="581.2" cy="171.8" r="1.5"/><circle cx="581.6" cy="155.2" r="1.5"/><circle cx="581.9" cy="156.9" r="1.5"/><circle cx="582.3" cy="165.7" r="1.5"/><circle cx="582.6" cy="163.3" r="1.5"/><circle cx="583.0" cy="169.0" r="1.5"/><circle cx="583.4" cy="164.0" r="1.5"/><circle cx="583.7" cy="166.8" r="1.5"/><circle cx="584.1" cy="156.6" r="1.5"/><circle cx="584.4" cy="168.3" r="1.5"/><circle cx="584.8" cy="167.3" r="1.5"/><circle cx="585.2" cy="168.8" r="1.5"/><circle cx="585.5" cy="163.9" r="1.5"/><circle cx="585.9" cy="165.3" r="1.5"/><circle cx="586.2" cy="162.0" r="1.5"/><circle cx="586.6" cy="160.1" r="1.5"/><circle cx="587.0" cy="167.1" r="1.5"/><circle cx="587.3" cy="171.7" r="1.5"/><circle cx="587.7" cy="163.4" r="1.5"/><circle cx="588.0" cy="159.1" r="1.5"/><circle cx="588.4" cy="152.5" r="1.5"/><circle cx="588.8" cy="157.6" r="1.5"/><circle cx="589.1" cy="165.6" r="1.5"/><circle cx="589.5" cy="169.0" r="1.5"/><circle cx="589.8" cy="170.1" r="1.5"/><circle cx="590.2" cy="162.7" r="1.5"/><circle cx="590.6" cy="167.6" r="1.5"/><circle cx="590.9" cy="173.8" r="1.5"/><circle cx="591.3" cy="170.2" r="1.5"/><circle cx="591.6" cy="171.9" r="1.5"/><circle cx="592.0" cy="169.6" r="1.5"/><circle cx="592.4" cy="162.9" r="1.5"/><circle cx="592.7" cy="169.1" r="1.5"/><circle cx="593.1" cy="175.3" r="1.5"/><circle cx="593.4" cy="168.7" r="1.5"/><circle cx="593.8" cy="159.1" r="1.5"/><circle cx="594.2" cy="161.8" r="1.5"/><circle cx="594.5" cy="170.0" r="1.5"/><circle cx="594.9" cy="172.8" r="1.5"/><circle cx="595.2" cy="173.5" r="1.5"/><circle cx="595.6" cy="161.2" r="1.5"/><circle cx="596.0" cy="172.6" r="1.5"/><circle cx="596.3" cy="164.9" r="1.5"/><circle cx="596.7" cy="169.6" r="1.5"/><circle cx="597.0" cy="165.5" r="1.5"/><circle cx="597.4" cy="174.3" r="1.5"/><circle cx="597.8" cy="160.9" r="1.5"/><circle cx="598.1" cy="167.3" r="1.5"/><circle cx="598.5" cy="169.5" r="1.5"/><circle cx="598.8" cy="163.7" r="1.5"/><circle cx="599.2" cy="166.5" r="1.5"/><circle cx="599.6" cy="174.0" r="1.5"/><circle cx="599.9" cy="167.7" r="1.5"/><circle cx="600.3" cy="173.1" r="1.5"/><circle cx="600.6" cy="164.5" r="1.5"/><circle cx="601.0" cy="161.8" r="1.5"/><circle cx="601.4" cy="158.2" r="1.5"/><circle cx="601.7" cy="170.5" r="1.5"/><circle cx="602.1" cy="165.3" r="1.5"/><circle cx="602.4" cy="171.1" r="1.5"/><circle cx="602.8" cy="165.7" r="1.5"/><circle cx="603.2" cy="166.1" r="1.5"/><circle cx="603.5" cy="169.9" r="1.5"/><circle cx="603.9" cy="169.7" r="1.5"/><circle cx="604.2" cy="163.8" r="1.5"/><circle cx="604.6" cy="171.5" r="1.5"/><circle cx="605.0" cy="165.1" r="1.5"/><circle cx="605.3" cy="166.2" r="1.5"/><circle cx="605.7" cy="184.4" r="1.5"/><circle cx="606.0" cy="176.0" r="1.5"/><circle cx="606.4" cy="167.5" r="1.5"/><circle cx="606.8" cy="165.2" r="1.5"/><circle cx="607.1" cy="159.6" r="1.5"/><circle cx="607.5" cy="161.0" r="1.5"/><circle cx="607.8" cy="167.4" r="1.5"/><circle cx="608.2" cy="165.3" r="1.5"/><circle cx="608.6" cy="162.5" r="1.5"/><circle cx="608.9" cy="166.0" r="1.5"/><circle cx="609.3" cy="164.1" r="1.5"/><circle cx="609.6" cy="168.2" r="1.5"/><circle cx="610.0" cy="159.8" r="1.5"/><circle cx="610.4" cy="165.0" r="1.5"/><circle cx="610.7" cy="153.9" r="1.5"/><circle cx="611.1" cy="164.0" r="1.5"/><circle cx="611.4" cy="164.7" r="1.5"/><circle cx="611.8" cy="156.6" r="1.5"/><circle cx="612.2" cy="160.0" r="1.5"/><circle cx="612.5" cy="164.7" r="1.5"/><circle cx="612.9" cy="158.3" r="1.5"/><circle cx="613.2" cy="166.6" r="1.5"/><circle cx="613.6" cy="169.6" r="1.5"/><circle cx="614.0" cy="155.8" r="1.5"/><circle cx="614.3" cy="168.9" r="1.5"/><circle cx="614.7" cy="164.4" r="1.5"/><circle cx="615.0" cy="158.7" r="1.5"/><circle cx="615.4" cy="171.2" r="1.5"/><circle cx="615.8" cy="161.7" r="1.5"/><circle cx="616.1" cy="165.3" r="1.5"/><circle cx="616.5" cy="160.0" r="1.5"/><circle cx="616.8" cy="157.9" r="1.5"/><circle cx="617.2" cy="151.8" r="1.5"/><circle cx="617.6" cy="158.1" r="1.5"/><circle cx="617.9" cy="171.8" r="1.5"/><circle cx="618.3" cy="156.5" r="1.5"/><circle cx="618.6" cy="156.8" r="1.5"/><circle cx="619.0" cy="155.9" r="1.5"/><circle cx="619.4" cy="163.5" r="1.5"/><circle cx="619.7" cy="156.2" r="1.5"/><circle cx="620.1" cy="157.2" r="1.5"/><circle cx="620.4" cy="157.0" r="1.5"/><circle cx="620.8" cy="156.5" r="1.5"/><circle cx="621.2" cy="158.8" r="1.5"/><circle cx="621.5" cy="151.9" r="1.5"/><circle cx="621.9" cy="148.3" r="1.5"/><circle cx="622.2" cy="157.9" r="1.5"/><circle cx="622.6" cy="160.7" r="1.5"/><circle cx="623.0" cy="159.6" r="1.5"/><circle cx="623.3" cy="154.3" r="1.5"/><circle cx="623.7" cy="145.9" r="1.5"/><circle cx="624.0" cy="161.3" r="1.5"/><circle cx="624.4" cy="151.3" r="1.5"/><circle cx="624.8" cy="148.0" r="1.5"/><circle cx="625.1" cy="154.7" r="1.5"/><circle cx="625.5" cy="162.7" r="1.5"/><circle cx="625.8" cy="144.3" r="1.5"/><circle cx="626.2" cy="151.3" r="1.5"/><circle cx="626.6" cy="150.3" r="1.5"/><circle cx="626.9" cy="146.8" r="1.5"/><circle cx="627.3" cy="155.8" r="1.5"/><circle cx="627.6" cy="143.2" r="1.5"/><circle cx="628.0" cy="134.8" r="1.5"/><circle cx="628.4" cy="142.3" r="1.5"/><circle cx="628.7" cy="143.5" r="1.5"/><circle cx="629.1" cy="150.3" r="1.5"/><circle cx="629.4" cy="145.8" r="1.5"/><circle cx="629.8" cy="145.9" r="1.5"/><circle cx="630.2" cy="149.6" r="1.5"/><circle cx="630.5" cy="135.1" r="1.5"/><circle cx="630.9" cy="143.9" r="1.5"/><circle cx="631.2" cy="147.3" r="1.5"/><circle cx="631.6" cy="141.5" r="1.5"/><circle cx="632.0" cy="139.4" r="1.5"/><circle cx="632.3" cy="139.7" r="1.5"/><circle cx="632.7" cy="146.4" r="1.5"/><circle cx="633.0" cy="135.9" r="1.5"/><circle cx="633.4" cy="149.3" r="1.5"/><circle cx="633.8" cy="140.1" r="1.5"/><circle cx="634.1" cy="150.4" r="1.5"/><circle cx="634.5" cy="148.9" r="1.5"/><circle cx="634.8" cy="156.1" r="1.5"/><circle cx="635.2" cy="144.2" r="1.5"/><circle cx="635.6" cy="145.5" r="1.5"/><circle cx="635.9" cy="159.5" r="1.5"/><circle cx="636.3" cy="157.6" r="1.5"/><circle cx="636.6" cy="155.4" r="1.5"/><circle cx="637.0" cy="159.1" r="1.5"/><circle cx="637.4" cy="170.0" r="1.5"/><circle cx="637.7" cy="160.4" r="1.5"/><circle cx="638.1" cy="162.1" r="1.5"/><circle cx="638.4" cy="165.1" r="1.5"/><circle cx="638.8" cy="165.2" r="1.5"/><circle cx="639.2" cy="165.5" r="1.5"/><circle cx="639.5" cy="161.7" r="1.5"/><circle cx="639.9" cy="167.0" r="1.5"/><circle cx="640.2" cy="170.5" r="1.5"/><circle cx="640.6" cy="169.2" r="1.5"/><circle cx="641.0" cy="177.1" r="1.5"/><circle cx="641.3" cy="165.5" r="1.5"/><circle cx="641.7" cy="173.0" r="1.5"/><circle cx="642.0" cy="173.2" r="1.5"/><circle cx="642.4" cy="170.8" r="1.5"/><circle cx="642.8" cy="165.7" r="1.5"/><circle cx="643.1" cy="168.3" r="1.5"/><circle cx="643.5" cy="161.5" r="1.5"/><circle cx="643.8" cy="168.4" r="1.5"/><circle cx="644.2" cy="165.2" r="1.5"/><circle cx="644.6" cy="181.1" r="1.5"/><circle cx="644.9" cy="173.0" r="1.5"/><circle cx="645.3" cy="175.9" r="1.5"/><circle cx="645.6" cy="164.6" r="1.5"/><circle cx="646.0" cy="170.2" r="1.5"/><circle cx="646.4" cy="165.5" r="1.5"/><circle cx="646.7" cy="171.0" r="1.5"/><circle cx="647.1" cy="181.9" r="1.5"/><circle cx="647.4" cy="179.0" r="1.5"/><circle cx="647.8" cy="176.5" r="1.5"/><circle cx="648.2" cy="169.2" r="1.5"/><circle cx="648.5" cy="183.7" r="1.5"/><circle cx="648.9" cy="175.9" r="1.5"/><circle cx="649.2" cy="165.2" r="1.5"/><circle cx="649.6" cy="176.5" r="1.5"/><circle cx="650.0" cy="180.4" r="1.5"/><circle cx="650.3" cy="178.4" r="1.5"/><circle cx="650.7" cy="170.9" r="1.5"/><circle cx="651.0" cy="165.8" r="1.5"/><circle cx="651.4" cy="174.2" r="1.5"/><circle cx="651.8" cy="171.8" r="1.5"/><circle cx="652.1" cy="181.2" r="1.5"/><circle cx="652.5" cy="180.8" r="1.5"/><circle cx="652.8" cy="177.3" r="1.5"/><circle cx="653.2" cy="176.7" r="1.5"/><circle cx="653.6" cy="170.8" r="1.5"/><circle cx="653.9" cy="183.7" r="1.5"/><circle cx="654.3" cy="173.2" r="1.5"/><circle cx="654.6" cy="172.7" r="1.5"/><circle cx="655.0" cy="183.3" r="1.5"/><circle cx="655.4" cy="175.6" r="1.5"/><circle cx="655.7" cy="181.4" r="1.5"/><circle cx="656.1" cy="173.7" r="1.5"/><circle cx="656.4" cy="172.9" r="1.5"/><circle cx="656.8" cy="184.9" r="1.5"/><circle cx="657.2" cy="178.6" r="1.5"/></g>
<g fill="#ff0000"><circle cx="532.8" cy="237.2" r="1.75"/><circle cx="534.6" cy="232.4" r="1.75"/><circle cx="536.4" cy="235.9" r="1.75"/><circle cx="538.1" cy="240.5" r="1.75"/><circle cx="539.9" cy="240.5" r="1.75"/><circle cx="541.7" cy="240.9" r="1.75"/><circle cx="543.5" cy="244.5" r="1.75"/><circle cx="545.3" cy="245.8" r="1.75"/><circle cx="547.0" cy="246.5" r="1.75"/><circle cx="548.8" cy="247.6" r="1.75"/><circle cx="550.6" cy="251.1" r="1.75"/><circle cx="552.4" cy="250.6" r="1.75"/><circle cx="554.2" cy="247.6" r="1.75"/><circle cx="555.9" cy="253.9" r="1.75"/><circle cx="557.7" cy="255.2" r="1.75"/><circle cx="559.5" cy="257.3" r="1.75"/><circle cx="561.3" cy="260.0" r="1.75"/><circle cx="563.1" cy="260.3" r="1.75"/><circle cx="564.8" cy="262.6" r="1.75"/><circle cx="566.6" cy="263.3" r="1.75"/><circle cx="568.4" cy="260.3" r="1.75"/><circle cx="570.2" cy="260.6" r="1.75"/><circle cx="572.0" cy="261.4" r="1.75"/><circle cx="573.7" cy="260.8" r="1.75"/><circle cx="575.5" cy="259.2" r="1.75"/><circle cx="577.3" cy="258.7" r="1.75"/><circle cx="579.1" cy="258.1" r="1.75"/><circle cx="580.9" cy="255.8" r="1.75"/><circle cx="582.6" cy="258.1" r="1.75"/><circle cx="584.4" cy="257.7" r="1.75"/><circle cx="586.2" cy="255.8" r="1.75"/><circle cx="588.0" cy="255.5" r="1.75"/><circle cx="589.8" cy="255.3" r="1.75"/><circle cx="591.5" cy="257.2" r="1.75"/><circle cx="593.3" cy="251.9" r="1.75"/><circle cx="595.1" cy="254.7" r="1.75"/><circle cx="596.9" cy="252.6" r="1.75"/><circle cx="598.7" cy="256.9" r="1.75"/><circle cx="600.4" cy="253.7" r="1.75"/><circle cx="602.2" cy="252.2" r="1.75"/><circle cx="604.0" cy="254.7" r="1.75"/><circle cx="605.8" cy="251.8" r="1.75"/><circle cx="607.6" cy="253.1" r="1.75"/><circle cx="609.3" cy="251.9" r="1.75"/><circle cx="611.1" cy="255.9" r="1.75"/><circle cx="612.9" cy="254.5" r="1.75"/><circle cx="614.7" cy="254.7" r="1.75"/><circle cx="616.5" cy="255.0" r="1.75"/><circle cx="618.2" cy="254.1" r="1.75"/><circle cx="620.0" cy="258.3" r="1.75"/><circle cx="621.8" cy="259.8" r="1.75"/><circle cx="623.6" cy="259.9" r="1.75"/><circle cx="625.4" cy="269.3" r="1.75"/><circle cx="627.1" cy="268.5" r="1.75"/><circle cx="628.9" cy="270.9" r="1.75"/><circle cx="630.7" cy="276.8" r="1.75"/><circle cx="632.5" cy="276.8" r="1.75"/><circle cx="634.3" cy="276.4" r="1.75"/><circle cx="636.0" cy="280.5" r="1.75"/><circle cx="637.8" cy="281.4" r="1.75"/><circle cx="639.6" cy="280.0" r="1.75"/><circle cx="641.4" cy="282.8" r="1.75"/><circle cx="643.2" cy="282.7" r="1.75"/><circle cx="644.9" cy="283.8" r="1.75"/><circle cx="646.7" cy="285.1" r="1.75"/><circle cx="648.5" cy="279.0" r="1.75"/><circle cx="650.3" cy="277.5" r="1.75"/><circle cx="652.1" cy="274.9" r="1.75"/><circle cx="653.8" cy="268.5" r="1.75"/><circle cx="655.6" cy="264.6" r="1.75"/><circle cx="657.4" cy="259.7" r="1.75"/></g>
<rect x="15.0" y="2.8" width="143.10" height="286.50" fill="none" stroke="#1e1e1e" stroke-width="1.4"/>
<path d="M158.10 289.30v5.0 M146.17 289.30v2.6 M134.25 289.30v2.6 M122.32 289.30v2.6 M110.40 289.30v5.0 M98.48 289.30v2.6 M86.55 289.30v2.6 M74.62 289.30v2.6 M62.70 289.30v5.0 M50.77 289.30v2.6 M38.85 289.30v2.6 M26.92 289.30v2.6 M15.00 289.30v5.0" stroke="#1e1e1e" stroke-width="1.4" fill="none"/>
<text x="15.00" y="308.40" font-size="10.5" text-anchor="middle" fill="#1a1a1a">168</text>
<text x="62.70" y="308.40" font-size="10.5" text-anchor="middle" fill="#1a1a1a">164</text>
<text x="110.40" y="308.40" font-size="10.5" text-anchor="middle" fill="#1a1a1a">160</text>
<text x="158.10" y="308.40" font-size="10.5" text-anchor="middle" fill="#1a1a1a">156</text>
<rect x="181.9" y="2.8" width="143.00" height="286.50" fill="none" stroke="#1e1e1e" stroke-width="1.4"/>
<path d="M324.90 289.30v5.0 M319.18 289.30v2.6 M313.46 289.30v2.6 M307.74 289.30v2.6 M302.02 289.30v2.6 M296.30 289.30v5.0 M290.58 289.30v2.6 M284.86 289.30v2.6 M279.14 289.30v2.6 M273.42 289.30v2.6 M267.70 289.30v5.0 M261.98 289.30v2.6 M256.26 289.30v2.6 M250.54 289.30v2.6 M244.82 289.30v2.6 M239.10 289.30v5.0 M233.38 289.30v2.6 M227.66 289.30v2.6 M221.94 289.30v2.6 M216.22 289.30v2.6 M210.50 289.30v5.0 M204.78 289.30v2.6 M199.06 289.30v2.6 M193.34 289.30v2.6 M187.62 289.30v2.6 M181.90 289.30v5.0" stroke="#1e1e1e" stroke-width="1.4" fill="none"/>
<text x="181.90" y="308.40" font-size="10.5" text-anchor="middle" fill="#1a1a1a">730</text>
<text x="210.50" y="308.40" font-size="10.5" text-anchor="middle" fill="#1a1a1a">725</text>
<text x="239.10" y="308.40" font-size="10.5" text-anchor="middle" fill="#1a1a1a">720</text>
<text x="267.70" y="308.40" font-size="10.5" text-anchor="middle" fill="#1a1a1a">715</text>
<text x="296.30" y="308.40" font-size="10.5" text-anchor="middle" fill="#1a1a1a">710</text>
<text x="324.90" y="308.40" font-size="10.5" text-anchor="middle" fill="#1a1a1a">705</text>
<rect x="348.8" y="2.8" width="143.20" height="286.50" fill="none" stroke="#1e1e1e" stroke-width="1.4"/>
<path d="M492.00 289.30v5.0 M477.68 289.30v2.6 M463.36 289.30v5.0 M449.04 289.30v2.6 M434.72 289.30v5.0 M420.40 289.30v2.6 M406.08 289.30v5.0 M391.76 289.30v2.6 M377.44 289.30v5.0 M363.12 289.30v2.6 M348.80 289.30v5.0" stroke="#1e1e1e" stroke-width="1.4" fill="none"/>
<text x="348.80" y="308.40" font-size="10.5" text-anchor="middle" fill="#1a1a1a">536</text>
<text x="377.44" y="308.40" font-size="10.5" text-anchor="middle" fill="#1a1a1a">534</text>
<text x="406.08" y="308.40" font-size="10.5" text-anchor="middle" fill="#1a1a1a">532</text>
<text x="434.72" y="308.40" font-size="10.5" text-anchor="middle" fill="#1a1a1a">530</text>
<text x="463.36" y="308.40" font-size="10.5" text-anchor="middle" fill="#1a1a1a">528</text>
<text x="492.00" y="308.40" font-size="10.5" text-anchor="middle" fill="#1a1a1a">526</text>
<rect x="515.9" y="26.8" width="143.10" height="71.60" fill="none" stroke="#1e1e1e" stroke-width="1.4"/>
<path d="M659.00 98.40v5.0 M655.42 98.40v2.6 M651.85 98.40v2.6 M648.27 98.40v2.6 M644.69 98.40v2.6 M641.11 98.40v2.6 M637.53 98.40v2.6 M633.96 98.40v2.6 M630.38 98.40v2.6 M626.80 98.40v2.6 M623.23 98.40v5.0 M619.65 98.40v2.6 M616.07 98.40v2.6 M612.49 98.40v2.6 M608.91 98.40v2.6 M605.34 98.40v2.6 M601.76 98.40v2.6 M598.18 98.40v2.6 M594.61 98.40v2.6 M591.03 98.40v2.6 M587.45 98.40v5.0 M583.87 98.40v2.6 M580.29 98.40v2.6 M576.72 98.40v2.6 M573.14 98.40v2.6 M569.56 98.40v2.6 M565.99 98.40v2.6 M562.41 98.40v2.6 M558.83 98.40v2.6 M555.25 98.40v2.6 M551.67 98.40v5.0 M548.10 98.40v2.6 M544.52 98.40v2.6 M540.94 98.40v2.6 M537.37 98.40v2.6 M533.79 98.40v2.6 M530.21 98.40v2.6 M526.63 98.40v2.6 M523.05 98.40v2.6 M519.48 98.40v2.6 M515.90 98.40v2.6" stroke="#1e1e1e" stroke-width="1.4" fill="none"/>
<text x="551.67" y="117.50" font-size="10.5" text-anchor="middle" fill="#1a1a1a">850</text>
<text x="587.45" y="117.50" font-size="10.5" text-anchor="middle" fill="#1a1a1a">840</text>
<text x="623.23" y="117.50" font-size="10.5" text-anchor="middle" fill="#1a1a1a">830</text>
<text x="659.00" y="117.50" font-size="10.5" text-anchor="middle" fill="#1a1a1a">820</text>
<rect x="515.9" y="122.2" width="142.90" height="71.30" fill="none" stroke="#1e1e1e" stroke-width="1.4"/>
<path d="M658.80 193.50v2.6 M655.94 193.50v2.6 M653.08 193.50v2.6 M650.23 193.50v2.6 M647.37 193.50v2.6 M644.51 193.50v5.0 M641.65 193.50v2.6 M638.79 193.50v2.6 M635.94 193.50v2.6 M633.08 193.50v2.6 M630.22 193.50v2.6 M627.36 193.50v2.6 M624.50 193.50v2.6 M621.65 193.50v2.6 M618.79 193.50v2.6 M615.93 193.50v5.0 M613.07 193.50v2.6 M610.21 193.50v2.6 M607.36 193.50v2.6 M604.50 193.50v2.6 M601.64 193.50v2.6 M598.78 193.50v2.6 M595.92 193.50v2.6 M593.07 193.50v2.6 M590.21 193.50v2.6 M587.35 193.50v5.0 M584.49 193.50v2.6 M581.63 193.50v2.6 M578.78 193.50v2.6 M575.92 193.50v2.6 M573.06 193.50v2.6 M570.20 193.50v2.6 M567.34 193.50v2.6 M564.49 193.50v2.6 M561.63 193.50v2.6 M558.77 193.50v5.0 M555.91 193.50v2.6 M553.05 193.50v2.6 M550.20 193.50v2.6 M547.34 193.50v2.6 M544.48 193.50v2.6 M541.62 193.50v2.6 M538.76 193.50v2.6 M535.91 193.50v2.6 M533.05 193.50v2.6 M530.19 193.50v5.0 M527.33 193.50v2.6 M524.47 193.50v2.6 M521.62 193.50v2.6 M518.76 193.50v2.6 M515.90 193.50v2.6" stroke="#1e1e1e" stroke-width="1.4" fill="none"/>
<text x="530.19" y="212.60" font-size="10.5" text-anchor="middle" fill="#1a1a1a">1170</text>
<text x="558.77" y="212.60" font-size="10.5" text-anchor="middle" fill="#1a1a1a">1160</text>
<text x="587.35" y="212.60" font-size="10.5" text-anchor="middle" fill="#1a1a1a">1150</text>
<text x="615.93" y="212.60" font-size="10.5" text-anchor="middle" fill="#1a1a1a">1140</text>
<text x="644.51" y="212.60" font-size="10.5" text-anchor="middle" fill="#1a1a1a">1130</text>
<rect x="515.9" y="217.8" width="142.90" height="71.50" fill="none" stroke="#1e1e1e" stroke-width="1.4"/>
<path d="M658.80 289.30v5.0 M655.23 289.30v2.6 M651.65 289.30v2.6 M648.08 289.30v2.6 M644.51 289.30v2.6 M640.94 289.30v2.6 M637.37 289.30v2.6 M633.79 289.30v2.6 M630.22 289.30v2.6 M626.65 289.30v2.6 M623.07 289.30v5.0 M619.50 289.30v2.6 M615.93 289.30v2.6 M612.36 289.30v2.6 M608.78 289.30v2.6 M605.21 289.30v2.6 M601.64 289.30v2.6 M598.07 289.30v2.6 M594.50 289.30v2.6 M590.92 289.30v2.6 M587.35 289.30v5.0 M583.78 289.30v2.6 M580.20 289.30v2.6 M576.63 289.30v2.6 M573.06 289.30v2.6 M569.49 289.30v2.6 M565.92 289.30v2.6 M562.34 289.30v2.6 M558.77 289.30v2.6 M555.20 289.30v2.6 M551.62 289.30v5.0 M548.05 289.30v2.6 M544.48 289.30v2.6 M540.91 289.30v2.6 M537.33 289.30v2.6 M533.76 289.30v2.6 M530.19 289.30v2.6 M526.62 289.30v2.6 M523.05 289.30v2.6 M519.47 289.30v2.6 M515.90 289.30v5.0" stroke="#1e1e1e" stroke-width="1.4" fill="none"/>
<text x="515.90" y="308.40" font-size="10.5" text-anchor="middle" fill="#1a1a1a">174</text>
<text x="551.62" y="308.40" font-size="10.5" text-anchor="middle" fill="#1a1a1a">172</text>
<text x="587.35" y="308.40" font-size="10.5" text-anchor="middle" fill="#1a1a1a">170</text>
<text x="623.07" y="308.40" font-size="10.5" text-anchor="middle" fill="#1a1a1a">168</text>
<text x="658.80" y="308.40" font-size="10.5" text-anchor="middle" fill="#1a1a1a">166</text>
<text x="17" y="18.2" font-size="13" font-weight="bold" fill="#1a1a1a">(a)</text>
<text x="184.5" y="18.2" font-size="13" font-weight="bold" fill="#1a1a1a">(b)</text>
<text x="351.3" y="18.2" font-size="13" font-weight="bold" fill="#1a1a1a">(c)</text>
<text x="518.6" y="42.2" font-size="13" font-weight="bold" fill="#1a1a1a">(d)</text>
<text x="518.6" y="137.3" font-size="13" font-weight="bold" fill="#1a1a1a">(e)</text>
<text x="518.6" y="232.9" font-size="13" font-weight="bold" fill="#1a1a1a">(f)</text>
<text x="86.55" y="320.2" font-size="10.5" font-weight="bold" text-anchor="middle" fill="#1a1a1a">Binding Energy / eV</text>
<text x="253.40" y="320.2" font-size="10.5" font-weight="bold" text-anchor="middle" fill="#1a1a1a">Binding Energy / eV</text>
<text x="420.40" y="320.2" font-size="10.5" font-weight="bold" text-anchor="middle" fill="#1a1a1a">Binding Energy / eV</text>
<text x="587.35" y="320.2" font-size="10.5" font-weight="bold" text-anchor="middle" fill="#1a1a1a">Binding Energy / eV</text>
<text transform="translate(10.0,145.4) rotate(-90)" x="0" y="0" font-size="10.5" font-weight="bold" text-anchor="middle" fill="#1a1a1a">Photoelectron Intensity / arb. units</text>
<text transform="translate(177.0,145.4) rotate(-90)" x="0" y="0" font-size="10.5" font-weight="bold" text-anchor="middle" fill="#1a1a1a">Photoelectron Intensity / arb. units</text>
<text transform="translate(344.0,145.4) rotate(-90)" x="0" y="0" font-size="10.5" font-weight="bold" text-anchor="middle" fill="#1a1a1a">Photoelectron Intensity / arb. units</text>
<text transform="translate(510.8,157.6) rotate(-90)" x="0" y="0" font-size="10.5" font-weight="bold" text-anchor="middle" fill="#1a1a1a">Photoelectron Intensity / arb. units</text>
<text x="16.6" y="93.8" font-size="9" font-weight="bold" fill="#000000">BFO</text>
<text x="16.3" y="146.1" font-size="9" font-weight="bold" fill="#a00000">BLaFO</text>
<text x="16.5" y="220" font-size="9" font-weight="bold" fill="#0000f0">BEuFO</text>
<text x="16.6" y="283.6" font-size="9" font-weight="bold" fill="#ff0000">BErFO</text>
<text x="183.4" y="53.8" font-size="9" font-weight="bold" fill="#000000">BFO</text>
<text x="183.4" y="117.2" font-size="9" font-weight="bold" fill="#a00000">BLaFO</text>
<text x="183.4" y="184.5" font-size="9" font-weight="bold" fill="#0000f0">BEuFO</text>
<text x="184.2" y="246.1" font-size="9" font-weight="bold" fill="#ff0000">BErFO</text>
<text x="350.3" y="101.3" font-size="9" font-weight="bold" fill="#000000">BFO</text>
<text x="350.4" y="160.1" font-size="9" font-weight="bold" fill="#a00000">BLaFO</text>
<text x="350.4" y="228" font-size="9" font-weight="bold" fill="#0000f0">BEuFO</text>
<text x="350.3" y="286.7" font-size="9" font-weight="bold" fill="#ff0000">BErFO</text>
<text x="517.2" y="79.6" font-size="9" font-weight="bold" fill="#a00000">BLaFO</text>
<text x="517.2" y="177.6" font-size="9" font-weight="bold" fill="#0000f0">BEuFO</text>
<text x="517.4" y="284.6" font-size="9" font-weight="bold" fill="#ff0000">BErFO</text>
<text x="86.5" y="256.8" font-size="9" font-weight="bold" fill="#1a1a1a">Bi<tspan font-size="5.5" dy="2">2</tspan><tspan dy="-2">O</tspan><tspan font-size="5.5" dy="2">3</tspan></text>
<path d="M98.8 261.0L113.5 277.7M108.6 275.9L113.5 277.7L112.3 272.6" stroke="#111" stroke-width="0.8" fill="none"/>
<text x="136.3" y="246.8" font-size="9" font-weight="bold" fill="#1a1a1a">BFO</text>
<path d="M141.8 250.0L128.3 258.6M130.8 254.0L128.3 258.6L133.5 258.2" stroke="#111" stroke-width="0.8" fill="none"/>
<text x="306.2" y="230.8" font-size="9" font-weight="bold" fill="#1a1a1a">Fe<tspan font-size="5.4" dy="-3.6">2+</tspan></text>
<path d="M314.5 232.8L297.9 243.9M300.3 239.3L297.9 243.9L303.1 243.4" stroke="#111" stroke-width="0.8" fill="none"/>
<text x="262.3" y="269.8" font-size="9" font-weight="bold" fill="#1a1a1a">Fe<tspan font-size="5.4" dy="-3.6">3+</tspan></text>
<path d="M270.2 262.2L281.8 246.5M281.1 251.7L281.8 246.5L277.1 248.7" stroke="#111" stroke-width="0.8" fill="none"/>
<text x="386.8" y="239.5" font-size="9" font-weight="bold" fill="#1a1a1a">O<tspan font-size="5.5" dy="2">v</tspan><tspan dy="-2">/Bi-O</tspan></text>
<path d="M408.5 241.1L421.0 256.2M416.1 254.3L421.0 256.2L420.0 251.1" stroke="#111" stroke-width="0.8" fill="none"/>
<text x="377.8" y="259.3" font-size="9" font-weight="bold" fill="#1a1a1a">C-O</text>
<path d="M386.0 261.0L401.5 271.5M396.3 271.0L401.5 271.5L399.1 266.9" stroke="#111" stroke-width="0.8" fill="none"/>
<text x="465.3" y="247" font-size="9" font-weight="bold" fill="#1a1a1a">O<tspan font-size="5.5" dy="2">L</tspan></text>
<path d="M469.0 249.5L446.0 257.5M449.5 253.6L446.0 257.5L451.2 258.4" stroke="#111" stroke-width="0.8" fill="none"/>
<text x="608.4" y="39.0" font-size="9" font-weight="bold" fill="#1a1a1a">La<tspan font-size="5.4" dy="-3.6">3+</tspan></text>
<path d="M616.1 40.7L598.4 66.9M598.9 61.7L598.4 66.9L603.0 64.5" stroke="#111" stroke-width="0.8" fill="none"/>
<text x="608.0" y="140.8" font-size="9" font-weight="bold" fill="#1a1a1a">Eu<tspan font-size="5.4" dy="-3.6">3+</tspan></text>
<path d="M617.2 142.7L630.7 162.5M626.0 160.1L630.7 162.5L630.2 157.3" stroke="#111" stroke-width="0.8" fill="none"/>
<text x="623.4" y="239.9" font-size="9" font-weight="bold" fill="#1a1a1a">Er<tspan font-size="5.4" dy="-3.6">3+</tspan></text>
<path d="M630.4 242.7L613.4 267.4M613.9 262.2L613.4 267.4L618.1 265.0" stroke="#111" stroke-width="0.8" fill="none"/>
</svg>
</body></html>
